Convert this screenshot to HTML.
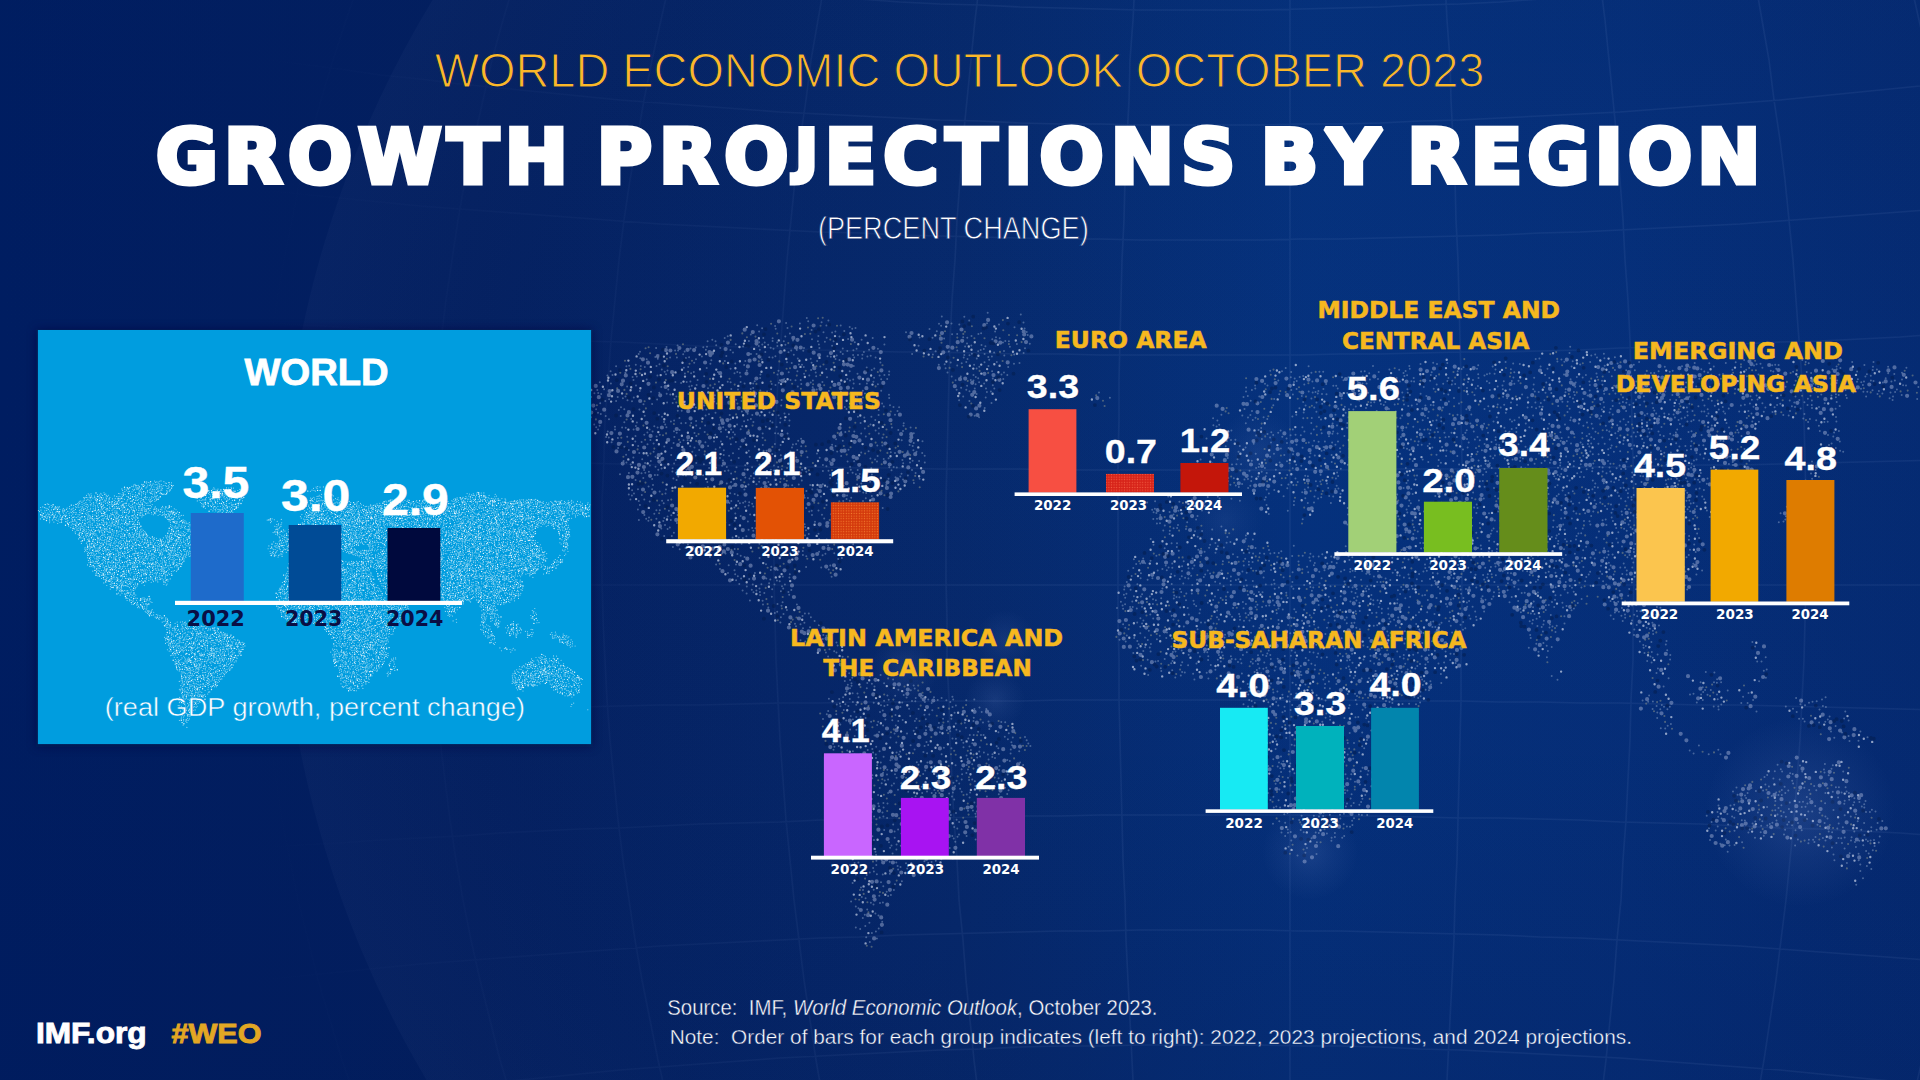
<!DOCTYPE html>
<html lang="en"><head><meta charset="utf-8"><title>Growth Projections by Region</title>
<style>html,body{margin:0;padding:0;background:#05246a;}body{width:1920px;height:1080px;overflow:hidden}svg{display:block}text{white-space:pre}</style>
</head><body>
<svg width="1920" height="1080" viewBox="0 0 1920 1080" font-family="Liberation Sans, sans-serif">
<defs>
<linearGradient id="bgu" gradientUnits="userSpaceOnUse" x1="0" y1="0" x2="1920" y2="0"><stop offset="0" stop-color="#001d61"/><stop offset="0.25" stop-color="#031f5f"/><stop offset="0.5" stop-color="#06296c"/><stop offset="0.68" stop-color="#05327e"/><stop offset="0.85" stop-color="#052f7a"/><stop offset="1" stop-color="#042a72"/></linearGradient>
<linearGradient id="bgv" gradientUnits="userSpaceOnUse" x1="0" y1="0" x2="0" y2="1080">
<stop offset="0" stop-color="#00205f" stop-opacity="0.12"/><stop offset="0.35" stop-color="#00205f" stop-opacity="0"/><stop offset="0.7" stop-color="#011a58" stop-opacity="0.1"/><stop offset="1" stop-color="#011a58" stop-opacity="0.3"/>
</linearGradient>
<radialGradient id="globe" gradientUnits="userSpaceOnUse" cx="1330" cy="545" r="1050">
<stop offset="0" stop-color="#3a5a9a" stop-opacity="0"/><stop offset="0.8" stop-color="#3a5a9a" stop-opacity="0.03"/><stop offset="1" stop-color="#4a639a" stop-opacity="0.075"/>
</radialGradient>
<radialGradient id="glow"><stop offset="0" stop-color="#8fa8e8" stop-opacity="1"/><stop offset="0.5" stop-color="#8fa8e8" stop-opacity="0.45"/><stop offset="1" stop-color="#8fa8e8" stop-opacity="0"/></radialGradient>
<pattern id="dp1" width="2.6" height="2.6" patternUnits="userSpaceOnUse"><rect width="2.6" height="2.6" fill="#D43A0D"/><circle cx="1.3" cy="1.3" r="0.62" fill="#F27A2C"/></pattern>
<pattern id="dp2" width="2.6" height="2.6" patternUnits="userSpaceOnUse"><rect width="2.6" height="2.6" fill="#D7241A"/><circle cx="1.3" cy="1.3" r="0.62" fill="#F25A40"/></pattern>
<filter id="bsh" x="-10%" y="-10%" width="120%" height="120%"><feGaussianBlur stdDeviation="5"/></filter>
<linearGradient id="gratfade" gradientUnits="userSpaceOnUse" x1="250" y1="0" x2="1000" y2="0">
<stop offset="0" stop-color="#9fb6e8" stop-opacity="0"/><stop offset="1" stop-color="#9fb6e8" stop-opacity="0.075"/>
</linearGradient>
<clipPath id="tclip"><rect x="0" y="100" width="1920" height="86.4"/></clipPath>
</defs>
<rect width="1920" height="1080" fill="url(#bgu)"/>
<rect width="1920" height="1080" fill="url(#bgv)"/>
<circle cx="1330" cy="545" r="1050" fill="url(#globe)"/>
<path d="M50 -20 L31 20 L14 60 L-2 100 L-16 140 L-29 180 L-41 220 L-52 260 L-61 300 L-68 340 L-74 380 L-79 420 L-83 460 L-85 500 L-86 540 L-85 580 L-84 620 L-80 660 L-76 700 L-70 740 L-63 780 L-54 820 L-44 860 L-32 900 L-20 940 L-6 980 L10 1020 L27 1060 L45 1100M205 -20 L188 20 L173 60 L160 100 L147 140 L136 180 L125 220 L116 260 L108 300 L102 340 L96 380 L92 420 L89 460 L87 500 L86 540 L86 580 L88 620 L91 660 L95 700 L100 740 L107 780 L114 820 L123 860 L133 900 L144 940 L156 980 L170 1020 L185 1060 L200 1100M360 -20 L346 20 L333 60 L321 100 L310 140 L300 180 L292 220 L284 260 L277 300 L271 340 L267 380 L263 420 L260 460 L259 500 L258 540 L258 580 L260 620 L262 660 L266 700 L270 740 L276 780 L282 820 L290 860 L298 900 L308 940 L318 980 L330 1020 L342 1060 L356 1100M515 -20 L503 20 L492 60 L483 100 L474 140 L465 180 L458 220 L452 260 L446 300 L441 340 L437 380 L434 420 L432 460 L431 500 L430 540 L430 580 L431 620 L434 660 L436 700 L440 740 L445 780 L450 820 L456 860 L463 900 L471 940 L480 980 L490 1020 L500 1060 L512 1100M670 -20 L661 20 L652 60 L644 100 L637 140 L630 180 L624 220 L619 260 L615 300 L611 340 L608 380 L605 420 L604 460 L602 500 L602 540 L602 580 L603 620 L605 660 L607 700 L610 740 L614 780 L618 820 L623 860 L629 900 L635 940 L642 980 L650 1020 L658 1060 L667 1100M825 -20 L818 20 L811 60 L806 100 L800 140 L795 180 L791 220 L787 260 L784 300 L781 340 L778 380 L776 420 L775 460 L774 500 L774 540 L774 580 L775 620 L776 660 L778 700 L780 740 L783 780 L786 820 L790 860 L794 900 L799 940 L804 980 L810 1020 L816 1060 L823 1100M980 -20 L975 20 L971 60 L967 100 L963 140 L960 180 L957 220 L955 260 L952 300 L950 340 L949 380 L948 420 L947 460 L946 500 L946 540 L946 580 L947 620 L947 660 L949 700 L950 740 L952 780 L954 820 L957 860 L959 900 L963 940 L966 980 L970 1020 L974 1060 L979 1100M1135 -20 L1133 20 L1130 60 L1129 100 L1127 140 L1125 180 L1124 220 L1122 260 L1121 300 L1120 340 L1119 380 L1119 420 L1118 460 L1118 500 L1118 540 L1118 580 L1118 620 L1119 660 L1119 700 L1120 740 L1121 780 L1122 820 L1123 860 L1125 900 L1126 940 L1128 980 L1130 1020 L1132 1060 L1134 1100M1290 -20 L1290 20 L1290 60 L1290 100 L1290 140 L1290 180 L1290 220 L1290 260 L1290 300 L1290 340 L1290 380 L1290 420 L1290 460 L1290 500 L1290 540 L1290 580 L1290 620 L1290 660 L1290 700 L1290 740 L1290 780 L1290 820 L1290 860 L1290 900 L1290 940 L1290 980 L1290 1020 L1290 1060 L1290 1100M1445 -20 L1447 20 L1450 60 L1451 100 L1453 140 L1455 180 L1456 220 L1458 260 L1459 300 L1460 340 L1461 380 L1461 420 L1462 460 L1462 500 L1462 540 L1462 580 L1462 620 L1461 660 L1461 700 L1460 740 L1459 780 L1458 820 L1457 860 L1455 900 L1454 940 L1452 980 L1450 1020 L1448 1060 L1446 1100M1600 -20 L1605 20 L1609 60 L1613 100 L1617 140 L1620 180 L1623 220 L1625 260 L1628 300 L1630 340 L1631 380 L1632 420 L1633 460 L1634 500 L1634 540 L1634 580 L1633 620 L1633 660 L1631 700 L1630 740 L1628 780 L1626 820 L1623 860 L1621 900 L1617 940 L1614 980 L1610 1020 L1606 1060 L1601 1100M1755 -20 L1762 20 L1769 60 L1774 100 L1780 140 L1785 180 L1789 220 L1793 260 L1796 300 L1799 340 L1802 380 L1804 420 L1805 460 L1806 500 L1806 540 L1806 580 L1805 620 L1804 660 L1802 700 L1800 740 L1797 780 L1794 820 L1790 860 L1786 900 L1781 940 L1776 980 L1770 1020 L1764 1060 L1757 1100M1910 -20 L1919 20 L1928 60 L1936 100 L1943 140 L1950 180 L1956 220 L1961 260 L1965 300 L1969 340 L1972 380 L1975 420 L1976 460 L1978 500 L1978 540 L1978 580 L1977 620 L1975 660 L1973 700 L1970 740 L1966 780 L1962 820 L1957 860 L1951 900 L1945 940 L1938 980 L1930 1020 L1922 1060 L1913 1100M-20 -130 L20 -121 L60 -112 L100 -104 L140 -95 L180 -88 L220 -80 L260 -73 L300 -66 L340 -59 L380 -53 L420 -47 L460 -41 L500 -36 L540 -31 L580 -26 L620 -22 L660 -17 L700 -13 L740 -10 L780 -7 L820 -4 L860 -1 L900 2 L940 4 L980 5 L1020 7 L1060 8 L1100 9 L1140 10 L1180 10 L1220 10 L1260 10 L1300 9 L1340 8 L1380 7 L1420 5 L1460 4 L1500 2 L1540 -1 L1580 -4 L1620 -7 L1660 -10 L1700 -13 L1740 -17 L1780 -22 L1820 -26 L1860 -31 L1900 -36 L1940 -41M-20 13 L20 20 L60 27 L100 34 L140 41 L180 47 L220 53 L260 59 L300 64 L340 69 L380 75 L420 79 L460 84 L500 88 L540 92 L580 96 L620 100 L660 103 L700 106 L740 109 L780 112 L820 114 L860 116 L900 118 L940 120 L980 121 L1020 123 L1060 124 L1100 124 L1140 125 L1180 125 L1220 125 L1260 125 L1300 124 L1340 124 L1380 123 L1420 121 L1460 120 L1500 118 L1540 116 L1580 114 L1620 112 L1660 109 L1700 106 L1740 103 L1780 100 L1820 96 L1860 92 L1900 88 L1940 84M-20 156 L20 162 L60 167 L100 172 L140 177 L180 181 L220 186 L260 190 L300 194 L340 198 L380 202 L420 206 L460 209 L500 212 L540 215 L580 218 L620 221 L660 224 L700 226 L740 228 L780 230 L820 232 L860 233 L900 235 L940 236 L980 237 L1020 238 L1060 239 L1100 239 L1140 240 L1180 240 L1220 240 L1260 240 L1300 239 L1340 239 L1380 238 L1420 237 L1460 236 L1500 235 L1540 233 L1580 232 L1620 230 L1660 228 L1700 226 L1740 224 L1780 221 L1820 218 L1860 215 L1900 212 L1940 209M-20 299 L20 303 L60 306 L100 310 L140 313 L180 316 L220 319 L260 322 L300 325 L340 327 L380 330 L420 332 L460 334 L500 337 L540 339 L580 341 L620 342 L660 344 L700 346 L740 347 L780 348 L820 350 L860 351 L900 352 L940 352 L980 353 L1020 354 L1060 354 L1100 355 L1140 355 L1180 355 L1220 355 L1260 355 L1300 355 L1340 354 L1380 354 L1420 353 L1460 352 L1500 352 L1540 351 L1580 350 L1620 348 L1660 347 L1700 346 L1740 344 L1780 342 L1820 341 L1860 339 L1900 337 L1940 334M-20 442 L20 444 L60 446 L100 447 L140 449 L180 450 L220 452 L260 453 L300 455 L340 456 L380 457 L420 459 L460 460 L500 461 L540 462 L580 463 L620 464 L660 465 L700 465 L740 466 L780 467 L820 467 L860 468 L900 468 L940 469 L980 469 L1020 469 L1060 470 L1100 470 L1140 470 L1180 470 L1220 470 L1260 470 L1300 470 L1340 470 L1380 469 L1420 469 L1460 469 L1500 468 L1540 468 L1580 467 L1620 467 L1660 466 L1700 465 L1740 465 L1780 464 L1820 463 L1860 462 L1900 461 L1940 460M-20 585 L20 585 L60 585 L100 585 L140 585 L180 585 L220 585 L260 585 L300 585 L340 585 L380 585 L420 585 L460 585 L500 585 L540 585 L580 585 L620 585 L660 585 L700 585 L740 585 L780 585 L820 585 L860 585 L900 585 L940 585 L980 585 L1020 585 L1060 585 L1100 585 L1140 585 L1180 585 L1220 585 L1260 585 L1300 585 L1340 585 L1380 585 L1420 585 L1460 585 L1500 585 L1540 585 L1580 585 L1620 585 L1660 585 L1700 585 L1740 585 L1780 585 L1820 585 L1860 585 L1900 585 L1940 585M-20 728 L20 726 L60 724 L100 723 L140 721 L180 720 L220 718 L260 717 L300 715 L340 714 L380 713 L420 711 L460 710 L500 709 L540 708 L580 707 L620 706 L660 705 L700 705 L740 704 L780 703 L820 703 L860 702 L900 702 L940 701 L980 701 L1020 701 L1060 700 L1100 700 L1140 700 L1180 700 L1220 700 L1260 700 L1300 700 L1340 700 L1380 701 L1420 701 L1460 701 L1500 702 L1540 702 L1580 703 L1620 703 L1660 704 L1700 705 L1740 705 L1780 706 L1820 707 L1860 708 L1900 709 L1940 710M-20 871 L20 867 L60 864 L100 860 L140 857 L180 854 L220 851 L260 848 L300 845 L340 843 L380 840 L420 838 L460 836 L500 833 L540 831 L580 829 L620 828 L660 826 L700 824 L740 823 L780 822 L820 820 L860 819 L900 818 L940 818 L980 817 L1020 816 L1060 816 L1100 815 L1140 815 L1180 815 L1220 815 L1260 815 L1300 815 L1340 816 L1380 816 L1420 817 L1460 818 L1500 818 L1540 819 L1580 820 L1620 822 L1660 823 L1700 824 L1740 826 L1780 828 L1820 829 L1860 831 L1900 833 L1940 836M-20 1014 L20 1008 L60 1003 L100 998 L140 993 L180 989 L220 984 L260 980 L300 976 L340 972 L380 968 L420 964 L460 961 L500 958 L540 955 L580 952 L620 949 L660 946 L700 944 L740 942 L780 940 L820 938 L860 937 L900 935 L940 934 L980 933 L1020 932 L1060 931 L1100 931 L1140 930 L1180 930 L1220 930 L1260 930 L1300 931 L1340 931 L1380 932 L1420 933 L1460 934 L1500 935 L1540 937 L1580 938 L1620 940 L1660 942 L1700 944 L1740 946 L1780 949 L1820 952 L1860 955 L1900 958 L1940 961M-20 1157 L20 1150 L60 1143 L100 1136 L140 1129 L180 1123 L220 1117 L260 1111 L300 1106 L340 1101 L380 1095 L420 1091 L460 1086 L500 1082 L540 1078 L580 1074 L620 1070 L660 1067 L700 1064 L740 1061 L780 1058 L820 1056 L860 1054 L900 1052 L940 1050 L980 1049 L1020 1047 L1060 1046 L1100 1046 L1140 1045 L1180 1045 L1220 1045 L1260 1045 L1300 1046 L1340 1046 L1380 1047 L1420 1049 L1460 1050 L1500 1052 L1540 1054 L1580 1056 L1620 1058 L1660 1061 L1700 1064 L1740 1067 L1780 1070 L1820 1074 L1860 1078 L1900 1082 L1940 1086" fill="none" stroke="url(#gratfade)" stroke-width="1.6"/>
<g fill="none" stroke-linecap="round">
<path stroke="#8FA6C8" stroke-opacity="0.48" stroke-width="2.0" d="M1206.5 438.5h0M789.9 333.5h0M801.0 536.2h0M696.9 536.2h0M849.7 326.9h0M674.5 398.9h0M881.2 379.3h0M857.9 416.8h0M716.1 467.7h0M780.1 422.6h0M622.1 427.4h0M690.3 389.6h0M717.3 491.0h0M676.7 432.8h0M779.3 449.8h0M840.9 660.9h0M696.3 463.0h0M778.6 415.3h0M738.7 457.9h0M738.8 537.4h0M868.4 522.0h0M734.1 401.5h0M675.8 472.8h0M919.1 460.9h0M804.9 613.6h0M771.7 384.0h0M675.4 381.9h0M842.9 516.9h0M683.2 465.4h0M627.1 386.6h0M708.0 388.3h0M784.9 584.5h0M807.9 498.0h0M801.8 480.5h0M820.3 366.4h0M822.0 514.8h0M697.6 511.8h0M731.3 388.9h0M726.8 467.0h0M640.0 351.7h0M792.9 444.5h0M910.6 427.6h0M714.2 401.4h0M826.4 325.4h0M800.5 640.3h0M772.6 357.5h0M790.2 553.2h0M761.3 487.8h0M688.2 495.3h0M638.2 446.0h0M720.3 348.0h0M850.1 466.8h0M596.2 427.2h0M760.1 378.0h0M720.9 441.5h0M715.5 412.8h0M764.3 467.2h0M861.3 483.5h0M825.9 652.5h0M697.7 506.4h0M756.4 590.4h0M701.9 356.4h0M853.4 526.3h0M724.6 513.7h0M847.3 351.1h0M746.8 586.5h0M708.2 454.1h0M778.5 370.8h0M759.5 588.4h0M903.0 479.4h0M750.9 476.1h0M755.5 528.2h0M792.0 447.6h0M721.0 431.8h0M903.2 463.2h0M872.7 338.0h0M624.3 409.3h0M685.9 357.9h0M811.2 541.2h0M706.4 515.5h0M835.6 446.0h0M775.4 356.3h0M707.6 341.3h0M763.2 532.5h0M862.3 480.8h0M644.1 470.0h0M705.2 488.3h0M685.9 475.6h0M676.6 480.0h0M762.5 523.1h0M775.1 326.1h0M699.2 450.1h0M736.1 580.3h0M821.6 322.3h0M723.0 460.5h0M740.8 480.0h0M656.5 365.9h0M729.5 525.1h0M882.7 507.9h0M766.5 450.8h0M789.9 401.0h0M722.1 553.6h0M806.0 530.3h0M791.7 363.1h0M780.6 445.1h0M847.3 379.1h0M714.3 398.8h0M837.6 645.5h0M600.2 403.3h0M735.2 574.2h0M913.8 433.3h0M796.3 631.3h0M702.7 409.7h0M753.3 530.8h0M826.7 539.5h0M733.0 352.6h0M826.5 635.8h0M836.4 532.0h0M822.4 382.0h0M795.1 547.2h0M803.0 533.0h0M777.2 342.6h0M878.9 428.3h0M883.8 406.6h0M683.2 354.3h0M686.7 382.0h0M633.5 379.9h0M664.0 422.1h0M647.9 455.6h0M891.5 470.3h0M735.8 542.7h0M876.6 487.3h0M723.7 454.9h0M870.1 481.7h0M804.1 373.8h0M679.3 396.7h0M784.3 487.7h0M779.7 581.2h0M843.7 663.8h0M780.6 418.3h0M772.3 454.1h0M761.7 359.6h0M763.7 499.5h0M823.3 635.0h0M913.4 450.2h0M605.7 416.1h0M895.0 414.7h0M850.1 680.0h0M690.4 482.8h0M793.8 354.8h0M772.2 589.2h0M728.0 572.9h0M672.7 403.1h0M762.3 344.5h0M667.5 370.5h0M676.9 523.1h0M857.1 484.4h0M649.6 429.5h0M867.4 476.7h0M658.8 414.7h0M873.4 381.7h0M692.1 527.6h0M739.9 503.3h0M659.7 491.4h0M916.5 451.8h0M715.6 505.2h0M910.0 462.5h0M785.3 336.6h0M830.0 475.1h0M677.6 345.5h0M666.7 393.8h0M744.6 556.9h0M852.6 533.1h0M683.1 474.9h0M798.2 440.8h0M667.1 402.4h0M666.0 489.4h0M772.6 340.9h0M856.4 491.3h0M689.9 514.6h0M858.2 508.0h0M714.0 441.4h0M644.8 366.9h0M677.8 410.8h0M704.7 432.1h0M820.9 496.6h0M753.9 478.3h0M706.4 492.7h0M713.1 387.7h0M679.8 458.7h0M621.2 442.9h0M803.3 350.8h0M678.8 495.0h0M861.6 339.8h0M802.9 555.1h0M718.9 381.7h0M616.1 401.1h0M757.2 472.7h0M893.7 467.0h0M644.3 434.8h0M853.2 544.2h0M907.9 475.4h0M653.6 443.6h0M833.0 632.9h0M632.0 401.2h0M745.3 501.4h0M827.0 377.3h0M725.3 522.6h0M866.2 493.0h0M749.2 578.9h0M826.4 466.2h0M681.2 423.2h0M831.2 514.2h0M913.7 443.0h0M640.3 358.3h0M696.1 421.1h0M670.1 357.6h0M806.4 491.0h0M808.2 321.3h0M718.9 537.6h0M830.8 356.7h0M828.9 390.9h0M837.9 479.4h0M659.5 364.3h0M821.2 567.5h0M672.6 468.3h0M783.5 613.9h0M745.2 465.3h0M812.0 339.2h0M668.1 500.2h0M841.9 558.1h0M924.8 462.6h0M882.5 437.8h0M788.7 372.2h0M884.4 344.6h0M678.3 476.4h0M626.4 462.5h0M793.2 551.5h0M591.1 417.3h0M673.4 478.6h0M708.5 539.9h0M828.1 656.4h0M812.3 489.2h0M846.6 499.1h0M876.8 515.6h0M750.9 418.9h0M675.1 350.4h0M815.0 521.8h0M729.1 455.8h0M781.5 605.7h0M657.8 358.7h0M608.8 437.5h0M801.3 384.1h0M746.8 370.5h0M659.8 434.8h0M680.2 442.3h0M647.5 444.2h0M596.1 409.2h0M832.1 444.7h0M661.3 528.4h0M731.1 473.4h0M817.9 341.2h0M668.9 510.7h0M628.8 450.0h0M719.7 401.8h0M789.2 503.4h0M780.8 455.3h0M774.9 444.0h0M847.0 495.4h0M836.1 439.3h0M667.6 516.6h0M786.9 609.9h0M727.0 436.8h0M801.0 473.1h0M747.8 420.1h0M807.6 638.8h0M627.2 436.7h0M630.7 464.4h0M695.7 455.6h0M903.7 423.2h0M753.8 473.2h0M868.6 451.2h0M846.5 409.1h0M758.8 346.1h0M624.4 446.7h0M819.1 539.0h0M712.3 469.5h0M815.7 372.4h0M871.8 496.0h0M867.5 473.3h0M762.6 600.8h0M663.7 503.3h0M756.0 537.9h0M856.8 404.6h0M598.1 429.4h0M912.0 470.0h0M785.6 454.6h0M882.4 445.4h0M802.1 469.8h0M835.5 358.9h0M670.9 421.5h0M768.2 344.7h0M759.1 481.8h0M643.3 478.1h0M787.0 362.2h0M711.0 510.6h0M852.6 408.0h0M739.7 540.2h0M800.7 380.1h0M600.8 414.0h0M638.0 489.2h0M690.5 348.6h0M877.3 445.6h0M744.6 394.2h0M839.5 360.0h0M781.6 400.1h0M688.6 465.7h0M653.0 484.9h0M825.4 553.7h0M685.2 529.6h0M805.2 641.5h0M745.3 477.5h0M750.8 334.6h0M752.8 584.6h0M791.2 350.5h0M865.0 393.4h0M828.5 470.8h0M768.4 481.9h0M762.8 445.0h0M890.0 405.2h0M628.9 473.0h0M716.1 564.4h0M696.2 425.6h0M679.5 430.0h0M605.3 400.9h0M863.1 506.4h0M679.6 533.3h0M732.9 485.9h0M759.1 331.4h0M665.0 524.9h0M725.8 429.8h0M692.9 407.2h0M767.1 391.5h0M756.5 484.3h0M674.3 436.9h0M646.7 379.4h0M771.4 523.8h0M738.8 449.1h0M708.0 487.0h0M769.5 412.4h0M635.8 364.8h0M625.4 372.8h0M771.3 566.8h0M785.8 552.7h0M763.0 604.5h0M691.2 423.0h0M688.2 367.1h0M688.7 527.0h0M673.6 443.1h0M610.9 383.6h0M861.2 452.4h0M877.0 461.5h0M740.6 382.1h0M765.3 352.0h0M903.0 431.1h0M610.6 371.2h0M723.8 498.1h0M694.2 362.7h0M666.4 427.3h0M745.2 438.3h0M659.8 510.2h0M854.2 357.4h0M748.5 484.6h0M720.0 568.9h0M710.0 556.8h0M879.6 375.5h0M686.5 469.7h0M824.9 341.7h0M652.1 404.1h0M819.7 457.8h0M742.9 538.0h0M759.7 406.9h0M862.8 390.8h0M778.9 382.7h0M841.9 524.4h0M770.7 460.9h0M751.0 354.1h0M771.1 553.2h0M871.0 400.0h0M716.9 553.7h0M793.9 541.2h0M849.7 371.2h0M840.7 325.4h0M708.1 446.1h0M743.1 346.4h0M677.6 515.0h0M774.8 612.9h0M839.5 336.6h0M724.9 471.0h0M639.4 409.6h0M734.9 434.4h0M690.2 446.2h0M866.7 367.5h0M787.5 328.1h0M727.7 336.3h0M852.2 328.8h0M704.3 405.5h0M707.3 481.9h0M811.1 369.9h0M689.3 386.6h0M703.9 464.3h0M770.7 347.7h0M832.5 659.2h0M801.2 446.3h0M770.3 579.6h0M828.7 569.4h0M668.3 389.6h0M796.1 444.1h0M784.6 471.4h0M692.6 394.0h0M752.1 467.3h0M617.7 397.1h0M722.1 465.7h0M862.2 358.5h0M828.4 320.6h0M753.2 383.6h0M842.8 353.9h0M896.8 467.6h0M893.5 406.9h0M651.0 391.7h0M599.8 382.2h0M789.2 425.7h0M838.9 548.4h0M690.7 534.7h0M684.5 536.3h0M853.4 350.3h0M757.3 456.4h0M753.4 422.1h0M858.0 355.0h0M806.2 508.1h0M776.9 580.6h0M864.3 417.4h0M766.5 507.0h0M762.1 328.3h0M796.8 350.1h0M855.9 474.2h0M784.2 379.0h0M844.8 407.0h0M687.9 544.6h0M822.6 555.2h0M859.7 473.9h0M833.2 450.2h0M884.4 375.0h0M828.1 545.4h0M830.7 489.5h0M710.4 363.8h0M705.1 425.6h0M684.3 522.5h0M816.7 389.6h0M773.5 348.7h0M672.9 546.9h0M740.5 376.6h0M847.6 461.5h0M681.7 410.8h0M760.5 374.5h0M780.6 478.7h0M737.8 576.3h0M778.1 433.4h0M671.8 535.9h0M889.0 374.8h0M811.7 510.7h0M824.2 518.6h0M777.7 570.1h0M683.2 542.8h0M652.1 489.2h0M769.1 583.3h0M817.5 489.5h0M875.6 357.6h0M771.8 596.8h0M630.4 499.6h0M626.1 454.7h0M690.2 471.3h0M737.4 554.0h0M759.9 592.1h0M644.4 515.1h0M627.5 400.2h0M698.6 409.3h0M888.5 478.8h0M723.8 450.3h0M762.7 433.5h0M765.7 527.0h0M742.2 426.2h0M752.2 528.1h0M684.9 373.4h0M638.8 500.9h0M641.8 494.9h0M654.9 474.9h0M750.1 514.5h0M696.6 385.1h0M746.5 405.5h0M780.4 622.6h0M749.7 456.8h0M798.8 484.4h0M670.8 519.9h0M704.2 376.3h0M693.8 371.9h0M860.7 399.0h0M705.9 349.7h0M883.7 458.9h0M827.5 356.2h0M760.1 454.8h0M758.7 495.4h0M829.7 461.4h0M652.6 431.5h0M794.9 474.3h0M863.0 501.0h0M769.0 535.7h0M816.2 376.2h0M652.2 479.1h0M726.3 355.9h0M850.8 469.8h0M684.7 351.4h0M752.2 503.8h0M676.3 396.6h0M882.1 403.4h0M659.4 505.2h0M763.4 508.3h0M859.7 384.0h0M703.3 347.3h0M635.6 480.1h0M674.0 431.2h0M898.3 430.1h0M810.9 617.3h0M887.2 378.9h0M671.3 515.3h0M870.4 458.5h0M782.8 576.6h0M851.1 542.2h0M731.0 481.9h0M800.5 624.3h0M624.3 422.2h0M733.0 453.3h0M685.5 548.1h0M852.6 472.8h0M737.3 371.9h0M695.3 551.6h0M789.2 594.8h0M889.3 467.2h0M839.4 476.5h0M738.3 501.1h0M757.3 460.4h0M775.1 433.2h0M901.5 473.8h0M797.3 449.9h0M804.7 497.7h0M643.5 404.2h0M598.0 412.8h0M622.9 398.3h0M710.5 405.6h0M810.7 358.8h0M754.9 521.0h0M626.4 366.2h0M648.6 486.4h0M734.5 570.3h0M748.8 450.7h0M853.1 354.9h0M646.7 359.3h0M818.5 533.8h0M635.3 441.4h0M766.0 564.3h0M812.7 387.3h0M826.3 369.1h0M763.6 450.8h0M726.8 483.4h0M757.2 325.3h0M733.2 432.3h0M877.6 456.1h0M842.2 546.2h0M781.8 469.3h0M836.5 652.6h0M609.0 419.2h0M855.7 399.1h0M877.9 471.5h0M728.7 565.3h0M875.0 459.4h0M870.5 424.5h0M752.0 406.6h0M686.1 513.9h0M835.4 331.5h0M824.4 631.2h0M700.1 428.2h0M797.8 358.5h0M741.6 543.7h0M793.0 340.6h0M769.3 357.2h0M767.4 501.7h0M662.0 416.7h0M870.1 506.0h0M681.3 506.6h0M804.0 347.9h0M810.7 638.5h0M770.2 421.1h0M848.1 539.6h0M721.6 490.2h0M688.4 510.2h0M922.2 452.9h0M912.6 460.7h0M759.2 342.3h0M810.0 627.2h0M637.9 509.6h0M802.5 616.1h0M865.8 498.3h0M841.2 431.9h0M789.5 420.5h0M871.9 474.5h0M864.9 428.4h0M890.8 452.2h0M811.6 362.8h0M659.3 392.8h0M691.1 373.3h0M842.6 656.7h0M919.6 478.8h0M797.8 386.4h0M742.6 590.4h0M639.9 505.1h0M654.3 513.8h0M888.6 458.2h0M924.7 455.8h0M833.6 341.3h0M736.0 564.6h0M729.7 415.1h0M795.5 380.3h0M817.1 361.0h0M657.1 399.5h0M766.7 478.1h0M709.5 526.9h0M860.6 423.1h0M764.3 593.1h0M745.3 540.9h0M809.3 375.4h0M734.5 373.2h0M704.6 454.6h0M716.2 493.9h0M783.8 341.2h0M786.8 475.7h0M657.6 475.0h0M866.9 383.4h0M760.1 595.1h0M739.2 392.5h0M722.4 508.8h0M808.8 533.9h0M683.5 440.2h0M881.2 390.7h0M712.3 339.8h0M689.1 357.2h0M648.4 520.7h0M678.1 350.6h0M750.8 389.1h0M859.7 520.1h0M711.2 535.5h0M768.3 607.6h0M770.8 570.1h0M912.7 446.0h0M777.5 604.0h0M822.9 470.9h0M793.6 533.4h0M759.8 349.8h0M604.1 389.2h0M705.6 415.6h0M623.6 460.9h0M761.4 584.2h0M831.6 576.7h0M840.6 408.6h0M922.5 441.3h0M706.4 409.6h0M648.9 471.7h0M741.9 411.5h0M824.1 541.5h0M715.7 472.2h0M640.8 365.9h0M814.6 621.1h0M853.2 404.5h0M735.7 344.2h0M765.5 535.2h0M880.4 362.4h0M776.9 551.4h0M656.4 518.8h0M664.3 518.0h0M760.3 390.6h0M778.2 466.9h0M837.2 451.5h0M788.9 414.2h0M753.3 506.6h0M631.9 495.6h0M686.8 457.6h0M740.7 515.9h0M874.1 377.7h0M715.5 341.3h0M772.4 422.6h0M782.0 586.2h0M764.7 342.4h0M855.7 515.8h0M657.4 375.5h0M833.8 502.9h0M844.3 331.1h0M779.8 380.2h0M746.4 536.2h0M715.8 458.0h0M706.7 367.9h0M759.4 543.8h0M599.6 425.8h0M684.4 504.2h0M819.4 348.1h0M826.5 504.9h0M725.2 508.1h0M771.1 389.2h0M772.6 533.0h0M747.9 521.4h0M855.2 507.6h0M715.6 449.3h0M667.6 529.0h0M812.9 380.6h0M612.5 375.1h0M633.8 397.4h0M878.8 433.5h0M739.3 583.9h0M806.8 318.1h0M786.1 323.0h0M719.3 424.8h0M847.8 472.9h0M748.6 529.7h0M875.6 430.5h0M843.7 485.7h0M848.4 667.8h0M772.6 338.3h0M752.3 414.9h0M597.3 390.0h0M840.6 351.9h0M841.9 676.2h0M849.2 673.2h0M649.9 465.6h0M871.3 468.3h0M748.9 401.2h0M633.4 457.6h0M827.3 486.8h0M644.7 415.7h0M719.8 517.3h0M679.4 418.0h0M796.1 523.7h0M818.4 336.0h0M788.0 490.5h0M741.5 400.9h0M819.1 551.7h0M636.9 422.6h0M688.0 500.7h0M889.2 398.1h0M780.9 591.2h0M748.9 341.1h0M863.3 492.6h0M694.5 447.4h0M867.7 519.3h0M730.4 350.0h0M746.6 593.4h0M816.2 639.4h0M716.2 345.2h0M796.9 604.6h0M649.0 517.6h0M832.1 539.8h0M867.4 398.9h0M759.7 415.6h0M867.4 356.6h0M842.8 440.8h0M697.6 379.9h0M804.6 524.3h0M664.2 535.9h0M618.1 448.1h0M806.3 556.2h0M725.5 553.6h0M792.5 491.2h0M782.6 602.2h0M802.1 489.5h0M615.0 429.5h0M784.5 413.5h0M801.1 438.8h0M857.7 470.1h0M661.8 369.6h0M656.4 510.2h0M845.3 432.1h0M617.9 437.9h0M891.9 427.4h0M791.3 589.9h0M818.5 510.4h0M731.1 429.5h0M763.1 458.4h0M870.7 355.8h0M754.9 446.4h0M768.9 487.9h0M857.4 511.9h0M737.1 424.6h0M655.3 357.1h0M644.3 499.4h0M818.9 344.5h0M737.8 495.3h0M849.8 500.8h0M661.3 387.1h0M676.9 357.4h0M656.1 347.9h0M792.2 485.3h0M703.1 475.2h0M774.0 465.4h0M591.2 397.0h0M745.3 361.1h0M730.9 444.3h0M784.2 438.8h0M874.3 368.5h0M854.1 461.2h0M836.7 355.5h0M826.7 337.8h0M732.6 437.4h0M869.1 349.7h0M834.3 553.3h0M740.7 429.2h0M611.6 442.3h0M732.6 537.4h0M913.9 483.0h0M744.6 383.5h0M625.7 427.7h0M730.6 382.3h0M870.2 512.2h0M740.5 446.8h0M655.5 466.7h0M654.3 426.2h0M709.0 522.8h0M790.4 451.5h0M861.2 433.6h0M790.5 379.9h0M832.1 332.5h0M866.6 509.0h0M775.5 384.9h0M658.3 469.8h0M711.3 360.2h0M720.5 511.5h0M674.1 420.5h0M729.4 503.0h0M778.6 489.4h0M744.1 421.2h0M739.9 372.8h0M817.0 453.6h0M598.2 392.9h0M897.5 411.0h0M661.6 468.5h0M872.9 405.6h0M804.4 622.8h0M730.6 368.7h0M775.7 328.7h0M645.1 462.9h0M889.2 371.6h0M744.4 489.4h0M803.8 367.1h0M802.0 364.7h0M788.8 456.6h0M759.6 558.0h0M878.3 485.0h0M730.2 493.3h0M715.3 434.7h0M645.3 472.8h0M907.7 451.3h0M699.5 444.6h0M607.4 375.4h0M687.0 463.3h0M832.1 345.7h0M784.8 420.2h0M754.9 573.1h0M594.4 393.2h0M867.0 503.9h0M749.2 502.2h0M822.9 465.0h0M705.4 442.2h0M875.3 419.9h0M753.5 592.2h0M687.6 440.2h0M674.1 463.5h0M843.2 501.1h0M822.8 639.1h0M855.5 328.1h0M672.4 471.6h0M666.0 374.2h0M770.8 401.4h0M620.0 474.2h0M848.5 449.7h0M664.7 371.7h0M735.3 513.6h0M806.3 471.7h0M854.3 431.6h0M685.2 510.4h0M781.2 405.5h0M836.7 483.3h0M915.6 473.1h0M635.9 426.0h0M639.3 452.9h0M632.6 376.9h0M859.8 491.3h0M809.2 511.5h0M665.2 424.6h0M675.8 460.1h0M639.8 391.0h0M850.0 380.4h0M653.6 451.8h0M770.9 469.7h0M741.1 578.6h0M749.9 600.4h0M895.5 477.3h0M662.1 500.7h0M877.9 348.8h0M796.3 457.5h0M859.1 526.2h0M889.0 394.7h0M679.7 549.3h0M690.4 381.6h0M834.9 537.0h0M736.5 467.2h0M789.8 574.2h0M615.0 426.7h0M779.3 508.7h0M655.5 456.8h0M818.9 625.2h0M724.8 361.1h0M862.3 518.5h0M766.3 578.5h0M865.8 436.6h0M863.9 351.9h0M636.0 385.4h0M709.0 414.2h0M714.6 515.7h0M713.1 472.5h0M719.5 530.8h0M606.1 437.1h0M902.4 460.0h0M749.5 478.5h0M707.7 547.7h0M650.4 440.1h0M635.5 436.0h0M744.8 469.4h0M853.7 383.6h0M802.8 551.1h0M720.0 458.1h0M681.1 383.1h0M616.1 366.3h0M783.2 588.6h0M878.7 409.9h0M751.8 589.7h0M899.1 407.3h0M846.3 548.7h0M735.9 441.9h0M634.0 493.4h0M784.9 542.6h0M677.4 470.1h0M823.5 332.2h0M733.1 406.0h0M625.5 396.6h0M641.6 442.1h0M731.3 501.1h0M820.1 639.8h0M703.7 527.1h0M620.7 416.1h0M878.6 415.0h0M669.8 527.4h0M723.2 427.2h0M642.2 459.2h0M852.8 388.3h0M761.5 513.3h0M877.9 384.2h0M669.6 542.0h0M685.7 423.1h0M714.8 395.2h0M747.6 413.7h0M633.6 429.4h0M775.4 499.8h0M753.2 388.1h0M777.4 345.9h0M673.9 532.7h0M851.2 497.8h0M871.4 416.7h0M647.4 432.5h0M830.1 478.3h0M694.5 433.0h0M743.1 502.7h0M700.9 529.4h0M842.8 348.6h0M650.8 461.1h0M724.7 338.0h0M707.0 346.7h0M856.6 348.7h0M795.0 623.7h0M895.0 453.1h0M618.8 410.1h0M692.8 398.9h0M744.4 409.8h0M695.8 347.5h0M691.8 385.7h0M744.2 365.1h0M788.5 352.2h0M797.4 371.3h0M788.4 592.1h0M806.1 567.0h0M748.0 397.9h0M628.8 494.5h0M777.2 611.7h0M780.9 617.2h0M621.0 407.2h0M763.3 338.0h0M756.6 353.9h0M841.2 456.0h0M712.7 494.3h0M810.2 484.9h0M871.7 517.5h0M734.7 520.7h0M609.1 399.3h0M762.6 437.8h0M769.1 463.3h0M868.4 532.6h0M601.2 393.9h0M812.0 515.1h0M853.2 379.5h0M849.4 407.1h0M757.8 510.0h0M699.6 531.9h0M805.2 527.1h0M671.6 448.1h0M774.5 584.6h0M903.5 425.8h0M607.8 431.5h0M707.9 500.0h0M656.6 436.5h0M871.7 369.9h0M665.5 493.4h0M853.8 366.0h0M629.2 365.8h0M775.9 489.9h0M859.2 503.9h0M664.3 446.6h0M776.6 426.9h0M781.5 458.7h0M838.2 559.1h0M738.0 389.4h0M688.5 394.1h0M901.7 440.3h0M731.2 460.2h0M709.1 467.9h0M696.0 359.3h0M840.9 391.8h0M830.3 565.5h0M848.1 338.9h0M692.3 451.7h0M646.2 518.7h0M847.0 508.4h0M900.3 476.5h0M740.7 555.8h0M785.1 538.9h0M671.2 454.9h0M719.9 447.5h0M759.4 403.6h0M728.4 470.5h0M836.5 642.4h0M765.8 426.8h0M745.1 506.7h0M787.6 433.5h0M886.2 485.0h0M811.6 330.0h0M785.4 344.8h0M803.0 628.3h0M789.4 577.5h0M638.7 354.1h0M636.8 376.5h0M777.5 374.6h0M663.3 521.0h0M734.4 507.6h0M727.7 381.8h0M666.5 346.9h0M843.0 469.2h0M641.5 473.3h0M822.8 484.2h0M594.2 424.5h0M683.9 367.8h0M683.0 497.5h0M657.6 427.6h0M748.7 505.5h0M799.9 323.6h0M807.4 457.3h0M862.4 354.7h0M860.7 536.9h0M810.7 382.4h0M767.1 542.6h0M909.6 445.0h0M782.9 529.2h0M736.2 399.7h0M796.0 626.2h0M798.9 364.5h0M834.2 651.2h0M857.5 373.7h0M734.7 549.1h0M717.8 371.9h0M735.3 363.4h0M730.4 419.2h0M773.8 470.6h0M734.7 494.0h0M696.4 436.0h0M631.2 418.9h0M854.8 342.3h0M716.8 403.5h0M808.8 613.6h0M638.9 520.1h0M754.7 381.3h0M632.1 490.2h0M776.0 539.8h0M766.5 539.6h0M670.3 394.5h0M695.8 407.4h0M649.7 501.4h0M939.0 323.8h0M971.3 345.6h0M1004.3 355.5h0M950.7 362.6h0M941.1 325.8h0M983.8 349.1h0M987.0 323.3h0M974.1 364.7h0M955.6 380.3h0M957.2 365.6h0M976.8 358.6h0M979.3 366.7h0M1023.5 322.6h0M967.0 343.6h0M1023.6 352.9h0M978.4 333.9h0M1026.7 332.1h0M1014.0 363.7h0M929.5 328.9h0M932.5 337.7h0M1025.0 348.2h0M951.7 376.4h0M976.6 368.6h0M991.5 403.1h0M1029.8 343.7h0M981.1 333.2h0M988.3 357.0h0M963.2 337.2h0M996.0 337.3h0M990.9 391.5h0M965.1 346.4h0M996.8 362.1h0M1009.9 346.7h0M1020.8 314.6h0M951.5 323.4h0M1024.6 328.6h0M979.1 417.2h0M964.3 316.7h0M1027.7 334.9h0M959.3 324.5h0M963.7 357.6h0M986.0 388.5h0M938.8 364.7h0M969.5 355.3h0M988.5 366.1h0M1008.2 367.1h0M1014.2 354.6h0M964.3 354.9h0M919.6 337.4h0M957.2 334.0h0M945.6 368.2h0M1005.3 340.9h0M948.8 351.5h0M952.1 334.3h0M999.0 324.6h0M975.8 377.1h0M959.1 400.3h0M980.7 350.0h0M932.9 354.5h0M967.5 359.1h0M974.7 415.8h0M947.5 372.4h0M961.7 363.3h0M944.7 364.2h0M957.3 350.6h0M976.6 394.1h0M992.1 371.3h0M961.1 387.7h0M984.5 362.2h0M1007.3 374.9h0M967.1 385.8h0M984.6 354.1h0M1003.3 379.1h0M992.8 385.3h0M970.8 380.1h0M978.2 378.2h0M1004.0 372.6h0M995.1 331.4h0M906.0 332.3h0M973.5 380.4h0M989.2 359.8h0M969.5 391.3h0M944.1 338.4h0M1008.9 341.2h0M969.2 320.6h0M994.3 388.5h0M935.6 351.2h0M966.3 362.0h0M971.5 336.0h0M918.6 345.7h0M967.3 337.8h0M1001.5 374.6h0M1004.0 350.9h0M912.1 353.9h0M987.7 312.7h0M981.5 345.0h0M974.8 388.6h0M1016.9 344.0h0M985.7 397.4h0M966.3 389.8h0M975.6 384.2h0M956.6 389.7h0M1019.5 362.9h0M978.2 351.3h0M985.4 346.2h0M936.8 331.2h0M986.9 392.0h0M941.8 316.6h0M984.1 383.5h0M973.5 375.1h0M992.8 378.6h0M963.2 396.5h0M1003.0 342.4h0M992.3 339.3h0M984.7 408.1h0M994.1 352.4h0M971.9 353.7h0M1014.5 327.2h0M960.8 376.4h0M999.7 338.2h0M969.4 401.1h0M979.1 382.3h0M991.9 356.5h0M1109.9 397.7h0M1099.0 392.6h0M997.6 773.5h0M941.6 754.3h0M943.8 853.5h0M856.3 866.1h0M931.7 858.1h0M881.0 705.3h0M959.9 731.2h0M961.7 779.5h0M865.5 735.7h0M854.7 736.0h0M917.7 819.2h0M961.6 769.2h0M878.2 721.8h0M996.7 746.2h0M867.2 909.5h0M873.1 752.4h0M877.2 765.2h0M889.9 873.7h0M975.4 813.8h0M855.8 832.5h0M826.8 714.3h0M945.2 808.3h0M920.6 874.5h0M920.3 817.1h0M1007.7 774.6h0M890.1 847.7h0M856.5 839.5h0M940.0 856.5h0M871.1 721.7h0M972.2 779.4h0M956.6 819.7h0M959.1 821.9h0M871.0 833.4h0M989.3 728.9h0M931.7 702.9h0M1007.2 794.1h0M841.6 789.6h0M953.7 838.6h0M925.7 818.1h0M863.6 849.7h0M910.6 805.2h0M903.8 831.8h0M874.1 816.5h0M916.4 718.7h0M855.9 874.4h0M953.5 782.7h0M903.5 846.3h0M846.2 720.4h0M852.6 693.2h0M1025.0 737.0h0M992.5 754.3h0M878.3 803.6h0M1007.9 739.3h0M975.3 786.1h0M924.4 714.8h0M956.6 780.8h0M851.6 825.5h0M924.4 861.2h0M823.0 718.9h0M998.4 732.3h0M946.0 814.1h0M854.6 863.0h0M966.7 764.9h0M966.4 773.1h0M922.2 793.0h0M952.9 792.6h0M855.1 818.2h0M943.9 747.8h0M853.7 775.4h0M986.9 796.6h0M927.1 753.2h0M864.8 914.8h0M838.8 722.4h0M894.7 837.8h0M843.8 709.9h0M887.0 774.5h0M853.2 854.2h0M941.7 846.4h0M937.0 776.2h0M962.1 774.3h0M940.4 801.6h0M921.7 786.8h0M874.5 735.5h0M929.4 836.8h0M896.3 742.6h0M928.8 807.9h0M848.4 705.9h0M850.8 716.1h0M907.6 835.7h0M869.4 922.7h0M865.6 898.3h0M897.6 866.1h0M853.8 793.4h0M983.6 735.0h0M893.9 890.1h0M969.1 780.1h0M998.6 778.2h0M979.8 747.2h0M880.6 675.1h0M968.3 738.6h0M875.4 913.6h0M1014.0 770.3h0M976.8 811.5h0M890.6 737.5h0M906.0 863.3h0M865.6 812.4h0M863.0 803.3h0M916.8 762.2h0M836.3 714.3h0M870.0 676.4h0M955.8 723.5h0M969.5 746.6h0M900.8 857.7h0M916.8 858.7h0M872.3 748.9h0M918.6 708.9h0M880.0 902.9h0M906.6 697.5h0M914.6 749.4h0M989.7 788.8h0M868.9 790.3h0M840.5 765.9h0M925.9 726.3h0M872.4 775.2h0M911.0 816.0h0M975.6 839.5h0M952.5 738.6h0M933.5 849.3h0M914.7 688.6h0M943.1 718.8h0M901.4 833.5h0M954.2 799.5h0M839.9 802.4h0M966.8 794.5h0M915.3 701.2h0M855.2 725.5h0M908.2 791.7h0M851.5 685.8h0M828.2 710.9h0M852.9 751.2h0M929.3 714.4h0M928.3 699.5h0M900.4 707.0h0M1019.2 751.2h0M922.7 695.7h0M887.4 695.4h0M902.7 720.0h0M830.9 720.4h0M891.7 785.4h0M903.7 695.0h0M917.9 768.5h0M924.9 702.0h0M860.5 754.2h0M978.4 827.6h0M992.3 757.1h0M1012.8 737.6h0M882.9 902.5h0M860.2 737.5h0M926.5 839.6h0M883.1 725.6h0M896.4 849.4h0M840.0 758.1h0M983.9 752.5h0M959.0 834.5h0M855.8 906.5h0M854.4 711.8h0M851.5 683.2h0M987.9 754.5h0M875.9 931.6h0M907.0 733.5h0M966.6 836.1h0M888.1 793.1h0M955.1 786.0h0M932.8 828.7h0M844.5 799.3h0M893.1 679.5h0M963.4 742.8h0M922.3 844.2h0M916.3 727.7h0M851.1 901.5h0M890.4 760.2h0M981.7 712.0h0M974.8 781.2h0M834.5 780.7h0M972.3 743.3h0M850.5 829.8h0M978.1 731.8h0M980.3 820.6h0M839.9 735.1h0M868.3 842.3h0M843.0 781.1h0M877.2 725.1h0M951.4 718.7h0M893.2 824.5h0M935.7 793.0h0M983.2 823.9h0M875.5 851.7h0M973.7 734.9h0M838.7 746.0h0M869.2 837.2h0M973.5 721.1h0M870.0 771.6h0M883.4 803.1h0M862.8 918.1h0M961.6 739.9h0M997.1 781.7h0M900.5 867.1h0M896.3 862.6h0M923.4 751.9h0M913.7 685.4h0M850.2 723.5h0M901.9 839.9h0M986.3 708.9h0M859.2 835.9h0M847.9 838.0h0M873.7 702.8h0M952.4 696.8h0M979.2 751.6h0M879.6 751.3h0M901.9 881.2h0M856.4 729.7h0M915.6 796.2h0M887.1 818.1h0M876.9 938.4h0M891.5 845.4h0M859.7 723.8h0M912.0 798.1h0M999.0 770.0h0M928.5 824.2h0M956.4 729.7h0M912.5 766.1h0M922.3 833.8h0M867.7 845.3h0M896.6 752.4h0M1004.8 736.7h0M935.8 860.7h0M921.1 697.7h0M898.1 829.4h0M860.4 783.8h0M929.6 813.1h0M868.0 773.9h0M830.4 768.7h0M969.8 735.1h0M847.9 796.0h0M922.0 865.4h0M910.2 716.1h0M881.7 783.2h0M947.5 842.8h0M858.4 908.3h0M873.7 889.7h0M898.3 721.0h0M898.4 689.8h0M988.5 721.6h0M849.8 699.1h0M937.7 699.9h0M898.1 869.5h0M970.9 750.0h0M931.7 793.1h0M1026.7 740.3h0M879.0 806.3h0M957.3 828.6h0M895.0 884.2h0M884.1 700.8h0M879.7 817.5h0M873.5 904.6h0M927.4 762.6h0M874.5 686.6h0M913.7 730.7h0M861.3 761.1h0M911.7 825.8h0M955.3 841.7h0M1001.3 721.9h0M881.7 860.3h0M990.8 817.8h0M973.8 717.7h0M863.2 806.7h0M953.2 699.5h0M955.9 738.8h0M920.4 849.4h0M882.5 812.6h0M843.0 792.2h0M927.0 791.5h0M923.2 773.9h0M950.2 731.2h0M846.6 691.6h0M850.0 688.3h0M957.5 836.7h0M869.0 857.4h0M865.3 925.9h0M870.5 816.5h0M874.0 839.9h0M969.6 797.5h0M886.7 891.8h0M942.5 725.3h0M910.6 745.3h0M866.7 875.0h0M924.6 845.8h0M879.7 788.1h0M834.8 720.5h0M852.6 883.0h0M840.4 706.2h0M983.0 722.4h0M832.9 770.4h0M877.4 858.1h0M895.5 715.0h0M861.0 887.5h0M852.9 719.4h0M1023.1 765.0h0M1010.6 753.4h0M833.5 749.8h0M961.7 791.7h0M931.6 862.0h0M966.3 700.2h0M926.5 742.0h0M1005.0 787.7h0M1008.6 790.3h0M854.6 754.5h0M955.9 705.4h0M855.7 808.8h0M941.3 859.2h0M916.4 865.9h0M928.2 863.1h0M876.3 864.9h0M876.1 854.7h0M974.4 708.9h0M900.8 845.7h0M967.7 758.9h0M950.3 701.9h0M975.8 816.6h0M867.7 803.0h0M856.3 704.8h0M868.4 778.7h0M839.2 698.9h0M959.2 783.6h0M981.0 734.9h0M963.5 747.3h0M946.9 730.3h0M924.5 856.0h0M899.0 754.5h0M858.4 862.5h0M909.1 708.7h0M881.0 882.3h0M826.8 762.7h0M925.2 770.5h0M888.7 699.7h0M847.8 684.8h0M934.0 697.2h0M907.2 868.5h0M964.8 722.7h0M977.2 757.4h0M924.1 830.9h0M952.8 858.5h0M1020.1 762.6h0M876.4 860.8h0M1012.1 745.3h0M860.2 928.9h0M898.0 789.8h0M926.0 853.6h0M883.3 886.2h0M855.8 927.5h0M974.4 802.5h0M869.8 942.0h0M1008.8 733.2h0M861.8 897.1h0M848.0 758.6h0M965.9 727.8h0M834.4 746.8h0M883.1 772.7h0M836.8 704.5h0M912.3 769.5h0M861.2 853.5h0M870.9 902.7h0M857.5 693.6h0M926.5 787.9h0M970.1 792.5h0M858.5 697.3h0M949.7 848.1h0M924.6 809.2h0M938.9 723.1h0M918.5 764.8h0M876.0 758.1h0M871.5 812.0h0M914.9 721.0h0M1030.4 746.1h0M925.8 719.2h0M867.7 749.9h0M882.2 921.7h0M934.3 864.9h0M858.8 802.0h0M856.3 717.0h0M858.5 807.9h0M950.3 776.4h0M894.6 831.4h0M982.0 767.3h0M924.6 746.1h0M985.1 782.4h0M915.7 698.0h0M860.4 779.1h0M852.9 702.1h0M989.0 765.2h0M926.0 730.3h0M861.4 770.3h0M910.8 690.3h0M883.6 807.6h0M843.1 697.3h0M952.3 835.9h0M875.8 754.5h0M988.6 759.5h0M989.6 807.6h0M894.0 783.4h0M912.0 701.0h0M979.5 707.4h0M863.0 890.1h0M870.3 853.1h0M900.1 751.6h0M943.1 830.1h0M879.1 731.9h0M834.6 725.6h0M884.4 705.9h0M890.9 894.9h0M998.8 754.0h0M941.6 697.9h0M913.1 844.5h0M922.7 822.2h0M887.5 803.6h0M995.0 758.1h0M937.2 831.2h0M853.0 837.6h0M966.6 755.5h0M929.7 788.4h0M932.3 710.2h0M836.0 762.5h0M889.7 861.8h0M852.3 677.8h0M839.8 761.4h0M1001.7 780.9h0M872.4 836.3h0M879.3 895.8h0M913.1 837.0h0M873.1 868.1h0M908.9 872.9h0M887.3 769.8h0M1007.3 760.0h0M866.8 688.3h0M983.3 813.7h0M828.9 698.8h0M948.0 779.8h0M955.6 765.2h0M938.5 843.8h0M960.1 788.7h0M884.1 683.3h0M842.6 802.7h0M968.0 769.5h0M929.6 843.8h0M1010.8 749.4h0M873.9 871.6h0M894.6 733.4h0M924.2 815.8h0M972.2 764.2h0M850.1 729.6h0M887.5 704.9h0M876.2 746.7h0M840.4 785.6h0M895.0 774.3h0M889.0 842.2h0M864.1 814.6h0M952.0 796.5h0M880.8 762.4h0M872.2 778.3h0M901.8 786.8h0M862.4 869.9h0M876.9 874.2h0M968.0 810.8h0M1011.4 742.3h0M948.0 721.4h0M934.5 766.3h0M1012.5 767.9h0M915.2 822.9h0M869.8 872.4h0M980.1 756.5h0M956.0 812.9h0M867.3 682.9h0M865.6 718.1h0M860.7 716.9h0M928.2 744.9h0M848.4 806.0h0M901.4 813.4h0M849.8 865.0h0M951.4 748.3h0M927.6 804.7h0M840.3 724.6h0M884.7 780.5h0M952.5 706.9h0M880.0 712.1h0M845.4 704.2h0M941.3 838.5h0M978.1 786.0h0M846.6 813.0h0M892.3 720.2h0M945.7 802.9h0M847.3 750.5h0M878.7 928.5h0M954.6 712.7h0M993.0 803.6h0M869.5 847.9h0M866.4 788.8h0M1005.2 722.3h0M900.3 674.2h0M972.9 810.4h0M998.3 748.2h0M993.9 819.3h0M844.8 680.9h0M861.4 843.0h0M988.2 772.0h0M882.8 710.5h0M850.2 792.0h0M880.5 768.2h0M1028.3 743.4h0M939.9 732.3h0M999.6 766.0h0M895.2 695.8h0M949.1 793.5h0M950.8 814.9h0M954.2 826.9h0M866.2 937.2h0M934.4 790.0h0M883.6 756.8h0M833.1 743.7h0M946.4 700.2h0M892.6 853.4h0M938.1 727.6h0M974.3 699.5h0M914.3 801.7h0M1009.8 761.1h0M998.8 794.3h0M1015.3 776.6h0M888.1 779.5h0M916.3 785.9h0M884.2 830.1h0M878.1 795.1h0M977.8 769.6h0M826.8 769.1h0M902.2 702.5h0M883.4 816.5h0M878.5 915.4h0M950.2 804.8h0M895.8 725.5h0M882.8 874.6h0M829.2 732.6h0M885.4 719.5h0M896.6 844.6h0M888.1 896.0h0M839.9 703.4h0M896.6 777.8h0M902.9 769.4h0M871.9 933.1h0M871.9 683.8h0M982.7 787.9h0M1171.2 573.9h0M1273.4 692.5h0M1140.6 578.3h0M1318.6 810.4h0M1225.7 682.3h0M1137.3 641.1h0M1268.7 650.6h0M1232.0 616.8h0M1292.7 791.7h0M1362.2 732.6h0M1210.1 573.5h0M1280.9 664.5h0M1349.9 675.8h0M1416.2 624.1h0M1367.2 586.3h0M1392.8 658.9h0M1295.9 659.0h0M1327.2 791.6h0M1289.4 725.4h0M1340.1 783.8h0M1316.1 808.0h0M1248.9 564.7h0M1138.7 644.3h0M1381.8 613.1h0M1335.1 597.8h0M1361.9 815.0h0M1205.2 574.4h0M1247.7 549.2h0M1355.1 618.6h0M1208.1 660.1h0M1283.3 761.2h0M1230.0 614.5h0M1253.8 586.6h0M1290.9 655.7h0M1266.4 690.6h0M1283.7 567.6h0M1340.7 596.2h0M1296.7 638.6h0M1364.2 748.3h0M1344.5 581.4h0M1324.9 739.6h0M1314.2 794.7h0M1429.0 690.3h0M1264.2 553.7h0M1265.7 619.5h0M1283.6 577.2h0M1394.4 673.7h0M1336.6 636.0h0M1207.3 652.2h0M1325.1 808.1h0M1288.1 625.0h0M1282.4 694.8h0M1330.9 644.5h0M1366.3 573.8h0M1355.2 675.8h0M1246.8 585.6h0M1323.1 816.0h0M1328.4 622.8h0M1325.3 606.1h0M1288.0 832.7h0M1325.6 717.8h0M1287.7 598.1h0M1353.7 802.9h0M1311.9 590.7h0M1215.0 596.6h0M1314.1 624.5h0M1233.7 640.8h0M1281.0 756.6h0M1385.4 688.5h0M1314.7 735.9h0M1134.2 638.0h0M1285.2 836.0h0M1260.5 639.9h0M1278.3 705.4h0M1125.3 627.7h0M1379.1 659.5h0M1327.8 675.1h0M1370.6 680.5h0M1254.8 702.7h0M1210.8 665.0h0M1397.2 639.8h0M1271.6 584.4h0M1327.0 627.8h0M1343.9 813.7h0M1411.2 720.4h0M1192.6 568.4h0M1316.3 644.8h0M1150.3 614.6h0M1124.2 589.5h0M1392.6 694.2h0M1252.6 561.9h0M1198.0 652.8h0M1402.5 703.9h0M1290.3 633.3h0M1255.5 606.9h0M1369.7 574.2h0M1309.5 626.0h0M1388.2 608.4h0M1230.7 581.1h0M1319.5 583.3h0M1358.3 716.9h0M1158.1 661.1h0M1318.7 604.9h0M1271.0 570.1h0M1415.9 717.8h0M1345.3 708.2h0M1277.0 698.6h0M1370.8 599.3h0M1335.0 766.8h0M1143.4 620.6h0M1227.3 536.9h0M1255.5 548.0h0M1147.6 579.7h0M1123.1 608.7h0M1281.1 772.1h0M1286.3 592.7h0M1318.3 601.1h0M1377.8 633.5h0M1303.9 794.6h0M1328.4 568.8h0M1291.7 744.7h0M1284.5 706.8h0M1186.3 593.4h0M1345.9 806.6h0M1215.4 669.8h0M1327.3 563.5h0M1145.2 563.3h0M1406.4 649.5h0M1354.0 743.1h0M1253.4 626.3h0M1185.4 647.3h0M1252.9 539.5h0M1310.4 553.7h0M1455.6 663.0h0M1206.1 584.9h0M1229.0 635.9h0M1279.1 776.3h0M1221.5 570.4h0M1172.5 660.9h0M1301.6 815.7h0M1339.4 753.4h0M1359.2 644.3h0M1206.3 639.1h0M1300.8 666.0h0M1423.5 633.0h0M1421.0 676.9h0M1326.7 827.0h0M1352.5 662.8h0M1284.8 656.0h0M1173.7 589.2h0M1313.9 613.3h0M1153.0 599.2h0M1305.0 777.3h0M1196.2 606.0h0M1347.7 754.6h0M1316.9 842.2h0M1329.2 755.2h0M1284.4 663.1h0M1182.1 566.3h0M1386.0 701.0h0M1296.2 693.4h0M1300.5 671.8h0M1349.7 733.1h0M1329.9 688.5h0M1215.8 642.3h0M1274.7 588.7h0M1420.5 696.2h0M1248.9 561.8h0M1330.1 736.3h0M1128.2 570.7h0M1215.5 552.7h0M1335.0 777.5h0M1428.3 638.7h0M1425.4 664.4h0M1350.6 798.6h0M1193.1 673.7h0M1413.2 654.8h0M1359.2 752.4h0M1238.5 579.3h0M1303.9 703.7h0M1397.2 603.3h0M1267.9 793.1h0M1301.4 757.2h0M1177.4 638.5h0M1298.5 561.5h0M1260.0 761.7h0M1337.8 808.3h0M1342.2 837.8h0M1328.0 710.2h0M1340.2 609.9h0M1315.9 767.8h0M1223.4 644.8h0M1332.9 782.2h0M1342.1 709.9h0M1370.6 655.7h0M1287.8 696.4h0M1246.8 691.9h0M1264.3 662.4h0M1414.3 696.7h0M1273.4 796.8h0M1330.9 796.9h0M1317.8 771.8h0M1303.5 693.8h0M1334.9 837.0h0M1161.3 671.1h0M1156.9 639.3h0M1290.7 832.1h0M1305.4 684.5h0M1290.6 709.9h0M1261.2 673.3h0M1356.7 588.9h0M1315.7 832.4h0M1196.5 663.5h0M1330.5 586.3h0M1276.5 643.1h0M1276.3 806.5h0M1396.9 686.4h0M1401.8 671.7h0M1354.7 577.0h0M1324.0 820.3h0M1328.7 770.5h0M1284.3 814.2h0M1125.2 597.8h0M1403.6 721.2h0M1331.4 840.8h0M1274.4 553.1h0M1407.7 669.5h0M1230.9 656.2h0M1313.3 587.6h0M1291.3 840.5h0M1365.2 694.4h0M1172.3 567.8h0M1201.0 622.4h0M1355.7 700.1h0M1434.9 650.7h0M1330.1 719.7h0M1365.1 558.8h0M1303.7 832.3h0M1147.8 639.9h0M1150.9 643.9h0M1314.8 669.5h0M1171.2 663.2h0M1367.8 615.3h0M1183.3 583.5h0M1164.7 548.2h0M1373.6 645.3h0M1450.2 660.0h0M1375.3 772.4h0M1331.9 739.0h0M1192.5 558.5h0M1160.8 668.3h0M1324.8 805.4h0M1230.8 584.7h0M1334.5 616.5h0M1313.1 706.1h0M1384.3 717.1h0M1254.6 672.0h0M1345.7 546.2h0M1390.5 632.9h0M1325.4 634.1h0M1301.4 691.8h0M1291.8 640.8h0M1328.1 697.4h0M1215.2 581.7h0M1257.4 604.8h0M1420.4 691.8h0M1140.9 573.2h0M1337.2 818.7h0M1233.2 684.2h0M1239.1 613.9h0M1361.4 550.7h0M1367.0 740.1h0M1352.6 570.8h0M1171.7 584.1h0M1230.9 576.5h0M1237.5 557.0h0M1275.6 783.8h0M1325.6 700.4h0M1279.0 762.5h0M1259.3 722.9h0M1326.8 657.2h0M1176.8 547.0h0M1266.1 751.0h0M1245.6 613.2h0M1378.5 772.1h0M1346.8 623.2h0M1368.4 770.8h0M1381.8 608.7h0M1282.2 637.4h0M1171.6 543.2h0M1338.0 655.8h0M1318.8 833.0h0M1141.1 665.7h0M1204.6 551.8h0M1380.6 689.7h0M1397.2 651.6h0M1276.8 613.3h0M1122.6 605.6h0M1375.6 670.9h0M1220.0 583.4h0M1283.4 643.3h0M1428.6 650.1h0M1292.6 572.2h0M1342.8 656.3h0M1387.3 631.5h0M1159.8 635.8h0M1140.8 596.5h0M1355.3 571.1h0M1269.3 605.4h0M1145.1 647.2h0M1451.4 648.1h0M1405.2 663.7h0M1376.8 792.0h0M1353.7 678.1h0M1162.4 569.0h0M1266.3 667.7h0M1262.5 592.2h0M1350.0 826.7h0M1409.1 703.7h0M1262.6 771.8h0M1287.8 829.6h0M1308.5 768.5h0M1252.6 706.6h0M1306.6 646.0h0M1345.1 793.0h0M1336.1 661.0h0M1403.8 655.0h0M1401.9 636.4h0M1334.8 730.1h0M1310.3 560.7h0M1347.1 633.9h0M1173.5 619.6h0M1242.4 571.5h0M1422.1 679.4h0M1313.3 556.4h0M1381.0 785.5h0M1391.1 637.7h0M1143.2 558.6h0M1191.8 593.5h0M1152.9 604.1h0M1359.7 555.1h0M1302.1 620.8h0M1373.4 604.5h0M1278.6 800.2h0M1136.8 608.6h0M1390.7 707.5h0M1203.8 577.1h0M1389.1 721.4h0M1153.5 544.7h0M1144.9 637.4h0M1252.8 580.9h0M1291.6 586.5h0M1288.5 846.7h0M1237.3 687.2h0M1269.0 550.1h0M1282.5 712.2h0M1312.5 581.3h0M1238.0 662.1h0M1397.9 674.8h0M1178.8 550.7h0M1235.5 659.3h0M1302.5 635.2h0M1188.5 568.3h0M1259.4 668.3h0M1265.8 584.6h0M1176.5 597.0h0M1348.7 666.6h0M1312.1 737.1h0M1363.5 659.5h0M1374.5 744.7h0M1175.7 632.1h0M1306.8 763.6h0M1177.0 543.2h0M1150.7 539.1h0M1406.8 686.5h0M1297.4 711.1h0M1295.0 784.9h0M1259.5 628.0h0M1187.7 608.1h0M1247.7 684.1h0M1248.9 687.3h0M1377.0 562.0h0M1175.3 677.5h0M1299.3 677.7h0M1353.2 758.8h0M1161.2 598.3h0M1371.4 595.1h0M1416.0 704.3h0M1351.6 591.8h0M1359.9 784.5h0M1318.7 556.4h0M1147.7 659.7h0M1182.1 672.1h0M1357.0 695.9h0M1375.4 736.2h0M1318.1 653.6h0M1334.1 770.5h0M1345.5 774.3h0M1125.1 604.3h0M1419.3 629.4h0M1164.7 659.1h0M1303.0 797.2h0M1343.3 802.4h0M1241.9 673.4h0M1407.5 692.5h0M1157.7 570.5h0M1394.1 619.7h0M1341.0 571.5h0M1188.8 614.5h0M1367.6 774.4h0M1380.6 581.9h0M1269.1 676.1h0M1254.4 714.3h0M1263.7 681.6h0M1329.9 814.8h0M1435.9 645.8h0M1210.1 544.8h0M1231.7 659.0h0M1282.2 727.1h0M1235.9 579.9h0M1370.4 661.0h0M1339.8 555.4h0M1369.7 691.1h0M1169.6 534.0h0M1336.4 798.2h0M1347.6 694.1h0M1376.8 739.4h0M1373.2 790.0h0M1344.2 836.1h0M1328.1 798.9h0M1307.1 736.5h0M1380.0 697.6h0M1367.2 814.9h0M1132.7 607.1h0M1268.3 702.2h0M1227.7 592.3h0M1317.0 656.9h0M1258.0 664.1h0M1218.8 619.6h0M1142.1 623.6h0M1388.5 676.9h0M1206.7 645.4h0M1346.9 826.6h0M1390.4 621.7h0M1266.8 782.4h0M1278.5 619.9h0M1333.3 794.0h0M1215.4 543.1h0M1328.8 596.8h0M1349.1 748.6h0M1286.2 738.1h0M1188.1 665.3h0M1272.9 600.5h0M1356.8 704.3h0M1243.7 553.1h0M1309.4 789.7h0M1389.3 618.6h0M1162.4 588.6h0M1218.9 654.9h0M1387.6 643.1h0M1388.4 614.3h0M1217.0 617.3h0M1374.1 663.6h0M1438.2 637.3h0M1403.0 708.9h0M1259.8 553.3h0M1245.2 558.7h0M1275.6 749.0h0M1345.2 649.1h0M1373.3 600.2h0M1368.9 589.3h0M1296.0 612.1h0M1244.8 647.4h0M1432.1 641.3h0M1185.1 577.7h0M1240.0 619.7h0M1180.0 588.9h0M1388.2 654.2h0M1199.5 613.2h0M1348.8 707.9h0M1176.7 624.3h0M1325.1 684.1h0M1292.4 581.9h0M1244.0 620.8h0M1377.6 788.3h0M1233.0 554.2h0M1217.8 659.8h0M1302.0 753.3h0M1313.4 790.9h0M1304.2 584.9h0M1344.4 718.1h0M1309.7 652.0h0M1300.9 713.8h0M1287.5 813.1h0M1362.1 570.9h0M1249.2 700.0h0M1195.5 632.4h0M1438.8 641.8h0M1190.1 638.6h0M1291.7 650.4h0M1230.4 541.9h0M1140.4 618.3h0M1389.5 702.0h0M1299.2 819.9h0M1143.3 650.9h0M1248.4 614.9h0M1415.5 632.8h0M1352.3 557.3h0M1211.7 638.6h0M1343.7 824.2h0M1223.6 586.2h0M1248.0 594.7h0M1376.3 569.1h0M1378.7 607.1h0M1355.5 593.1h0M1221.7 652.2h0M1179.8 579.1h0M1149.8 647.6h0M1326.9 833.5h0M1254.0 594.2h0M1329.3 616.1h0M1130.1 607.0h0M1204.4 652.3h0M1266.8 643.3h0M1302.1 699.2h0M1331.2 556.5h0M1351.6 622.9h0M1382.4 728.6h0M1289.6 701.5h0M1242.9 602.0h0M1322.5 791.7h0M1263.0 739.7h0M1440.9 674.0h0M1411.4 716.8h0M1274.5 583.8h0M1336.7 563.1h0M1421.7 656.3h0M1355.6 611.3h0M1352.1 820.7h0M1250.8 661.8h0M1243.9 586.2h0M1273.8 807.4h0M1366.2 591.3h0M1308.2 572.2h0M1262.7 756.5h0M1406.1 730.5h0M1182.2 662.3h0M1385.5 748.3h0M1251.1 568.3h0M1255.8 661.1h0M1131.6 576.0h0M1350.4 601.4h0M1193.5 600.8h0M1425.6 689.8h0M1266.1 605.7h0M1384.9 644.4h0M1380.5 675.7h0M1292.2 705.1h0M1239.9 632.3h0M1278.9 587.5h0M1253.1 553.4h0M1242.9 655.1h0M1316.5 854.1h0M1125.7 641.4h0M1290.3 763.4h0M1197.6 629.2h0M1243.8 565.5h0M1398.2 617.5h0M1302.7 555.7h0M1352.1 653.8h0M1217.1 610.6h0M1294.4 773.3h0M1347.0 803.6h0M1335.3 826.8h0M1430.4 681.3h0M1293.8 545.8h0M1264.6 685.4h0M1369.0 678.3h0M1401.2 752.9h0M1136.2 564.1h0M1300.4 808.7h0M1344.6 786.6h0M1338.4 672.7h0M1270.2 706.6h0M1294.1 698.3h0M1175.5 651.5h0M1414.6 687.6h0M1357.4 596.8h0M1205.0 622.6h0M1417.9 652.8h0M1130.6 589.7h0M1202.1 531.1h0M1397.0 740.1h0M1377.7 691.2h0M1319.5 761.8h0M1178.4 635.0h0M1337.4 782.4h0M1351.3 774.2h0M1279.4 789.4h0M1315.1 665.2h0M1207.8 602.7h0M1319.7 767.7h0M1295.9 684.8h0M1271.0 683.6h0M1374.8 704.3h0M1281.3 551.2h0M1343.4 779.5h0M1171.4 646.4h0M1351.2 805.7h0M1349.4 560.1h0M1347.1 660.4h0M1278.8 552.9h0M1285.0 711.1h0M1324.5 570.3h0M1181.7 650.6h0M1199.9 656.6h0M1291.1 694.2h0M1304.1 609.8h0M1391.6 747.6h0M1428.0 662.1h0M1347.8 743.1h0M1268.3 766.1h0M1450.5 653.8h0M1298.0 715.4h0M1373.9 576.5h0M1282.8 697.7h0M1276.2 702.1h0M1347.4 790.5h0M1325.3 677.4h0M1379.0 782.5h0M1192.3 584.9h0M1428.9 655.3h0M1142.1 594.3h0M1311.4 663.7h0M1264.0 571.3h0M1140.3 563.5h0M1354.4 622.8h0M1229.8 689.9h0M1333.3 646.6h0M1172.2 670.3h0M1335.2 648.6h0M1181.8 576.2h0M1308.6 660.2h0M1280.1 807.6h0M1173.8 598.4h0M1442.3 649.0h0M1350.1 571.8h0M1385.6 578.6h0M1274.3 605.2h0M1119.5 639.7h0M1349.7 669.6h0M1307.0 848.0h0M1272.4 727.9h0M1334.8 620.6h0M1300.3 708.7h0M1408.7 641.0h0M1321.6 636.2h0M1320.0 729.7h0M1359.8 629.3h0M1172.2 563.5h0M1348.5 556.2h0M1181.2 592.0h0M1273.0 823.8h0M1340.9 777.0h0M1180.8 675.5h0M1251.6 618.1h0M1208.3 656.3h0M1342.4 705.3h0M1377.2 625.3h0M1178.5 649.0h0M1438.5 663.4h0M1404.4 643.5h0M1266.2 763.7h0M1396.5 666.6h0M1349.9 636.5h0M1319.3 571.7h0M1172.9 652.1h0M1153.2 618.6h0M1403.7 658.6h0M1300.2 763.9h0M1289.7 771.5h0M1362.4 798.8h0M1331.7 561.9h0M1341.7 638.3h0M1310.4 587.0h0M1304.5 755.7h0M1288.0 777.7h0M1392.2 726.7h0M1380.3 654.2h0M1324.6 736.3h0M1366.2 718.3h0M1340.0 814.7h0M1362.1 746.2h0M1126.8 581.9h0M1312.3 796.5h0M1332.1 775.7h0M1326.4 609.7h0M1137.3 647.9h0M1384.4 766.6h0M1377.2 582.1h0M1298.5 698.7h0M1243.5 608.3h0M1354.0 818.2h0M1263.8 674.9h0M1318.2 747.4h0M1390.6 744.6h0M1390.7 731.5h0M1307.8 702.5h0M1174.7 575.8h0M1225.0 634.7h0M1324.8 687.9h0M1274.7 670.4h0M1222.3 631.1h0M1368.7 721.8h0M1313.9 815.7h0M1344.3 570.1h0M1197.7 536.8h0M1369.1 638.1h0M1322.6 802.7h0M1332.7 790.8h0M1260.9 779.9h0M1348.7 645.6h0M1270.4 800.0h0M1223.9 547.6h0M1321.0 748.1h0M1182.0 571.0h0M1361.1 801.9h0M1256.1 570.8h0M1221.4 526.6h0M1259.0 735.8h0M1365.3 794.9h0M1350.4 569.0h0M1377.9 571.2h0M1275.6 666.7h0M1294.5 745.6h0M1120.9 601.7h0M1292.2 555.9h0M1220.7 598.0h0M1305.7 658.1h0M1374.2 678.9h0M1206.7 672.8h0M1263.4 668.8h0M1168.6 567.6h0M1365.5 555.3h0M1246.7 572.8h0M1328.9 681.6h0M1294.3 609.3h0M1133.3 568.1h0M1132.3 601.4h0M1180.9 665.3h0M1418.2 698.0h0M1441.3 683.0h0M1379.8 603.2h0M1344.7 619.7h0M1126.8 635.5h0M1424.3 681.2h0M1293.4 588.7h0M1126.4 593.7h0M1174.2 595.5h0M1294.3 644.6h0M1188.7 654.8h0M1422.9 685.0h0M1301.4 674.9h0M1385.6 754.0h0M1341.5 764.3h0M1340.3 818.5h0M1256.8 670.0h0M1362.6 767.7h0M1326.3 713.4h0M1445.6 651.4h0M1281.5 598.6h0M1155.9 600.2h0M1201.1 555.4h0M1258.0 655.2h0M1167.0 632.5h0M1333.5 714.3h0M1282.8 609.5h0M1273.3 735.5h0M1313.5 652.5h0M1283.9 768.5h0M1454.0 654.1h0M1248.1 706.4h0M1218.1 590.0h0M1385.2 725.0h0M1309.5 557.5h0M1355.0 781.7h0M1253.0 709.7h0M1371.1 585.5h0M1253.2 677.2h0M1317.9 822.4h0M1269.1 560.8h0M1301.6 824.7h0M1317.4 804.3h0M1356.4 600.5h0M1260.0 757.2h0M1318.3 627.5h0M1140.3 626.7h0M1356.3 627.8h0M1321.6 578.3h0M1313.9 565.3h0M1304.2 824.4h0M1422.3 643.0h0M1243.5 704.2h0M1260.7 744.8h0M1150.5 560.7h0M1304.8 759.4h0M1191.2 575.7h0M1257.2 641.5h0M1385.2 714.3h0M1361.7 678.4h0M1245.9 580.2h0M1240.5 659.2h0M1402.4 682.7h0M1391.1 740.3h0M1226.6 542.7h0M1372.0 612.9h0M1322.3 554.3h0M1215.6 636.6h0M1213.6 623.4h0M1417.3 666.1h0M1198.4 549.7h0M1288.8 751.3h0M1392.4 703.1h0M1336.4 684.0h0M1220.6 683.9h0M1333.5 746.5h0M1373.8 625.7h0M1207.7 570.5h0M1252.8 663.6h0M1404.8 631.2h0M1278.7 624.0h0M1308.7 822.9h0M1387.5 739.8h0M1281.5 763.8h0M1245.9 604.0h0M1251.0 632.8h0M1249.5 620.6h0M1282.3 792.2h0M1224.5 637.4h0M1137.4 584.2h0M1133.3 652.9h0M1233.1 630.8h0M1117.0 608.1h0M1224.4 678.8h0M1208.4 678.5h0M1195.0 531.3h0M1270.0 788.7h0M1286.5 637.8h0M1435.9 642.0h0M1331.2 767.1h0M1258.9 592.0h0M1163.3 530.4h0M1171.7 615.7h0M1388.4 635.5h0M1331.6 837.7h0M1332.6 728.5h0M1405.2 638.7h0M1297.3 706.9h0M1258.5 728.9h0M1356.2 667.7h0M1359.4 804.7h0M1213.5 630.8h0M1395.9 625.6h0M1361.1 579.7h0M1124.6 586.5h0M1194.3 565.4h0M1123.1 624.3h0M1332.9 693.7h0M1399.9 656.7h0M1265.8 560.2h0M1371.1 548.5h0M1402.9 729.2h0M1248.3 694.4h0M1309.8 615.3h0M1183.8 626.5h0M1222.9 561.3h0M1227.0 578.5h0M1362.6 709.8h0M1381.5 577.3h0M1351.6 794.2h0M1322.3 721.8h0M1262.1 607.0h0M1140.3 633.3h0M1261.6 717.5h0M1178.4 641.2h0M1267.3 653.5h0M1280.3 768.3h0M1210.9 635.4h0M1400.7 736.4h0M1281.5 832.5h0M1310.0 755.3h0M1304.6 789.9h0M1295.2 652.5h0M1416.9 692.2h0M1285.2 822.7h0M1279.3 821.3h0M1328.5 643.2h0M1390.3 580.1h0M1359.8 611.1h0M1150.6 651.4h0M1200.2 609.6h0M1444.1 662.6h0M1358.9 814.6h0M1148.2 675.1h0M1270.3 553.4h0M1166.8 570.2h0M1148.8 630.7h0M1251.7 701.1h0M1183.7 561.3h0M1397.4 754.6h0M1220.8 661.4h0M1456.6 643.9h0M1212.2 529.6h0M1188.4 578.4h0M1350.6 779.2h0M1302.0 645.4h0M1359.5 602.8h0M1407.6 720.6h0M1262.5 727.3h0M1280.1 734.7h0M1184.8 672.4h0M1170.0 611.5h0M1180.2 607.6h0M1419.5 641.8h0M1300.7 830.0h0M1348.6 587.0h0M1311.9 690.3h0M1277.4 691.5h0M1133.9 596.3h0M1262.8 655.0h0M1270.8 659.0h0M1277.7 658.8h0M1186.0 529.1h0M1240.5 688.4h0M1340.6 780.9h0M1316.2 745.1h0M1155.4 661.4h0M1276.9 562.5h0M1166.3 638.1h0M1123.9 594.7h0M1186.0 600.2h0M1354.1 598.1h0M1263.6 577.6h0M1248.5 634.4h0M1239.9 616.6h0M1194.4 679.6h0M1377.6 600.3h0M1320.5 648.4h0M1387.5 796.8h0M1352.4 825.1h0M1274.9 739.1h0M1347.4 778.6h0M1292.6 682.8h0M1415.3 668.6h0M1346.7 617.5h0M1355.0 693.8h0M1278.5 608.5h0M1165.7 565.5h0M1298.8 668.1h0M1431.1 684.6h0M1311.6 838.2h0M1246.8 652.2h0M1376.4 612.8h0M1233.1 608.1h0M1156.4 555.7h0M1314.8 562.9h0M1217.8 546.3h0M1224.2 642.2h0M1209.1 547.8h0M1241.4 663.3h0M1323.4 679.6h0M1226.0 600.0h0M1152.4 578.2h0M1320.4 764.5h0M1221.7 680.8h0M1238.8 626.5h0M1273.9 580.0h0M1346.2 668.0h0M1302.1 772.3h0M1316.6 695.3h0M1355.5 717.2h0M1137.2 622.6h0M1197.0 579.8h0M1291.6 617.8h0M1420.1 702.4h0M1319.0 816.4h0M1334.9 833.0h0M1222.8 655.5h0M1380.0 566.1h0M1321.4 657.7h0M1179.4 597.3h0M1133.9 559.2h0M1249.3 552.8h0M1397.5 599.5h0M1321.7 698.9h0M1352.6 587.6h0M1297.5 855.6h0M1321.6 595.7h0M1294.7 630.1h0M1149.8 596.6h0M1276.2 741.3h0M1245.7 538.7h0M1266.3 656.1h0M1365.1 785.2h0M1420.0 664.0h0M1330.0 716.5h0M1371.9 772.3h0M1365.4 707.6h0M1365.6 588.6h0M1261.0 767.9h0M1307.8 799.3h0M1336.5 610.4h0M1309.8 744.7h0M1273.3 759.2h0M1367.6 647.1h0M1285.0 584.0h0M1265.6 716.9h0M1307.1 566.8h0M1349.8 660.1h0M1298.8 781.7h0M1355.5 562.6h0M1305.4 852.8h0M1346.1 551.9h0M1245.9 535.6h0M1360.7 771.2h0M1270.3 654.9h0M1194.2 604.3h0M1349.6 705.2h0M1213.2 599.9h0M1277.7 766.5h0M1305.1 733.8h0M1142.0 606.8h0M1169.6 512.0h0M1382.8 386.2h0M1500.9 562.4h0M1837.2 380.4h0M1590.3 417.3h0M1479.6 556.5h0M1371.7 436.5h0M1429.9 579.0h0M1445.5 437.3h0M1287.2 475.1h0M1695.7 552.0h0M1836.7 402.0h0M1570.9 417.4h0M1476.0 447.9h0M1421.1 548.5h0M1672.3 439.2h0M1342.0 377.2h0M1430.1 380.8h0M1153.6 512.3h0M1235.8 485.4h0M1691.8 437.0h0M1323.4 389.1h0M1563.1 569.9h0M1380.9 404.0h0M1466.9 602.5h0M1840.1 450.7h0M1583.4 566.9h0M1437.0 363.9h0M1644.1 539.2h0M1660.4 607.7h0M1376.9 495.8h0M1888.2 373.2h0M1675.9 432.6h0M1531.1 499.9h0M1413.3 426.8h0M1530.4 559.9h0M1486.9 381.3h0M1453.8 537.9h0M1238.5 451.7h0M1811.1 372.9h0M1731.4 449.8h0M1152.2 509.8h0M1455.3 517.5h0M1245.6 447.6h0M1377.1 439.2h0M1433.7 388.7h0M1701.3 369.2h0M1536.1 408.2h0M1667.4 709.3h0M1681.0 374.6h0M1522.9 458.5h0M1409.3 578.3h0M1483.2 556.5h0M1667.6 531.3h0M1626.2 370.3h0M1631.2 389.7h0M1735.7 362.3h0M1559.2 412.7h0M1660.8 451.0h0M1363.1 505.4h0M1582.4 557.8h0M1549.2 423.8h0M1586.7 436.0h0M1521.5 502.3h0M1539.9 608.7h0M1689.2 507.1h0M1453.1 491.2h0M1789.7 400.5h0M1636.2 589.3h0M1553.1 527.1h0M1582.5 444.5h0M1708.0 372.5h0M1497.7 386.6h0M1670.9 452.6h0M1460.7 566.0h0M1347.2 392.9h0M1402.2 568.0h0M1424.1 547.9h0M1704.5 405.5h0M1296.3 414.7h0M1267.5 433.9h0M1447.5 506.6h0M1514.3 372.3h0M1641.9 420.0h0M1590.6 557.5h0M1395.5 387.9h0M1643.1 476.3h0M1493.1 458.2h0M1560.7 568.5h0M1555.5 632.0h0M1400.4 418.2h0M1731.8 489.8h0M1394.3 509.0h0M1494.2 541.8h0M1513.6 552.9h0M1609.1 372.0h0M1554.2 607.1h0M1499.2 445.0h0M1430.7 622.1h0M1711.1 379.4h0M1755.9 382.6h0M1823.6 382.5h0M1864.0 381.5h0M1540.6 366.6h0M1861.3 382.2h0M1562.7 558.7h0M1212.4 463.6h0M1399.9 381.5h0M1394.7 404.4h0M1513.4 377.5h0M1665.7 574.2h0M1639.9 641.5h0M1571.0 443.6h0M1901.7 395.0h0M1470.0 503.5h0M1545.1 374.9h0M1715.5 474.2h0M1776.2 368.8h0M1610.7 565.4h0M1547.1 549.2h0M1413.9 527.2h0M1573.9 608.6h0M1672.4 395.0h0M1690.0 549.8h0M1482.3 429.6h0M1239.8 445.9h0M1633.7 533.1h0M1530.9 613.5h0M1447.1 518.9h0M1659.4 381.1h0M1788.7 415.6h0M1330.9 503.1h0M1778.6 365.1h0M1578.4 533.6h0M1604.4 358.3h0M1558.3 541.0h0M1516.4 432.1h0M1478.2 365.3h0M1392.3 413.1h0M1622.3 573.9h0M1749.9 403.5h0M1446.5 503.6h0M1321.0 419.4h0M1625.2 617.8h0M1476.6 619.9h0M1834.1 432.5h0M1731.0 472.8h0M1515.5 491.7h0M1496.3 444.5h0M1650.4 656.4h0M1674.3 405.9h0M1511.8 580.0h0M1366.0 421.0h0M1507.9 583.2h0M1414.1 381.6h0M1547.2 452.2h0M1546.1 476.1h0M1294.0 382.0h0M1467.3 478.7h0M1872.5 390.2h0M1261.9 438.9h0M1706.8 483.7h0M1389.8 463.4h0M1785.5 386.7h0M1514.5 420.2h0M1366.6 411.9h0M1634.0 635.1h0M1360.9 451.2h0M1388.2 413.4h0M1548.8 605.0h0M1539.4 358.5h0M1432.4 627.0h0M1315.6 490.4h0M1353.8 511.9h0M1572.0 587.7h0M1378.0 379.0h0M1409.0 607.3h0M1555.4 595.3h0M1205.3 466.9h0M1486.2 471.9h0M1618.0 542.5h0M1294.7 378.4h0M1726.1 485.2h0M1670.4 533.7h0M1400.0 453.8h0M1444.0 515.8h0M1609.3 431.6h0M1495.1 563.5h0M1592.8 480.5h0M1410.8 503.3h0M1252.0 411.0h0M1564.0 549.3h0M1527.8 536.5h0M1650.1 466.3h0M1552.0 602.1h0M1554.3 476.2h0M1569.6 480.5h0M1639.1 361.9h0M1460.7 589.5h0M1625.8 424.7h0M1654.0 532.2h0M1720.6 440.6h0M1539.7 616.8h0M1764.5 391.9h0M1618.9 480.1h0M1426.8 570.7h0M1891.4 381.4h0M1485.2 567.8h0M1447.4 381.1h0M1510.3 536.3h0M1866.1 396.4h0M1581.4 587.5h0M1405.3 598.3h0M1479.8 440.3h0M1719.4 374.7h0M1738.5 432.5h0M1570.2 346.8h0M1482.5 596.2h0M1292.4 416.4h0M1618.6 383.9h0M1451.2 575.0h0M1578.8 423.6h0M1664.3 452.7h0M1487.0 374.3h0M1320.6 474.8h0M1409.3 365.9h0M1667.2 650.2h0M1637.6 432.0h0M1533.7 601.4h0M1648.9 455.1h0M1338.4 488.6h0M1504.2 404.8h0M1750.5 396.2h0M1481.0 465.8h0M1296.2 464.8h0M1498.0 586.7h0M1556.1 561.0h0M1630.7 512.8h0M1441.6 541.9h0M1363.7 398.0h0M1688.5 432.1h0M1549.2 432.7h0M1601.0 565.7h0M1555.0 599.7h0M1427.8 600.0h0M1570.8 540.9h0M1411.3 488.9h0M1791.9 406.3h0M1479.9 481.3h0M1713.8 366.4h0M1374.0 434.7h0M1665.5 565.7h0M1595.2 354.6h0M1314.0 502.4h0M1364.2 386.5h0M1566.1 456.6h0M1543.4 624.5h0M1418.9 500.5h0M1672.7 526.7h0M1666.4 484.2h0M1547.7 509.0h0M1634.6 576.7h0M1407.0 547.0h0M1398.2 516.2h0M1267.5 385.4h0M1687.4 421.4h0M1520.3 608.8h0M1296.7 380.9h0M1444.5 577.0h0M1794.3 402.4h0M1510.2 480.2h0M1461.1 415.4h0M1495.1 496.3h0M1451.7 558.8h0M1583.2 550.2h0M1634.3 629.5h0M1560.1 578.5h0M1668.8 492.9h0M1507.6 590.3h0M1258.7 467.0h0M1523.8 525.4h0M1696.5 452.9h0M1407.1 375.2h0M1466.7 430.3h0M1337.0 425.4h0M1690.8 446.0h0M1591.7 423.7h0M1626.8 570.4h0M1689.3 500.6h0M1485.6 463.8h0M1607.2 509.0h0M1757.5 399.5h0M1652.9 630.7h0M1422.4 595.6h0M1657.1 618.8h0M1445.7 511.0h0M1602.7 471.4h0M1273.3 405.2h0M1707.5 478.4h0M1518.5 380.7h0M1293.0 454.2h0M1600.2 502.4h0M1670.2 433.7h0M1416.3 538.2h0M1566.5 605.9h0M1531.8 407.0h0M1684.5 399.0h0M1671.1 478.9h0M1581.2 533.3h0M1673.6 414.5h0M1580.6 442.6h0M1620.2 421.6h0M1412.8 461.0h0M1738.1 442.0h0M1317.5 485.9h0M1502.7 571.3h0M1484.5 468.9h0M1459.1 464.5h0M1579.3 502.8h0M1601.2 415.9h0M1661.7 538.8h0M1706.4 379.4h0M1274.0 453.8h0M1433.5 405.2h0M1575.8 528.2h0M1594.9 492.7h0M1281.4 485.0h0M1348.6 417.2h0M1440.1 588.7h0M1367.7 415.2h0M1421.6 537.8h0M1525.3 498.8h0M1567.7 501.5h0M1576.6 535.9h0M1494.0 487.9h0M1696.1 489.2h0M1407.8 392.8h0M1699.6 488.5h0M1626.7 574.5h0M1557.5 485.3h0M1632.5 529.0h0M1253.7 443.8h0M1178.0 525.0h0M1490.4 456.3h0M1676.3 591.0h0M1678.6 420.1h0M1625.6 468.9h0M1569.7 408.8h0M1748.4 410.9h0M1699.0 445.3h0M1529.7 574.9h0M1737.4 430.0h0M1812.3 388.6h0M1663.1 551.0h0M1820.7 387.3h0M1303.2 402.0h0M1620.3 567.5h0M1659.1 542.4h0M1599.4 467.1h0M1395.8 411.4h0M1726.5 422.9h0M1405.8 468.1h0M1484.6 486.7h0M1402.3 392.4h0M1625.0 614.5h0M1642.2 438.9h0M1559.9 476.5h0M1233.8 478.2h0M1650.9 373.1h0M1287.0 461.3h0M1850.1 375.8h0M1551.8 536.9h0M1335.5 414.8h0M1532.3 623.4h0M1469.5 461.7h0M1648.4 569.3h0M1444.0 423.6h0M1635.9 436.5h0M1651.2 387.4h0M1385.0 492.9h0M1535.7 540.9h0M1476.4 513.1h0M1685.0 466.7h0M1430.8 375.1h0M1635.4 544.0h0M1419.0 510.2h0M1661.8 705.1h0M1258.6 430.0h0M1894.3 374.1h0M1228.5 471.1h0M1666.5 547.5h0M1434.9 635.1h0M1753.5 406.8h0M1647.2 661.1h0M1601.9 409.6h0M1640.5 476.1h0M1896.9 389.5h0M1691.3 421.2h0M1676.9 478.8h0M1709.9 386.7h0M1595.7 550.0h0M1533.1 607.2h0M1621.1 468.9h0M1590.1 571.8h0M1318.6 441.8h0M1795.0 406.9h0M1739.2 411.4h0M1641.7 448.2h0M1555.1 487.1h0M1316.5 402.4h0M1440.0 593.2h0M1493.6 528.4h0M1565.1 539.3h0M1662.2 579.4h0M1460.5 624.7h0M1608.9 562.8h0M1338.2 408.8h0M1649.8 579.1h0M1349.5 511.2h0M1651.0 566.5h0M1686.9 450.3h0M1327.0 483.6h0M1333.3 385.7h0M1669.6 571.7h0M1435.0 581.1h0M1500.0 528.0h0M1604.7 365.8h0M1353.1 457.4h0M1657.4 509.8h0M1442.5 562.2h0M1472.0 498.0h0M1308.6 366.2h0M1409.3 500.4h0M1437.0 514.7h0M1452.4 527.2h0M1754.0 365.5h0M1256.1 435.5h0M1571.5 610.2h0M1604.0 538.9h0M1660.6 588.8h0M1765.4 407.5h0M1560.4 432.3h0M1424.0 511.6h0M1453.4 598.5h0M1811.8 405.0h0M1425.0 564.6h0M1550.8 615.1h0M1628.6 524.5h0M1570.0 397.0h0M1660.0 518.0h0M1746.8 417.9h0M1417.9 444.9h0M1618.9 611.8h0M1651.9 539.9h0M1430.8 405.0h0M1408.3 554.3h0M1569.5 352.9h0M1329.2 496.0h0M1833.4 390.0h0M1878.9 391.0h0M1464.3 514.8h0M1611.8 376.3h0M1321.6 450.8h0M1643.5 512.2h0M1363.6 432.7h0M1213.2 493.7h0M1528.9 510.5h0M1610.6 447.9h0M1505.3 451.1h0M1712.1 438.0h0M1805.3 387.6h0M1586.2 546.7h0M1539.5 450.1h0M1495.6 437.3h0M1773.3 371.5h0M1333.2 496.4h0M1583.9 476.9h0M1648.5 428.8h0M1191.9 499.7h0M1422.7 459.4h0M1625.0 604.8h0M1658.5 431.5h0M1605.0 506.0h0M1661.3 565.0h0M1650.3 572.5h0M1672.7 370.8h0M1411.8 405.6h0M1376.7 427.8h0M1602.4 437.6h0M1458.8 387.8h0M1433.2 621.4h0M1839.7 406.0h0M1524.7 592.7h0M1403.5 373.1h0M1296.5 444.8h0M1894.9 380.4h0M1366.6 383.6h0M1348.4 377.3h0M1397.1 575.2h0M1681.8 470.9h0M1549.9 624.6h0M1694.8 479.3h0M1608.5 554.8h0M1427.2 612.3h0M1280.6 430.4h0M1457.7 371.2h0M1807.5 404.9h0M1387.5 533.8h0M1677.7 390.0h0M1496.8 417.2h0M1528.1 464.7h0M1421.9 581.1h0M1477.6 451.8h0M1600.2 498.4h0M1471.7 475.6h0M1354.4 427.5h0M1442.3 513.4h0M1467.0 374.9h0M1654.2 469.1h0M1471.3 414.6h0M1836.6 366.4h0M1423.2 543.1h0M1628.3 377.7h0M1702.2 496.6h0M1643.6 647.8h0M1449.6 414.0h0M1663.0 568.3h0M1610.3 471.6h0M1658.5 387.1h0M1645.2 575.5h0M1760.5 363.7h0M1526.8 551.2h0M1438.0 432.0h0M1680.7 439.0h0M1451.8 384.4h0M1535.9 499.9h0M1751.9 399.8h0M1580.0 386.2h0M1621.9 608.0h0M1302.2 492.2h0M1408.0 480.5h0M1660.3 709.2h0M1637.2 616.3h0M1666.5 641.1h0M1489.1 540.7h0M1696.4 574.6h0M1457.5 414.7h0M1503.8 381.3h0M1687.4 411.7h0M1527.2 571.3h0M1680.6 528.7h0M1274.3 489.9h0M1446.0 527.1h0M1669.7 589.3h0M1335.4 444.7h0M1383.8 405.0h0M1255.7 453.8h0M1548.7 571.7h0M1369.5 508.5h0M1477.0 368.7h0M1389.0 471.3h0M1729.3 382.5h0M1560.7 595.3h0M1536.6 618.8h0M1438.1 466.1h0M1589.4 381.5h0M1627.9 493.2h0M1741.5 380.4h0M1589.5 521.3h0M1693.8 472.5h0M1517.0 405.0h0M1522.8 570.7h0M1694.2 544.5h0M1608.3 551.3h0M1265.8 476.2h0M1623.6 419.2h0M1518.5 589.2h0M1431.6 585.3h0M1583.4 425.8h0M1463.5 367.2h0M1838.9 431.0h0M1451.5 432.7h0M1611.5 512.7h0M1487.2 577.5h0M1492.1 551.1h0M1634.2 614.7h0M1495.9 575.3h0M1647.4 519.1h0M1339.9 392.8h0M1394.9 477.6h0M1649.6 616.5h0M1711.5 374.7h0M1402.5 430.5h0M1681.0 549.9h0M1366.9 442.1h0M1374.3 402.2h0M1308.7 391.6h0M1644.3 500.9h0M1835.9 397.3h0M1906.4 367.8h0M1548.4 506.4h0M1417.8 531.5h0M1389.4 369.5h0M1530.4 445.9h0M1685.1 506.7h0M1505.6 361.9h0M1404.0 555.0h0M1475.7 388.4h0M1632.1 472.5h0M1651.6 662.6h0M1918.4 387.0h0M1473.1 492.5h0M1573.6 511.3h0M1580.2 364.6h0M1241.1 464.2h0M1640.4 527.8h0M1468.3 567.7h0M1621.0 498.6h0M1489.7 373.6h0M1689.3 403.7h0M1538.7 392.1h0M1420.8 437.8h0M1291.3 390.0h0M1716.6 495.9h0M1483.0 474.7h0M1409.9 395.1h0M1469.6 410.1h0M1623.3 443.9h0M1290.6 435.2h0M1656.3 501.0h0M1558.0 467.7h0M1441.5 622.7h0M1756.6 364.2h0M1713.2 456.1h0M1399.2 369.8h0M1196.1 519.5h0M1701.9 378.4h0M1679.8 466.8h0M1699.1 538.1h0M1587.9 444.1h0M1596.2 504.0h0M1374.6 530.8h0M1643.5 612.1h0M1732.2 476.2h0M1168.2 496.4h0M1695.3 515.8h0M1401.0 437.0h0M1573.9 391.9h0M1411.8 586.1h0M1156.4 513.0h0M1619.0 496.1h0M1632.3 477.0h0M1436.9 428.2h0M1420.5 364.0h0M1437.5 509.8h0M1341.7 398.4h0M1459.5 535.0h0M1693.3 563.7h0M1499.4 491.8h0M1611.7 517.4h0M1362.7 376.2h0M1625.1 522.9h0M1365.5 447.1h0M1653.2 595.3h0M1322.0 393.9h0M1416.8 579.3h0M1544.1 548.6h0M1409.8 368.8h0M1397.9 590.3h0M1470.8 572.2h0M1441.3 421.3h0M1687.6 415.5h0M1664.8 366.8h0M1452.2 483.6h0M1783.3 414.9h0M1620.6 460.1h0M1362.7 464.0h0M1251.7 476.8h0M1538.4 434.9h0M1658.2 556.3h0M1711.6 392.7h0M1704.2 499.3h0M1665.3 391.6h0M1387.6 451.5h0M1263.6 417.3h0M1207.5 506.9h0M1147.2 502.4h0M1523.9 506.7h0M1373.8 519.8h0M1539.2 496.4h0M1361.9 424.7h0M1282.3 436.8h0M1279.7 462.6h0M1656.9 607.1h0M1534.8 391.6h0M1564.0 374.4h0M1686.9 407.6h0M1215.8 477.8h0M1476.0 616.7h0M1202.2 482.1h0M1545.7 572.7h0M1819.8 431.0h0M1722.8 407.0h0M1594.1 439.1h0M1567.3 476.1h0M1248.0 479.1h0M1793.1 371.8h0M1338.2 476.0h0M1524.4 549.2h0M1497.7 404.6h0M1581.2 471.9h0M1547.9 436.6h0M1450.8 625.8h0M1366.5 453.0h0M1590.6 585.7h0M1444.4 432.8h0M1684.9 417.5h0M1692.5 411.1h0M1708.9 459.8h0M1488.3 406.3h0M1588.7 574.5h0M1491.6 574.3h0M1634.2 457.4h0M1526.9 471.3h0M1512.6 459.4h0M1636.6 456.1h0M1669.0 439.1h0M1546.7 498.2h0M1512.0 421.4h0M1467.0 531.4h0M1625.4 501.2h0M1629.2 589.1h0M1773.9 356.7h0M1438.7 459.9h0M1361.1 371.5h0M1154.9 508.7h0M1443.2 383.8h0M1684.6 585.2h0M1411.4 381.3h0M1781.0 395.2h0M1664.4 524.0h0M1561.2 510.1h0M1534.6 463.7h0M1407.4 389.3h0M1439.5 624.4h0M1453.5 503.4h0M1446.7 542.4h0M1845.5 390.0h0M1429.4 433.6h0M1598.6 454.3h0M1530.7 638.0h0M1616.2 527.9h0M1571.6 366.5h0M1857.0 381.8h0M1347.7 508.1h0M1288.6 448.0h0M1340.8 468.7h0M1818.9 425.7h0M1472.0 525.8h0M1679.4 446.5h0M1805.7 361.9h0M1618.3 532.2h0M1824.7 403.2h0M1351.5 437.2h0M1397.8 426.5h0M1741.0 367.1h0M1244.5 409.0h0M1573.7 591.7h0M1295.5 478.4h0M1652.4 378.2h0M1368.9 447.2h0M1338.0 441.4h0M1794.3 384.9h0M1436.5 454.7h0M1456.9 436.9h0M1477.9 386.0h0M1525.8 480.8h0M1600.2 404.0h0M1709.3 363.3h0M1551.7 647.0h0M1259.3 463.9h0M1435.7 469.8h0M1594.8 558.5h0M1602.6 467.6h0M1445.3 583.6h0M1565.8 582.1h0M1279.3 394.3h0M1617.6 492.5h0M1491.7 468.1h0M1436.5 597.9h0M1573.9 461.2h0M1679.4 403.7h0M1565.5 392.3h0M1518.2 601.0h0M1622.1 514.8h0M1689.4 520.4h0M1432.9 420.7h0M1541.7 627.0h0M1646.4 599.8h0M1564.4 361.7h0M1564.5 623.4h0M1415.6 585.6h0M1603.9 353.8h0M1836.0 417.0h0M1507.9 569.7h0M1654.3 410.4h0M1541.6 418.4h0M1396.6 377.9h0M1340.5 493.7h0M1614.2 482.2h0M1235.6 493.8h0M1642.8 492.3h0M1573.7 466.3h0M1647.0 422.4h0M1775.2 364.7h0M1471.1 456.6h0M1889.6 398.2h0M1530.2 635.0h0M1629.5 554.9h0M1609.5 467.5h0M1646.7 627.8h0M1631.3 436.4h0M1542.6 406.7h0M1714.8 405.7h0M1478.0 548.0h0M1348.9 409.2h0M1844.7 381.3h0M1596.4 537.6h0M1637.9 539.5h0M1389.0 409.1h0M1641.5 482.0h0M1275.8 469.8h0M1668.6 563.6h0M1903.1 385.2h0M1533.9 492.6h0M1682.0 366.3h0M1622.0 546.5h0M1461.1 593.7h0M1393.6 429.4h0M1209.1 471.8h0M1652.6 574.4h0M1564.7 589.5h0M1686.5 500.7h0M1828.0 435.0h0M1718.8 409.4h0M1527.6 397.5h0M1463.2 621.9h0M1790.0 410.9h0M1674.5 490.8h0M1603.6 402.3h0M1617.3 425.3h0M1449.1 621.2h0M1631.5 496.9h0M1657.7 504.4h0M1350.9 404.4h0M1704.3 411.6h0M1453.3 461.1h0M1633.9 551.9h0M1649.4 534.9h0M1613.1 390.6h0M1388.4 482.8h0M1366.0 407.9h0M1452.1 632.5h0M1453.6 578.3h0M1516.3 428.1h0M1293.4 451.2h0M1698.1 479.8h0M1539.8 522.1h0M1418.6 441.5h0M1623.7 487.8h0M1583.3 455.8h0M1284.3 454.9h0M1609.6 412.4h0M1423.8 386.9h0M1666.8 464.6h0M1297.7 481.9h0M1476.2 555.4h0M1360.4 518.6h0M1606.4 524.9h0M1475.2 611.6h0M1304.4 431.6h0M1632.3 567.4h0M1580.7 464.2h0M1687.5 481.4h0M1604.1 407.3h0M1660.3 393.0h0M1725.8 363.1h0M1734.7 480.2h0M1723.0 374.0h0M1287.3 488.2h0M1531.2 543.9h0M1225.9 464.5h0M1700.2 454.4h0M1518.8 494.9h0M1621.4 615.7h0M1545.0 436.9h0M1838.7 394.9h0M1561.7 438.0h0M1696.9 506.3h0M1542.4 495.0h0M1652.9 614.2h0M1428.6 521.4h0M1882.4 393.5h0M1626.7 530.8h0M1513.2 363.5h0M1449.7 492.3h0M1589.0 497.4h0M1501.5 436.4h0M1287.0 443.1h0M1576.3 513.4h0M1466.0 588.9h0M1809.9 419.0h0M1605.8 425.7h0M1646.7 536.0h0M1329.0 436.3h0M1816.6 392.1h0M1643.4 387.6h0M1674.5 506.4h0M1292.7 468.3h0M1631.9 582.5h0M1259.3 396.6h0M1528.3 483.2h0M1506.9 443.4h0M1477.5 436.9h0M1668.2 545.0h0M1579.9 477.1h0M1494.8 520.5h0M1621.1 387.5h0M1688.8 555.1h0M1420.2 543.0h0M1633.8 364.8h0M1236.4 464.3h0M1302.6 447.7h0M1895.1 392.0h0M1437.5 490.6h0M1467.2 606.7h0M1408.0 475.2h0M1721.1 500.7h0M1429.2 567.2h0M1278.3 380.4h0M1614.9 370.0h0M1506.7 491.3h0M1799.3 399.9h0M1594.7 487.1h0M1557.4 361.6h0M1806.7 372.0h0M1532.2 427.9h0M1658.6 371.2h0M1562.6 490.6h0M1563.0 607.5h0M1448.4 378.1h0M1586.3 576.9h0M1433.7 504.5h0M1674.8 534.1h0M1548.1 536.2h0M1626.5 461.8h0M1407.0 448.7h0M1591.3 355.4h0M1349.3 448.7h0M1670.3 655.1h0M1407.3 512.6h0M1413.7 378.0h0M1507.3 495.2h0M1676.2 400.1h0M1542.9 631.6h0M1311.3 422.9h0M1592.8 454.2h0M1246.0 391.4h0M1893.0 396.4h0M1474.4 475.9h0M1399.7 575.5h0M1250.4 415.1h0M1169.8 530.7h0M1689.4 396.8h0M1651.4 642.1h0M1273.2 435.0h0M1623.7 563.6h0M1849.4 385.4h0M1649.6 432.4h0M1682.4 524.3h0M1372.5 516.5h0M1669.7 371.7h0M1478.2 374.2h0M1582.7 377.4h0M1640.5 467.3h0M1556.7 496.0h0M1192.0 505.4h0M1304.8 489.6h0M1873.5 362.1h0M1833.3 436.5h0M1592.4 489.3h0M1661.5 427.0h0M1508.7 455.3h0M1476.3 532.8h0M1665.7 506.4h0M1511.7 597.0h0M1659.3 416.3h0M1510.9 369.2h0M1839.1 388.8h0M1408.7 589.5h0M1369.9 379.4h0M1382.3 514.8h0M1815.8 380.0h0M1463.7 570.8h0M1404.4 376.0h0M1200.7 486.8h0M1625.0 567.6h0M1599.1 578.3h0M1376.7 411.1h0M1614.9 357.3h0M1475.6 472.5h0M1630.0 416.6h0M1680.5 412.1h0M1800.7 381.8h0M1602.4 384.8h0M1332.1 442.6h0M1235.4 439.7h0M1772.5 412.0h0M1432.8 572.9h0M1709.7 517.1h0M1499.0 468.2h0M1465.3 628.3h0M1292.9 394.6h0M1639.1 378.5h0M1732.7 462.0h0M1567.7 592.8h0M1463.4 597.9h0M1412.8 588.8h0M1317.8 393.6h0M1411.0 439.4h0M1643.7 561.2h0M1471.1 560.0h0M1359.7 474.3h0M1321.7 433.2h0M1519.8 482.6h0M1604.2 393.7h0M1671.9 546.8h0M1593.3 511.4h0M1491.8 530.5h0M1477.5 507.9h0M1403.3 589.8h0M1640.4 558.5h0M1882.9 382.5h0M1579.3 448.7h0M1494.4 582.1h0M1566.8 440.9h0M1691.1 449.3h0M1616.5 538.4h0M1467.4 509.6h0M1682.6 486.0h0M1266.6 504.9h0M1514.6 529.8h0M1393.1 378.2h0M1444.8 551.8h0M1360.2 495.0h0M1673.5 435.3h0M1713.0 489.2h0M1328.2 488.0h0M1668.6 678.2h0M1265.0 383.8h0M1494.0 592.2h0M1402.1 415.4h0M1564.6 529.7h0M1666.6 527.5h0M1331.7 462.0h0M1902.0 379.5h0M1564.4 616.2h0M1594.7 500.3h0M1670.1 659.5h0M1576.8 377.0h0M1639.8 532.2h0M1228.3 477.9h0M1366.5 502.3h0M1616.6 468.3h0M1675.1 583.5h0M1519.2 569.7h0M1481.9 450.2h0M1687.2 589.4h0M1494.6 373.7h0M1656.1 614.8h0M1464.8 524.3h0M1505.8 412.8h0M1827.7 421.7h0M1510.1 477.1h0M1509.4 431.7h0M1388.9 511.8h0M1514.3 383.8h0M1679.9 423.9h0M1437.6 573.6h0M1271.0 442.5h0M1536.8 494.3h0M1684.8 511.8h0M1703.7 458.5h0M1565.7 389.2h0M1356.6 397.9h0M1535.7 359.1h0M1647.5 436.4h0M1307.9 476.2h0M1490.9 567.0h0M1546.0 447.2h0M1442.0 522.7h0M1586.7 469.2h0M1642.1 427.0h0M1803.3 418.5h0M1472.0 481.4h0M1469.1 601.0h0M1505.6 431.3h0M1723.3 451.6h0M1388.3 509.2h0M1502.2 536.9h0M1604.3 557.7h0M1255.3 388.5h0M1377.2 536.3h0M1397.2 494.5h0M1599.0 531.5h0M1520.1 461.0h0M1390.0 448.3h0M1347.1 427.8h0M1829.0 445.0h0M1740.9 405.5h0M1624.1 528.7h0M1595.3 483.6h0M1568.3 462.1h0M1575.2 386.7h0M1604.7 443.8h0M1585.9 375.1h0M1590.4 524.6h0M1299.7 376.9h0M1657.3 712.4h0M1356.8 412.4h0M1630.4 386.3h0M1448.9 401.6h0M1636.7 624.9h0M1628.6 488.7h0M1534.9 449.7h0M1267.3 419.0h0M1597.9 487.6h0M1567.7 401.7h0M1610.6 409.1h0M1303.2 375.9h0M1706.9 510.5h0M1670.1 399.7h0M1662.7 502.6h0M1392.7 572.8h0M1561.5 505.6h0M1311.1 433.6h0M1558.7 494.2h0M1261.2 428.0h0M1609.2 421.7h0M1343.5 380.3h0M1636.9 610.9h0M1300.8 435.3h0M1658.9 582.8h0M1465.4 432.7h0M1469.3 587.3h0M1270.1 456.7h0M1160.0 523.3h0M1476.7 504.5h0M1623.0 397.5h0M1437.7 476.3h0M1613.6 619.0h0M1357.8 428.4h0M1561.2 518.6h0M1688.9 539.7h0M1460.9 576.9h0M1746.2 369.8h0M1337.1 472.5h0M1314.5 496.4h0M1617.4 597.4h0M1665.2 495.1h0M1630.6 527.3h0M1521.2 467.2h0M1242.1 484.1h0M1255.5 417.8h0M1467.0 438.9h0M1680.2 583.0h0M1504.4 427.7h0M1687.3 492.8h0M1652.4 622.8h0M1489.7 411.0h0M1187.2 522.2h0M1388.6 486.4h0M1689.1 536.1h0M1417.0 404.3h0M1509.5 602.2h0M1633.9 549.1h0M1568.6 437.2h0M1840.4 368.0h0M1558.9 534.0h0M1690.7 503.4h0M1634.8 370.2h0M1862.9 385.0h0M1489.4 382.9h0M1469.2 615.4h0M1733.1 436.0h0M1604.1 548.3h0M1582.2 432.9h0M1470.4 618.7h0M1449.9 523.5h0M1301.3 465.7h0M1521.7 592.9h0M1846.8 398.0h0M1876.9 369.5h0M1760.2 381.7h0M1476.3 587.6h0M1584.0 521.0h0M1555.6 587.3h0M1311.4 398.6h0M1609.7 439.6h0M1408.5 574.6h0M1641.8 472.8h0M1694.1 466.2h0M1543.8 472.5h0M1511.8 380.9h0M1633.3 515.4h0M1392.3 557.7h0M1802.3 359.9h0M1459.1 558.4h0M1688.6 469.1h0M1678.0 499.0h0M1382.6 502.0h0M1599.4 418.4h0M1292.8 429.4h0M1701.6 435.0h0M1636.8 517.6h0M1623.3 482.8h0M1252.8 420.1h0M1371.1 405.8h0M1429.5 443.8h0M1597.0 357.6h0M1634.7 385.6h0M1545.8 610.0h0M1413.3 534.0h0M1303.7 412.4h0M1224.0 482.9h0M1466.4 409.2h0M1368.2 392.8h0M1469.9 483.2h0M1209.3 493.0h0M1619.6 465.6h0M1610.7 615.6h0M1741.5 436.1h0M1207.7 497.0h0M1160.2 515.0h0M1270.2 370.8h0M1504.8 435.2h0M1538.0 579.7h0M1836.7 382.9h0M1251.8 460.7h0M1573.0 503.7h0M1686.5 557.2h0M1870.8 375.7h0M1574.9 580.7h0M1703.9 489.9h0M1632.0 620.5h0M1670.0 602.3h0M1395.1 382.2h0M1470.8 507.1h0M1353.6 418.9h0M1311.4 372.8h0M1314.3 407.5h0M1640.2 505.3h0M1708.1 427.1h0M1725.1 413.6h0M1251.9 389.9h0M1569.2 575.0h0M1314.8 455.6h0M1270.1 437.6h0M1493.4 596.4h0M1558.2 406.1h0M1351.2 394.2h0M1265.8 497.3h0M1611.1 481.6h0M1668.9 414.3h0M1591.2 516.0h0M1425.0 595.1h0M1448.9 436.7h0M1563.2 524.4h0M1453.4 570.4h0M1657.9 668.6h0M1519.1 417.6h0M1368.5 437.3h0M1654.3 372.9h0M1864.4 365.0h0M1719.8 476.0h0M1433.2 362.8h0M1679.3 480.7h0M1634.8 413.7h0M1681.3 387.5h0M1520.4 457.6h0M1440.9 462.8h0M1478.6 460.5h0M1635.7 484.1h0M1815.8 384.5h0M1652.4 403.2h0M1843.2 451.8h0M1863.4 391.7h0M1713.2 446.2h0M1553.5 520.5h0M1544.8 460.7h0M1362.5 383.6h0M1617.6 363.5h0M1656.8 488.5h0M1197.5 515.9h0M1498.8 565.5h0M1631.6 499.8h0M1157.0 518.7h0M1442.9 407.6h0M1524.7 560.5h0M1857.1 371.5h0M1431.7 372.2h0M1750.6 357.0h0M1496.9 548.9h0M1310.4 453.3h0M1756.6 395.5h0M1565.8 555.1h0M1692.8 389.3h0M1531.3 555.9h0M1613.7 574.6h0M1857.9 379.3h0M1401.2 587.0h0M1551.3 392.9h0M1424.9 416.1h0M1574.9 553.7h0M1733.0 464.9h0M1575.7 382.6h0M1383.6 496.3h0M1425.4 405.6h0M1305.6 405.5h0M1558.0 543.8h0M1700.8 472.9h0M1556.7 625.7h0M1571.1 501.4h0M1534.5 614.0h0M1626.1 411.0h0M1653.2 633.9h0M1569.8 586.0h0M1348.0 514.6h0M1828.9 452.6h0M1544.4 400.3h0M1708.3 391.9h0M1679.8 585.6h0M1627.4 557.3h0M1708.4 413.5h0M1611.6 445.4h0M1268.8 513.9h0M1721.3 503.5h0M1555.9 538.3h0M1498.2 498.6h0M1155.1 501.3h0M1730.1 456.5h0M1331.6 455.1h0M1670.7 577.8h0M1495.6 440.1h0M1548.4 552.4h0M1520.5 532.2h0M1722.1 487.0h0M1622.9 402.0h0M1617.2 438.2h0M1511.7 428.9h0M1812.0 408.0h0M1332.4 433.8h0M1216.6 474.9h0M1503.2 494.7h0M1450.9 599.6h0M1349.3 471.1h0M1435.3 496.0h0M1403.6 488.0h0M1591.3 437.3h0M1463.0 629.7h0M1670.4 550.5h0M1641.2 543.9h0M1288.4 484.5h0M1430.3 563.4h0M1189.6 508.3h0M1396.7 554.5h0M1500.7 407.5h0M1177.1 528.1h0M1652.8 657.8h0M1156.9 523.5h0M1248.1 488.0h0M1403.7 448.0h0M1420.6 393.7h0M1691.6 463.8h0M1723.5 441.0h0M1707.7 409.2h0M1403.9 577.6h0M1522.1 394.4h0M1428.3 540.5h0M1551.5 506.5h0M1473.5 486.0h0M1659.7 495.9h0M1797.1 389.4h0M1449.8 612.2h0M1391.5 515.3h0M1305.3 498.3h0M1808.1 422.1h0M1434.7 437.5h0M1565.0 424.4h0M1777.1 405.1h0M1660.1 435.1h0M1560.4 462.8h0M1480.8 545.4h0M1699.3 378.7h0M1217.8 496.5h0M1753.1 382.7h0M1662.0 512.1h0M1585.1 513.3h0M1702.7 400.3h0M1644.5 653.1h0M1467.0 387.9h0M1628.1 497.4h0M1522.9 544.6h0M1547.5 368.7h0M1651.6 569.3h0M1483.8 498.5h0M1336.7 485.8h0M1448.3 394.4h0M1311.8 418.0h0M1658.4 593.8h0M1675.4 577.5h0M1821.3 394.4h0M1780.3 403.7h0M1337.7 388.6h0M1645.0 520.3h0M1484.5 409.0h0M1474.1 507.4h0M1684.3 566.9h0M1440.8 400.0h0M1422.7 420.3h0M1510.0 419.5h0M1441.8 631.5h0M1643.9 396.2h0M1455.2 383.9h0M1359.1 467.4h0M1763.8 411.7h0M1244.5 479.5h0M1464.7 475.8h0M1474.5 395.1h0M1565.4 494.9h0M1419.3 555.0h0M1518.4 580.5h0M1699.7 481.9h0M1612.7 509.3h0M1633.8 432.4h0M1547.9 428.6h0M1520.9 612.2h0M1682.7 426.2h0M1406.3 427.5h0M1487.8 574.3h0M1543.9 620.7h0M1533.0 472.1h0M1677.2 429.5h0M1229.8 467.9h0M1219.9 484.7h0M1406.5 483.0h0M1582.9 398.9h0M1307.8 502.9h0M1430.4 430.0h0M1337.6 433.6h0M1600.1 571.6h0M1473.0 380.1h0M1549.9 462.7h0M1470.4 423.4h0M1637.7 581.8h0M1301.8 395.9h0M1590.3 451.6h0M1728.9 464.0h0M1333.2 431.4h0M1665.0 557.9h0M1561.4 359.6h0M1359.0 413.9h0M1440.2 470.5h0M1614.1 602.0h0M1525.3 468.6h0M1632.1 605.6h0M1446.4 450.5h0M1646.0 565.2h0M1352.0 467.4h0M1835.8 447.9h0M1687.6 497.8h0M1398.1 456.5h0M1619.5 403.2h0M1488.0 432.8h0M1535.4 402.5h0M1495.6 473.2h0M1621.6 511.4h0M1266.6 489.5h0M1532.9 558.5h0M1620.2 451.3h0M1248.0 417.6h0M1546.2 525.5h0M1268.9 493.6h0M1340.0 448.2h0M1627.0 399.2h0M1468.7 442.6h0M1290.8 377.3h0M1842.3 384.0h0M1711.8 400.7h0M1537.9 592.6h0M1873.5 381.1h0M1571.9 518.4h0M1502.8 389.2h0M1643.5 556.2h0M1579.5 562.7h0M1318.1 498.6h0M1677.9 542.9h0M1371.0 402.5h0M1502.4 487.2h0M1412.7 494.0h0M1286.6 438.5h0M1249.5 470.8h0M1314.1 440.7h0M1534.2 469.6h0M1243.5 397.1h0M1749.3 460.7h0M1703.4 445.2h0M1447.2 606.6h0M1203.8 477.2h0M1547.9 651.1h0M1587.6 395.5h0M1381.0 493.0h0M1644.0 442.7h0M1455.7 476.3h0M1702.1 570.4h0M1362.3 453.9h0M1603.9 391.1h0M1587.0 422.6h0M1405.6 532.3h0M1457.5 471.3h0M1484.1 611.5h0M1711.8 425.6h0M1481.3 598.6h0M1582.8 528.6h0M1525.8 423.6h0M1283.6 496.2h0M1408.5 559.5h0M1381.1 522.4h0M1434.6 527.9h0M1230.4 484.8h0M1491.5 441.9h0M1561.2 474.0h0M1541.5 545.4h0M1462.9 435.0h0M1581.6 598.9h0M1541.5 463.1h0M1178.4 510.8h0M1393.0 487.1h0M1687.6 509.3h0M1753.0 391.7h0M1540.8 403.0h0M1852.2 362.0h0M1602.1 573.9h0M1631.9 558.6h0M1538.0 555.6h0M1231.4 498.7h0M1365.5 434.7h0M1380.8 383.6h0M1536.3 643.8h0M1572.7 361.2h0M1386.3 381.4h0M1872.7 370.1h0M1458.4 532.3h0M1312.7 445.8h0M1467.8 394.3h0M1651.3 470.5h0M1865.4 376.5h0M1556.7 535.6h0M1425.2 529.5h0M1512.2 509.7h0M1642.0 581.3h0M1685.4 490.5h0M1390.4 420.0h0M1335.4 489.1h0M1546.7 645.8h0M1606.8 430.3h0M1751.5 413.5h0M1294.0 501.3h0M1529.7 621.2h0M1664.0 706.8h0M1507.1 398.2h0M1324.9 441.5h0M1509.0 467.0h0M1274.2 399.0h0M1614.9 612.5h0M1685.7 387.3h0M1649.9 628.8h0M1598.4 443.7h0M1659.0 625.6h0M1404.0 404.4h0M1647.0 587.9h0M1395.3 570.1h0M1685.4 446.1h0M1518.5 444.2h0M1473.8 431.6h0M1676.2 443.3h0M1421.3 527.9h0M1686.1 478.3h0M1589.3 446.5h0M1743.4 454.7h0M1538.5 651.8h0M1562.4 401.7h0M1462.2 540.5h0M1308.8 442.6h0M1378.2 476.3h0M1371.0 458.6h0M1322.2 403.8h0M1606.5 473.3h0M1494.9 455.5h0M1665.8 644.4h0M1640.4 611.2h0M1873.0 366.8h0M1534.2 377.7h0M1359.3 400.4h0M1651.5 429.1h0M1542.5 452.6h0M1202.0 510.5h0M1696.9 496.6h0M1498.2 511.6h0M1426.4 396.0h0M1529.7 529.7h0M1642.9 525.9h0M1748.8 475.4h0M1546.3 382.4h0M1855.4 389.0h0M1287.8 510.7h0M1258.3 476.5h0M1577.8 602.9h0M1207.2 474.3h0M1544.9 559.0h0M1362.6 469.8h0M1545.9 605.2h0M1644.3 401.4h0M1220.1 479.4h0M1626.4 551.7h0M1454.0 397.9h0M1628.3 422.0h0M1620.6 488.0h0M1681.5 418.5h0M1423.6 437.1h0M1447.3 362.9h0M1655.0 474.9h0M1409.5 450.1h0M1597.2 377.0h0M1504.7 458.4h0M1619.6 590.8h0M1442.1 447.0h0M1637.4 510.8h0M1770.8 370.8h0M1441.7 502.7h0M1282.0 371.3h0M1711.0 468.1h0M1319.0 417.2h0M1674.0 568.8h0M1424.4 429.7h0M1628.2 595.8h0M1877.5 393.9h0M1906.0 385.5h0M1499.2 592.7h0M1511.0 402.4h0M1630.0 520.8h0M1651.0 582.5h0M1308.1 487.4h0M1440.9 531.3h0M1332.6 423.6h0M1589.3 434.1h0M1217.2 466.6h0M1489.0 513.3h0M1391.5 396.5h0M1355.8 406.5h0M1680.9 537.5h0M1459.9 631.3h0M1335.9 478.4h0M1608.0 461.1h0M1528.9 478.9h0M1461.6 369.1h0M1326.5 394.2h0M1619.1 504.4h0M1312.4 381.5h0M1706.6 388.2h0M1694.7 363.1h0M1453.5 563.5h0M1446.0 604.1h0M1373.0 366.1h0M1781.6 388.2h0M1627.3 387.9h0M1412.6 520.4h0M1552.5 626.5h0M1799.0 379.5h0M1478.5 378.1h0M1368.7 471.0h0M1554.1 567.9h0M1636.0 399.7h0M1653.2 408.0h0M1428.7 411.8h0M1460.0 586.3h0M1227.7 458.0h0M1533.2 389.2h0M1661.5 523.7h0M1488.2 461.0h0M1678.0 519.4h0M1527.6 407.6h0M1861.0 388.8h0M1445.3 524.1h0M1537.4 626.0h0M1488.7 551.7h0M1309.6 457.1h0M1728.8 408.6h0M1629.5 404.7h0M1238.8 487.0h0M1296.6 389.1h0M1531.2 503.3h0M1804.4 402.3h0M1340.2 451.8h0M1543.4 642.9h0M1164.8 525.6h0M1422.4 408.7h0M1408.3 406.0h0M1594.6 399.3h0M1232.0 464.5h0M1347.3 524.5h0M1853.3 392.6h0M1445.0 488.6h0M1532.6 512.7h0M1655.7 459.3h0M1264.7 499.7h0M1810.5 395.7h0M1800.6 408.4h0M1652.0 518.5h0M1535.9 581.7h0M1845.9 395.3h0M1531.2 476.6h0M1560.1 465.4h0M1610.4 463.7h0M1729.6 476.1h0M1493.5 421.4h0M1529.3 427.2h0M1715.7 508.0h0M1313.8 429.6h0M1722.6 473.4h0M1457.3 456.1h0M1347.8 464.8h0M1555.5 572.7h0M1686.1 382.6h0M1548.5 494.0h0M1885.7 378.3h0M1379.5 479.6h0M1533.1 415.5h0M1481.3 548.9h0M1607.0 557.5h0M1503.1 396.7h0M1479.8 523.0h0M1579.6 412.2h0M1693.9 460.6h0M1608.4 455.1h0M1403.5 397.3h0M1246.1 387.4h0M1223.9 478.9h0M1722.9 381.6h0M1595.5 431.8h0M1639.5 491.9h0M1657.6 654.4h0M1818.1 386.4h0M1656.7 579.8h0M1762.4 367.7h0M1280.9 448.4h0M1302.4 427.3h0M1364.7 371.2h0M1421.7 444.8h0M1435.4 632.2h0M1675.5 512.6h0M1467.6 447.5h0M1678.4 513.7h0M1353.5 421.9h0M1428.3 461.9h0M1622.7 621.1h0M1427.8 445.9h0M1669.8 706.7h0M1465.1 501.9h0M1562.4 602.7h0M1312.7 392.4h0M1507.8 573.1h0M1593.3 463.4h0M1684.6 533.8h0M1527.8 449.4h0M1516.5 514.7h0M1817.4 375.6h0M1560.2 553.1h0M1291.2 372.1h0M1612.8 414.4h0M1696.5 459.4h0M1663.6 686.5h0M1835.6 408.7h0M1492.7 366.6h0M1498.9 557.4h0M1633.4 403.2h0M1250.3 485.7h0M1264.9 468.0h0M1398.5 525.8h0M1557.7 475.0h0M1239.9 500.8h0M1278.2 432.7h0M1242.3 415.6h0M1645.8 646.0h0M1353.4 409.6h0M1392.5 512.1h0M1570.3 420.3h0M1917.2 399.0h0M1688.9 392.9h0M1631.2 375.9h0M1531.4 536.1h0M1811.9 400.5h0M1831.5 395.6h0M1514.5 496.8h0M1612.7 405.9h0M1436.5 420.3h0M1266.7 473.1h0M1636.4 381.5h0M1510.6 446.3h0M1888.1 366.7h0M1405.6 371.1h0M1633.7 494.9h0M1596.5 373.4h0M1399.2 439.3h0M1318.4 390.9h0M1577.2 473.2h0M1568.6 493.1h0M1320.3 481.6h0M1153.3 519.0h0M1836.4 421.4h0M1497.1 531.5h0M1570.6 379.2h0M1496.7 552.1h0M1365.4 380.8h0M1602.0 380.7h0M1608.2 449.3h0M1408.7 505.9h0M1834.3 387.4h0M1706.7 415.9h0M1678.0 495.8h0M1549.5 627.4h0M1415.6 479.4h0M1515.6 566.1h0M1574.0 402.1h0M1618.2 431.3h0M1302.7 519.2h0M1866.9 374.2h0M1347.3 422.9h0M1645.3 374.5h0M1653.6 552.8h0M1650.6 474.8h0M1807.9 398.7h0M1663.7 435.9h0M1669.3 586.5h0M1804.4 414.0h0M1836.7 369.2h0M1400.1 594.1h0M1839.8 441.5h0M1415.9 615.2h0M1533.7 384.6h0M1597.1 388.5h0M1591.2 443.6h0M1484.5 375.4h0M1835.9 394.3h0M1797.8 376.7h0M1752.3 421.5h0M1626.3 402.7h0M1568.8 565.7h0M1682.1 377.9h0M1691.5 441.3h0M1323.2 371.7h0M1549.3 377.9h0M1539.6 406.7h0M1585.2 581.2h0M1315.5 391.9h0M1323.6 447.1h0M1485.5 599.7h0M1670.3 515.3h0M1592.8 428.4h0M1892.6 400.1h0M1219.6 498.5h0M1326.2 383.9h0M1560.7 441.1h0M1612.5 400.8h0M1250.7 400.7h0M1511.0 573.3h0M1458.1 564.9h0M1472.6 606.8h0M1592.6 468.2h0M1199.6 464.4h0M1589.7 390.4h0M1321.2 497.3h0M1589.8 385.0h0M1665.3 580.9h0M1718.9 487.5h0M1585.7 488.9h0M1639.3 500.9h0M1443.9 393.4h0M1683.8 559.2h0M1890.5 392.4h0M1680.8 382.8h0M1723.5 411.4h0M1505.5 566.2h0M1647.3 413.8h0M1546.8 490.5h0M1623.6 440.5h0M1744.1 359.9h0M1566.8 541.6h0M1699.2 420.4h0M1561.7 468.9h0M1436.1 375.9h0M1867.3 391.7h0M1261.7 471.8h0M1410.2 596.7h0M1680.9 509.5h0M1316.4 411.7h0M1626.1 490.3h0M1729.0 427.6h0M1441.1 417.5h0M1369.2 373.2h0M1832.5 369.3h0M1305.2 475.7h0M1484.6 444.1h0M1521.8 516.1h0M1546.9 657.2h0M1667.0 592.1h0M1247.8 396.1h0M1668.2 518.3h0M1475.5 574.7h0M1744.5 449.0h0M1378.7 371.9h0M1509.8 389.6h0M1173.6 528.2h0M1425.3 568.1h0M1542.4 553.2h0M1615.4 393.5h0M1404.7 473.6h0M1484.1 423.8h0M1490.8 533.8h0M1315.9 481.3h0M1313.8 387.9h0M1691.1 467.4h0M1605.7 519.5h0M1592.2 471.3h0M1693.5 503.0h0M1567.5 412.0h0M1255.1 385.5h0M1491.7 599.1h0M1646.4 582.1h0M1419.9 429.4h0M1690.2 511.2h0M1557.2 526.9h0M1666.4 379.5h0M1735.1 389.1h0M1574.7 395.0h0M1573.0 398.6h0M1497.3 475.9h0M1550.5 455.1h0M1251.2 481.0h0M1656.2 413.4h0M1435.3 627.1h0M1525.5 446.8h0M1696.2 386.6h0M1762.4 403.2h0M1495.5 566.6h0M1271.3 432.3h0M1625.1 509.1h0M1642.3 534.5h0M1417.0 475.5h0M1344.8 406.8h0M1774.6 407.3h0M1427.9 418.0h0M1816.2 420.2h0M1902.0 372.7h0M1572.8 491.3h0M1299.4 408.2h0M1295.5 434.8h0M1427.0 559.2h0M1758.9 421.8h0M1419.0 612.3h0M1664.3 413.5h0M1576.0 539.5h0M1819.0 407.1h0M1612.6 554.5h0M1345.7 412.7h0M1293.4 485.0h0M1532.9 620.0h0M1771.4 395.4h0M1519.8 364.0h0M1590.2 361.9h0M1459.0 403.4h0M1574.0 434.1h0M1613.9 451.7h0M1602.6 520.3h0M1502.5 385.5h0M1611.0 504.5h0M1772.2 365.3h0M1462.8 564.1h0M1603.8 483.2h0M1619.1 391.0h0M1693.6 419.9h0M1651.8 651.9h0M1509.1 557.1h0M1245.8 423.3h0M1674.6 503.6h0M1500.6 534.3h0M1608.8 496.5h0M1204.7 506.1h0M1285.7 367.9h0M1446.1 456.1h0M1538.9 453.5h0M1517.5 470.3h0M1419.1 574.0h0M1438.1 587.1h0M1514.3 586.7h0M1653.9 502.6h0M1442.1 474.7h0M1495.5 369.4h0M1870.9 380.6h0M1808.7 363.2h0M1634.3 445.4h0M1698.4 406.3h0M1404.4 558.6h0M1727.3 497.4h0M1482.8 480.9h0M1489.8 463.2h0M1758.5 374.5h0M1651.0 452.6h0M1293.9 505.0h0M1387.0 428.1h0M1474.9 439.4h0M1483.1 574.9h0M1200.6 459.5h0M1389.0 416.7h0M1393.3 543.4h0M1179.4 501.8h0M1612.3 542.9h0M1649.1 554.3h0M1556.0 478.7h0M1173.5 514.6h0M1732.4 369.7h0M1795.5 396.6h0M1344.4 436.0h0M1606.3 584.4h0M1691.5 431.2h0M1683.0 389.4h0M1813.4 383.4h0M1385.4 401.9h0M1550.8 459.8h0M1489.8 390.0h0M1527.9 474.2h0M1648.9 506.2h0M1824.4 422.0h0M1452.3 380.8h0M1528.8 647.7h0M1697.1 533.4h0M1744.8 404.8h0M1704.3 371.5h0M1303.3 418.2h0M1558.7 438.5h0M1256.1 468.0h0M1463.0 449.5h0M1319.4 371.7h0M1830.4 378.2h0M1643.3 644.9h0M1609.3 569.6h0M1564.8 518.1h0M1675.4 383.8h0M1633.3 562.4h0M1468.0 381.9h0M1610.5 600.9h0M1644.8 415.3h0M1545.5 392.7h0M1503.4 525.6h0M1674.9 417.6h0M1423.4 571.6h0M1631.7 448.7h0M1665.8 480.3h0M1406.6 509.5h0M1684.1 474.6h0M1237.5 459.2h0M1603.1 581.2h0M1656.5 673.1h0M1615.3 433.3h0M1396.5 442.0h0M1336.2 385.7h0M1675.0 586.2h0M1436.7 384.5h0M1201.6 467.0h0M1807.8 358.9h0M1357.6 381.3h0M1640.0 405.1h0M1210.5 502.3h0M1529.2 567.4h0M1529.0 506.3h0M1831.6 443.6h0M1484.2 579.6h0M1324.1 450.0h0M1304.3 384.5h0M1432.3 447.5h0M1618.2 601.7h0M1434.5 614.1h0M1701.6 411.4h0M1612.9 521.1h0M1225.7 446.2h0M1226.9 441.1h0M1226.1 437.1h0M1231.0 440.1h0M1231.4 430.4h0M1217.4 420.4h0M1216.6 426.4h0M1213.1 418.3h0M1221.4 414.8h0M1228.7 437.7h0M1219.2 424.8h0M1219.5 446.2h0M1213.4 425.2h0M1785.3 519.4h0M1795.3 496.8h0M1785.9 516.2h0M1796.5 503.6h0M1810.1 484.0h0M1791.3 511.4h0M1794.5 505.9h0M1811.0 473.5h0M1811.2 465.0h0M1820.8 465.8h0M1780.6 513.3h0M1807.2 484.8h0M1812.0 461.6h0M1786.8 506.7h0M1783.5 521.6h0M1796.4 507.8h0M1805.6 480.5h0M1815.6 469.9h0M1778.8 522.3h0M1820.9 458.7h0M1791.9 516.5h0M1824.7 460.3h0M1812.1 478.7h0M1702.7 687.2h0M1693.5 693.7h0M1702.8 700.0h0M1714.0 682.2h0M1696.8 702.6h0M1713.7 706.5h0M1718.3 706.5h0M1703.2 691.9h0M1721.3 704.6h0M1701.1 694.5h0M1705.1 689.9h0M1717.7 699.3h0M1717.1 679.3h0M1717.0 694.5h0M1727.7 690.5h0M1721.1 682.3h0M1710.8 689.9h0M1718.6 709.5h0M1700.6 682.2h0M1716.9 682.8h0M1714.4 672.6h0M1690.0 694.4h0M1707.5 694.8h0M1705.8 671.9h0M1670.9 723.9h0M1652.6 709.0h0M1649.1 695.5h0M1660.8 728.3h0M1648.2 701.7h0M1657.2 717.9h0M1642.6 700.5h0M1652.9 701.4h0M1667.7 725.8h0M1665.2 728.5h0M1656.6 705.9h0M1718.3 749.7h0M1708.7 754.2h0M1693.6 753.5h0M1698.9 745.4h0M1689.7 750.6h0M1720.5 754.2h0M1753.1 700.0h0M1756.5 711.6h0M1748.5 693.1h0M1747.6 702.9h0M1741.3 702.9h0M1743.1 696.7h0M1763.8 670.7h0M1761.5 661.4h0M1766.7 669.6h0M1759.1 681.2h0M1765.9 677.7h0M1752.4 641.9h0M1765.7 657.2h0M1757.2 661.4h0M1755.1 646.4h0M1796.7 711.9h0M1809.0 702.7h0M1867.5 737.2h0M1785.8 706.5h0M1848.6 736.0h0M1812.5 701.8h0M1834.3 737.8h0M1831.0 731.5h0M1835.6 726.0h0M1802.9 718.7h0M1845.3 711.5h0M1819.5 709.5h0M1842.0 732.6h0M1844.1 718.4h0M1805.0 705.3h0M1829.6 716.4h0M1825.9 707.1h0M1849.5 741.1h0M1825.6 697.2h0M1827.8 719.4h0M1793.0 708.7h0M1822.0 699.5h0M1819.1 722.5h0M1848.6 720.6h0M1799.1 718.8h0M1822.9 706.0h0M1825.3 721.7h0M1816.7 701.2h0M1800.4 704.3h0M1804.6 721.5h0M1860.4 731.4h0M1796.1 697.9h0M1858.5 740.7h0M1815.2 806.0h0M1866.1 851.0h0M1804.3 787.8h0M1846.6 791.5h0M1803.0 801.7h0M1855.9 847.1h0M1784.6 786.7h0M1864.3 807.6h0M1779.7 779.4h0M1851.0 840.6h0M1874.6 845.9h0M1737.6 794.7h0M1742.1 842.2h0M1808.3 811.4h0M1764.5 777.0h0M1815.5 836.9h0M1781.8 789.9h0M1808.9 839.8h0M1825.5 840.4h0M1831.9 847.6h0M1828.7 831.5h0M1761.2 825.7h0M1865.5 801.0h0M1734.3 817.7h0M1790.1 773.3h0M1767.3 825.4h0M1768.9 786.4h0M1793.1 783.4h0M1838.1 797.5h0M1824.5 772.6h0M1856.0 814.2h0M1870.6 840.6h0M1807.0 819.0h0M1864.1 822.9h0M1744.9 820.5h0M1792.2 780.8h0M1871.2 831.0h0M1854.3 831.6h0M1795.1 845.4h0M1806.8 797.1h0M1781.4 805.3h0M1765.4 784.5h0M1729.5 845.6h0M1849.2 799.7h0M1787.3 824.4h0M1866.0 839.5h0M1725.8 839.4h0M1755.0 837.8h0M1778.5 808.1h0M1871.3 827.2h0M1792.1 825.2h0M1832.8 791.8h0M1778.4 794.9h0M1859.4 802.0h0M1869.9 811.9h0M1751.4 788.1h0M1782.1 771.6h0M1835.9 787.2h0M1730.5 805.4h0M1882.3 821.0h0M1746.1 798.1h0M1827.5 818.6h0M1845.6 787.3h0M1854.2 802.2h0M1805.5 806.8h0M1706.7 815.8h0M1814.4 842.1h0M1864.4 835.0h0M1763.1 790.4h0M1772.4 822.8h0M1876.6 829.8h0M1842.9 827.3h0M1715.7 830.5h0M1859.3 840.8h0M1858.7 860.3h0M1878.8 842.6h0M1774.8 771.2h0M1855.0 842.1h0M1781.8 795.1h0M1741.8 820.3h0M1734.2 804.8h0M1825.4 793.1h0M1824.9 763.9h0M1720.3 843.7h0M1788.9 809.1h0M1831.5 768.7h0M1777.5 814.5h0M1825.1 803.3h0M1825.4 816.5h0M1783.7 812.2h0M1755.3 821.5h0M1767.1 807.0h0M1858.6 853.8h0M1802.2 771.6h0M1812.2 811.6h0M1717.7 826.4h0M1711.6 821.9h0M1879.7 836.4h0M1785.3 793.1h0M1775.4 800.9h0M1771.7 796.1h0M1775.3 810.3h0M1809.2 789.9h0M1866.0 812.1h0M1801.7 830.2h0M1836.4 843.0h0M1844.7 837.5h0M1795.5 830.3h0M1875.5 811.6h0M1846.9 863.0h0M1733.0 791.4h0M1777.6 764.7h0M1877.6 823.0h0M1832.8 765.2h0M1745.0 795.5h0M1849.7 853.2h0M1755.9 790.9h0M1710.0 840.1h0M1851.6 837.3h0M1860.3 864.6h0M1748.4 832.5h0M1785.9 816.7h0M1844.7 800.8h0M1792.7 774.0h0M1844.6 848.6h0M1747.6 793.0h0M1824.6 822.9h0M1838.7 823.5h0M1734.6 845.1h0M1864.2 804.3h0M1760.7 832.2h0M1838.5 837.9h0M1833.5 810.0h0M1728.1 824.4h0M1763.8 835.7h0M1738.4 811.3h0M1813.1 839.8h0M1798.0 823.1h0M1773.4 778.5h0M1842.0 843.1h0M1838.9 787.3h0M1718.5 805.6h0M1822.9 838.1h0M1853.1 805.1h0M1854.4 798.2h0M1828.7 775.2h0M1752.6 823.6h0M1816.3 790.2h0M1776.5 820.6h0M1863.3 845.3h0M1868.7 853.4h0M1866.9 866.1h0M1808.4 843.3h0M1741.4 798.5h0M1717.5 811.9h0M1799.5 802.1h0M1871.9 809.7h0M1837.3 828.6h0M1727.4 813.9h0M1785.1 829.7h0M1788.9 821.9h0M1801.8 807.0h0M1807.4 803.5h0M1809.9 799.0h0M1874.0 840.1h0M1797.9 839.4h0M1734.5 830.8h0M1850.8 816.6h0M1819.6 812.7h0M1824.0 769.4h0M1735.9 810.3h0M1872.8 850.2h0M1841.2 838.2h0M1721.6 818.5h0M1769.8 823.9h0M1736.5 787.6h0M1780.8 769.2h0M1861.3 829.8h0M1762.3 821.2h0M1789.8 802.6h0M1757.9 812.4h0M1718.2 816.7h0M1857.7 821.3h0M1860.3 871.0h0M1861.8 806.4h0M1834.4 860.2h0M1843.2 771.5h0M1848.9 793.1h0M1844.7 815.3h0M1727.7 851.7h0M1784.0 834.4h0M1844.3 803.7h0M1776.2 792.6h0M1709.0 828.3h0M1841.6 792.5h0M1817.5 824.7h0M1781.4 815.9h0M1832.1 832.2h0M1814.2 786.0h0M1867.9 841.3h0M1732.1 816.4h0M1724.7 845.2h0M1871.3 869.0h0M1749.7 829.4h0M1788.3 790.4h0M1833.5 854.4h0M1767.2 774.9h0M1800.0 765.5h0M1863.0 878.3h0M1856.2 884.7h0M1557.5 679.8h0M1551.7 676.0h0"/>
<path stroke="#D0D9EC" stroke-opacity="0.68" stroke-width="2.4" d="M1204.6 429.3h0M631.8 467.1h0M896.8 456.0h0M647.1 427.8h0M794.8 488.6h0M862.6 444.1h0M666.5 442.5h0M720.6 454.1h0M760.1 572.8h0M850.5 333.3h0M657.8 458.1h0M672.5 487.9h0M709.9 463.0h0M786.0 607.2h0M675.2 487.4h0M848.8 488.4h0M650.8 366.9h0M900.4 489.0h0M844.8 381.8h0M826.6 450.0h0M890.5 456.2h0M872.5 384.6h0M771.1 407.3h0M840.5 424.2h0M837.3 495.3h0M763.2 563.1h0M772.6 414.7h0M632.8 462.4h0M612.0 396.3h0M649.4 398.5h0M898.5 439.6h0M867.7 343.0h0M739.9 361.3h0M877.9 480.8h0M663.7 403.2h0M807.3 538.4h0M755.2 497.8h0M776.6 547.7h0M769.6 428.6h0M764.1 548.1h0M756.4 594.0h0M921.1 468.3h0M747.4 463.3h0M740.0 525.5h0M718.3 560.4h0M785.4 417.1h0M855.4 504.1h0M692.8 506.9h0M880.9 478.0h0M822.1 372.7h0M648.8 507.9h0M632.1 484.3h0M759.0 449.4h0M683.5 381.6h0M692.0 438.3h0M834.2 356.5h0M760.7 401.3h0M776.7 534.9h0M744.0 343.6h0M713.2 378.7h0M846.7 400.8h0M779.8 558.0h0M923.3 479.6h0M841.2 380.4h0M858.3 344.2h0M842.2 650.2h0M731.3 508.4h0M679.3 490.3h0M709.3 553.3h0M668.3 464.2h0M661.5 453.6h0M665.3 451.5h0M842.0 534.7h0M682.0 369.8h0M660.7 375.1h0M667.0 353.5h0M801.1 505.3h0M745.6 570.1h0M667.7 415.0h0M778.5 544.7h0M871.1 375.5h0M788.6 438.7h0M736.1 505.4h0M714.1 500.1h0M834.0 525.7h0M859.2 455.3h0M877.0 396.0h0M746.2 426.3h0M798.4 543.0h0M817.5 484.9h0M654.2 525.3h0M734.6 426.2h0M917.0 465.2h0M730.7 335.4h0M622.1 393.4h0M681.9 435.8h0M690.8 440.6h0M761.5 371.7h0M776.4 484.5h0M664.7 361.2h0M710.0 501.7h0M630.6 390.2h0M716.8 437.1h0M848.9 412.3h0M607.2 442.2h0M798.6 551.6h0M735.8 518.0h0M845.4 676.4h0M725.4 574.3h0M766.3 367.9h0M716.3 369.6h0M859.4 486.8h0M608.4 377.8h0M673.0 394.3h0M750.9 547.8h0M784.8 518.5h0M801.1 476.0h0M643.7 453.3h0M832.3 393.5h0M713.6 424.6h0M712.4 490.3h0M750.4 383.2h0M640.4 388.3h0M632.7 421.4h0M782.0 430.8h0M850.1 403.6h0M744.9 340.8h0M818.1 450.5h0M758.9 338.2h0M611.1 401.6h0M702.5 418.5h0M684.5 401.8h0M608.0 380.5h0M727.5 496.2h0M849.5 528.0h0M833.7 665.5h0M781.1 384.1h0M694.9 513.0h0M843.0 339.9h0M712.4 418.1h0M694.2 376.4h0M635.8 370.6h0M733.0 417.8h0M856.4 521.0h0M865.6 335.4h0M635.5 374.0h0M775.1 456.0h0M871.5 439.0h0M910.0 458.6h0M684.7 404.8h0M730.3 408.6h0M870.2 500.4h0M704.6 550.3h0M735.3 528.7h0M720.5 549.4h0M738.3 385.9h0M817.3 543.9h0M774.9 473.8h0M733.7 479.1h0M834.6 367.0h0M790.2 581.1h0M786.3 359.0h0M678.2 406.2h0M735.4 368.2h0M695.2 388.5h0M636.1 499.1h0M831.5 369.5h0M876.0 507.1h0M637.7 396.5h0M714.0 350.7h0M801.1 463.7h0M682.4 486.4h0M842.1 646.8h0M898.4 484.6h0M591.2 390.0h0M645.0 373.8h0M656.8 440.1h0M761.1 610.6h0M667.0 519.5h0M775.7 479.7h0M628.9 488.2h0M693.2 555.1h0M641.7 419.0h0M717.5 390.5h0M817.9 652.8h0M814.6 524.8h0M675.5 372.4h0M762.4 362.2h0M743.1 415.2h0M714.3 486.8h0M895.2 480.9h0M632.8 445.1h0M754.1 348.9h0M737.0 417.4h0M882.3 485.9h0M746.1 510.7h0M615.5 374.5h0M768.9 586.8h0M771.1 613.8h0M687.9 432.7h0M840.6 569.2h0M664.8 413.7h0M631.2 387.2h0M819.6 635.6h0M651.3 495.7h0M811.3 346.9h0M754.3 515.0h0M789.9 533.5h0M895.5 487.8h0M880.1 358.6h0M607.0 434.5h0M674.6 389.7h0M707.8 503.4h0M746.8 327.1h0M779.6 576.8h0M768.4 556.7h0M825.0 485.6h0M756.1 586.1h0M794.3 610.0h0M808.3 528.3h0M882.8 426.9h0M717.9 549.8h0M919.1 476.2h0M714.1 437.6h0M700.0 369.2h0M747.6 469.6h0M785.4 381.5h0M744.0 576.3h0M918.1 440.2h0M902.7 466.4h0M749.2 543.1h0M658.9 444.2h0M693.8 540.9h0M800.5 366.9h0M806.2 359.7h0M701.8 506.4h0M628.4 360.6h0M799.2 571.2h0M851.4 337.1h0M836.0 518.8h0M595.3 433.3h0M745.6 486.4h0M668.2 385.7h0M663.9 356.6h0M757.4 436.4h0M685.0 376.6h0M664.8 382.5h0M628.3 459.4h0M753.6 435.6h0M682.9 492.7h0M722.2 444.3h0M633.0 415.7h0M839.6 655.9h0M754.8 396.3h0M681.4 468.5h0M863.0 379.0h0M778.8 340.4h0M775.2 620.5h0M780.9 555.2h0M852.8 360.3h0M673.6 512.9h0M714.2 374.7h0M700.9 401.9h0M721.0 376.5h0M762.7 535.9h0M819.5 357.9h0M764.7 415.3h0M758.7 600.2h0M848.9 549.1h0M642.0 375.0h0M812.8 485.3h0M664.8 467.7h0M636.6 356.4h0M802.2 619.7h0M693.0 427.4h0M770.5 484.6h0M711.1 402.8h0M756.9 440.3h0M702.0 392.3h0M750.3 392.8h0M658.2 530.5h0M643.2 380.9h0M728.1 362.9h0M792.3 559.6h0M761.5 412.1h0M746.2 444.8h0M804.9 377.0h0M782.8 441.9h0M778.7 518.0h0M826.7 500.5h0M682.3 446.9h0M719.8 361.2h0M904.7 485.5h0M706.1 354.1h0M679.9 542.6h0M832.1 381.6h0M784.4 350.4h0M638.4 468.7h0M864.8 421.2h0M815.5 465.8h0M879.0 422.3h0M746.5 452.6h0M628.4 429.6h0M809.7 474.3h0M791.7 469.4h0M797.6 554.2h0M818.0 461.0h0M833.9 351.1h0M867.0 396.1h0M650.9 372.0h0M836.4 568.3h0M765.2 511.5h0M762.0 539.1h0M846.2 374.9h0M889.6 448.9h0M746.7 582.3h0M694.1 404.5h0M612.4 439.4h0M732.2 555.2h0M771.1 367.8h0M842.3 371.0h0M762.7 515.8h0M647.7 463.4h0M801.8 526.9h0M860.3 415.5h0M788.3 463.6h0M873.5 425.3h0M726.9 396.7h0M659.4 522.4h0M789.4 624.3h0M679.5 536.1h0M835.0 336.1h0M728.9 432.3h0M854.1 411.7h0M775.8 577.4h0M787.6 379.2h0M635.4 467.6h0M706.1 478.9h0M643.6 411.7h0M628.9 484.5h0M877.6 495.2h0M767.0 471.1h0M781.6 345.3h0M918.3 447.4h0M762.5 382.7h0M732.5 579.8h0M753.5 481.8h0M626.3 370.2h0M661.1 464.7h0M846.3 394.0h0M799.4 360.8h0M764.9 347.0h0M612.4 390.3h0M884.5 337.1h0M646.5 453.3h0M691.9 474.7h0M708.3 392.5h0M793.7 518.6h0M682.5 362.7h0M800.1 328.6h0M801.5 336.2h0M763.6 408.8h0M781.6 574.1h0M658.3 432.1h0M805.3 468.3h0M696.1 490.8h0M848.8 533.7h0M672.8 375.3h0M750.3 435.7h0M781.4 515.7h0M722.5 385.1h0M632.7 438.8h0M739.5 347.0h0M813.4 559.2h0M666.7 484.6h0M837.0 343.9h0M742.7 561.3h0M813.2 365.3h0M602.9 386.7h0M824.0 493.9h0M816.7 535.9h0M688.0 443.3h0M720.1 387.8h0M851.4 440.9h0M699.6 354.6h0M664.3 419.2h0M763.9 489.5h0M754.1 575.7h0M736.2 536.1h0M711.3 519.5h0M702.5 517.3h0M699.2 398.8h0M694.7 411.1h0M843.4 361.2h0M736.9 561.8h0M807.9 634.0h0M1007.6 317.9h0M969.9 365.7h0M964.1 351.2h0M1015.8 340.5h0M992.6 393.7h0M990.0 351.5h0M971.5 349.7h0M1013.0 351.8h0M941.2 354.1h0M994.3 364.3h0M957.9 359.9h0M958.2 396.0h0M975.6 397.0h0M997.9 344.7h0M981.2 364.6h0M967.4 373.8h0M916.6 350.5h0M1002.7 383.2h0M930.5 348.9h0M994.4 326.5h0M914.5 345.3h0M998.4 372.3h0M965.6 407.4h0M995.9 399.6h0M918.7 334.8h0M1017.0 353.8h0M973.3 368.6h0M1023.4 339.0h0M980.3 402.8h0M981.3 385.9h0M968.8 346.5h0M981.3 373.6h0M974.8 342.2h0M923.9 353.2h0M995.9 328.6h0M995.4 380.2h0M978.4 355.7h0M986.5 380.3h0M999.6 365.8h0M987.1 369.1h0M938.5 356.9h0M928.7 354.6h0M946.2 326.6h0M922.4 336.3h0M984.3 410.7h0M1021.6 328.8h0M946.4 361.6h0M959.3 393.2h0M1019.5 350.2h0M935.3 335.4h0M1091.9 399.5h0M907.8 685.0h0M868.7 891.7h0M904.0 825.4h0M931.8 801.9h0M918.9 771.8h0M956.2 743.0h0M885.8 784.4h0M873.6 809.0h0M972.3 710.5h0M935.5 747.8h0M925.4 697.2h0M881.7 834.1h0M870.9 744.0h0M878.3 680.3h0M911.0 833.3h0M847.8 770.6h0M897.8 727.5h0M1006.8 771.4h0M900.6 756.6h0M858.5 765.4h0M939.0 847.7h0M973.0 739.9h0M982.6 806.7h0M837.8 725.7h0M971.3 728.0h0M905.3 873.0h0M861.7 788.6h0M909.3 753.0h0M963.7 800.8h0M881.1 795.9h0M886.3 743.6h0M925.0 710.1h0M901.1 731.4h0M931.4 767.2h0M841.6 747.4h0M852.8 859.1h0M902.0 742.9h0M880.9 723.2h0M917.0 793.4h0M919.4 789.5h0M970.5 774.3h0M934.1 773.7h0M972.6 828.4h0M905.8 722.3h0M871.2 799.0h0M849.8 751.8h0M877.6 839.7h0M843.0 701.9h0M874.4 689.9h0M925.6 782.3h0M930.8 741.3h0M985.2 737.7h0M916.7 851.2h0M871.9 886.7h0M860.6 747.3h0M1004.9 779.5h0M872.4 741.1h0M914.2 792.6h0M946.8 768.8h0M867.9 797.9h0M870.8 915.7h0M937.8 810.7h0M898.8 875.4h0M849.2 741.1h0M845.5 694.6h0M878.6 703.5h0M854.6 880.6h0M863.6 886.4h0M994.7 752.8h0M960.8 757.5h0M864.7 708.5h0M877.1 768.2h0M1006.3 729.9h0M869.2 680.2h0M837.8 794.6h0M847.2 710.3h0M877.6 762.2h0M951.4 715.2h0M931.9 751.1h0M885.4 873.4h0M943.4 706.8h0M869.3 793.9h0M834.5 759.3h0M891.9 709.5h0M903.1 749.6h0M976.8 794.6h0M899.5 702.4h0M843.6 718.2h0M863.8 713.8h0M876.0 698.1h0M854.2 870.8h0M900.2 809.1h0M989.2 814.3h0M911.3 863.6h0M893.8 687.9h0M839.6 799.1h0M974.0 760.3h0M943.9 714.3h0M862.8 902.2h0M876.3 775.5h0M953.7 852.3h0M831.7 734.3h0M943.1 771.3h0M940.5 862.4h0M853.8 894.6h0M873.9 792.1h0M841.7 806.5h0M904.1 773.9h0M962.6 714.4h0M900.3 884.5h0M952.7 823.3h0M859.3 684.4h0M966.6 741.4h0M883.9 851.1h0M865.7 746.1h0M864.7 784.4h0M908.9 758.8h0M904.8 803.2h0M947.9 744.3h0M926.8 778.2h0M1012.4 723.9h0M958.1 712.8h0M968.9 720.7h0M868.4 933.1h0M860.5 709.7h0M961.6 761.1h0M899.4 715.9h0M909.3 771.8h0M943.9 839.9h0M872.0 758.0h0M991.0 744.5h0M889.9 747.7h0M942.5 733.3h0M892.5 752.7h0M970.8 753.4h0M866.8 839.0h0M865.6 943.4h0M952.1 763.3h0M869.3 881.3h0M995.9 731.1h0M886.8 686.1h0M891.7 770.6h0M965.4 719.8h0M941.0 764.4h0M946.8 798.1h0M903.6 817.1h0M877.0 888.1h0M910.1 847.0h0M874.7 848.9h0M921.0 761.3h0M976.7 753.8h0M915.2 733.9h0M937.6 745.0h0M868.8 884.3h0M866.0 777.1h0M882.5 734.4h0M856.5 914.6h0M907.3 705.3h0M872.7 911.5h0M980.5 784.5h0M946.1 761.8h0M865.2 869.4h0M902.2 691.1h0M849.7 693.5h0M974.9 789.4h0M857.3 780.6h0M946.0 756.2h0M1012.5 727.5h0M898.6 841.2h0M832.6 701.2h0M885.3 894.8h0M857.6 702.4h0M936.5 851.8h0M857.1 747.0h0M970.9 789.9h0M838.7 731.2h0M867.2 768.3h0M866.0 697.0h0M963.1 842.8h0M864.8 725.5h0M879.8 696.8h0M953.9 726.6h0M884.0 858.0h0M994.4 786.2h0M859.7 894.9h0M1218.9 540.0h0M1350.3 580.7h0M1359.6 606.0h0M1380.7 750.8h0M1272.7 704.3h0M1309.9 762.0h0M1393.9 776.9h0M1362.7 641.6h0M1334.9 811.8h0M1167.6 601.8h0M1389.9 697.6h0M1314.6 609.9h0M1222.1 573.8h0M1154.0 572.8h0M1209.0 585.3h0M1350.8 672.0h0M1176.8 602.5h0M1329.4 575.7h0M1349.9 718.5h0M1133.0 667.0h0M1145.8 611.5h0M1286.9 701.5h0M1288.8 614.5h0M1372.3 779.3h0M1299.1 588.6h0M1407.0 682.2h0M1274.9 594.0h0M1260.5 764.9h0M1197.5 583.8h0M1354.9 653.1h0M1225.8 530.4h0M1320.0 751.5h0M1325.4 594.7h0M1201.8 635.6h0M1304.9 725.3h0M1358.9 665.3h0M1265.4 737.6h0M1363.3 591.4h0M1224.6 621.2h0M1377.8 776.8h0M1310.3 841.4h0M1306.8 832.4h0M1369.4 625.7h0M1388.5 724.2h0M1188.0 564.5h0M1199.6 672.1h0M1215.5 666.0h0M1385.5 680.6h0M1369.7 609.9h0M1363.1 601.1h0M1353.2 612.6h0M1331.4 764.2h0M1344.8 561.5h0M1312.6 692.8h0M1243.2 681.6h0M1431.9 654.2h0M1427.5 646.9h0M1157.6 614.9h0M1136.2 600.6h0M1193.9 535.2h0M1274.2 564.0h0M1249.5 598.4h0M1441.1 668.2h0M1383.4 741.8h0M1322.9 724.8h0M1397.1 670.9h0M1263.2 742.5h0M1146.2 623.9h0M1322.8 706.2h0M1153.9 624.8h0M1139.2 570.2h0M1291.6 849.9h0M1396.6 678.9h0M1208.5 649.1h0M1424.1 676.0h0M1383.0 698.6h0M1170.5 635.5h0M1285.9 800.3h0M1267.4 542.8h0M1134.5 635.2h0M1281.2 682.4h0M1318.5 743.1h0M1394.2 636.9h0M1154.8 631.6h0M1305.7 617.3h0M1208.3 620.4h0M1281.9 621.0h0M1263.8 701.0h0M1296.9 655.6h0M1269.0 680.4h0M1348.9 691.4h0M1140.3 585.4h0M1330.5 634.3h0M1414.8 644.8h0M1183.9 607.1h0M1345.9 611.7h0M1388.5 624.1h0M1260.4 594.6h0M1374.6 797.2h0M1161.2 603.4h0M1286.2 827.1h0M1418.1 626.4h0M1354.8 774.0h0M1169.3 628.8h0M1330.6 730.3h0M1386.2 730.4h0M1242.0 550.0h0M1283.4 601.9h0M1426.4 683.5h0M1220.6 657.7h0M1226.5 616.5h0M1330.4 600.4h0M1269.7 734.4h0M1160.2 641.2h0M1339.7 760.7h0M1302.7 627.8h0M1166.4 653.5h0M1331.0 758.5h0M1196.7 626.1h0M1211.4 604.6h0M1342.9 603.4h0M1149.0 575.3h0M1187.5 542.2h0M1321.4 611.3h0M1299.3 788.2h0M1272.6 611.5h0M1179.3 626.2h0M1270.2 645.7h0M1397.7 737.1h0M1435.0 668.1h0M1238.4 604.0h0M1262.1 596.8h0M1183.4 653.1h0M1389.9 585.2h0M1254.5 533.8h0M1329.0 811.7h0M1396.1 767.6h0M1174.5 662.7h0M1373.2 676.0h0M1257.4 673.0h0M1243.6 626.9h0M1387.2 697.3h0M1343.4 761.8h0M1307.2 818.2h0M1324.5 585.2h0M1340.3 742.1h0M1268.1 627.8h0M1452.8 663.0h0M1366.1 743.6h0M1289.3 766.2h0M1151.9 594.1h0M1137.4 597.1h0M1388.1 755.0h0M1390.6 718.2h0M1356.9 762.4h0M1334.5 557.3h0M1118.6 592.8h0M1386.4 582.5h0M1182.2 632.2h0M1344.4 752.3h0M1150.9 607.9h0M1166.6 587.3h0M1226.0 603.1h0M1382.6 788.6h0M1318.7 698.3h0M1333.5 722.8h0M1194.8 560.1h0M1161.9 609.3h0M1284.5 786.4h0M1325.6 557.7h0M1313.1 681.7h0M1392.3 699.3h0M1385.2 588.4h0M1401.2 713.6h0M1146.6 598.8h0M1129.3 637.7h0M1341.1 591.3h0M1333.0 674.4h0M1197.0 669.8h0M1162.5 541.3h0M1394.5 709.1h0M1395.6 756.6h0M1174.7 641.0h0M1283.7 721.2h0M1234.3 543.8h0M1367.3 715.5h0M1281.3 593.2h0M1262.9 750.0h0M1295.7 641.5h0M1425.4 668.1h0M1274.2 568.4h0M1251.9 640.6h0M1338.9 772.4h0M1346.7 689.2h0M1362.7 754.4h0M1142.7 656.5h0M1168.1 649.1h0M1394.5 603.4h0M1269.3 773.6h0M1374.3 586.1h0M1149.8 563.6h0M1286.5 732.9h0M1331.7 819.8h0M1317.4 633.9h0M1168.1 551.1h0M1351.5 682.0h0M1144.5 673.8h0M1333.6 611.7h0M1224.3 666.3h0M1379.3 623.4h0M1223.9 578.0h0M1266.5 742.9h0M1364.4 656.6h0M1220.9 614.6h0M1171.9 551.1h0M1265.9 615.7h0M1401.6 624.1h0M1337.4 552.3h0M1424.0 627.5h0M1294.4 632.9h0M1297.2 770.8h0M1360.6 777.0h0M1135.2 556.9h0M1292.8 769.3h0M1414.1 660.4h0M1382.5 673.2h0M1247.1 631.2h0M1397.4 746.2h0M1136.2 591.1h0M1209.9 600.8h0M1386.2 708.7h0M1293.9 624.1h0M1311.4 732.2h0M1390.6 782.2h0M1272.8 741.7h0M1368.7 596.2h0M1267.2 729.6h0M1200.4 538.4h0M1381.4 744.2h0M1275.2 571.8h0M1298.8 688.5h0M1144.8 608.4h0M1309.6 721.5h0M1308.5 747.9h0M1280.1 810.9h0M1329.5 825.5h0M1211.8 539.0h0M1268.3 717.9h0M1303.8 809.2h0M1168.0 620.4h0M1174.2 649.0h0M1287.1 761.2h0M1229.3 684.1h0M1289.5 732.7h0M1297.5 620.0h0M1256.5 595.9h0M1386.2 764.4h0M1167.9 581.6h0M1423.9 698.5h0M1285.3 728.8h0M1231.8 563.4h0M1388.3 640.3h0M1211.9 593.4h0M1156.2 592.6h0M1166.7 629.5h0M1400.4 611.7h0M1284.8 668.6h0M1390.2 603.4h0M1366.7 791.3h0M1323.7 648.2h0M1391.7 675.6h0M1363.8 739.7h0M1307.2 581.1h0M1268.9 749.5h0M1377.4 712.8h0M1278.3 678.2h0M1128.3 610.9h0M1280.3 698.3h0M1327.0 552.3h0M1166.0 605.6h0M1265.3 677.3h0M1166.6 544.0h0M1318.0 827.0h0M1367.8 681.9h0M1310.6 701.9h0M1340.9 787.0h0M1387.3 792.9h0M1272.9 626.5h0M1320.2 724.8h0M1445.8 656.3h0M1145.5 668.4h0M1195.3 546.1h0M1335.9 749.7h0M1292.4 735.1h0M1260.3 696.7h0M1271.3 751.0h0M1252.0 771.1h0M1398.7 704.5h0M1153.2 541.9h0M1236.7 539.5h0M1358.3 567.0h0M1339.0 766.9h0M1220.8 675.9h0M1307.5 690.1h0M1158.2 624.7h0M1303.9 623.5h0M1150.6 549.8h0M1294.0 725.1h0M1359.6 658.0h0M1287.7 562.2h0M1190.5 657.7h0M1295.2 675.5h0M1344.2 757.4h0M1152.9 591.1h0M1310.9 811.1h0M1370.1 712.7h0M1386.3 786.6h0M1307.4 631.1h0M1314.1 621.4h0M1152.6 611.2h0M1351.6 713.9h0M1286.2 558.6h0M1286.8 718.9h0M1186.3 634.5h0M1130.8 579.6h0M1343.7 586.8h0M1277.1 744.5h0M1305.5 844.1h0M1256.5 586.7h0M1162.2 676.4h0M1138.0 576.1h0M1285.6 848.4h0M1240.4 581.8h0M1320.5 830.2h0M1170.4 577.0h0M1381.0 600.9h0M1338.5 801.2h0M1184.2 614.8h0M1293.4 597.9h0M1224.2 647.3h0M1376.1 653.2h0M1198.7 661.8h0M1446.5 677.4h0M1310.2 683.4h0M1174.6 561.5h0M1386.3 592.9h0M1169.2 672.8h0M1377.3 685.3h0M1318.9 740.2h0M1332.2 707.2h0M1259.4 676.3h0M1145.7 644.6h0M1386.0 770.6h0M1286.7 602.1h0M1343.8 687.7h0M1361.8 795.7h0M1320.0 705.3h0M1216.4 549.0h0M1248.7 675.6h0M1313.3 643.3h0M1304.5 690.8h0M1411.8 667.6h0M1340.9 660.5h0M1355.1 672.0h0M1156.9 563.6h0M1218.1 665.3h0M1202.9 631.3h0M1288.2 806.1h0M1335.4 739.2h0M1329.5 751.0h0M1134.4 669.3h0M1137.2 652.9h0M1302.4 650.3h0M1444.0 670.4h0M1264.8 745.5h0M1409.1 655.4h0M1300.1 685.3h0M1456.5 667.2h0M1149.4 604.2h0M1370.3 603.8h0M1445.7 667.6h0M1371.8 730.4h0M1118.0 630.5h0M1325.7 588.2h0M1191.8 590.3h0M1252.0 557.6h0M1371.8 786.3h0M1344.2 631.2h0M1262.8 616.3h0M1377.6 707.8h0M1214.5 611.7h0M1140.6 646.2h0M1384.4 678.1h0M1305.4 786.4h0M1397.8 712.9h0M1219.8 648.4h0M1255.3 618.8h0M1360.5 663.1h0M1262.2 563.0h0M1252.8 689.3h0M1133.9 623.3h0M1309.9 583.3h0M1179.2 566.7h0M1386.0 757.8h0M1191.5 537.9h0M1303.1 615.2h0M1143.8 626.1h0M1316.3 759.2h0M1234.4 619.8h0M1337.4 704.1h0M1256.4 687.2h0M1284.5 782.1h0M1284.9 805.4h0M1376.4 742.1h0M1247.8 533.5h0M1466.5 664.2h0M1375.9 723.3h0M1413.1 617.5h0M1453.7 616.3h0M1667.6 487.0h0M1713.5 498.4h0M1344.1 503.2h0M1526.2 378.9h0M1389.1 478.1h0M1735.0 367.6h0M1592.6 447.4h0M1453.9 619.5h0M1308.4 375.7h0M1588.3 455.5h0M1438.4 389.5h0M1473.6 625.2h0M1624.3 437.4h0M1432.4 539.1h0M1289.9 460.0h0M1652.6 488.0h0M1639.7 629.9h0M1320.5 376.3h0M1738.6 389.5h0M1599.2 460.0h0M1756.1 404.7h0M1360.9 405.8h0M1657.0 397.4h0M1547.5 487.9h0M1295.3 427.1h0M1486.5 517.3h0M1755.6 424.0h0M1420.3 520.3h0M1597.7 391.4h0M1393.5 449.4h0M1489.3 556.7h0M1579.0 545.7h0M1481.6 532.0h0M1637.1 446.2h0M1583.6 509.7h0M1654.9 628.4h0M1237.6 479.0h0M1579.5 419.5h0M1552.5 380.1h0M1542.7 649.1h0M1472.7 584.1h0M1643.4 446.0h0M1439.0 556.5h0M1404.3 515.5h0M1434.7 559.0h0M1496.0 380.9h0M1646.4 545.3h0M1456.7 512.2h0M1628.6 606.1h0M1343.8 393.1h0M1586.7 457.6h0M1705.0 453.4h0M1577.6 519.7h0M1335.3 401.9h0M1602.3 450.2h0M1499.5 362.1h0M1443.2 450.4h0M1463.1 506.5h0M1585.7 450.5h0M1613.2 579.2h0M1296.1 412.1h0M1414.9 419.1h0M1327.8 476.9h0M1737.8 381.1h0M1537.0 487.1h0M1335.8 376.0h0M1644.3 503.7h0M1586.8 352.3h0M1370.8 465.9h0M1425.5 362.0h0M1301.7 500.3h0M1489.9 570.7h0M1276.4 464.7h0M1635.1 556.2h0M1666.1 514.0h0M1484.0 506.9h0M1538.7 576.5h0M1441.2 485.9h0M1482.7 524.3h0M1310.1 514.8h0M1678.2 531.1h0M1619.7 442.2h0M1685.8 455.8h0M1415.4 589.4h0M1705.4 507.8h0M1607.7 364.7h0M1658.0 572.3h0M1541.9 409.4h0M1240.4 453.8h0M1716.8 435.6h0M1528.9 366.2h0M1550.0 539.0h0M1636.2 604.4h0M1689.0 462.9h0M1258.9 473.2h0M1434.5 378.2h0M1665.9 694.7h0M1584.4 403.8h0M1530.5 582.6h0M1658.5 585.7h0M1542.2 567.8h0M1667.7 556.6h0M1654.6 684.3h0M1816.5 408.4h0M1458.5 546.4h0M1420.3 374.3h0M1824.4 418.8h0M1415.4 517.3h0M1588.7 490.1h0M1451.7 585.8h0M1579.2 468.1h0M1412.3 557.7h0M1295.8 365.0h0M1170.9 496.3h0M1209.3 480.2h0M1505.6 390.6h0M1782.8 405.5h0M1648.6 623.7h0M1566.8 486.4h0M1601.1 511.0h0M1661.1 660.8h0M1562.0 575.4h0M1587.0 354.9h0M1520.7 437.1h0M1326.4 480.6h0M1672.2 468.4h0M1586.5 453.2h0M1214.0 457.4h0M1554.3 546.2h0M1224.1 473.7h0M1419.9 384.2h0M1333.5 457.5h0M1658.6 547.2h0M1350.2 476.2h0M1715.8 493.1h0M1468.7 378.7h0M1471.9 454.1h0M1627.7 458.8h0M1562.7 629.3h0M1484.0 398.6h0M1471.7 467.8h0M1497.6 544.3h0M1725.2 419.8h0M1277.7 399.4h0M1466.9 391.5h0M1710.6 369.3h0M1583.2 357.6h0M1414.6 458.9h0M1539.1 539.9h0M1463.6 384.2h0M1553.3 473.8h0M1234.8 443.7h0M1580.9 541.1h0M1445.1 521.4h0M1587.7 410.3h0M1433.4 402.1h0M1372.7 476.6h0M1450.7 512.1h0M1265.3 394.4h0M1542.2 353.6h0M1440.5 450.6h0M1401.8 458.7h0M1248.3 460.5h0M1344.7 463.3h0M1715.7 377.4h0M1325.3 464.0h0M1611.4 434.9h0M1526.5 585.8h0M1636.5 388.0h0M1510.8 408.1h0M1535.6 593.8h0M1210.2 485.2h0M1355.9 379.1h0M1694.6 525.4h0M1342.2 429.0h0M1521.7 559.3h0M1650.1 670.3h0M1656.1 586.7h0M1502.0 369.9h0M1604.8 380.9h0M1461.8 422.9h0M1540.7 597.4h0M1524.3 435.9h0M1516.9 399.2h0M1666.9 503.0h0M1662.9 673.5h0M1552.6 551.3h0M1627.8 517.6h0M1528.1 402.4h0M1575.7 594.4h0M1374.8 504.0h0M1506.5 409.3h0M1539.0 507.3h0M1384.1 445.1h0M1515.4 525.6h0M1644.5 488.6h0M1716.0 470.0h0M1615.2 490.5h0M1463.6 601.6h0M1500.7 520.8h0M1279.7 473.1h0M1174.0 518.4h0M1793.5 362.0h0M1612.6 474.3h0M1700.2 470.1h0M1649.3 647.2h0M1668.1 511.7h0M1574.3 367.9h0M1512.6 491.6h0M1552.0 432.3h0M1467.8 455.1h0M1573.4 562.4h0M1434.6 518.8h0M1291.3 474.3h0M1492.0 512.9h0M1494.8 389.3h0M1303.9 379.1h0M1692.6 566.8h0M1343.3 415.4h0M1455.2 595.8h0M1711.2 512.0h0M1549.7 566.5h0M1883.9 389.3h0M1536.6 473.7h0M1879.2 371.6h0M1518.6 544.1h0M1677.3 488.8h0M1470.7 369.2h0M1418.8 559.6h0M1612.3 532.7h0M1305.9 377.1h0M1475.3 400.8h0M1402.9 379.6h0M1633.9 407.1h0M1304.1 479.6h0M1383.7 483.6h0M1740.9 372.4h0M1755.3 428.6h0M1304.6 458.5h0M1712.0 416.4h0M1615.3 524.3h0M1563.7 477.2h0M1584.1 408.9h0M1744.9 411.7h0M1654.6 418.4h0M1415.9 492.8h0M1322.1 399.6h0M1652.4 546.2h0M1188.4 503.9h0M1494.1 430.3h0M1618.2 552.2h0M1509.1 547.6h0M1671.0 444.3h0M1531.2 603.5h0M1172.6 535.6h0M1635.7 392.5h0M1577.0 363.4h0M1649.5 514.7h0M1454.3 573.6h0M1274.1 476.2h0M1457.6 374.7h0M1744.7 466.7h0M1430.0 422.0h0M1800.8 390.4h0M1595.5 366.8h0M1612.5 598.9h0M1685.3 460.9h0M1394.9 471.7h0M1525.2 430.5h0M1210.2 461.8h0M1414.7 509.0h0M1642.0 423.5h0M1538.6 655.6h0M1669.5 528.3h0M1470.9 509.8h0M1688.1 374.6h0M1354.4 501.5h0M1534.5 537.6h0M1515.8 596.3h0M1831.3 398.4h0M1438.8 627.7h0M1518.8 424.8h0M1753.3 417.5h0M1243.3 449.6h0M1458.7 368.5h0M1654.5 423.0h0M1612.4 546.2h0M1439.2 615.0h0M1651.1 462.3h0M1658.0 564.2h0M1467.3 484.3h0M1778.1 374.9h0M1822.7 370.2h0M1480.7 618.6h0M1438.7 581.7h0M1553.6 396.2h0M1578.4 406.7h0M1489.2 548.2h0M1254.5 430.4h0M1490.4 449.0h0M1336.3 396.9h0M1723.3 447.4h0M1554.3 439.9h0M1674.0 497.9h0M1683.3 494.0h0M1413.1 470.1h0M1583.2 447.1h0M1623.9 610.3h0M1718.0 460.7h0M1807.5 390.4h0M1471.9 384.8h0M1585.0 558.2h0M1208.9 512.6h0M1697.5 568.7h0M1481.5 553.5h0M1556.3 576.3h0M1397.0 449.9h0M1591.9 562.7h0M1503.0 441.5h0M1677.4 535.8h0M1527.8 542.0h0M1268.2 508.5h0M1686.1 517.4h0M1561.8 562.2h0M1851.9 378.9h0M1559.8 459.8h0M1431.3 425.0h0M1640.8 435.6h0M1549.7 384.8h0M1632.0 579.2h0M1674.7 483.1h0M1348.9 440.0h0M1392.1 562.3h0M1598.4 473.5h0M1581.7 574.9h0M1637.2 426.0h0M1549.4 364.7h0M1468.3 468.1h0M1371.4 413.3h0M1579.1 374.2h0M1406.1 439.5h0M1397.5 572.5h0M1417.6 409.3h0M1426.6 620.3h0M1628.6 579.6h0M1770.5 404.8h0M1852.9 366.8h0M1567.9 451.6h0M1293.5 492.3h0M1558.7 585.9h0M1705.8 448.9h0M1465.9 465.6h0M1458.4 613.6h0M1635.0 572.7h0M1647.6 593.8h0M1590.9 503.5h0M1560.9 456.2h0M1674.8 402.9h0M1336.9 466.8h0M1721.6 402.8h0M1606.4 369.8h0M1559.7 560.4h0M1539.8 528.1h0M1664.8 402.2h0M1520.2 377.3h0M1693.9 549.8h0M1595.1 380.8h0M1665.0 668.8h0M1748.1 437.8h0M1565.2 508.3h0M1560.1 529.5h0M1634.5 474.9h0M1528.2 558.0h0M1672.1 541.2h0M1606.5 572.0h0M1515.5 448.7h0M1603.9 452.9h0M1692.6 382.2h0M1374.5 478.5h0M1493.4 406.4h0M1458.8 523.8h0M1523.6 365.0h0M1194.7 506.0h0M1419.9 513.8h0M1481.6 589.5h0M1399.6 472.2h0M1181.7 513.6h0M1796.3 374.2h0M1582.3 388.9h0M1647.2 447.4h0M1358.8 459.5h0M1290.0 397.8h0M1658.4 376.7h0M1655.2 445.3h0M1606.3 563.5h0M1474.7 577.7h0M1358.9 390.8h0M1425.3 519.9h0M1397.7 558.9h0M1421.5 457.1h0M1629.4 632.6h0M1653.7 508.3h0M1606.5 482.2h0M1666.2 370.6h0M1745.1 389.5h0M1471.0 549.6h0M1266.2 512.0h0M1572.2 478.3h0M1569.8 464.3h0M1262.0 462.8h0M1532.3 539.9h0M1389.2 551.3h0M1672.1 473.6h0M1186.1 502.2h0M1366.7 375.9h0M1874.8 373.3h0M1417.1 432.4h0M1761.8 416.0h0M1463.5 518.2h0M1417.0 485.1h0M1521.7 539.0h0M1498.4 413.0h0M1486.8 439.2h0M1423.2 374.1h0M1546.2 563.8h0M1269.9 479.4h0M1464.7 484.8h0M1380.5 449.9h0M1499.0 595.9h0M1576.8 360.2h0M1500.1 371.9h0M1460.1 446.4h0M1517.5 606.8h0M1541.7 372.9h0M1425.6 526.7h0M1279.4 372.3h0M1675.3 520.6h0M1430.1 557.9h0M1537.9 595.7h0M1324.4 401.6h0M1593.2 585.8h0M1479.5 486.4h0M1558.7 479.4h0M1620.4 476.7h0M1376.6 454.1h0M1462.0 473.9h0M1372.9 417.5h0M1519.7 398.3h0M1319.5 455.8h0M1397.2 396.2h0M1334.0 473.4h0M1695.2 528.9h0M1277.4 445.1h0M1586.6 499.9h0M1278.6 491.5h0M1552.8 502.4h0M1630.7 547.9h0M1181.0 510.1h0M1559.1 378.5h0M1456.7 581.2h0M1480.9 388.1h0M1647.0 425.8h0M1608.6 358.6h0M1368.0 425.4h0M1440.9 601.5h0M1356.7 437.4h0M1615.8 478.3h0M1559.5 381.6h0M1577.2 400.9h0M1170.0 501.7h0M1731.8 375.0h0M1832.7 379.6h0M1724.2 431.6h0M1291.5 482.2h0M1664.5 537.7h0M1218.1 487.8h0M1325.4 418.3h0M1640.8 497.9h0M1512.5 398.5h0M1744.2 371.6h0M1449.8 390.1h0M1400.6 535.4h0M1543.3 483.3h0M1564.7 395.7h0M1333.2 419.0h0M1463.1 464.9h0M1458.0 539.1h0M1270.7 411.9h0M1246.9 443.2h0M1715.0 425.5h0M1524.5 518.6h0M1668.6 698.8h0M1472.3 543.5h0M1605.9 567.4h0M1828.2 403.5h0M1478.3 466.5h0M1380.0 400.4h0M1553.1 353.2h0M1588.4 440.6h0M1398.6 399.0h0M1811.3 378.0h0M1415.4 571.7h0M1429.8 448.3h0M1741.3 428.7h0M1700.8 509.0h0M1484.5 457.6h0M1576.2 566.2h0M1485.5 460.8h0M1621.2 578.5h0M1414.3 484.5h0M1739.1 477.2h0M1856.0 374.9h0M1163.5 510.7h0M1385.9 430.9h0M1257.8 459.5h0M1574.2 476.3h0M1439.3 496.5h0M1714.0 467.2h0M1523.5 610.4h0M1306.1 469.1h0M1409.7 471.1h0M1742.9 393.4h0M1553.2 372.3h0M1213.7 472.5h0M1612.7 424.2h0M1718.1 404.0h0M1523.0 415.2h0M1635.0 416.4h0M1670.9 424.2h0M1246.8 455.7h0M1256.4 478.8h0M1627.8 440.2h0M1454.3 433.0h0M1621.1 524.6h0M1254.0 493.5h0M1536.6 523.1h0M1415.8 546.1h0M1199.5 491.2h0M1600.3 360.5h0M1757.4 386.0h0M1906.2 377.5h0M1538.2 547.5h0M1264.2 391.5h0M1445.1 534.7h0M1645.9 621.9h0M1563.5 487.6h0M1413.3 451.1h0M1415.9 592.2h0M1391.4 386.1h0M1705.3 502.6h0M1694.9 558.5h0M1661.3 454.1h0M1358.3 526.0h0M1648.0 655.2h0M1661.6 408.5h0M1467.8 494.7h0M1276.9 370.5h0M1674.5 410.3h0M1539.9 513.9h0M1694.9 538.7h0M1567.1 610.3h0M1643.4 625.8h0M1676.7 540.0h0M1821.0 444.4h0M1465.6 579.6h0M1716.2 382.4h0M1488.6 580.8h0M1343.6 409.5h0M1647.1 560.6h0M1620.9 356.2h0M1499.2 447.8h0M1631.0 534.4h0M1708.2 422.6h0M1775.4 411.4h0M1667.8 418.2h0M1315.7 467.9h0M1329.0 426.3h0M1446.5 478.7h0M1658.0 520.7h0M1516.1 563.3h0M1532.8 532.4h0M1454.1 523.5h0M1446.0 368.1h0M1468.0 555.1h0M1688.4 569.3h0M1419.5 524.1h0M1631.7 481.5h0M1509.6 514.9h0M1370.1 528.2h0M1565.0 533.9h0M1665.0 594.6h0M1445.7 463.4h0M1557.0 603.6h0M1550.8 584.4h0M1581.5 460.8h0M1533.8 443.6h0M1304.1 409.4h0M1508.4 463.7h0M1430.2 546.8h0M1677.5 450.5h0M1319.5 448.8h0M1664.5 417.0h0M1293.7 384.8h0M1495.4 364.8h0M1560.8 453.5h0M1497.9 422.5h0M1777.3 397.9h0M1261.1 431.7h0M1404.8 567.5h0M1682.3 490.8h0M1900.1 383.8h0M1808.5 428.4h0M1542.8 389.7h0M1519.0 372.5h0M1532.8 611.1h0M1567.9 467.0h0M1832.9 414.4h0M1879.8 382.7h0M1715.1 483.3h0M1468.6 593.2h0M1614.8 557.6h0M1546.0 577.1h0M1649.7 391.2h0M1824.3 378.7h0M1456.4 445.4h0M1643.8 509.5h0M1503.3 393.5h0M1432.0 554.4h0M1407.0 471.6h0M1631.2 623.5h0M1340.2 497.1h0M1507.5 460.3h0M1521.2 512.8h0M1553.4 591.6h0M1440.1 441.3h0M1835.6 429.5h0M1612.4 387.9h0M1421.0 609.2h0M1410.7 454.4h0M1575.4 585.1h0M1717.4 422.9h0M1402.1 409.4h0M1240.0 410.4h0M1544.0 429.0h0M1528.9 420.2h0M1349.9 457.4h0M1408.1 443.4h0M1710.9 396.0h0M1654.2 660.1h0M1446.7 359.8h0M1197.5 461.2h0M1737.0 474.4h0M1521.2 441.1h0M1611.3 495.4h0M1368.1 494.7h0M1415.9 399.8h0M1759.5 397.6h0M1557.2 420.0h0M1716.5 412.3h0M1455.6 549.3h0M1336.4 454.8h0M1269.2 450.2h0M1683.6 407.6h0M1480.3 401.3h0M1538.9 613.1h0M1397.0 580.1h0M1433.0 577.2h0M1264.8 423.3h0M1446.1 374.5h0M1342.6 490.5h0M1351.6 398.2h0M1699.2 475.9h0M1821.4 422.3h0M1383.4 518.8h0M1166.7 520.7h0M1312.6 511.1h0M1367.1 404.6h0M1639.6 652.0h0M1549.4 414.8h0M1543.9 419.7h0M1658.1 464.5h0M1609.0 597.3h0M1603.7 411.6h0M1441.5 552.8h0M1778.5 388.9h0M1275.5 375.6h0M1391.1 373.1h0M1265.2 376.4h0M1675.3 486.2h0M1353.7 514.7h0M1227.4 481.1h0M1639.3 550.0h0M1846.7 378.5h0M1445.5 494.4h0M1779.7 382.3h0M1501.0 426.3h0M1472.7 540.5h0M1719.8 481.0h0M1340.0 500.8h0M1793.1 417.2h0M1294.8 461.4h0M1221.2 442.2h0M1228.2 431.4h0M1815.7 473.3h0M1814.2 485.4h0M1795.7 491.9h0M1815.4 475.9h0M1805.3 493.9h0M1719.2 691.8h0M1714.4 699.2h0M1692.9 680.6h0M1702.7 708.6h0M1723.9 701.6h0M1721.4 697.6h0M1701.0 697.9h0M1703.4 683.0h0M1671.3 717.1h0M1666.1 733.8h0M1641.3 692.4h0M1739.3 690.2h0M1751.8 692.5h0M1754.7 680.1h0M1756.3 642.8h0M1755.8 657.7h0M1789.5 710.7h0M1815.3 718.2h0M1858.8 746.8h0M1859.0 735.0h0M1802.1 707.4h0M1824.2 724.6h0M1863.8 738.7h0M1847.5 716.1h0M1820.2 716.5h0M1872.2 741.9h0M1712.2 812.2h0M1736.4 843.0h0M1825.5 827.8h0M1756.0 824.1h0M1812.9 821.0h0M1722.1 830.7h0M1749.2 810.8h0M1831.7 797.0h0M1798.1 793.5h0M1789.3 762.9h0M1838.1 817.2h0M1775.1 815.7h0M1869.6 862.6h0M1722.0 836.1h0M1768.6 771.3h0M1848.0 812.3h0M1755.6 801.2h0M1749.0 803.4h0M1850.7 808.3h0M1796.5 811.4h0M1827.4 851.1h0M1848.1 773.3h0M1849.1 796.5h0M1870.3 857.0h0M1843.1 779.7h0M1805.3 774.1h0M1763.7 807.3h0M1752.1 831.6h0M1853.7 825.2h0M1858.1 795.2h0M1862.8 840.4h0M1744.6 813.1h0M1804.9 815.1h0M1732.7 809.0h0M1844.7 793.6h0M1794.8 800.9h0M1856.7 828.1h0M1707.3 830.7h0M1854.5 860.6h0M1760.9 838.4h0M1803.0 761.2h0M1815.8 771.9h0M1719.3 808.5h0M1790.9 838.3h0M1828.3 793.0h0M1841.8 865.7h0M1836.3 765.3h0M1801.2 814.4h0M1737.0 827.3h0M1802.5 783.5h0M1761.1 787.2h0M1853.2 828.2h0M1826.8 836.8h0M1740.5 813.9h0M1853.0 855.8h0M1720.8 813.6h0M1818.6 845.2h0M1805.8 777.3h0M1806.2 762.1h0M1771.5 836.9h0M1774.8 797.8h0M1839.6 765.7h0M1843.2 859.1h0M1761.6 815.1h0M1841.5 761.9h0M1791.5 811.9h0M1718.6 799.4h0M1774.4 784.4h0M1874.4 843.1h0M1868.3 831.6h0M1858.2 818.2h0M1855.2 880.8h0M1561.1 671.6h0"/>
<path stroke="#7f8a86" stroke-opacity="0.58" stroke-width="2.1" d="M679.0 439.8h0M626.6 419.5h0M847.9 505.2h0M676.3 402.5h0M881.7 464.3h0M766.4 531.6h0M710.0 378.9h0M800.9 388.8h0M698.6 434.1h0M790.0 368.3h0M777.9 620.2h0M845.5 520.4h0M773.5 505.0h0M822.7 317.7h0M723.2 363.4h0M672.5 490.9h0M839.3 512.4h0M654.3 448.6h0M805.0 535.4h0M621.3 437.7h0M808.0 327.5h0M782.2 465.9h0M742.3 333.4h0M719.7 563.7h0M780.2 482.1h0M792.7 619.6h0M738.3 508.3h0M902.7 452.0h0M773.8 411.1h0M843.8 446.0h0M698.3 551.9h0M664.9 508.8h0M786.8 480.7h0M799.6 611.9h0M689.9 404.5h0M710.3 385.4h0M758.6 547.9h0M910.2 455.1h0M805.7 446.3h0M735.2 471.7h0M804.9 334.0h0M898.0 446.3h0M772.4 446.9h0M767.6 604.1h0M814.2 502.8h0M884.6 424.7h0M844.5 505.5h0M824.5 508.1h0M791.6 326.5h0M738.0 549.1h0M829.5 649.3h0M659.1 513.2h0M834.2 370.5h0M673.9 424.0h0M801.2 455.6h0M875.6 386.4h0M707.6 434.5h0M837.7 432.9h0M777.3 333.5h0M820.6 325.8h0M656.0 382.6h0M812.9 463.0h0M767.9 455.1h0M682.3 518.3h0M714.6 542.2h0M828.7 644.8h0M872.2 462.5h0M734.7 384.6h0M771.1 323.8h0M720.9 498.4h0M671.3 499.6h0M832.2 549.0h0M841.2 473.1h0M778.2 523.4h0M833.2 570.2h0M765.7 587.9h0M650.5 453.6h0M772.8 539.9h0M755.5 336.6h0M692.0 360.7h0M714.8 384.3h0M891.3 424.1h0M650.1 353.3h0M728.7 510.7h0M787.1 468.0h0M776.9 469.8h0M830.7 572.9h0M798.7 525.8h0M741.7 397.4h0M688.1 371.8h0M624.4 389.9h0M783.7 563.7h0M730.6 339.9h0M915.9 427.9h0M705.9 496.7h0M810.3 333.7h0M801.9 510.6h0M886.5 429.5h0M645.6 348.3h0M788.4 516.5h0M808.9 470.3h0M764.9 573.5h0M782.7 597.0h0M886.6 437.1h0M645.5 482.6h0M752.4 551.5h0M617.2 388.4h0M807.3 558.7h0M620.3 372.8h0M690.6 524.3h0M905.8 428.9h0M884.4 495.2h0M774.0 372.7h0M683.0 344.3h0M704.8 451.4h0M657.1 500.6h0M791.0 622.1h0M759.2 467.9h0M824.9 650.0h0M850.9 344.0h0M784.1 478.9h0M840.0 541.2h0M759.5 464.6h0M766.4 599.1h0M734.6 560.0h0M846.1 671.2h0M883.5 434.5h0M767.2 514.6h0M805.8 370.8h0M882.5 365.2h0M746.9 337.2h0M688.4 519.1h0M770.5 474.7h0M595.9 419.4h0M829.7 520.1h0M834.2 544.6h0M771.6 530.3h0M791.9 505.9h0M830.3 339.6h0M756.4 383.9h0M637.6 449.4h0M882.1 442.4h0M700.8 537.8h0M820.2 559.7h0M830.4 387.5h0M847.9 656.8h0M630.4 368.9h0M869.3 433.8h0M855.9 407.6h0M765.2 440.2h0M666.1 433.4h0M796.8 375.6h0M839.3 501.4h0M846.7 454.6h0M729.5 378.7h0M759.6 478.3h0M689.5 363.7h0M698.6 502.8h0M913.4 480.2h0M779.3 361.4h0M887.4 452.9h0M711.4 398.4h0M831.8 537.1h0M645.1 439.8h0M875.6 442.6h0M662.8 482.5h0M881.6 490.8h0M729.0 539.9h0M695.6 473.0h0M813.1 384.2h0M818.1 318.2h0M795.1 511.0h0M702.0 421.7h0M865.1 453.5h0M706.9 519.0h0M744.3 482.3h0M713.3 530.4h0M731.4 549.7h0M849.5 393.8h0M627.8 441.9h0M708.5 508.2h0M665.8 380.1h0M730.1 438.6h0M837.3 395.1h0M645.9 408.4h0M800.3 467.4h0M596.9 405.3h0M898.4 491.4h0M782.0 540.7h0M788.3 343.1h0M720.2 502.3h0M878.0 504.5h0M768.1 510.9h0M919.7 487.3h0M752.6 425.6h0M841.1 554.3h0M862.9 397.5h0M796.5 617.5h0M855.3 422.8h0M806.3 451.2h0M895.6 447.7h0M645.1 492.0h0M699.5 516.7h0M857.1 396.4h0M782.3 547.6h0M644.6 401.2h0M818.4 503.2h0M748.7 430.4h0M857.1 479.8h0M846.7 528.1h0M868.5 426.2h0M803.4 547.7h0M784.9 534.9h0M696.2 441.1h0M816.3 366.3h0M823.5 364.5h0M832.0 470.3h0M663.0 435.2h0M883.8 414.3h0M737.4 403.6h0M623.4 456.7h0M690.3 425.6h0M676.0 353.9h0M849.1 431.2h0M639.8 373.3h0M625.0 360.8h0M849.7 427.5h0M780.2 566.2h0M626.6 393.9h0M762.5 526.7h0M792.8 529.3h0M781.9 608.5h0M720.3 417.5h0M666.8 358.7h0M834.2 516.5h0M792.1 383.7h0M719.6 484.3h0M820.3 375.2h0M788.2 485.6h0M794.9 569.3h0M725.4 539.1h0M758.8 361.4h0M770.8 381.5h0M700.0 508.7h0M833.7 362.8h0M792.5 536.0h0M713.1 513.3h0M648.6 347.2h0M736.1 414.4h0M839.3 518.6h0M837.0 325.8h0M824.2 385.2h0M667.7 366.3h0M890.7 411.5h0M640.6 369.3h0M877.8 372.0h0M767.6 567.8h0M776.9 462.4h0M832.7 510.3h0M651.3 519.8h0M786.6 368.7h0M880.3 450.6h0M761.7 546.0h0M662.3 494.2h0M643.4 425.6h0M915.2 475.9h0M736.7 478.4h0M850.6 447.2h0M753.9 391.3h0M640.1 481.4h0M940.2 335.6h0M957.3 337.6h0M1008.9 344.1h0M953.6 357.8h0M971.3 403.5h0M952.8 382.6h0M964.9 331.8h0M956.6 347.2h0M1017.1 335.3h0M979.6 370.9h0M1021.6 342.1h0M971.9 326.3h0M1011.4 355.2h0M945.0 331.3h0M988.2 372.9h0M963.3 333.9h0M949.6 367.9h0M984.5 338.3h0M974.4 338.3h0M1003.3 330.3h0M1002.9 320.1h0M962.1 367.1h0M941.5 342.8h0M1009.0 335.0h0M1000.0 351.9h0M967.7 380.9h0M932.3 357.2h0M1002.6 361.0h0M923.6 356.5h0M1104.6 406.0h0M1096.2 395.4h0M1103.0 400.7h0M979.8 790.5h0M899.2 818.2h0M1015.3 733.1h0M863.7 893.9h0M825.5 740.9h0M891.0 732.3h0M867.8 763.1h0M986.5 763.5h0M931.3 737.1h0M873.0 861.6h0M973.5 754.5h0M922.6 682.5h0M879.9 892.1h0M906.7 855.8h0M861.6 703.9h0M1023.0 745.8h0M1014.1 758.4h0M882.3 779.2h0M878.2 780.3h0M909.3 824.1h0M980.5 719.5h0M968.6 814.6h0M876.4 819.2h0M963.5 795.0h0M874.4 785.5h0M920.2 775.8h0M966.1 705.0h0M906.1 777.7h0M886.8 798.5h0M936.8 715.8h0M925.0 837.0h0M843.2 825.2h0M985.6 791.3h0M892.0 716.4h0M925.3 842.1h0M859.2 899.8h0M939.9 832.4h0M860.0 890.0h0M871.6 946.7h0M994.7 777.6h0M887.2 811.0h0M937.9 767.3h0M883.8 770.0h0M1020.3 737.8h0M905.1 809.7h0M872.4 727.2h0M820.2 713.5h0M895.4 804.2h0M901.4 783.3h0M868.4 912.4h0M849.1 788.2h0M967.8 750.8h0M967.8 803.5h0M919.5 721.0h0M888.1 678.4h0M867.6 785.5h0M893.8 729.4h0M973.5 768.6h0M865.1 878.6h0M954.2 750.8h0M866.4 850.5h0M906.9 817.9h0M908.6 829.9h0M855.6 787.1h0M961.3 723.6h0M884.2 694.5h0M1008.2 726.0h0M939.4 793.1h0M842.3 751.9h0M948.7 765.9h0M864.3 692.6h0M893.4 699.6h0M895.8 756.1h0M922.5 692.7h0M842.4 712.8h0M860.5 687.1h0M860.4 867.2h0M850.2 780.8h0M876.5 824.5h0M868.5 706.0h0M849.5 784.2h0M846.1 779.8h0M893.2 868.8h0M948.1 733.3h0M898.4 736.5h0M855.2 796.6h0M861.9 846.0h0M937.3 799.6h0M854.2 783.8h0M1024.9 750.0h0M894.7 795.0h0M992.5 790.1h0M847.2 732.4h0M930.5 691.9h0M918.8 855.9h0M896.7 880.6h0M968.9 766.9h0M949.1 708.6h0M918.2 685.6h0M916.6 782.6h0M920.7 705.6h0M963.0 707.6h0M822.8 726.5h0M873.8 720.9h0M963.2 817.8h0M922.1 854.0h0M938.0 790.7h0M918.2 690.6h0M883.9 794.7h0M964.3 808.5h0M935.7 783.8h0M825.1 736.9h0M981.1 740.5h0M871.2 822.2h0M977.1 735.3h0M867.4 902.2h0M904.5 686.5h0M866.8 945.8h0M926.7 830.3h0M986.8 744.3h0M1026.6 746.0h0M971.6 757.9h0M943.4 722.5h0M957.7 776.4h0M955.7 754.8h0M951.0 754.3h0M883.0 892.9h0M855.5 899.3h0M836.2 711.1h0M854.7 676.2h0M998.6 721.0h0M938.5 708.0h0M967.0 716.1h0M921.4 800.6h0M913.0 753.3h0M970.4 784.4h0M969.0 777.2h0M844.5 784.8h0M938.9 779.2h0M906.5 754.3h0M1399.6 694.0h0M1289.9 576.2h0M1346.5 765.6h0M1216.8 678.4h0M1179.1 530.6h0M1182.6 557.4h0M1200.3 562.0h0M1375.3 650.0h0M1383.4 581.8h0M1281.5 558.1h0M1302.3 569.2h0M1312.7 821.9h0M1319.8 789.0h0M1271.0 618.7h0M1276.6 818.4h0M1340.1 653.8h0M1408.6 612.6h0M1390.8 668.2h0M1303.5 849.5h0M1230.6 642.9h0M1157.2 604.5h0M1352.7 755.2h0M1369.7 798.9h0M1411.2 619.4h0M1417.5 661.7h0M1148.5 626.3h0M1343.5 828.5h0M1382.6 681.0h0M1273.0 689.5h0M1256.8 609.5h0M1139.1 561.2h0M1382.4 662.4h0M1151.0 635.3h0M1171.9 638.5h0M1335.5 772.6h0M1387.2 650.3h0M1321.1 745.2h0M1270.1 742.8h0M1340.0 725.5h0M1344.7 789.9h0M1201.4 525.8h0M1333.2 697.7h0M1285.2 725.1h0M1236.0 644.5h0M1363.4 645.6h0M1372.8 759.4h0M1331.3 607.5h0M1198.2 593.4h0M1274.4 781.0h0M1142.1 644.0h0M1348.8 812.5h0M1201.1 548.8h0M1283.0 679.2h0M1327.0 824.1h0M1345.2 584.5h0M1288.7 754.4h0M1315.2 771.3h0M1293.0 818.9h0M1304.9 597.8h0M1359.0 819.3h0M1135.5 574.0h0M1175.2 644.1h0M1305.6 604.5h0M1294.7 739.4h0M1394.0 661.2h0M1256.0 601.8h0M1393.0 679.4h0M1161.2 663.7h0M1368.1 697.8h0M1272.6 766.0h0M1215.6 628.4h0M1312.8 751.1h0M1205.3 595.6h0M1410.5 671.4h0M1184.4 596.1h0M1332.3 809.2h0M1280.1 567.9h0M1273.6 637.9h0M1407.9 659.4h0M1286.4 595.4h0M1277.5 556.7h0M1312.0 718.3h0M1340.8 668.8h0M1275.8 723.8h0M1128.6 629.1h0M1376.6 617.0h0M1342.6 612.0h0M1387.4 717.9h0M1270.1 596.7h0M1116.4 636.9h0M1225.6 533.1h0M1412.7 714.3h0M1376.7 658.0h0M1216.8 623.8h0M1354.8 786.7h0M1271.0 722.9h0M1336.0 678.1h0M1308.7 687.0h0M1138.7 602.9h0M1340.6 646.1h0M1276.4 610.0h0M1305.6 741.9h0M1227.9 573.3h0M1337.1 605.1h0M1222.6 564.2h0M1354.8 789.5h0M1353.8 765.8h0M1306.7 589.0h0M1313.7 781.5h0M1177.0 656.0h0M1148.1 567.8h0M1297.8 644.0h0M1268.0 546.3h0M1277.0 792.0h0M1347.4 740.2h0M1180.1 669.6h0M1398.7 718.8h0M1159.3 554.7h0M1228.9 562.2h0M1282.7 777.0h0M1334.9 586.3h0M1201.4 647.3h0M1247.4 591.0h0M1260.9 651.4h0M1313.8 723.5h0M1337.5 822.1h0M1322.4 590.2h0M1143.1 660.1h0M1319.1 673.6h0M1333.6 806.7h0M1174.2 635.4h0M1229.2 533.2h0M1276.3 717.7h0M1179.0 557.6h0M1264.3 628.7h0M1268.1 725.7h0M1129.1 625.0h0M1178.4 620.6h0M1324.5 829.2h0M1346.3 653.8h0M1324.3 619.8h0M1298.8 564.9h0M1197.3 575.0h0M1324.1 673.3h0M1320.3 669.9h0M1292.6 844.8h0M1253.2 570.7h0M1147.0 602.0h0M1186.0 641.4h0M1359.3 741.1h0M1165.1 627.3h0M1408.6 725.0h0M1168.6 665.0h0M1401.8 695.2h0M1259.3 557.3h0M1294.2 618.0h0M1255.7 556.4h0M1207.0 590.3h0M1370.1 649.2h0M1124.3 633.4h0M1305.5 771.4h0M1258.1 560.6h0M1300.1 822.4h0M1276.0 639.4h0M1403.7 666.6h0M1368.5 629.5h0M1361.9 586.0h0M1160.7 651.7h0M1215.9 564.6h0M1308.4 669.1h0M1173.6 592.3h0M1263.2 601.6h0M1367.9 566.6h0M1266.5 699.6h0M1248.7 546.2h0M1218.7 602.6h0M1380.4 640.2h0M1311.4 617.6h0M1233.2 529.4h0M1274.1 645.0h0M1238.7 561.7h0M1201.3 638.6h0M1354.3 749.4h0M1325.7 580.9h0M1263.9 765.0h0M1361.5 561.2h0M1417.6 711.5h0M1156.7 633.9h0M1344.7 748.9h0M1169.0 605.5h0M1249.7 666.3h0M1257.5 778.5h0M1317.5 683.5h0M1186.4 526.5h0M1322.4 714.4h0M1381.7 648.0h0M1240.4 635.9h0M1359.3 697.3h0M1207.2 633.8h0M1272.6 801.7h0M1236.8 607.7h0M1323.7 812.7h0M1346.1 684.9h0M1305.7 695.8h0M1328.2 727.2h0M1296.0 727.8h0M1365.3 569.0h0M1410.2 634.9h0M1289.9 853.8h0M1271.2 565.2h0M1164.9 537.2h0M1252.6 659.3h0M1263.4 548.1h0M1380.3 591.4h0M1362.8 698.1h0M1249.5 690.9h0M1319.1 587.0h0M1315.3 629.0h0M1146.5 615.5h0M1243.5 561.2h0M1291.4 625.8h0M1403.5 679.8h0M1419.8 684.0h0M1280.9 574.8h0M1298.7 555.8h0M1450.8 645.2h0M1213.6 572.6h0M1418.6 706.1h0M1289.9 666.3h0M1379.2 723.8h0M1280.2 783.1h0M1299.2 738.1h0M1343.9 726.0h0M1290.5 785.4h0M1353.2 633.6h0M1125.4 611.1h0M1323.9 786.1h0M1302.2 572.9h0M1267.6 720.6h0M1399.9 627.5h0M1379.9 730.8h0M1211.7 616.1h0M1210.8 618.8h0M1320.6 842.2h0M1288.9 691.6h0M1235.0 647.5h0M1153.8 553.6h0M1226.0 596.6h0M1421.3 621.0h0M1246.4 617.4h0M1356.5 684.4h0M1362.2 810.1h0M1305.5 728.3h0M1368.1 605.4h0M1291.4 716.7h0M1326.9 763.3h0M1294.0 670.6h0M1322.1 810.4h0M1323.4 743.1h0M1222.7 599.9h0M1223.3 658.5h0M1176.2 674.0h0M1306.8 613.0h0M1356.1 613.8h0M1351.0 752.0h0M1304.9 552.8h0M1746.6 463.7h0M1751.6 385.1h0M1633.4 488.1h0M1704.8 425.6h0M1644.9 593.3h0M1616.4 446.8h0M1476.5 454.3h0M1547.5 457.0h0M1520.6 383.2h0M1597.7 596.8h0M1838.5 364.5h0M1734.8 393.5h0M1513.9 535.8h0M1549.2 501.1h0M1427.8 429.4h0M1324.5 458.2h0M1583.9 525.4h0M1682.3 577.8h0M1420.5 380.7h0M1613.6 463.8h0M1431.4 454.7h0M1573.5 455.9h0M1598.2 379.7h0M1676.3 456.5h0M1647.6 482.7h0M1384.3 435.7h0M1210.0 509.3h0M1621.0 582.6h0M1657.0 394.2h0M1457.9 528.5h0M1634.2 525.3h0M1183.4 518.3h0M1356.0 510.3h0M1397.9 404.0h0M1234.2 482.7h0M1439.2 546.8h0M1620.5 362.3h0M1624.9 519.6h0M1231.2 476.5h0M1556.2 352.1h0M1306.0 396.6h0M1654.4 515.7h0M1746.9 440.6h0M1568.8 394.1h0M1652.6 678.0h0M1453.6 472.4h0M1598.2 433.2h0M1295.0 497.8h0M1315.7 371.9h0M1550.3 354.1h0M1379.3 436.7h0M1261.7 423.6h0M1316.6 426.5h0M1290.0 429.4h0M1605.2 488.9h0M1379.4 446.1h0M1361.4 391.8h0M1498.8 589.4h0M1737.7 449.2h0M1299.0 387.3h0M1335.0 463.5h0M1602.7 430.2h0M1439.8 478.3h0M1711.8 477.6h0M1371.1 421.3h0M1557.2 358.9h0M1439.8 437.7h0M1459.8 602.3h0M1417.0 436.7h0M1320.9 429.7h0M1443.5 569.3h0M1296.4 485.1h0M1341.5 404.9h0M1265.7 389.3h0M1308.1 483.6h0M1503.4 492.1h0M1274.8 379.2h0M1552.9 443.7h0M1321.2 484.3h0M1454.1 406.2h0M1499.9 454.4h0M1591.7 414.5h0M1685.3 571.6h0M1434.7 432.3h0M1582.8 363.3h0M1678.1 484.5h0M1411.4 568.4h0M1270.8 374.8h0M1664.3 423.8h0M1594.3 405.9h0M1649.7 419.9h0M1782.7 400.2h0M1321.1 466.0h0M1562.1 365.2h0M1372.3 397.9h0M1594.7 460.8h0M1863.8 388.3h0M1383.6 454.8h0M1510.4 541.7h0M1668.3 479.2h0M1487.1 481.1h0M1786.9 381.9h0M1581.7 452.9h0M1629.0 509.2h0M1741.0 364.4h0M1406.5 552.2h0M1708.4 398.9h0M1552.0 630.4h0M1535.3 396.6h0M1414.4 475.6h0M1669.3 567.8h0M1616.2 588.9h0M1621.6 598.4h0M1533.6 446.3h0M1630.0 616.3h0M1720.3 495.3h0M1715.8 391.2h0M1496.3 501.2h0M1534.7 547.2h0M1407.9 539.0h0M1627.9 452.1h0M1625.1 555.2h0M1639.5 601.0h0M1728.0 469.5h0M1643.4 549.6h0M1717.6 400.6h0M1402.9 562.3h0M1394.7 368.3h0M1271.6 398.9h0M1409.8 459.1h0M1614.8 571.5h0M1299.5 391.7h0M1321.6 494.0h0M1437.7 415.4h0M1795.9 413.4h0M1492.0 577.2h0M1384.2 473.2h0M1328.5 469.3h0M1375.2 422.2h0M1677.0 572.2h0M1260.8 402.0h0M1289.6 463.2h0M1418.8 594.0h0M1737.5 422.1h0M1521.7 562.3h0M1525.5 476.6h0M1646.0 406.4h0M1633.1 428.0h0M1388.4 544.8h0M1736.3 426.0h0M1561.8 385.4h0M1399.5 519.4h0M1755.1 360.8h0M1464.3 359.1h0M1693.1 518.8h0M1698.6 528.9h0M1574.4 493.5h0M1660.8 459.6h0M1817.9 396.9h0M1464.3 379.6h0M1577.1 454.3h0M1450.4 618.0h0M1265.9 463.1h0M1713.2 458.9h0M1475.4 499.3h0M1307.4 418.1h0M1694.9 509.3h0M1584.6 586.2h0M1456.6 493.0h0M1664.9 487.8h0M1555.0 628.1h0M1506.3 528.9h0M1329.5 405.4h0M1472.1 517.7h0M1367.2 523.4h0M1690.3 386.1h0M1525.6 604.6h0M1403.5 584.7h0M1561.1 616.2h0M1649.0 633.0h0M1665.9 447.0h0M1696.0 433.1h0M1479.0 446.2h0M1246.1 378.3h0M1727.9 393.3h0M1464.2 390.8h0M1164.7 517.1h0M1538.8 511.2h0M1716.9 443.4h0M1743.7 425.1h0M1648.8 638.8h0M1476.8 469.8h0M1572.0 602.5h0M1900.6 391.4h0M1795.7 380.7h0M1380.3 525.6h0M1689.7 367.2h0M1632.0 424.5h0M1592.6 402.1h0M1480.1 528.1h0M1185.8 507.3h0M1453.5 533.7h0M1581.9 561.0h0M1510.8 372.9h0M1747.0 376.2h0M1450.7 451.6h0M1455.9 630.3h0M1315.0 397.1h0M1297.7 398.8h0M1536.8 640.0h0M1755.9 370.2h0M1653.8 579.7h0M1488.7 424.8h0M1396.5 417.7h0M1322.7 491.1h0M1447.6 538.5h0M1358.4 440.7h0M1579.7 514.0h0M1916.9 392.7h0M1684.8 392.1h0M1480.3 585.7h0M1401.5 463.9h0M1306.1 443.0h0M1285.6 478.1h0M1643.2 546.1h0M1574.4 601.0h0M1505.9 368.0h0M1622.6 552.9h0M1474.4 465.8h0M1645.2 639.8h0M1638.5 586.0h0M1621.3 527.7h0M1460.2 608.6h0M1543.0 510.6h0M1602.5 504.0h0M1280.9 455.5h0M1536.1 459.1h0M1567.2 406.0h0M1477.5 538.0h0M1499.2 398.2h0M1449.1 477.3h0M1639.7 462.2h0M1618.6 399.3h0M1678.8 409.4h0M1273.5 369.6h0M1309.6 407.1h0M1414.8 441.3h0M1552.5 403.9h0M1833.0 449.6h0M1598.0 512.4h0M1579.9 457.7h0M1268.3 416.2h0M1637.9 498.7h0M1435.4 523.4h0M1477.6 563.2h0M1433.3 409.5h0M1455.1 428.7h0M1458.8 598.1h0M1680.3 559.2h0M1544.0 387.2h0M1375.1 523.1h0M1285.7 392.0h0M1588.1 494.2h0M1453.0 415.4h0M1316.9 434.9h0M1626.5 505.7h0M1587.2 596.3h0M1613.0 367.9h0M1748.8 416.0h0M1574.5 437.2h0M1775.6 414.1h0M1425.6 515.5h0M1351.5 508.4h0M1547.3 396.9h0M1588.0 427.5h0M1358.8 501.4h0M1575.4 605.4h0M1606.6 542.5h0M1398.2 500.6h0M1627.6 434.9h0M1600.3 424.4h0M1408.0 423.7h0M1646.8 370.9h0M1289.5 470.5h0M1414.7 530.3h0M1576.8 392.4h0M1432.2 535.5h0M1478.8 404.6h0M1452.4 610.9h0M1400.4 552.4h0M1752.1 370.3h0M1741.2 447.0h0M1730.9 385.1h0M1802.1 395.7h0M1524.4 485.9h0M1489.3 560.8h0M1505.6 470.2h0M1663.9 456.2h0M1790.6 373.0h0M1591.2 378.6h0M1650.6 445.3h0M1657.1 702.1h0M1579.5 582.8h0M1680.4 406.2h0M1451.6 476.4h0M1264.3 408.8h0M1412.8 524.4h0M1401.5 550.0h0M1652.9 536.1h0M1485.3 582.0h0M1391.8 491.2h0M1602.7 376.5h0M1264.9 459.8h0M1676.9 562.7h0M1586.5 603.7h0M1258.0 419.0h0M1675.0 537.5h0M1656.3 632.4h0M1435.6 606.4h0M1573.6 565.4h0M1357.6 455.4h0M1360.7 508.4h0M1679.4 397.1h0M1607.5 535.8h0M1567.0 545.1h0M1417.5 600.3h0M1521.7 454.2h0M1749.2 368.0h0M1427.0 590.6h0M1673.5 573.9h0M1625.1 601.3h0M1506.2 585.5h0M1510.0 376.5h0M1476.9 425.1h0M1386.1 540.4h0M1680.3 522.0h0M1781.3 412.2h0M1621.5 406.3h0M1912.6 375.5h0M1547.1 441.0h0M1674.0 517.9h0M1599.7 552.6h0M1308.4 383.2h0M1543.6 456.8h0M1445.6 618.3h0M1660.5 700.7h0M1712.9 388.3h0M1497.2 407.3h0M1503.9 516.0h0M1564.6 415.4h0M1626.5 478.5h0M1435.8 480.5h0M1515.7 481.9h0M1806.0 420.1h0M1421.8 606.2h0M1461.5 573.9h0M1661.2 560.2h0M1720.9 378.8h0M1582.4 438.5h0M1614.2 385.7h0M1735.5 432.5h0M1582.0 487.2h0M1439.1 374.4h0M1608.4 503.7h0M1541.4 634.9h0M1543.7 612.0h0M1656.8 523.3h0M1649.3 491.8h0M1728.8 494.0h0M1343.3 445.6h0M1668.4 664.2h0M1363.0 379.0h0M1648.3 652.6h0M1304.2 507.6h0M1182.9 503.0h0M1350.2 504.0h0M1664.3 542.7h0M1271.9 407.6h0M1467.8 522.8h0M1396.4 542.2h0M1457.6 588.7h0M1879.8 396.4h0M1631.3 465.8h0M1240.3 470.5h0M1805.3 364.5h0M1528.2 612.9h0M1332.4 477.7h0M1455.1 377.6h0M1658.9 614.9h0M1170.1 526.8h0M1611.8 427.5h0M1796.9 370.4h0M1369.5 525.0h0M1640.8 510.8h0M1461.5 402.2h0M1553.9 515.1h0M1630.2 602.2h0M1333.1 377.2h0M1403.3 400.6h0M1907.7 390.6h0M1870.7 392.4h0M1664.4 716.0h0M1172.3 507.6h0M1281.9 478.2h0M1694.1 443.4h0M1513.9 546.8h0M1302.0 523.5h0M1607.2 576.4h0M1267.1 481.3h0M1486.9 428.1h0M1450.7 568.9h0M1733.1 372.7h0M1430.4 437.1h0M1691.9 404.6h0M1554.9 433.7h0M1265.2 436.4h0M1472.3 392.2h0M1697.2 517.6h0M1177.1 515.6h0M1545.7 600.1h0M1311.9 405.8h0M1441.9 410.4h0M1652.4 542.5h0M1620.4 435.5h0M1264.6 449.0h0M1304.9 483.0h0M1515.9 396.6h0M1585.2 535.4h0M1547.4 662.3h0M1393.4 452.4h0M1547.5 541.9h0M1550.9 637.0h0M1609.4 394.1h0M1417.7 421.9h0M1475.2 564.5h0M1322.6 480.0h0M1435.4 391.8h0M1368.3 402.0h0M1661.8 465.6h0M1552.3 438.3h0M1280.3 391.0h0M1454.6 442.3h0M1694.6 415.2h0M1601.9 476.4h0M1532.9 575.5h0M1453.5 372.0h0M1541.2 534.5h0M1904.7 370.8h0M1621.1 394.6h0M1310.6 491.1h0M1717.5 431.6h0M1225.6 411.4h0M1226.7 408.0h0M1228.6 413.3h0M1803.1 506.8h0M1818.9 476.8h0M1713.3 692.6h0M1712.1 684.6h0M1706.3 687.2h0M1710.1 695.9h0M1726.7 700.5h0M1665.1 721.9h0M1646.2 703.6h0M1654.0 711.3h0M1672.0 728.7h0M1714.0 752.4h0M1702.6 751.8h0M1744.0 685.5h0M1811.0 715.8h0M1820.8 734.3h0M1846.9 868.4h0M1752.2 828.6h0M1827.5 788.2h0M1848.1 844.0h0M1804.9 781.7h0M1810.4 793.9h0M1792.1 766.7h0M1819.9 834.0h0M1823.7 846.6h0M1821.3 801.1h0M1848.8 767.8h0M1822.9 783.2h0M1855.1 817.6h0M1871.6 817.8h0M1804.6 840.6h0M1737.8 824.1h0M1811.1 784.0h0M1794.5 787.7h0M1819.3 839.5h0M1799.1 790.5h0M1762.7 829.1h0M1870.5 843.4h0M1876.1 850.7h0M1745.1 785.3h0M1758.7 805.3h0M1752.3 781.9h0M1820.8 771.7h0M1834.0 772.8h0M1743.6 847.8h0M1739.1 837.1h0M1831.5 785.2h0M1773.7 834.1h0M1822.3 815.5h0M1725.6 828.2h0M1780.8 811.1h0M1779.5 791.6h0M1833.1 828.0h0M1759.8 819.4h0M1766.4 789.8h0M1800.9 841.6h0M1820.1 826.2h0M1767.9 797.5h0M1759.1 809.6h0M1772.4 810.5h0M1851.1 824.4h0M1867.2 858.0h0M1729.7 831.5h0M1774.9 805.3h0M1829.8 825.0h0M1771.2 814.9h0M1761.1 779.5h0M1738.6 801.6h0"/>
<path stroke="#A9B7DA" stroke-opacity="0.46" stroke-width="4.2" d="M781.6 434.8h0M628.0 477.2h0M853.6 456.9h0M627.5 415.4h0M628.9 412.2h0M722.3 495.8h0M748.3 408.0h0M843.8 495.5h0M826.3 459.3h0M813.7 352.7h0M778.9 321.3h0M835.7 472.6h0M621.7 384.3h0M676.3 509.1h0M774.7 519.3h0M812.7 555.1h0M724.3 544.4h0M665.7 386.9h0M742.8 530.1h0M738.8 408.1h0M796.0 347.4h0M648.5 383.8h0M747.0 410.9h0M841.7 450.8h0M640.2 401.0h0M899.9 414.7h0M763.5 493.3h0M797.5 339.8h0M802.9 495.7h0M702.8 509.7h0M849.2 359.4h0M725.6 349.1h0M746.5 373.5h0M823.5 547.9h0M700.8 499.4h0M690.5 557.5h0M650.6 435.9h0M750.6 565.7h0M804.4 633.2h0M820.5 388.8h0M591.3 412.5h0M796.5 558.6h0M839.6 428.1h0M889.7 464.5h0M660.2 395.3h0M834.2 436.6h0M910.5 440.8h0M756.5 343.6h0M672.1 372.2h0M672.1 505.5h0M676.2 519.9h0M831.7 463.9h0M840.7 388.2h0M747.9 366.4h0M851.1 365.8h0M646.6 422.8h0M683.4 450.1h0M899.6 451.8h0M757.0 413.6h0M712.3 479.3h0M901.1 434.1h0M708.1 512.2h0M729.3 402.7h0M881.4 370.4h0M886.9 487.9h0M801.8 631.7h0M859.4 377.6h0M696.4 525.9h0M915.2 454.2h0M833.7 491.5h0M611.4 433.1h0M712.1 353.0h0M813.5 499.9h0M676.7 429.0h0M727.4 420.1h0M619.9 433.6h0M840.6 434.4h0M883.3 382.9h0M735.4 484.9h0M604.2 409.7h0M834.2 397.2h0M722.0 420.3h0M637.5 472.6h0M862.6 515.3h0M702.8 546.4h0M723.9 551.4h0M768.8 458.7h0M693.1 503.0h0M808.6 504.0h0M860.7 403.0h0M819.8 491.1h0M795.1 520.8h0M753.5 535.7h0M722.8 423.0h0M862.6 678.4h0M759.5 428.5h0M634.0 452.0h0M813.4 390.3h0M765.7 486.8h0M789.4 561.4h0M702.3 446.4h0M844.5 450.7h0M719.8 428.3h0M700.9 491.9h0M834.0 565.3h0M819.2 385.3h0M712.3 460.9h0M691.9 466.8h0M831.4 448.1h0M681.5 402.7h0M792.5 455.2h0M721.3 482.3h0M792.0 585.4h0M727.2 501.6h0M709.9 437.5h0M595.7 385.9h0M762.1 404.9h0M845.2 525.7h0M784.5 570.3h0M703.8 532.0h0M689.1 468.6h0M723.1 532.3h0M692.5 547.8h0M923.1 471.9h0M807.6 384.4h0M623.0 380.7h0M637.6 429.0h0M776.5 401.9h0M644.2 447.5h0M870.9 445.1h0M661.9 427.5h0M792.5 392.1h0M755.2 393.6h0M793.3 337.9h0M856.9 458.4h0M884.9 462.3h0M833.4 460.1h0M740.2 564.2h0M659.3 461.6h0M780.0 460.8h0M827.4 523.0h0M643.9 467.0h0M891.1 493.6h0M828.7 548.8h0M838.7 403.8h0M694.1 350.1h0M609.7 391.1h0M622.7 463.6h0M834.5 384.9h0M866.4 388.2h0M813.6 325.5h0M795.1 367.2h0M819.0 650.0h0M827.2 525.8h0M782.3 380.9h0M826.2 566.6h0M705.1 362.5h0M745.5 494.7h0M754.0 578.6h0M709.5 352.1h0M688.2 411.2h0M710.4 355.1h0M709.2 490.7h0M808.6 631.4h0M785.2 485.0h0M701.5 495.4h0M856.3 436.8h0M692.8 514.7h0M814.3 368.2h0M618.1 390.9h0M639.0 464.9h0M904.8 455.7h0M847.9 387.7h0M846.6 483.2h0M731.1 397.8h0M780.6 352.0h0M850.1 418.8h0M840.8 664.5h0M720.2 373.2h0M625.8 375.4h0M782.8 390.3h0M798.5 607.9h0M852.9 514.5h0M657.8 356.1h0M816.2 495.3h0M865.1 372.3h0M854.6 441.8h0M773.2 493.9h0M658.7 455.2h0M783.9 492.9h0M665.9 350.1h0M797.2 460.8h0M742.1 486.1h0M768.5 492.2h0M678.2 445.0h0M858.3 477.2h0M890.5 420.2h0M819.7 524.3h0M759.6 365.0h0M868.0 379.7h0M763.6 577.6h0M748.3 354.1h0M670.4 350.5h0M799.0 618.5h0M593.3 405.6h0M823.0 645.0h0M788.9 627.5h0M859.2 464.8h0M659.9 526.1h0M905.3 481.3h0M817.2 554.0h0M852.1 339.7h0M890.6 497.0h0M800.7 347.5h0M747.3 558.7h0M885.4 443.5h0M907.6 454.0h0M743.7 518.1h0M642.9 359.3h0M897.3 479.3h0M834.6 521.6h0M787.8 511.0h0M781.9 373.5h0M775.5 568.6h0M794.5 577.6h0M650.1 475.8h0M764.6 483.0h0M769.6 450.4h0M679.3 511.9h0M643.2 512.1h0M695.3 477.5h0M662.4 458.9h0M754.6 359.5h0M793.9 597.0h0M873.4 347.8h0M875.2 489.9h0M727.9 342.6h0M648.0 362.7h0M688.2 437.2h0M699.6 441.8h0M828.1 630.5h0M820.6 486.2h0M679.4 348.0h0M598.8 397.2h0M744.7 329.7h0M690.2 407.5h0M823.3 628.3h0M843.9 364.3h0M819.1 355.1h0M600.2 421.9h0M809.0 545.0h0M873.1 499.5h0M835.0 670.3h0M801.7 452.1h0M756.0 405.4h0M668.2 439.9h0M789.2 396.7h0M880.8 352.1h0M748.1 433.0h0M847.7 364.6h0M705.6 402.0h0M731.8 552.4h0M802.8 441.8h0M880.6 493.3h0M756.4 378.5h0M730.0 580.3h0M724.0 463.5h0M911.2 434.2h0M729.6 425.7h0M859.5 440.4h0M752.8 332.1h0M888.8 414.7h0M703.5 386.0h0M616.5 451.4h0M730.0 487.4h0M743.5 474.2h0M727.9 549.0h0M908.3 467.4h0M887.5 482.3h0M835.6 574.7h0M768.0 610.7h0M654.5 492.6h0M609.0 395.2h0M826.6 638.6h0M742.6 440.5h0M749.6 360.7h0M838.9 383.9h0M632.4 476.8h0M719.7 546.9h0M853.4 436.0h0M837.9 528.0h0M657.4 534.3h0M756.5 341.0h0M790.4 617.4h0M830.9 353.1h0M759.5 356.6h0M702.6 524.4h0M687.6 349.8h0M677.7 544.4h0M911.3 437.2h0M618.8 443.9h0M643.0 489.5h0M722.5 571.2h0M690.6 418.4h0M712.8 548.7h0M793.8 478.0h0M940.9 338.7h0M974.3 392.1h0M972.2 394.8h0M962.2 340.8h0M947.1 322.3h0M952.4 347.7h0M984.3 325.2h0M957.7 342.2h0M995.6 341.3h0M943.3 352.3h0M1000.3 342.7h0M965.2 378.6h0M970.7 414.6h0M1031.4 336.4h0M976.1 408.4h0M977.5 415.0h0M979.4 405.7h0M960.0 379.2h0M911.5 333.0h0M947.7 346.8h0M909.5 336.8h0M961.5 329.5h0M1026.0 342.1h0M938.9 368.1h0M999.4 379.8h0M984.4 373.8h0M1024.2 334.4h0M988.1 319.9h0M954.8 386.2h0M972.2 382.8h0M1007.7 362.4h0M993.5 375.1h0M942.0 333.1h0M1023.7 331.7h0M1097.3 398.1h0M897.3 707.6h0M849.8 720.7h0M921.8 797.8h0M856.7 813.7h0M901.7 824.0h0M927.0 707.1h0M898.7 766.6h0M831.7 762.7h0M929.0 855.9h0M941.5 727.9h0M905.3 806.1h0M907.4 693.8h0M858.9 854.9h0M974.6 711.8h0M923.6 839.9h0M830.3 747.1h0M864.3 753.4h0M919.4 823.9h0M1018.0 764.3h0M928.7 848.1h0M976.9 722.7h0M938.5 781.8h0M866.6 800.5h0M850.9 757.9h0M989.8 830.7h0M1000.4 726.8h0M868.1 915.2h0M889.9 889.8h0M860.0 848.5h0M980.2 771.6h0M935.2 822.4h0M876.6 881.4h0M913.7 875.1h0M865.5 702.4h0M945.8 822.9h0M902.5 776.8h0M989.8 714.4h0M963.4 765.3h0M912.9 867.1h0M875.5 679.8h0M843.8 771.8h0M926.1 766.9h0M955.4 847.8h0M873.9 896.3h0M930.7 825.8h0M903.6 737.8h0M863.4 758.5h0M949.0 818.7h0M895.9 769.9h0M942.9 822.8h0M1003.6 771.0h0M887.0 728.5h0M975.6 830.5h0M919.7 806.5h0M941.8 795.2h0M931.4 729.4h0M929.9 725.9h0M919.9 835.7h0M890.9 870.8h0M953.6 788.6h0M890.6 791.5h0M948.8 836.1h0M901.8 745.7h0M923.7 699.3h0M949.1 727.8h0M933.1 841.0h0M991.8 774.6h0M873.6 806.3h0M887.3 904.7h0M948.7 811.9h0M861.1 732.5h0M934.4 796.2h0M938.7 854.2h0M868.0 708.6h0M874.1 938.4h0M1014.3 746.8h0M987.0 711.7h0M933.3 700.5h0M896.5 764.7h0M925.4 733.8h0M916.0 773.3h0M896.5 730.2h0M996.2 768.1h0M963.9 711.8h0M829.7 716.0h0M913.6 834.2h0M857.8 772.6h0M872.0 857.4h0M845.4 776.2h0M935.7 733.7h0M892.9 814.8h0M861.9 800.2h0M872.0 881.8h0M864.8 854.2h0M1000.5 790.6h0M1020.0 746.6h0M901.3 872.5h0M926.4 858.7h0M884.0 748.9h0M894.5 684.3h0M899.0 684.3h0M881.8 775.0h0M847.0 688.4h0M907.8 689.5h0M1013.3 731.2h0M966.9 826.9h0M965.5 822.0h0M918.5 745.2h0M909.9 779.4h0M884.6 767.3h0M979.2 765.8h0M928.1 689.0h0M857.6 791.1h0M978.5 806.4h0M886.3 859.4h0M892.0 757.3h0M881.9 924.8h0M961.1 808.9h0M859.9 674.0h0M884.4 715.2h0M916.1 831.8h0M887.6 839.0h0M881.2 917.4h0M877.2 735.7h0M892.9 862.5h0M883.2 862.5h0M860.8 910.0h0M919.4 737.2h0M974.9 744.3h0M873.3 694.4h0M847.1 798.5h0M846.9 735.4h0M896.1 758.7h0M878.4 829.7h0M971.6 806.8h0M990.2 725.5h0M874.6 899.6h0M835.4 756.6h0M942.2 789.9h0M968.6 762.2h0M896.3 815.2h0M965.2 832.3h0M930.8 762.3h0M888.6 882.1h0M890.9 831.2h0M939.9 748.4h0M920.2 694.9h0M967.6 807.5h0M861.6 728.3h0M1001.1 798.1h0M879.1 810.8h0M939.7 761.9h0M1004.4 760.6h0M913.5 856.8h0M1003.2 749.2h0M922.5 803.0h0M1336.3 745.4h0M1457.0 649.9h0M1244.0 590.2h0M1313.4 602.5h0M1201.2 565.4h0M1197.0 556.5h0M1380.0 764.5h0M1426.5 672.4h0M1374.9 696.5h0M1303.9 637.6h0M1360.0 692.5h0M1250.5 644.1h0M1349.8 759.6h0M1308.2 622.0h0M1231.8 634.3h0M1331.9 573.6h0M1292.8 752.0h0M1456.6 659.9h0M1373.4 800.8h0M1163.9 580.3h0M1196.7 620.0h0M1340.8 690.0h0M1211.9 643.6h0M1316.8 721.4h0M1459.1 665.7h0M1339.2 626.8h0M1233.9 592.2h0M1212.1 576.9h0M1379.1 576.3h0M1284.1 672.2h0M1181.0 644.1h0M1285.7 641.7h0M1265.3 754.6h0M1434.8 657.4h0M1324.6 764.9h0M1330.5 742.0h0M1218.1 651.8h0M1330.2 566.8h0M1375.9 675.2h0M1383.6 628.5h0M1353.8 603.4h0M1398.7 621.6h0M1324.2 778.7h0M1330.3 637.4h0M1297.5 672.0h0M1296.8 663.0h0M1383.1 586.0h0M1362.3 594.8h0M1385.4 655.3h0M1403.9 712.9h0M1378.4 650.0h0M1288.6 617.3h0M1339.1 826.7h0M1392.2 615.7h0M1281.3 668.7h0M1287.2 645.7h0M1366.0 563.9h0M1405.7 725.8h0M1140.5 654.8h0M1357.7 634.4h0M1274.1 633.5h0M1358.3 781.4h0M1166.3 553.8h0M1426.4 658.7h0M1352.1 626.5h0M1151.9 662.2h0M1353.3 616.7h0M1384.1 705.2h0M1152.2 574.8h0M1316.8 791.5h0M1316.0 846.0h0M1251.2 613.0h0M1277.6 602.2h0M1400.9 605.3h0M1287.4 565.2h0M1312.1 807.4h0M1461.4 648.0h0M1359.6 681.1h0M1402.6 616.9h0M1206.6 558.6h0M1400.3 749.6h0M1250.6 608.5h0M1337.6 615.8h0M1298.8 569.5h0M1286.1 631.5h0M1258.6 659.4h0M1295.9 798.6h0M1372.5 564.9h0M1374.5 656.0h0M1156.9 630.1h0M1228.7 673.4h0M1320.3 812.5h0M1281.8 828.1h0M1264.4 695.1h0M1312.6 825.0h0M1345.2 599.4h0M1165.1 556.8h0M1383.2 620.4h0M1166.1 562.5h0M1282.3 563.9h0M1393.8 715.0h0M1302.4 631.8h0M1338.2 846.2h0M1337.7 795.2h0M1251.3 592.1h0M1123.8 646.9h0M1364.2 704.6h0M1283.9 765.1h0M1205.0 649.6h0M1356.0 542.7h0M1321.5 732.7h0M1256.1 616.2h0M1305.9 722.2h0M1304.6 861.5h0M1254.8 733.5h0M1347.2 784.2h0M1231.6 596.5h0M1315.0 755.2h0M1276.6 645.9h0M1229.3 633.1h0M1399.3 608.6h0M1260.8 572.3h0M1234.0 570.0h0M1282.4 585.2h0M1119.4 621.1h0M1158.0 578.0h0M1366.9 669.7h0M1235.5 562.9h0M1267.4 671.5h0M1406.5 673.2h0M1367.9 736.7h0M1125.9 620.0h0M1315.7 569.8h0M1216.3 606.7h0M1279.0 604.9h0M1189.8 650.5h0M1390.2 682.0h0M1442.0 640.1h0M1241.0 649.2h0M1395.8 608.9h0M1192.0 618.3h0M1404.9 688.4h0M1143.0 561.8h0M1379.0 664.0h0M1306.1 719.3h0M1298.9 597.6h0M1273.1 711.8h0M1334.8 821.1h0M1298.5 674.8h0M1255.8 637.7h0M1348.3 656.7h0M1271.7 664.3h0M1405.5 618.6h0M1323.1 834.2h0M1393.6 754.2h0M1364.1 789.9h0M1333.4 567.2h0M1291.0 805.2h0M1123.7 638.5h0M1258.1 692.2h0M1316.0 599.7h0M1163.5 584.3h0M1187.3 622.4h0M1311.6 595.3h0M1326.5 768.6h0M1240.7 646.6h0M1344.4 592.4h0M1328.3 779.1h0M1295.0 836.3h0M1371.4 641.0h0M1275.1 714.5h0M1365.9 768.2h0M1252.0 599.9h0M1336.1 753.7h0M1300.1 600.3h0M1351.7 649.7h0M1264.4 709.9h0M1234.6 604.2h0M1210.5 671.4h0M1349.7 611.0h0M1276.4 789.0h0M1229.8 661.7h0M1277.5 757.2h0M1400.5 667.1h0M1273.6 698.3h0M1278.1 682.7h0M1296.4 732.5h0M1355.4 730.6h0M1197.6 590.3h0M1328.2 747.4h0M1368.0 806.6h0M1307.1 672.0h0M1349.3 723.0h0M1269.2 601.7h0M1310.9 634.3h0M1409.7 626.7h0M1277.8 597.4h0M1142.1 602.3h0M1238.1 676.9h0M1425.2 649.6h0M1302.3 681.3h0M1337.7 558.1h0M1319.0 595.8h0M1312.0 857.3h0M1277.8 627.5h0M1314.4 836.9h0M1261.8 625.8h0M1210.7 627.7h0M1386.2 736.3h0M1387.6 789.8h0M1277.4 779.8h0M1173.6 657.1h0M1119.7 633.4h0M1368.2 571.6h0M1263.2 759.7h0M1327.1 786.9h0M1355.5 585.8h0M1294.8 805.1h0M1388.8 659.0h0M1269.5 769.3h0M1376.1 800.2h0M1129.9 646.7h0M1304.9 663.9h0M1172.6 553.7h0M1358.2 727.4h0M1395.3 683.6h0M1219.3 573.6h0M1296.5 625.2h0M1302.1 785.7h0M1353.3 770.7h0M1337.2 727.9h0M1301.1 749.6h0M1312.9 576.2h0M1430.2 687.3h0M1445.5 643.3h0M1310.7 729.0h0M1338.6 681.1h0M1171.5 654.9h0M1207.3 636.6h0M1348.6 630.4h0M1370.8 694.9h0M1200.9 677.0h0M1200.1 580.4h0M1243.7 541.3h0M1300.1 706.0h0M1164.6 631.3h0M1406.2 716.7h0M1130.8 610.1h0M1238.6 573.8h0M1341.7 617.4h0M1158.3 618.5h0M1146.2 627.6h0M1355.2 549.1h0M1354.3 728.0h0M1174.9 615.4h0M1293.5 809.2h0M1155.5 611.5h0M1161.5 592.0h0M1313.1 676.9h0M1191.8 562.0h0M1228.1 557.2h0M1279.4 661.6h0M1351.5 813.9h0M1217.4 576.3h0M1188.4 573.3h0M1144.3 589.3h0M1342.2 769.3h0M1228.1 612.6h0M1251.8 547.2h0M1190.1 530.0h0M1305.7 641.2h0M1268.5 687.2h0M1324.8 799.7h0M1200.7 552.2h0M1324.4 566.7h0M1319.1 778.8h0M1128.6 585.4h0M1483.5 607.1h0M1594.1 564.4h0M1650.5 537.5h0M1665.8 653.9h0M1639.8 520.9h0M1389.8 468.3h0M1688.8 485.0h0M1473.7 368.1h0M1703.1 422.0h0M1654.5 563.4h0M1383.4 468.5h0M1514.7 574.1h0M1778.5 370.0h0M1636.4 530.6h0M1832.6 384.3h0M1454.3 587.1h0M1466.8 472.4h0M1644.0 605.1h0M1356.8 471.7h0M1297.9 454.3h0M1469.3 407.3h0M1466.5 423.1h0M1453.6 452.4h0M1257.5 412.1h0M1481.9 426.7h0M1403.4 434.9h0M1689.4 579.3h0M1644.1 637.3h0M1395.2 497.9h0M1823.9 409.2h0M1767.5 418.2h0M1380.0 464.9h0M1308.8 509.0h0M1463.7 438.1h0M1412.7 538.6h0M1354.8 450.6h0M1449.4 550.1h0M1424.2 380.6h0M1440.2 528.5h0M1694.8 376.5h0M1465.4 609.1h0M1768.3 388.8h0M1510.6 384.0h0M1275.6 383.1h0M1614.9 583.3h0M1681.1 534.4h0M1487.4 446.1h0M1630.9 573.7h0M1614.4 596.7h0M1243.5 403.8h0M1446.6 444.7h0M1646.3 385.4h0M1526.7 601.2h0M1869.3 384.5h0M1255.2 485.6h0M1510.1 568.1h0M1427.0 371.1h0M1517.3 552.7h0M1673.9 589.6h0M1820.7 412.9h0M1360.0 470.6h0M1623.9 407.5h0M1558.5 426.7h0M1432.8 522.6h0M1462.3 418.1h0M1728.4 437.7h0M1340.6 420.4h0M1502.1 475.9h0M1677.6 412.5h0M1354.2 393.8h0M1535.0 570.1h0M1531.9 526.6h0M1646.8 616.9h0M1473.4 595.8h0M1528.9 491.0h0M1511.9 501.0h0M1256.4 379.0h0M1352.4 464.6h0M1681.5 587.8h0M1397.5 475.3h0M1408.1 487.6h0M1450.4 603.7h0M1370.6 445.0h0M1605.9 389.0h0M1519.2 473.3h0M1576.9 558.0h0M1391.1 547.0h0M1885.7 381.4h0M1374.3 376.4h0M1372.3 525.1h0M1393.4 458.1h0M1765.7 385.3h0M1708.5 431.3h0M1694.2 367.7h0M1297.2 469.1h0M1594.5 507.0h0M1459.8 502.5h0M1454.4 480.4h0M1640.9 392.4h0M1386.5 408.3h0M1681.6 565.5h0M1566.0 565.4h0M1638.2 514.6h0M1725.0 462.9h0M1468.1 516.1h0M1627.8 610.6h0M1525.9 387.1h0M1640.1 573.2h0M1659.9 400.9h0M1439.4 408.3h0M1363.6 499.6h0M1581.2 406.9h0M1402.3 427.5h0M1335.7 491.9h0M1760.1 387.4h0M1330.6 446.8h0M1756.9 408.5h0M1247.0 404.2h0M1463.6 554.1h0M1621.2 595.0h0M1639.6 621.7h0M1529.7 606.1h0M1659.8 440.8h0M1267.1 455.6h0M1389.5 433.6h0M1891.6 386.9h0M1263.1 484.7h0M1549.1 621.8h0M1416.4 556.8h0M1837.7 438.8h0M1709.4 435.3h0M1785.3 373.7h0M1573.7 384.3h0M1625.1 361.4h0M1825.0 432.8h0M1353.0 472.1h0M1631.0 366.2h0M1479.6 567.1h0M1253.6 441.1h0M1551.3 576.0h0M1451.1 500.0h0M1453.0 424.2h0M1303.5 440.2h0M1325.8 381.1h0M1565.6 512.7h0M1327.0 466.9h0M1371.3 439.3h0M1262.3 397.0h0M1662.0 397.9h0M1731.1 433.5h0M1698.3 549.5h0M1171.2 516.7h0M1470.8 538.7h0M1531.0 459.7h0M1469.6 512.6h0M1557.1 400.9h0M1463.0 551.1h0M1434.0 368.5h0M1436.8 583.5h0M1704.0 440.5h0M1670.6 419.5h0M1326.2 447.4h0M1556.4 437.2h0M1353.3 373.5h0M1540.7 483.1h0M1650.9 439.6h0M1894.5 367.4h0M1157.7 510.1h0M1238.8 483.3h0M1379.4 387.2h0M1430.6 605.1h0M1833.3 455.1h0M1499.8 507.8h0M1409.3 531.7h0M1315.2 471.8h0M1620.0 428.7h0M1437.8 630.7h0M1192.1 516.1h0M1307.9 480.5h0M1469.0 590.3h0M1541.2 480.4h0M1446.9 598.5h0M1644.1 462.9h0M1408.4 414.7h0M1560.3 525.8h0M1492.4 396.3h0M1551.7 560.8h0M1296.4 440.5h0M1480.5 499.3h0M1595.5 385.1h0M1264.2 478.7h0M1458.2 577.8h0M1550.0 388.7h0M1552.0 586.7h0M1749.5 361.3h0M1401.5 505.6h0M1331.1 415.7h0M1548.8 473.3h0M1751.7 469.6h0M1631.2 543.4h0M1504.4 498.7h0M1466.9 462.3h0M1548.0 470.4h0M1676.6 435.7h0M1616.1 609.7h0M1503.8 591.8h0M1316.9 447.2h0M1597.3 525.6h0M1686.3 369.6h0M1643.4 430.8h0M1513.2 562.8h0M1623.6 541.5h0M1851.2 369.2h0M1542.9 607.3h0M1761.2 384.5h0M1418.1 507.7h0M1544.3 443.2h0M1441.8 536.1h0M1828.5 372.3h0M1732.8 482.1h0M1840.2 360.3h0M1406.2 529.3h0M1528.9 629.6h0M1509.4 559.7h0M1603.3 587.2h0M1677.7 394.2h0M1726.5 456.7h0M1590.4 395.7h0M1508.0 578.5h0M1418.7 602.7h0M1702.7 544.3h0M1663.4 395.1h0M1574.4 420.5h0M1658.6 686.7h0M1540.0 370.6h0M1383.3 438.8h0M1629.1 551.4h0M1262.0 466.0h0M1446.0 403.9h0M1489.4 604.0h0M1465.0 487.8h0M1302.3 392.5h0M1219.2 473.3h0M1602.8 369.3h0M1666.7 599.8h0M1717.1 485.4h0M1654.0 625.5h0M1488.4 536.2h0M1419.3 400.6h0M1484.2 513.5h0M1406.5 381.5h0M1383.2 459.0h0M1762.8 378.7h0M1259.9 485.1h0M1684.9 545.4h0M1396.8 536.0h0M1428.9 554.1h0M1694.2 435.3h0M1495.2 448.2h0M1656.7 560.7h0M1248.6 429.7h0M1384.8 394.2h0M1624.1 466.2h0M1360.3 394.9h0M1514.5 582.6h0M1585.9 464.8h0M1651.7 598.0h0M1570.9 382.6h0M1629.8 444.9h0M1425.7 409.0h0M1816.0 370.7h0M1261.3 508.7h0M1623.6 580.3h0M1262.1 380.9h0M1533.8 591.8h0M1915.5 382.5h0M1482.9 563.5h0M1615.7 604.1h0M1584.5 393.0h0M1715.2 418.8h0M1518.4 451.7h0M1661.2 669.9h0M1398.4 482.4h0M1603.6 480.4h0M1672.2 487.1h0M1358.2 450.7h0M1485.5 450.8h0M1526.6 546.6h0M1320.8 471.3h0M1757.2 414.0h0M1602.5 460.8h0M1857.8 387.4h0M1226.8 454.9h0M1558.5 445.0h0M1645.9 523.2h0M1691.8 475.2h0M1385.2 550.3h0M1587.2 542.5h0M1547.5 480.8h0M1311.7 508.4h0M1251.0 464.5h0M1570.2 606.8h0M1455.5 556.3h0M1648.0 458.5h0M1289.8 385.8h0M1797.4 402.8h0M1627.5 429.6h0M1613.5 567.3h0M1375.2 456.6h0M1570.5 580.0h0M1541.0 413.7h0M1569.1 616.2h0M1449.6 572.0h0M1731.7 405.0h0M1309.6 450.2h0M1639.2 397.0h0M1555.6 472.0h0M1652.3 415.0h0M1429.7 624.6h0M1743.3 397.8h0M1692.1 376.0h0M1681.9 401.2h0M1551.1 435.3h0M1647.4 478.9h0M1341.0 395.2h0M1617.1 386.6h0M1628.9 372.2h0M1752.2 426.1h0M1552.6 425.9h0M1712.0 429.4h0M1810.9 385.6h0M1834.8 371.0h0M1565.4 470.0h0M1477.1 420.6h0M1416.0 465.2h0M1428.8 398.2h0M1693.7 512.0h0M1345.1 522.5h0M1507.6 395.5h0M1535.1 518.6h0M1465.3 545.6h0M1638.3 554.9h0M1291.2 449.3h0M1697.4 368.4h0M1701.5 394.9h0M1466.9 498.9h0M1392.6 520.7h0M1697.4 562.1h0M1831.5 409.7h0M1409.7 547.5h0M1569.1 389.7h0M1317.1 380.4h0M1721.2 454.5h0M1516.0 458.8h0M1194.7 498.1h0M1538.4 504.1h0M1512.3 486.2h0M1511.0 549.4h0M1406.9 586.0h0M1689.1 587.0h0M1513.2 515.4h0M1456.4 621.1h0M1657.1 537.2h0M1364.8 394.4h0M1566.7 374.9h0M1619.7 366.7h0M1428.9 544.5h0M1386.7 529.5h0M1563.6 442.8h0M1577.8 570.7h0M1412.1 513.2h0M1686.1 576.9h0M1566.6 499.1h0M1649.9 498.2h0M1335.5 406.5h0M1308.5 379.6h0M1521.6 553.8h0M1287.1 395.2h0M1522.0 490.2h0M1694.4 469.8h0M1391.3 388.8h0M1176.0 507.4h0M1658.5 567.7h0M1662.0 491.1h0M1524.7 607.5h0M1747.1 395.7h0M1404.4 549.2h0M1257.4 403.3h0M1611.8 420.6h0M1822.8 361.0h0M1362.5 436.9h0M1825.4 399.2h0M1420.2 632.3h0M1449.5 483.7h0M1657.8 422.3h0M1453.9 546.3h0M1453.6 513.9h0M1662.3 377.5h0M1405.7 497.4h0M1679.4 368.2h0M1682.4 506.5h0M1610.2 577.6h0M1253.9 490.6h0M1481.6 495.1h0M1533.9 497.2h0M1546.6 638.6h0M1498.0 562.8h0M1733.7 459.4h0M1461.5 614.6h0M1226.9 468.4h0M1386.4 439.7h0M1732.5 379.1h0M1400.1 488.0h0M1482.2 601.4h0M1414.9 513.7h0M1659.5 366.2h0M1667.8 497.7h0M1626.8 536.5h0M1508.1 518.1h0M1639.3 452.3h0M1175.2 510.7h0M1769.2 365.0h0M1455.8 498.3h0M1466.8 552.6h0M1588.3 511.0h0M1557.7 639.3h0M1604.1 463.3h0M1517.4 609.7h0M1359.1 383.9h0M1479.3 470.9h0M1361.1 461.6h0M1812.2 380.6h0M1422.3 414.2h0M1748.0 433.0h0M1607.5 487.6h0M1503.6 480.0h0M1670.4 537.8h0M1408.4 493.4h0M1722.3 483.3h0M1429.1 607.4h0M1520.0 507.9h0M1378.1 523.1h0M1328.9 432.8h0M1641.5 413.0h0M1740.5 422.2h0M1670.5 543.5h0M1472.3 426.5h0M1637.4 635.9h0M1268.2 486.0h0M1363.7 467.2h0M1688.4 474.4h0M1689.5 495.9h0M1274.2 481.6h0M1488.8 590.3h0M1244.0 473.7h0M1528.8 594.6h0M1396.4 502.6h0M1475.4 548.3h0M1656.5 531.6h0M1567.7 428.5h0M1718.1 384.6h0M1497.5 482.8h0M1679.9 473.8h0M1412.9 448.4h0M1647.0 635.7h0M1598.2 367.1h0M1448.7 577.8h0M1608.2 533.2h0M1189.8 511.5h0M1404.6 524.5h0M1504.8 596.1h0M1356.2 418.1h0M1446.5 475.5h0M1525.7 417.5h0M1514.4 607.7h0M1281.4 465.6h0M1513.6 477.9h0M1454.8 419.0h0M1504.9 568.9h0M1341.7 461.3h0M1723.6 495.4h0M1380.2 421.1h0M1687.2 365.6h0M1438.8 492.9h0M1664.6 521.3h0M1618.3 411.2h0M1500.1 569.8h0M1903.8 374.8h0M1277.6 449.0h0M1523.1 617.2h0M1309.8 462.3h0M1450.7 539.7h0M1567.3 371.6h0M1246.6 475.8h0M1604.2 551.6h0M1160.6 518.2h0M1604.7 604.5h0M1557.4 502.7h0M1554.7 462.9h0M1591.9 408.2h0M1628.0 375.1h0M1530.2 522.3h0M1791.7 391.4h0M1496.4 505.6h0M1532.2 395.2h0M1735.7 465.0h0M1437.7 538.8h0M1658.0 448.6h0M1338.4 457.4h0M1505.5 543.6h0M1660.8 575.1h0M1451.7 470.4h0M1602.6 524.5h0M1454.7 366.7h0M1420.6 369.7h0M1420.8 434.5h0M1695.6 565.6h0M1491.6 519.4h0M1732.0 439.5h0M1535.1 649.3h0M1396.4 512.1h0M1305.8 492.7h0M1540.8 517.5h0M1622.4 522.4h0M1687.1 398.4h0M1564.6 586.2h0M1611.3 363.0h0M1561.0 398.3h0M1531.4 572.0h0M1746.4 426.6h0M1345.9 379.0h0M1592.9 553.3h0M1543.5 601.6h0M1709.9 484.4h0M1601.1 398.9h0M1332.3 426.7h0M1747.6 468.2h0M1488.5 465.6h0M1645.1 484.1h0M1650.5 528.4h0M1544.1 513.8h0M1473.7 556.4h0M1566.0 448.8h0M1211.7 454.5h0M1431.9 596.2h0M1403.0 444.3h0M1751.4 364.1h0M1888.4 370.4h0M1566.8 359.6h0M1284.4 433.4h0M1577.1 445.2h0M1576.7 450.5h0M1371.6 433.1h0M1657.9 419.6h0M1539.8 644.9h0M1626.7 512.9h0M1602.2 560.8h0M1571.9 432.5h0M1608.8 587.3h0M1696.1 449.7h0M1703.3 479.8h0M1668.7 462.1h0M1648.1 376.8h0M1169.4 521.7h0M1472.4 460.0h0M1590.0 464.9h0M1554.5 499.4h0M1292.1 441.8h0M1359.4 431.3h0M1353.0 389.9h0M1596.6 415.8h0M1385.5 516.8h0M1459.0 423.2h0M1718.4 498.0h0M1286.4 378.6h0M1837.7 374.0h0M1560.8 548.1h0M1907.1 395.8h0M1671.4 702.8h0M1224.8 460.2h0M1442.0 507.1h0M1618.8 584.6h0M1664.1 387.6h0M1232.5 469.2h0M1368.9 474.0h0M1559.3 582.2h0M1699.7 375.2h0M1202.5 503.6h0M1216.7 405.7h0M1222.6 408.9h0M1796.5 499.4h0M1819.2 490.3h0M1784.9 513.3h0M1799.1 487.2h0M1816.8 466.4h0M1720.1 678.3h0M1698.1 698.3h0M1700.4 688.7h0M1688.0 676.2h0M1640.9 708.6h0M1686.4 740.3h0M1680.7 733.8h0M1647.1 699.2h0M1661.5 713.3h0M1728.4 752.9h0M1726.0 757.6h0M1755.3 696.7h0M1750.6 706.2h0M1764.0 646.4h0M1763.1 677.0h0M1758.0 652.9h0M1829.8 728.3h0M1844.4 737.3h0M1801.1 700.7h0M1829.1 739.1h0M1822.7 714.7h0M1811.6 722.4h0M1830.6 722.2h0M1840.1 730.6h0M1853.7 735.1h0M1854.4 729.2h0M1881.3 828.4h0M1742.2 801.3h0M1828.2 827.6h0M1749.1 800.8h0M1745.7 823.6h0M1722.2 845.7h0M1752.8 809.1h0M1819.7 785.5h0M1829.7 771.8h0M1855.2 810.7h0M1800.1 827.0h0M1765.2 832.2h0M1811.4 802.2h0M1859.2 857.4h0M1754.6 826.4h0M1848.1 856.2h0M1820.6 809.1h0M1768.5 793.0h0M1716.7 820.8h0M1740.3 808.4h0M1715.6 843.0h0M1781.5 799.2h0M1723.9 820.2h0M1831.7 779.2h0M1820.9 777.3h0M1741.2 794.6h0M1725.8 808.1h0M1838.0 792.4h0M1843.6 831.8h0M1830.4 837.3h0M1796.3 819.2h0M1796.6 775.9h0M1851.7 795.3h0M1825.7 784.6h0M1796.3 806.2h0M1846.4 781.2h0M1787.4 837.6h0M1724.5 811.1h0M1776.9 824.7h0M1839.4 802.7h0M1788.7 766.0h0M1788.3 776.5h0M1846.6 822.3h0M1796.7 757.6h0M1809.2 778.0h0M1856.8 839.5h0M1800.3 787.6h0M1859.0 798.1h0M1743.0 789.1h0M1774.5 794.9h0M1711.7 836.0h0M1861.2 795.2h0M1802.5 768.7h0M1885.8 828.3h0M1838.8 762.3h0M1741.9 825.0h0M1819.6 821.2h0M1750.0 785.4h0M1727.9 842.2h0M1748.7 788.4h0M1771.2 827.1h0"/>
<path stroke="#041c4a" stroke-opacity="0.5" stroke-width="3.8" d="M1201.4 436.6h0M892.4 483.0h0M757.7 387.2h0M840.3 376.1h0M812.4 507.3h0M776.9 565.6h0M744.2 446.6h0M783.4 521.2h0M633.6 409.1h0M659.1 379.5h0M688.2 538.9h0M794.8 565.5h0M663.9 365.4h0M764.0 334.3h0M857.9 681.9h0M722.3 352.7h0M828.7 441.7h0M721.5 413.5h0M817.5 474.4h0M642.1 483.5h0M908.0 472.2h0M768.4 359.9h0M854.7 426.8h0M865.6 447.8h0M731.7 361.5h0M781.3 463.5h0M760.7 396.6h0M888.7 474.9h0M831.7 484.8h0M862.1 532.0h0M803.7 473.4h0M628.8 397.3h0M839.6 561.6h0M820.7 623.2h0M696.8 499.8h0M855.2 670.0h0M697.0 483.8h0M840.2 503.9h0M795.5 572.8h0M719.1 494.9h0M831.7 529.8h0M790.8 466.9h0M653.9 387.5h0M863.0 471.1h0M843.8 334.4h0M878.1 452.0h0M873.1 450.1h0M689.2 489.3h0M700.0 461.7h0M714.0 428.3h0M841.3 479.5h0M661.6 473.6h0M706.8 529.7h0M619.9 370.2h0M787.3 526.2h0M773.8 606.0h0M743.6 386.3h0M887.6 495.0h0M740.0 493.5h0M763.9 618.7h0M748.6 346.3h0M613.3 446.9h0M710.6 433.5h0M744.3 565.6h0M683.6 399.0h0M776.3 450.1h0M669.2 381.1h0M749.8 404.2h0M815.9 444.7h0M700.0 525.3h0M864.6 478.0h0M829.3 324.6h0M783.6 591.9h0M722.9 392.3h0M648.5 394.8h0M839.3 492.2h0M664.8 461.4h0M754.0 440.1h0M732.3 546.9h0M811.6 492.7h0M698.4 458.0h0M847.1 523.7h0M721.1 543.7h0M729.4 479.8h0M677.5 415.8h0M870.5 486.2h0M645.6 506.1h0M887.4 446.0h0M820.4 529.5h0M779.9 552.2h0M839.8 446.1h0M800.1 529.9h0M736.6 439.2h0M654.2 413.1h0M749.8 574.9h0M890.6 433.0h0M678.8 371.8h0M867.1 370.2h0M834.0 348.0h0M667.4 475.6h0M702.1 459.3h0M685.1 478.3h0M881.6 422.9h0M762.8 421.2h0M771.3 548.6h0M746.2 345.3h0M863.9 489.6h0M787.7 354.9h0M855.1 679.3h0M731.2 521.0h0M672.2 380.4h0M864.1 407.3h0M602.4 399.7h0M809.1 350.9h0M835.5 339.5h0M779.7 505.3h0M857.1 411.2h0M690.0 454.6h0M785.3 555.6h0M811.8 469.7h0M785.5 436.4h0M696.7 544.7h0M657.3 418.7h0M626.4 448.7h0M833.6 495.5h0M725.3 406.7h0M850.1 443.7h0M763.0 427.4h0M717.8 487.1h0M721.1 356.0h0M836.1 392.3h0M760.5 459.4h0M653.7 499.9h0M772.4 425.4h0M837.7 448.8h0M594.7 413.8h0M762.3 471.8h0M841.9 672.9h0M734.5 524.7h0M794.4 386.9h0M662.9 349.6h0M757.8 492.8h0M706.5 381.8h0M784.0 385.1h0M659.1 448.3h0M839.5 367.7h0M744.5 579.5h0M851.8 395.4h0M846.0 384.2h0M706.2 474.8h0M826.5 362.0h0M719.2 462.4h0M830.3 482.3h0M726.3 367.1h0M708.3 422.9h0M772.3 512.5h0M767.7 420.0h0M769.9 386.2h0M846.3 360.0h0M884.3 480.3h0M793.3 345.3h0M797.9 474.2h0M892.4 461.8h0M616.8 380.2h0M653.2 398.1h0M815.5 331.6h0M881.4 386.7h0M706.2 373.8h0M688.4 497.9h0M787.6 567.1h0M832.5 480.1h0M785.4 424.8h0M818.9 329.4h0M767.9 375.7h0M638.5 483.8h0M815.1 529.8h0M777.6 412.7h0M887.7 509.0h0M761.5 354.5h0M885.9 410.6h0M621.3 447.2h0M848.6 520.4h0M684.7 360.2h0M660.8 356.5h0M895.2 443.5h0M616.1 415.5h0M831.3 453.1h0M721.5 344.8h0M809.7 490.9h0M865.4 466.8h0M851.3 398.9h0M851.7 464.2h0M875.3 478.4h0M668.9 538.3h0M630.7 383.5h0M777.4 616.1h0M781.8 364.6h0M905.6 478.3h0M822.9 501.6h0M721.6 522.7h0M765.5 329.1h0M650.1 376.7h0M858.2 461.4h0M867.4 526.5h0M734.2 461.8h0M773.4 510.0h0M809.5 550.3h0M667.3 507.1h0M662.0 538.8h0M694.3 459.7h0M845.7 435.5h0M698.8 539.7h0M822.1 444.2h0M845.9 418.4h0M974.5 355.0h0M962.6 384.7h0M969.1 323.9h0M993.0 382.1h0M964.2 326.1h0M924.4 350.6h0M910.0 339.4h0M973.2 316.6h0M1019.2 322.2h0M1008.0 323.6h0M1028.4 350.7h0M990.7 343.0h0M973.0 405.9h0M983.5 328.4h0M997.9 354.2h0M962.4 321.4h0M940.1 348.1h0M998.3 377.4h0M999.6 390.1h0M929.4 339.2h0M959.9 405.1h0M1013.5 373.7h0M938.9 351.8h0M948.0 357.4h0M952.9 369.9h0M985.9 327.5h0M993.5 343.3h0M968.7 416.6h0M1094.9 405.1h0M934.4 843.9h0M978.7 728.8h0M840.6 720.2h0M971.6 803.2h0M836.9 736.9h0M887.5 825.4h0M831.6 727.3h0M912.8 784.4h0M920.9 727.4h0M881.9 826.5h0M860.6 839.5h0M893.4 886.7h0M880.3 738.2h0M848.6 870.3h0M857.5 879.0h0M867.6 730.0h0M863.2 872.6h0M890.8 713.8h0M831.9 692.1h0M875.6 750.8h0M826.4 743.9h0M906.2 789.8h0M957.9 735.1h0M959.1 721.5h0M925.3 755.7h0M892.9 703.3h0M837.3 766.4h0M890.0 867.9h0M943.2 799.5h0M894.8 820.3h0M998.9 738.9h0M1015.3 773.7h0M917.3 731.9h0M972.4 835.1h0M866.8 814.9h0M931.9 831.2h0M938.4 787.3h0M835.8 769.3h0M995.3 807.9h0M909.3 854.8h0M1003.1 774.6h0M846.4 804.0h0M853.6 771.9h0M868.3 715.6h0M829.3 757.1h0M920.6 826.6h0M866.5 807.2h0M923.5 788.8h0M952.3 778.1h0M876.3 695.3h0M982.0 817.6h0M875.7 885.5h0M913.1 741.0h0M863.5 763.0h0M1016.4 768.7h0M887.1 733.4h0M893.8 872.9h0M1009.8 784.9h0M857.4 711.6h0M917.1 846.8h0M899.6 803.5h0M953.4 811.5h0M866.7 722.8h0M912.9 712.9h0M934.3 727.9h0M919.6 832.3h0M910.9 680.9h0M974.5 823.1h0M824.4 754.9h0M992.2 723.6h0M864.2 772.8h0M916.5 826.8h0M961.8 737.2h0M986.9 808.2h0M834.3 706.5h0M881.6 932.4h0M940.3 719.8h0M984.1 799.9h0M927.6 724.3h0M933.1 755.8h0M845.6 767.5h0M945.7 858.0h0M982.5 778.9h0M881.0 845.8h0M929.5 769.5h0M989.4 782.9h0M914.2 807.8h0M973.3 725.0h0M922.6 718.2h0M996.6 742.8h0M941.9 710.2h0M831.7 789.7h0M872.7 843.0h0M854.3 828.8h0M1020.8 741.0h0M890.8 687.3h0M1365.5 781.8h0M1367.5 725.4h0M1188.9 537.3h0M1296.9 765.7h0M1395.7 771.4h0M1330.2 802.9h0M1194.6 651.2h0M1291.9 781.5h0M1308.3 839.7h0M1338.6 709.3h0M1257.7 573.2h0M1204.5 541.0h0M1291.9 673.6h0M1306.0 681.7h0M1336.7 664.6h0M1361.1 738.9h0M1301.1 838.8h0M1264.4 639.1h0M1406.3 696.9h0M1296.7 577.5h0M1177.7 571.8h0M1391.7 596.6h0M1271.9 776.1h0M1313.6 803.3h0M1354.7 752.7h0M1240.1 588.0h0M1288.3 793.5h0M1327.4 738.4h0M1260.2 585.6h0M1247.1 636.8h0M1370.5 670.4h0M1256.4 741.0h0M1134.6 613.9h0M1376.9 758.8h0M1267.2 801.3h0M1295.5 717.4h0M1383.6 711.5h0M1160.4 546.5h0M1351.7 832.1h0M1386.9 669.2h0M1384.4 636.5h0M1376.1 717.1h0M1285.2 852.7h0M1308.8 680.6h0M1352.1 639.7h0M1394.2 595.7h0M1264.2 565.2h0M1283.8 686.9h0M1213.2 563.1h0M1392.6 654.7h0M1370.2 706.2h0M1241.6 579.4h0M1365.9 617.4h0M1369.8 768.2h0M1165.2 666.8h0M1312.1 671.8h0M1327.6 817.3h0M1435.1 672.2h0M1149.9 669.8h0M1158.4 654.2h0M1333.1 733.3h0M1322.2 563.4h0M1265.2 635.1h0M1424.7 637.3h0M1428.3 699.8h0M1302.6 605.8h0M1283.4 717.1h0M1271.7 680.3h0M1255.6 706.1h0M1422.8 689.8h0M1431.9 635.7h0M1304.2 855.4h0M1464.1 654.8h0M1408.6 675.2h0M1224.0 589.0h0M1136.5 660.7h0M1321.8 608.1h0M1355.9 565.6h0M1173.1 624.7h0M1315.9 706.3h0M1322.5 654.3h0M1352.8 691.2h0M1364.3 724.6h0M1392.4 664.7h0M1340.2 702.1h0M1359.8 745.0h0M1281.3 730.2h0M1413.7 683.3h0M1321.4 826.2h0M1363.3 622.5h0M1251.6 684.6h0M1144.5 552.9h0M1208.4 624.2h0M1377.2 733.5h0M1188.9 557.4h0M1142.3 612.2h0M1315.8 711.9h0M1291.6 822.3h0M1322.8 781.2h0M1221.3 545.1h0M1289.7 722.5h0M1281.1 737.4h0M1128.7 577.0h0M1154.5 664.6h0M1303.7 766.7h0M1201.3 570.7h0M1283.2 649.1h0M1284.0 750.1h0M1413.8 628.9h0M1176.5 592.7h0M1266.7 557.5h0M1259.3 647.6h0M1233.6 666.9h0M1248.4 570.0h0M1338.1 576.8h0M1291.1 778.4h0M1373.4 557.0h0M1251.2 652.2h0M1333.0 593.3h0M1400.1 741.6h0M1437.6 654.9h0M1201.3 534.3h0M1280.2 561.8h0M1134.3 656.4h0M1307.3 794.6h0M1156.7 666.5h0M1411.5 660.9h0M1421.7 672.7h0M1234.6 628.3h0M1198.7 636.2h0M1189.1 644.7h0M1428.2 632.5h0M1173.6 610.2h0M1413.9 648.6h0M1364.0 670.4h0M1456.7 654.1h0M1279.0 633.1h0M1229.5 665.5h0M1166.4 611.0h0M1246.6 641.2h0M1226.9 553.2h0M1376.6 747.6h0M1339.3 613.0h0M1297.3 648.2h0M1432.0 648.0h0M1407.6 629.5h0M1282.9 659.6h0M1196.6 643.8h0M1322.8 644.6h0M1207.6 562.6h0M1179.9 547.3h0M1343.5 678.2h0M1330.6 625.0h0M1260.7 568.3h0M1179.2 604.1h0M1268.5 745.9h0M1370.7 580.6h0M1344.0 738.0h0M1167.9 556.0h0M1364.7 635.2h0M1140.2 659.4h0M1192.8 639.9h0M1416.2 650.0h0M1357.9 722.5h0M1409.6 697.5h0M1282.7 570.2h0M1221.7 552.1h0M1293.3 665.4h0M1246.2 551.7h0M1271.7 794.8h0M1161.9 577.4h0M1208.7 642.7h0M1201.5 659.5h0M1271.2 791.1h0M1172.7 673.2h0M1375.5 731.0h0M1322.4 599.6h0M1276.7 736.5h0M1304.6 747.6h0M1409.5 649.3h0M1345.1 578.3h0M1163.3 553.9h0M1121.4 629.9h0M1393.3 688.3h0M1337.7 624.6h0M1267.2 756.9h0M1135.7 588.2h0M1328.0 606.3h0M1302.3 727.8h0M1272.0 667.1h0M1399.4 637.4h0M1385.0 693.7h0M1335.6 652.9h0M1287.7 581.9h0M1324.6 728.8h0M1201.7 603.0h0M1385.6 624.2h0M1254.0 693.6h0M1347.7 799.6h0M1300.0 647.6h0M1348.4 583.9h0M1151.7 558.2h0M1544.1 468.9h0M1684.6 482.6h0M1604.8 497.6h0M1508.8 471.2h0M1475.6 569.2h0M1725.6 401.3h0M1617.6 516.1h0M1741.0 466.7h0M1439.3 425.0h0M1532.8 362.7h0M1479.7 504.2h0M1343.6 425.1h0M1644.6 589.5h0M1356.4 507.3h0M1519.1 515.7h0M1383.2 441.5h0M1692.0 407.2h0M1389.3 497.4h0M1255.4 401.5h0M1385.6 501.5h0M1569.8 552.3h0M1567.7 517.8h0M1752.0 374.7h0M1687.1 401.7h0M1696.5 475.4h0M1656.7 402.2h0M1320.7 406.9h0M1551.9 618.2h0M1385.6 424.8h0M1264.2 431.9h0M1482.9 390.6h0M1556.5 389.2h0M1892.3 377.7h0M1521.3 626.2h0M1616.2 506.2h0M1458.6 594.7h0M1326.6 453.3h0M1538.2 605.4h0M1186.6 518.5h0M1384.6 525.0h0M1583.8 491.9h0M1256.5 498.5h0M1487.7 489.3h0M1401.7 474.5h0M1411.9 409.9h0M1392.5 506.3h0M1580.0 579.6h0M1634.7 511.9h0M1391.5 494.9h0M1463.4 528.2h0M1869.4 371.5h0M1489.4 496.0h0M1395.3 422.6h0M1691.9 457.1h0M1672.0 456.6h0M1183.2 507.9h0M1404.3 537.8h0M1688.9 543.3h0M1497.4 465.7h0M1686.6 424.6h0M1741.1 460.8h0M1504.2 547.6h0M1470.7 520.0h0M1665.4 460.0h0M1569.4 504.6h0M1445.5 391.2h0M1623.2 473.4h0M1499.0 395.5h0M1514.3 474.6h0M1442.9 482.5h0M1483.2 435.6h0M1695.9 445.6h0M1797.7 409.4h0M1204.1 471.1h0M1680.6 478.3h0M1437.4 529.9h0M1320.8 413.0h0M1391.7 393.2h0M1256.7 440.5h0M1301.8 456.4h0M1760.1 391.3h0M1514.9 466.8h0M1504.1 374.8h0M1805.8 382.7h0M1840.9 371.5h0M1574.4 545.8h0M1552.5 565.7h0M1237.9 443.3h0M1583.3 382.3h0M1549.1 513.4h0M1578.5 350.4h0M1698.8 384.3h0M1660.3 640.7h0M1324.5 411.1h0M1418.4 587.2h0M1664.3 440.6h0M1334.0 410.3h0M1553.6 457.6h0M1555.9 347.8h0M1499.2 439.7h0M1420.8 397.7h0M1438.6 550.9h0M1487.6 586.5h0M1609.7 418.1h0M1465.2 617.7h0M1275.5 387.7h0M1677.9 576.2h0M1524.6 528.0h0M1645.1 495.9h0M1445.4 567.0h0M1373.8 445.4h0M1613.3 592.1h0M1546.0 632.7h0M1572.7 606.0h0M1641.9 619.2h0M1670.4 595.1h0M1467.3 420.5h0M1640.0 488.5h0M1649.3 612.3h0M1442.1 585.1h0M1393.0 554.0h0M1682.3 531.6h0M1519.5 527.2h0M1639.0 415.2h0M1288.4 388.7h0M1536.7 429.6h0M1507.9 435.5h0M1463.1 493.1h0M1443.4 419.7h0M1556.6 616.4h0M1652.7 479.8h0M1423.5 377.2h0M1700.0 541.1h0M1259.7 435.4h0M1556.0 448.2h0M1238.7 456.7h0M1569.8 546.2h0M1538.2 469.2h0M1310.6 484.9h0M1289.0 451.7h0M1694.2 482.7h0M1403.1 495.8h0M1492.3 476.8h0M1512.2 614.8h0M1538.0 567.7h0M1444.3 399.1h0M1488.2 523.5h0M1374.0 440.2h0M1570.1 523.5h0M1642.4 564.9h0M1639.4 430.1h0M1713.1 385.3h0M1449.2 495.2h0M1438.1 609.7h0M1722.2 429.4h0M1593.1 495.8h0M1569.1 497.0h0M1783.5 381.0h0M1595.7 396.3h0M1657.5 680.6h0M1635.1 499.5h0M1343.0 455.8h0M1536.5 629.9h0M1508.1 538.0h0M1534.6 587.7h0M1684.2 549.8h0M1655.2 691.9h0M1609.6 544.9h0M1304.5 399.6h0M1357.2 423.9h0M1575.8 508.5h0M1409.1 524.5h0M1446.2 555.1h0M1783.6 395.3h0M1696.5 493.0h0M1449.6 382.5h0M1256.4 382.7h0M1304.4 515.1h0M1666.0 569.6h0M1583.6 367.8h0M1624.1 584.5h0M1721.9 469.4h0M1533.7 515.1h0M1408.9 385.5h0M1633.5 505.5h0M1173.2 503.8h0M1263.1 481.7h0M1620.7 491.2h0M1500.4 503.8h0M1377.3 443.3h0M1614.2 361.8h0M1166.8 501.9h0M1649.7 575.1h0M1543.1 384.0h0M1250.6 453.3h0M1401.2 446.8h0M1629.3 362.8h0M1273.8 439.4h0M1186.1 512.5h0M1644.7 434.4h0M1625.6 549.2h0M1511.7 468.5h0M1337.3 419.2h0M1498.7 431.2h0M1471.9 532.6h0M1524.1 375.4h0M1623.8 460.0h0M1407.1 395.5h0M1652.2 523.1h0M1682.0 452.1h0M1333.4 448.7h0M1719.9 447.1h0M1604.4 600.1h0M1458.7 605.5h0M1537.7 446.6h0M1701.6 426.6h0M1236.4 470.9h0M1312.9 465.8h0M1591.4 545.6h0M1412.3 561.8h0M1738.8 386.4h0M1336.7 393.7h0M1645.6 381.5h0M1723.5 395.7h0M1441.5 389.5h0M1644.1 596.7h0M1646.9 403.3h0M1440.0 519.6h0M1495.3 511.3h0M1654.6 392.4h0M1443.2 428.0h0M1453.5 439.5h0M1829.2 363.8h0M1461.5 470.9h0M1361.8 472.8h0M1667.0 384.7h0M1613.3 487.9h0M1604.3 371.9h0M1556.8 566.8h0M1696.0 500.0h0M1404.7 480.2h0M1646.8 418.7h0M1501.6 581.1h0M1322.6 384.2h0M1471.3 568.9h0M1746.5 472.1h0M1432.6 435.1h0M1436.0 623.1h0M1327.2 403.5h0M1375.5 465.9h0M1859.1 368.8h0M1466.3 366.3h0M1271.9 388.5h0M1466.6 415.9h0M1520.8 622.7h0M1554.6 412.1h0M1796.4 366.8h0M1490.0 416.5h0M1391.3 524.0h0M1563.5 544.8h0M1572.0 357.0h0M1629.2 397.8h0M1425.8 439.7h0M1482.9 584.3h0M1317.1 399.4h0M1433.1 567.7h0M1281.7 441.8h0M1843.4 373.9h0M1340.8 424.0h0M1826.0 384.6h0M1576.1 487.8h0M1550.3 598.0h0M1323.8 427.5h0M1361.7 526.5h0M1540.5 587.6h0M1361.9 440.9h0M1270.3 460.6h0M1636.0 404.1h0M1681.1 483.0h0M1722.3 457.5h0M1503.9 575.5h0M1667.3 705.3h0M1717.4 416.7h0M1527.6 486.0h0M1658.3 646.1h0M1269.2 446.7h0M1523.3 494.7h0M1615.4 512.9h0M1521.7 580.5h0M1654.6 521.0h0M1831.0 431.0h0M1332.0 491.5h0M1623.7 371.4h0M1442.8 364.7h0M1514.4 452.5h0M1326.5 493.2h0M1663.4 632.1h0M1652.2 433.4h0M1651.1 448.1h0M1320.0 459.9h0M1369.3 454.4h0M1509.6 587.3h0M1502.8 559.2h0M1542.8 432.1h0M1494.1 362.3h0M1435.8 501.9h0M1603.1 423.3h0M1396.9 432.3h0M1504.2 520.6h0M1660.3 468.9h0M1565.4 572.6h0M1353.8 520.5h0M1440.3 368.3h0M1160.6 508.4h0M1553.1 368.5h0M1608.1 608.7h0M1600.4 386.9h0M1257.9 432.8h0M1407.5 463.8h0M1821.7 391.5h0M1720.9 490.9h0M1639.4 424.0h0M1392.9 527.8h0M1473.2 562.4h0M1578.0 549.4h0M1514.2 541.1h0M1521.5 529.4h0M1670.3 504.6h0M1668.1 583.6h0M1616.1 400.2h0M1793.5 394.0h0M1701.0 429.7h0M1301.4 461.0h0M1675.8 439.2h0M1542.9 584.3h0M1465.9 542.6h0M1526.9 495.0h0M1472.0 580.3h0M1561.0 502.8h0M1525.1 461.4h0M1504.4 444.1h0M1318.5 489.4h0M1597.9 573.1h0M1590.7 412.0h0M1787.7 408.4h0M1643.8 469.8h0M1672.1 556.7h0M1651.3 426.2h0M1638.4 596.9h0M1293.2 458.0h0M1431.5 378.1h0M1549.5 483.5h0M1579.9 402.2h0M1438.8 607.1h0M1704.4 549.8h0M1458.9 391.0h0M1270.0 392.2h0M1532.5 420.3h0M1486.3 483.7h0M1491.9 481.0h0M1339.7 374.1h0M1505.5 552.3h0M1883.3 386.3h0M1630.7 592.3h0M1603.1 490.8h0M1399.5 513.4h0M1412.6 573.3h0M1538.8 637.2h0M1447.0 590.8h0M1557.5 415.0h0M1160.1 505.2h0M1648.7 543.9h0M1771.2 416.2h0M1689.3 523.4h0M1598.0 405.5h0M1660.6 552.1h0M1582.6 414.6h0M1407.0 399.8h0M1505.7 358.3h0M1548.6 399.5h0M1422.7 383.6h0M1260.6 498.6h0M1405.5 591.6h0M1197.9 527.8h0M1527.8 525.8h0M1423.3 440.5h0M1549.2 531.1h0M1209.5 467.4h0M1874.6 384.1h0M1625.8 485.5h0M1538.2 398.8h0M1332.5 482.0h0M1659.7 578.3h0M1496.5 489.8h0M1412.0 583.4h0M1559.3 418.5h0M1639.9 588.5h0M1412.3 576.4h0M1878.2 362.8h0M1477.2 582.0h0M1596.2 582.6h0M1410.4 391.6h0M1387.4 386.9h0M1695.6 397.5h0M1524.6 626.7h0M1470.1 529.3h0M1530.2 372.4h0M1841.9 379.5h0M1717.6 685.6h0M1711.4 674.8h0M1746.2 707.6h0M1766.2 674.1h0M1752.7 647.7h0M1808.9 725.9h0M1845.4 733.9h0M1792.8 716.2h0M1871.0 738.0h0M1873.8 738.7h0M1813.6 725.2h0M1843.6 726.4h0M1815.8 705.6h0M1836.6 719.2h0M1841.8 721.0h0M1834.2 721.1h0M1819.8 727.2h0M1841.0 856.4h0M1761.1 800.5h0M1859.8 835.4h0M1713.3 819.6h0M1765.7 818.5h0M1812.6 825.6h0M1782.1 827.1h0M1792.1 822.5h0M1783.7 820.0h0M1734.1 795.8h0M1840.5 809.1h0M1755.2 818.0h0M1786.6 763.3h0M1781.7 761.7h0M1832.6 843.2h0M1867.6 834.8h0M1795.5 835.6h0M1786.5 803.1h0M1863.1 810.7h0M1724.4 833.1h0M1759.4 791.0h0M1735.9 800.7h0M1709.5 825.5h0M1742.2 828.4h0M1730.1 821.9h0M1804.7 820.1h0M1780.8 783.9h0M1878.9 818.9h0M1854.9 792.7h0M1708.0 811.9h0M1733.4 824.3h0M1832.6 801.9h0M1747.1 828.1h0"/>
</g>
<circle cx="1800" cy="812" r="95" fill="url(#glow)" opacity="0.16"/>
<circle cx="1310" cy="852" r="48" fill="url(#glow)" opacity="0.14"/>
<circle cx="905" cy="668" r="34" fill="url(#glow)" opacity="0.12"/>
<circle cx="995" cy="700" r="30" fill="url(#glow)" opacity="0.12"/>
<circle cx="1258" cy="452" r="42" fill="url(#glow)" opacity="0.1"/>
<circle cx="1225" cy="520" r="38" fill="url(#glow)" opacity="0.08"/>
<circle cx="1005" cy="640" r="30" fill="url(#glow)" opacity="0.1"/>
<text x="959.51" y="87.25" font-size="48.31" fill="#FBB829" text-anchor="middle" textLength="1049.77" lengthAdjust="spacingAndGlyphs" stroke="url(#bgu)" stroke-width="1.2">WORLD ECONOMIC OUTLOOK OCTOBER 2023</text>
<text y="183.20" font-size="75.40" fill="#fff" text-anchor="start" stroke="#fff" stroke-width="5" stroke-linejoin="miter" stroke-miterlimit="2" font-family="DejaVu Sans, Liberation Sans, sans-serif" font-weight="bold"><tspan x="156.10" textLength="411.79" lengthAdjust="spacing">GROWTH</tspan> <tspan x="596.73" textLength="638.53" lengthAdjust="spacing">PRO<tspan font-size="59.2" dy="-11.8">J</tspan><tspan dy="11.8">ECTIONS</tspan></tspan> <tspan x="1260.69" textLength="120.03" lengthAdjust="spacing">BY</tspan> <tspan x="1407.34" textLength="353.14" lengthAdjust="spacing">REGION</tspan></text>
<text x="953.29" y="238.65" font-size="30.49" fill="#fff" text-anchor="middle" textLength="270.82" lengthAdjust="spacingAndGlyphs" stroke="url(#bgu)" stroke-width="0.8">(PERCENT CHANGE)</text>
<rect x="36" y="329" width="557" height="418" fill="#00103f" opacity="0.55" filter="url(#bsh)"/>
<rect x="37.9" y="330.0" width="553.2" height="414.1" fill="#009DDF"/>
<g fill="none" stroke-linecap="round" stroke="#fff">
<path stroke-opacity="0.62" stroke-width="1.15" d="M116.5 516.0h0M39.6 511.6h0M141.5 498.2h0M72.7 511.4h0M188.1 523.8h0M175.4 550.9h0M156.2 487.8h0M125.8 594.8h0M90.8 505.7h0M137.5 602.4h0M119.7 588.0h0M105.4 501.1h0M52.4 519.9h0M84.7 551.6h0M168.9 565.8h0M115.8 535.9h0M84.3 540.4h0M129.3 529.8h0M175.4 541.7h0M141.1 500.2h0M100.7 543.6h0M107.4 526.8h0M85.7 550.3h0M146.1 569.3h0M163.0 567.3h0M156.8 573.5h0M102.4 537.7h0M154.5 543.8h0M121.3 528.6h0M142.3 485.8h0M138.6 552.2h0M124.5 499.2h0M77.0 528.9h0M102.4 499.6h0M173.0 543.9h0M137.3 564.7h0M187.3 550.9h0M100.5 536.7h0M80.2 520.6h0M146.3 543.4h0M100.9 572.4h0M89.2 546.2h0M175.5 525.9h0M71.1 521.9h0M166.1 562.3h0M140.6 513.7h0M159.9 493.5h0M157.0 545.8h0M103.6 511.4h0M132.2 532.5h0M177.6 552.3h0M171.7 527.6h0M123.7 566.7h0M117.6 584.1h0M127.9 598.3h0M151.9 557.1h0M158.1 490.0h0M161.9 570.3h0M147.5 613.3h0M102.6 495.5h0M88.9 519.2h0M160.1 541.4h0M189.9 524.3h0M132.2 569.2h0M137.6 575.6h0M54.4 508.1h0M100.5 547.6h0M118.1 532.0h0M101.8 522.6h0M180.3 556.6h0M112.0 549.6h0M149.7 497.7h0M138.3 499.6h0M99.5 550.5h0M99.8 558.3h0M126.5 537.2h0M120.7 563.6h0M102.9 573.0h0M185.1 544.6h0M158.9 570.4h0M189.4 548.6h0M147.1 505.3h0M81.1 532.6h0M143.5 574.7h0M102.1 574.1h0M106.2 528.3h0M88.2 506.1h0M188.5 554.7h0M128.0 491.8h0M111.1 519.8h0M109.5 510.5h0M174.1 558.1h0M60.0 509.5h0M79.8 532.4h0M84.9 529.0h0M160.8 554.5h0M127.6 550.6h0M147.1 536.6h0M162.7 554.3h0M112.3 581.5h0M172.7 550.3h0M52.4 512.1h0M105.3 546.5h0M171.1 541.3h0M178.0 527.9h0M165.0 550.5h0M109.3 544.9h0M124.9 491.6h0M144.7 485.3h0M85.5 518.7h0M95.8 554.8h0M113.5 577.1h0M89.0 533.7h0M154.3 555.3h0M141.8 605.6h0M114.0 522.0h0M94.5 570.4h0M45.1 512.7h0M65.9 519.5h0M158.7 552.4h0M144.3 606.7h0M115.9 560.5h0M95.8 550.1h0M90.0 520.9h0M146.1 499.2h0M121.4 523.2h0M75.9 521.2h0M122.5 578.0h0M99.4 571.1h0M164.5 513.1h0M112.1 563.7h0M147.3 559.7h0M144.8 608.2h0M120.6 552.8h0M44.5 507.6h0M118.1 496.8h0M166.5 560.2h0M109.3 556.8h0M197.2 550.1h0M120.5 510.5h0M186.8 523.6h0M49.7 520.9h0M152.2 485.1h0M66.2 512.8h0M141.0 550.2h0M70.1 512.0h0M152.1 549.8h0M97.7 544.3h0M155.6 512.0h0M135.3 575.2h0M82.1 528.5h0M116.8 563.0h0M121.1 542.1h0M126.1 590.8h0M134.5 496.4h0M96.3 498.5h0M166.2 537.0h0M135.2 524.3h0M147.1 572.8h0M175.0 527.9h0M151.9 542.7h0M149.4 574.9h0M103.1 497.9h0M121.4 591.7h0M166.3 585.1h0M129.3 543.0h0M194.0 549.6h0M128.6 517.8h0M153.5 581.6h0M170.6 547.9h0M130.4 568.4h0M176.8 562.5h0M170.5 514.0h0M114.8 541.9h0M84.3 530.6h0M131.0 505.6h0M92.8 514.8h0M87.6 549.5h0M185.5 534.8h0M113.5 514.9h0M156.6 538.3h0M115.4 514.0h0M159.8 543.3h0M115.8 527.8h0M142.8 536.0h0M134.7 512.9h0M92.9 498.0h0M107.5 515.1h0M184.0 542.4h0M89.5 544.9h0M113.7 575.5h0M88.4 536.7h0M111.1 504.8h0M179.3 552.5h0M58.5 512.9h0M164.1 558.6h0M143.7 570.9h0M132.2 582.0h0M109.4 537.8h0M136.0 487.7h0M57.3 516.1h0M118.4 527.8h0M122.9 508.1h0M135.3 520.3h0M119.2 552.6h0M177.5 549.9h0M124.9 566.5h0M109.5 507.0h0M104.8 507.4h0M156.1 563.6h0M186.7 555.1h0M200.7 540.0h0M120.2 499.0h0M120.2 543.4h0M127.1 583.6h0M69.6 522.6h0M128.6 513.3h0M89.7 511.5h0M123.7 505.6h0M185.4 526.4h0M142.5 563.8h0M112.9 566.8h0M129.6 554.9h0M132.0 507.4h0M112.1 538.9h0M95.0 515.1h0M116.4 590.1h0M175.6 545.7h0M170.4 557.1h0M184.8 554.4h0M146.0 601.5h0M171.1 545.4h0M165.6 574.9h0M141.3 508.6h0M62.6 511.8h0M177.9 565.5h0M104.8 536.1h0M156.7 489.5h0M153.5 541.1h0M51.9 507.6h0M169.4 536.3h0M128.0 519.0h0M112.1 574.6h0M165.1 542.2h0M135.1 563.8h0M57.7 523.5h0M98.4 515.1h0M109.9 497.3h0M108.9 571.3h0M185.1 528.8h0M104.5 568.9h0M90.7 557.2h0M107.4 496.6h0M155.7 513.7h0M93.4 561.8h0M116.7 556.4h0M142.2 581.9h0M169.0 530.9h0M155.1 484.7h0M106.7 541.8h0M96.7 513.4h0M135.8 587.6h0M133.1 558.8h0M116.5 583.5h0M152.6 494.1h0M195.4 543.1h0M72.8 514.1h0M118.7 542.2h0M126.4 490.1h0M90.3 504.5h0M126.0 547.6h0M115.3 546.4h0M151.9 577.8h0M140.1 554.0h0M195.5 538.8h0M90.2 509.7h0M186.5 553.7h0M98.4 529.9h0M94.7 567.8h0M172.1 567.7h0M157.5 491.7h0M152.0 572.3h0M111.0 515.8h0M149.9 492.4h0M93.7 527.5h0M98.1 570.3h0M109.4 522.0h0M83.1 501.1h0M166.2 567.3h0M169.8 484.2h0M148.8 580.4h0M66.9 521.8h0M138.1 540.3h0M136.4 503.8h0M140.9 535.7h0M124.2 527.8h0M147.7 535.5h0M171.8 516.6h0M103.3 562.1h0M121.2 551.1h0M159.6 564.9h0M144.3 505.2h0M90.1 502.1h0M85.3 508.5h0M135.5 492.5h0M188.1 538.1h0M163.2 485.6h0M138.1 485.4h0M106.3 500.0h0M138.9 488.3h0M93.2 508.7h0M165.5 548.9h0M85.3 525.0h0M153.7 612.2h0M74.2 516.8h0M87.6 518.0h0M71.1 509.8h0M189.6 547.4h0M132.8 547.7h0M144.2 497.4h0M127.2 566.6h0M178.8 548.9h0M124.0 570.1h0M136.6 545.7h0M103.1 535.1h0M167.9 623.1h0M137.3 560.5h0M91.5 553.8h0M159.6 545.9h0M121.0 540.5h0M114.5 574.2h0M144.3 569.0h0M97.0 535.9h0M162.8 559.8h0M132.5 524.4h0M142.5 510.7h0M187.6 541.7h0M103.6 521.8h0M98.1 568.1h0M194.3 537.9h0M88.2 514.1h0M105.6 516.3h0M153.7 511.2h0M169.4 561.2h0M98.2 521.0h0M155.2 569.8h0M107.4 505.5h0M128.1 534.7h0M124.5 510.7h0M97.3 525.5h0M97.6 510.7h0M114.4 517.2h0M183.2 547.1h0M74.7 528.9h0M83.7 497.5h0M117.4 498.8h0M143.1 558.8h0M155.7 580.7h0M145.2 570.9h0M105.6 561.3h0M118.1 539.5h0M91.1 500.0h0M120.0 591.5h0M105.6 559.1h0M116.7 532.0h0M165.2 483.0h0M147.2 570.7h0M98.1 549.9h0M146.6 577.3h0M55.9 512.7h0M162.6 488.6h0M112.9 568.1h0M162.4 539.7h0M108.3 566.9h0M81.7 534.9h0M66.7 515.3h0M137.4 598.2h0M132.2 595.2h0M166.9 549.0h0M124.7 573.9h0M56.3 511.3h0M109.2 504.6h0M65.6 521.6h0M141.4 494.0h0M178.6 554.9h0M139.5 504.6h0M151.9 544.2h0M97.1 566.0h0M100.6 564.6h0M123.5 554.7h0M90.8 524.9h0M45.3 517.3h0M100.3 505.7h0M167.7 570.2h0M110.4 556.0h0M113.9 558.9h0M183.5 541.1h0M129.9 524.0h0M83.1 537.9h0M173.5 518.1h0M109.7 541.4h0M178.9 545.3h0M128.0 586.4h0M136.2 571.3h0M86.7 529.7h0M145.0 574.9h0M145.4 537.5h0M151.5 512.5h0M162.2 552.9h0M92.1 562.5h0M59.5 506.8h0M80.8 512.0h0M148.8 499.7h0M175.9 532.1h0M79.7 503.5h0M81.9 502.5h0M126.2 518.9h0M120.3 583.7h0M69.4 508.6h0M81.9 508.6h0M103.8 501.9h0M151.3 501.4h0M157.1 579.9h0M123.2 516.2h0M143.2 484.4h0M97.9 548.0h0M141.8 517.0h0M99.5 495.0h0M78.6 538.9h0M83.6 536.3h0M165.5 580.7h0M126.4 512.3h0M107.1 548.0h0M181.2 560.1h0M129.2 578.0h0M147.2 544.7h0M113.7 557.0h0M113.7 543.1h0M158.3 509.2h0M107.5 563.7h0M172.1 533.4h0M123.1 520.9h0M132.0 491.8h0M143.8 573.4h0M93.0 520.4h0M87.1 512.7h0M161.6 546.6h0M104.6 524.0h0M140.4 529.9h0M132.8 563.4h0M195.2 541.5h0M123.4 506.9h0M163.1 549.7h0M166.5 490.7h0M123.4 545.9h0M48.8 516.0h0M159.4 484.0h0M151.9 496.5h0M133.7 517.7h0M105.7 556.2h0M141.1 491.3h0M157.8 581.9h0M152.3 574.4h0M128.0 516.2h0M73.9 510.3h0M129.6 595.8h0M104.0 492.7h0M151.2 582.2h0M161.3 489.0h0M113.4 535.1h0M159.1 619.5h0M169.2 537.6h0M132.9 601.6h0M120.3 575.2h0M104.9 522.2h0M80.9 506.7h0M83.9 527.7h0M102.5 509.7h0M173.3 553.7h0M114.2 530.7h0M180.0 516.0h0M93.9 557.0h0M87.0 542.0h0M72.4 519.9h0M108.6 552.6h0M166.6 623.4h0M182.1 527.4h0M155.4 482.3h0M145.1 598.8h0M104.6 494.4h0M178.7 516.9h0M97.6 505.8h0M184.1 558.8h0M182.6 545.7h0M132.8 489.2h0M172.1 549.0h0M118.4 568.5h0M180.6 521.4h0M107.4 553.7h0M145.5 565.9h0M141.1 545.7h0M161.5 507.7h0M155.2 617.1h0M156.0 552.6h0M108.1 544.1h0M139.9 559.8h0M133.9 524.4h0M98.0 575.9h0M86.1 504.4h0M176.8 533.9h0M125.4 545.0h0M129.5 600.8h0M133.0 526.6h0M168.4 485.8h0M129.0 503.9h0M177.0 566.8h0M160.1 538.7h0M147.7 598.7h0M83.8 511.2h0M173.2 561.1h0M174.3 543.6h0M51.2 505.5h0M152.0 602.5h0M73.3 526.7h0M164.0 621.3h0M137.9 504.1h0M163.0 571.6h0M96.5 520.5h0M130.6 507.6h0M178.7 541.2h0M93.4 502.6h0M143.4 493.7h0M115.6 518.0h0M168.1 511.4h0M49.6 522.7h0M104.6 518.0h0M169.8 535.0h0M173.5 538.6h0M170.4 520.1h0M114.8 506.8h0M96.0 534.1h0M147.9 503.0h0M128.9 535.9h0M133.5 584.6h0M96.2 512.1h0M126.7 576.0h0M123.2 533.1h0M97.7 519.7h0M127.0 525.6h0M124.5 547.2h0M116.0 553.9h0M160.7 492.3h0M183.9 525.7h0M92.4 536.1h0M103.2 530.2h0M162.2 622.1h0M126.8 585.8h0M122.5 568.5h0M145.5 494.3h0M160.7 560.8h0M102.9 567.0h0M170.6 524.5h0M132.3 529.6h0M175.2 548.2h0M87.5 564.9h0M96.2 502.8h0M186.2 545.7h0M139.8 576.0h0M145.9 581.8h0M159.7 577.6h0M131.6 537.7h0M136.5 509.9h0M103.3 551.4h0M122.7 512.2h0M86.3 536.9h0M139.3 522.7h0M142.9 556.1h0M118.9 558.0h0M168.1 513.6h0M80.4 536.7h0M98.4 560.5h0M141.5 574.2h0M170.9 567.4h0M173.4 485.5h0M190.1 531.1h0M105.8 514.2h0M125.5 568.2h0M105.9 509.3h0M119.9 554.6h0M167.9 541.1h0M81.2 513.7h0M151.5 487.0h0M136.0 498.8h0M156.3 574.9h0M100.5 528.6h0M185.7 543.5h0M149.9 489.9h0M155.4 564.8h0M139.3 607.7h0M95.4 561.3h0M146.6 538.0h0M85.9 534.2h0M115.6 568.1h0M108.9 574.2h0M67.9 520.6h0M159.2 481.2h0M109.7 553.3h0M72.5 521.2h0M121.4 582.8h0M115.2 562.5h0M188.3 526.3h0M87.5 557.7h0M161.5 573.5h0M193.1 531.5h0M146.3 483.1h0M76.9 522.3h0M89.9 530.5h0M90.9 533.4h0M130.2 534.9h0M101.5 578.5h0M90.4 532.1h0M102.7 524.2h0M106.2 549.9h0M109.6 515.8h0M121.5 519.9h0M121.8 536.7h0M49.6 514.2h0M134.3 522.1h0M92.8 560.7h0M110.0 508.4h0M151.6 498.1h0M182.2 557.4h0M148.9 578.0h0M99.5 562.7h0M118.7 516.4h0M77.0 526.4h0M139.2 513.0h0M132.5 519.4h0M103.2 559.2h0M53.0 513.2h0M191.4 554.1h0M140.4 552.5h0M168.4 544.4h0M174.7 517.3h0M93.8 511.0h0M181.8 525.1h0M92.2 555.5h0M85.9 502.6h0M193.3 545.3h0M169.4 574.3h0M73.7 505.3h0M124.8 503.2h0M126.4 529.1h0M127.4 557.4h0M171.3 573.5h0M188.0 545.9h0M169.1 520.9h0M146.6 554.3h0M180.9 532.0h0M131.9 579.7h0M98.3 518.2h0M128.0 558.7h0M93.1 553.0h0M114.6 538.8h0M165.5 535.7h0M130.8 501.4h0M73.3 508.1h0M167.6 519.5h0M124.5 593.9h0M107.5 568.9h0M177.3 521.7h0M112.0 510.3h0M144.6 507.9h0M145.1 540.7h0M90.2 560.8h0M135.4 500.5h0M174.3 534.4h0M179.7 561.6h0M164.8 556.1h0M134.2 555.6h0M88.3 511.6h0M140.8 515.5h0M109.8 536.2h0M135.0 543.8h0M177.3 539.0h0M188.0 531.4h0M161.9 509.8h0M126.9 496.4h0M175.1 540.4h0M137.1 585.9h0M110.2 584.4h0M119.2 561.9h0M168.0 508.5h0M172.8 514.6h0M122.0 509.8h0M124.7 541.9h0M138.1 497.1h0M143.4 544.5h0M87.0 551.5h0M142.1 534.8h0M169.6 558.4h0M121.9 488.9h0M106.6 511.0h0M150.6 508.2h0M150.4 542.4h0M145.2 611.2h0M117.8 588.9h0M110.5 562.7h0M157.6 566.8h0M145.6 532.9h0M141.0 532.7h0M113.6 526.0h0M103.5 508.1h0M164.2 511.2h0M48.4 509.4h0M158.6 569.1h0M40.6 507.5h0M75.5 509.4h0M145.7 492.8h0M56.8 520.2h0M53.9 522.1h0M86.7 510.4h0M161.8 490.2h0M163.2 548.3h0M110.6 551.5h0M194.9 547.0h0M99.4 532.6h0M165.2 572.6h0M174.6 570.5h0M149.0 513.2h0M183.5 534.1h0M127.2 595.5h0M192.6 535.5h0M175.8 559.6h0M191.3 547.9h0M133.9 564.9h0M132.6 554.1h0M99.7 574.6h0M120.6 546.5h0M84.2 519.9h0M49.7 511.0h0M95.6 543.6h0M153.9 487.0h0M189.6 542.6h0M112.8 545.4h0M118.7 543.7h0M125.3 509.1h0M149.2 537.4h0M71.6 515.8h0M118.9 534.3h0M137.4 573.4h0M117.9 536.1h0M129.6 519.5h0M108.2 536.5h0M183.1 519.7h0M116.9 511.1h0M111.6 534.9h0M79.7 514.8h0M75.0 512.3h0M60.4 515.3h0M124.7 530.5h0M173.6 519.4h0M141.9 529.0h0M116.9 519.9h0M115.5 563.9h0M95.5 507.0h0M103.9 579.5h0M120.9 555.8h0M90.7 552.7h0M74.0 524.3h0M135.3 583.1h0M156.6 510.1h0M118.7 526.5h0M171.5 482.8h0M94.3 531.6h0M119.9 493.7h0M140.4 506.0h0M94.6 496.0h0M154.8 494.9h0M99.9 568.4h0M164.2 545.1h0M128.4 505.2h0M80.1 526.9h0M166.7 510.9h0M101.8 535.4h0M149.7 611.1h0M76.9 523.8h0M89.9 496.0h0M131.4 586.4h0M141.3 562.3h0M139.0 547.8h0M199.4 538.4h0M199.0 546.8h0M136.8 562.6h0M88.4 552.3h0M103.1 545.5h0M77.0 530.3h0M105.5 537.5h0M101.1 494.7h0M163.0 514.3h0M106.1 497.0h0M140.5 501.9h0M148.3 556.0h0M115.0 543.8h0M124.2 538.6h0M102.1 560.2h0M125.5 552.0h0M75.4 533.6h0M143.8 515.5h0M114.0 532.8h0M127.0 545.5h0M66.5 509.4h0M87.4 519.6h0M89.3 515.2h0M114.7 577.0h0M171.3 535.9h0M104.4 560.3h0M86.3 526.7h0M117.9 524.4h0M116.3 572.1h0M164.8 567.9h0M135.5 531.9h0M189.3 551.1h0M179.0 525.9h0M121.3 506.9h0M110.2 589.1h0M191.0 534.5h0M106.7 539.9h0M119.4 565.4h0M96.9 523.0h0M93.0 549.2h0M159.0 576.0h0M133.3 523.3h0M102.7 548.8h0M157.9 548.6h0M86.4 543.2h0M96.6 558.1h0M150.3 505.5h0M47.3 516.9h0M153.8 576.0h0M146.2 511.4h0M175.6 553.6h0M136.8 544.3h0M126.6 570.3h0M179.0 524.2h0M87.6 504.6h0M195.0 533.4h0M126.6 521.0h0M100.3 549.3h0M106.8 578.5h0M173.2 511.1h0M110.8 565.6h0M105.0 539.5h0M197.5 537.7h0M179.5 543.0h0M52.6 506.2h0M116.8 577.4h0M191.4 550.6h0M105.3 574.2h0M103.0 528.1h0M127.1 548.9h0M142.4 515.7h0M86.1 531.4h0M111.7 503.1h0M170.4 522.3h0M119.9 502.8h0M110.1 543.3h0M166.7 486.2h0M112.8 531.2h0M136.5 548.3h0M132.2 590.0h0M109.9 530.0h0M134.1 596.3h0M67.1 508.0h0M58.9 519.0h0M163.1 544.3h0M178.7 514.6h0M82.1 504.2h0M184.5 527.6h0M101.8 540.0h0M93.9 538.0h0M167.2 535.2h0M152.7 489.4h0M91.4 566.0h0M134.7 539.9h0M125.4 578.4h0M182.0 535.4h0M98.4 512.7h0M46.3 514.9h0M118.1 551.9h0M158.1 515.2h0M121.2 560.8h0M115.5 523.1h0M171.6 531.7h0M111.4 557.6h0M121.3 569.3h0M142.4 561.4h0M140.9 570.8h0M129.3 491.4h0M111.8 561.9h0M80.8 518.8h0M146.1 612.3h0M181.4 515.3h0M147.1 497.3h0M164.2 494.1h0M137.4 531.2h0M163.2 579.9h0M93.2 506.1h0M118.4 517.7h0M161.0 545.5h0M189.9 525.8h0M115.0 579.0h0M130.6 569.9h0M137.7 607.6h0M100.8 511.9h0M165.3 576.9h0M111.7 525.0h0M122.8 523.7h0M135.4 553.1h0M134.4 586.2h0M138.6 606.4h0M137.9 512.5h0M137.6 577.3h0M97.5 537.6h0M107.1 529.3h0M139.6 541.8h0M149.6 555.0h0M176.1 521.2h0M142.5 506.0h0M61.6 522.4h0M97.4 494.6h0M109.5 579.6h0M129.7 510.2h0M157.9 486.1h0M119.4 590.3h0M123.4 543.8h0M157.8 615.1h0M104.8 572.1h0M132.4 534.0h0M112.5 498.8h0M104.7 526.6h0M122.7 584.1h0M172.2 486.6h0M41.8 512.2h0M200.2 543.0h0M151.5 506.7h0M160.4 569.2h0M131.5 509.1h0M122.7 514.0h0M123.2 581.5h0M41.0 510.1h0M78.4 528.0h0M128.9 549.3h0M174.3 549.9h0M67.8 511.4h0M151.2 558.5h0M190.0 545.2h0M155.3 545.6h0M173.1 571.1h0M143.1 537.3h0M129.4 562.6h0M122.4 571.5h0M153.3 566.3h0M97.0 530.5h0M183.3 515.3h0M76.2 517.5h0M86.1 506.4h0M132.5 504.3h0M93.5 545.4h0M116.6 506.6h0M131.0 521.6h0M136.2 517.0h0M174.6 566.8h0M134.9 548.4h0M147.4 604.3h0M56.6 507.9h0M121.6 515.5h0M183.2 521.3h0M119.9 496.2h0M111.1 526.3h0M130.7 560.5h0M101.4 554.5h0M89.0 517.0h0M143.2 560.1h0M168.9 624.3h0M157.6 542.7h0M183.4 531.5h0M106.8 585.5h0M95.1 499.0h0M140.6 512.3h0M90.4 527.0h0M102.0 532.3h0M141.8 492.5h0M181.1 526.5h0M95.7 551.4h0M93.1 566.8h0M40.4 518.9h0M103.0 518.5h0M113.0 547.2h0M154.4 499.2h0M55.5 514.7h0M177.5 511.8h0M131.6 556.3h0M181.8 553.7h0M176.4 571.3h0M192.5 549.2h0M157.6 560.2h0M135.8 496.0h0M158.0 546.6h0M49.3 506.9h0M161.9 486.9h0M181.0 543.8h0M161.8 618.6h0M142.2 539.5h0M159.7 573.4h0M105.3 579.2h0M99.0 537.7h0M157.0 568.7h0M138.8 537.2h0M131.4 515.8h0M177.2 541.3h0M135.8 561.5h0M110.8 567.2h0M118.1 514.3h0M199.7 541.4h0M72.5 530.3h0M120.3 527.3h0M81.5 524.1h0M47.8 513.0h0M167.6 565.8h0M169.6 491.1h0M160.1 490.2h0M168.0 554.4h0M155.3 568.3h0M159.2 579.3h0M47.1 508.6h0M131.7 572.7h0M104.7 534.2h0M116.7 538.4h0M93.7 504.1h0M176.4 516.3h0M155.9 497.9h0M165.6 494.5h0M156.4 618.5h0M114.2 567.0h0M133.8 490.6h0M77.9 519.2h0M133.8 485.1h0M118.6 493.5h0M186.2 537.8h0M133.1 561.8h0M131.1 600.4h0M154.9 501.2h0M107.3 523.0h0M89.8 549.9h0M141.9 531.3h0M165.5 619.0h0M147.4 491.9h0M106.4 498.6h0M152.0 560.1h0M162.9 617.8h0M87.3 522.8h0M135.2 577.1h0M119.4 585.4h0M143.6 533.1h0M148.3 482.5h0M150.5 579.0h0M99.6 546.0h0M85.1 547.2h0M133.5 486.7h0M103.1 540.5h0M136.4 539.1h0M122.5 547.0h0M101.4 519.9h0M142.0 512.8h0M151.8 566.0h0M83.6 529.5h0M98.2 551.6h0M172.8 528.9h0M124.5 562.6h0M112.7 573.2h0M143.6 604.0h0M134.3 514.5h0M164.1 543.2h0M150.3 560.1h0M152.2 609.5h0M153.6 514.7h0M96.8 556.5h0M198.5 548.1h0M140.2 537.4h0M129.4 587.6h0M92.4 531.5h0M77.7 503.6h0M171.2 506.6h0M155.3 542.7h0M123.1 591.3h0M116.9 526.1h0M116.2 581.3h0M105.4 563.1h0M194.1 539.4h0M91.4 497.1h0M149.0 505.5h0M161.0 563.2h0M136.8 534.6h0M167.8 557.6h0M116.6 496.5h0M170.2 578.9h0M202.0 546.8h0M100.9 499.8h0M88.2 493.7h0M165.1 508.9h0M86.5 497.3h0M184.9 532.3h0M140.5 489.8h0M153.0 562.3h0M167.8 539.3h0M167.2 625.0h0M101.9 542.9h0M168.4 552.8h0M137.4 495.4h0M123.3 540.4h0M164.3 514.9h0M87.4 539.2h0M150.3 502.7h0M82.7 526.6h0M149.9 510.4h0M132.9 494.2h0M56.3 517.8h0M168.0 581.1h0M195.5 530.6h0M169.8 546.9h0M101.9 508.4h0M86.7 500.2h0M159.9 514.5h0M131.2 597.4h0M164.4 560.6h0M140.3 566.5h0M123.0 492.6h0M167.1 584.0h0M125.1 561.5h0M120.6 536.0h0M150.0 548.1h0M63.3 508.5h0M119.8 515.4h0M161.0 480.9h0M115.2 556.0h0M174.7 512.1h0M129.5 545.9h0M84.1 505.2h0M112.8 552.7h0M82.5 522.4h0M174.0 547.3h0M111.0 580.1h0M130.2 593.0h0M103.3 570.6h0M112.9 583.4h0M135.3 566.0h0M64.1 511.5h0M150.8 488.8h0M88.4 541.4h0M124.3 553.4h0M122.0 494.7h0M107.2 531.4h0M153.2 538.6h0M162.5 506.3h0M102.7 506.3h0M152.9 580.2h0M95.9 548.0h0M99.3 527.3h0M136.7 533.0h0M167.8 491.1h0M180.6 545.5h0M173.0 530.2h0M99.3 498.1h0M169.2 569.6h0M157.3 495.6h0M194.1 552.3h0M127.0 578.6h0M108.4 565.1h0M163.4 537.8h0M195.2 550.3h0M133.6 604.5h0M141.8 484.4h0M132.5 543.1h0M170.3 517.6h0M123.7 564.9h0M161.1 617.1h0M107.3 502.3h0M122.8 501.2h0M130.8 550.6h0M148.0 550.9h0M61.6 517.9h0M120.3 524.7h0M108.7 501.0h0M169.2 542.1h0M154.6 481.0h0M138.6 580.0h0M98.7 496.3h0M135.9 519.2h0M140.4 543.6h0M92.5 525.1h0M165.9 617.7h0M145.5 496.3h0M150.8 601.7h0M101.1 556.6h0M103.8 582.9h0M116.7 542.0h0M160.0 615.6h0M96.9 559.8h0M129.5 583.4h0M122.3 566.7h0M159.4 547.7h0M167.8 579.3h0M146.9 558.5h0M69.0 513.6h0M155.0 547.5h0M104.7 542.5h0M75.5 506.7h0M132.7 565.7h0M121.1 531.5h0M68.7 526.1h0M81.1 541.4h0M135.0 550.1h0M134.0 594.3h0M89.2 500.2h0M134.2 573.3h0M142.2 549.6h0M116.6 533.7h0M135.1 588.8h0M134.6 489.3h0M111.3 582.9h0M111.5 568.6h0M42.8 506.9h0M167.7 516.8h0M126.8 510.2h0M142.2 489.5h0M87.8 509.2h0M119.0 581.6h0M191.0 532.1h0M145.0 502.5h0M138.5 502.8h0M69.6 515.2h0M158.6 563.7h0M129.2 581.4h0M117.4 501.8h0M91.6 503.8h0M148.1 558.0h0M92.2 523.3h0M131.7 518.3h0M185.5 549.3h0M133.7 508.0h0M176.7 528.5h0M48.7 504.4h0M108.1 547.0h0M104.5 567.2h0M90.7 546.7h0M176.7 531.1h0M171.1 559.6h0M87.5 553.6h0M156.0 556.0h0M130.3 575.0h0M98.9 552.9h0M163.9 584.3h0M143.3 530.3h0M170.5 526.2h0M152.9 491.0h0M134.9 538.1h0M118.5 553.9h0M116.7 567.3h0M168.7 559.4h0M112.4 504.8h0M121.1 533.3h0M90.1 522.7h0M89.0 562.6h0M101.5 515.2h0M88.6 532.0h0M90.7 555.5h0M106.4 518.8h0M71.8 518.7h0M78.0 516.7h0M96.7 545.0h0M75.2 531.9h0M114.5 502.5h0M118.8 579.7h0M154.8 508.1h0M71.2 525.0h0M102.8 533.8h0M144.0 597.8h0M165.2 485.6h0M160.0 575.0h0M116.4 545.5h0M46.9 518.4h0M106.2 568.6h0M143.6 609.4h0M127.1 600.5h0M144.9 558.7h0M89.8 543.6h0M94.9 558.7h0M75.4 524.0h0M156.9 481.9h0M148.5 612.2h0M72.0 508.9h0M142.2 602.6h0M161.5 549.7h0M95.2 505.6h0M147.3 563.7h0M135.4 602.5h0M194.6 544.7h0M89.1 538.8h0M109.9 525.5h0M139.7 527.4h0M117.9 578.0h0M135.1 505.9h0M117.3 522.8h0M196.3 539.9h0M117.4 550.6h0M180.5 540.9h0M158.2 557.3h0M151.8 615.4h0M99.4 542.6h0M171.0 552.9h0M153.1 483.8h0M166.8 518.0h0M160.4 509.3h0M91.0 517.3h0M141.9 599.8h0M97.8 523.9h0M169.4 625.8h0M116.2 508.6h0M146.4 510.1h0M147.8 485.0h0M105.6 503.2h0M137.2 500.4h0M118.3 504.4h0M130.4 493.8h0M167.7 551.0h0M94.8 497.4h0M84.9 532.8h0M153.3 554.1h0M141.5 495.8h0M131.9 604.2h0M94.9 518.2h0M101.1 530.9h0M124.5 555.8h0M154.6 539.5h0M179.4 522.1h0M158.5 510.6h0M139.3 534.4h0M156.3 614.5h0M106.2 571.5h0M97.9 504.0h0M94.0 554.1h0M107.7 534.3h0M163.9 481.6h0M153.4 557.0h0M137.7 487.9h0M174.3 508.8h0M59.7 513.9h0M58.2 521.0h0M193.4 534.0h0M88.9 524.8h0M178.8 567.5h0M55.5 508.8h0M127.0 532.4h0M87.9 497.7h0M86.1 549.1h0M150.4 538.4h0M107.2 559.4h0M142.8 508.9h0M126.3 505.7h0M114.9 512.2h0M130.3 584.6h0M128.1 568.8h0M115.1 525.4h0M133.5 569.2h0M139.4 578.3h0M123.1 536.2h0M96.0 573.3h0M135.3 545.5h0M184.9 551.3h0M150.7 499.5h0M104.9 550.2h0M119.3 547.6h0M126.2 558.5h0M170.5 622.4h0M89.1 494.9h0M144.9 560.4h0M154.9 496.6h0M134.9 518.0h0M94.2 542.7h0M90.3 516.1h0M124.4 590.5h0M110.5 513.7h0M184.9 520.8h0M180.8 528.3h0M132.8 506.2h0M119.1 519.6h0M87.3 544.7h0M138.4 520.5h0M161.9 555.7h0M90.4 559.2h0M172.3 557.5h0M84.1 503.5h0M146.2 535.7h0M156.2 500.5h0M108.6 557.9h0M127.9 541.6h0M168.8 556.5h0M172.3 562.7h0M136.4 536.3h0M151.8 514.0h0M169.2 563.1h0M129.4 516.5h0M131.3 592.0h0M177.1 542.9h0M158.9 497.8h0M156.8 540.6h0M85.8 535.6h0M108.0 510.1h0M49.5 519.1h0M133.1 539.8h0M50.4 512.6h0M94.4 520.7h0M51.4 509.9h0M112.0 577.6h0M141.9 583.5h0M187.0 529.3h0M114.4 495.9h0M128.6 564.2h0M165.3 582.6h0M154.3 489.5h0M136.2 567.1h0M127.2 564.1h0M116.4 570.4h0M108.3 495.2h0M156.4 558.9h0M101.0 516.5h0M192.4 538.8h0M178.6 557.0h0M78.3 530.5h0M128.9 592.2h0M188.6 552.9h0M44.8 510.8h0M138.0 489.3h0M165.5 620.8h0M132.6 549.8h0M156.9 484.6h0M111.3 542.7h0M167.2 488.5h0M122.3 534.7h0M169.3 487.0h0M99.2 540.7h0M113.3 586.0h0M136.8 540.8h0M100.2 553.0h0M116.0 549.1h0M79.4 510.3h0M53.4 518.7h0M169.6 553.3h0M81.9 510.6h0M114.2 508.3h0M78.0 506.0h0M103.3 565.2h0M113.3 565.3h0M147.0 605.9h0M196.9 543.0h0M123.1 582.8h0M150.6 563.0h0M91.9 552.3h0M129.8 573.2h0M126.8 514.9h0M83.8 508.0h0M115.8 540.4h0M91.0 493.8h0M110.6 547.0h0M115.0 510.8h0M146.1 549.8h0M113.4 505.6h0M128.2 524.6h0M178.1 563.6h0M134.6 533.5h0M141.6 557.0h0M45.8 508.0h0M101.7 546.3h0M154.1 564.3h0M122.5 526.2h0M88.4 560.4h0M158.6 544.4h0M61.5 520.9h0M152.1 547.5h0M127.1 500.9h0M114.6 516.0h0M71.4 512.6h0M125.0 580.8h0M185.2 547.5h0M131.1 545.1h0M152.9 539.9h0M113.0 509.0h0M135.9 598.1h0M124.8 489.1h0M180.5 550.4h0M139.5 533.1h0M109.5 567.4h0M106.1 576.8h0M189.9 541.0h0M153.7 509.2h0M101.5 575.5h0M143.9 564.4h0M151.0 485.7h0M167.8 536.7h0M174.8 521.0h0M136.1 497.4h0M162.1 515.4h0M93.9 551.2h0M94.0 544.1h0M128.9 523.2h0M130.4 495.8h0M163.8 551.0h0M122.7 529.4h0M168.8 568.1h0M155.3 506.8h0M155.2 566.2h0M107.4 574.2h0M79.5 537.6h0M88.8 529.3h0M176.0 509.7h0M150.0 482.8h0M167.1 492.4h0M109.1 550.8h0M154.3 537.8h0M139.0 508.6h0M177.9 519.1h0M45.4 516.0h0M171.0 512.6h0M145.1 578.2h0M78.9 507.5h0M138.3 553.7h0M158.7 491.3h0M119.8 568.5h0M117.4 564.3h0M94.3 563.2h0M172.1 525.8h0M60.0 522.5h0M113.5 549.1h0M78.1 534.3h0M181.4 551.6h0M135.5 508.0h0M185.3 556.1h0M158.5 499.4h0M166.0 563.8h0M181.7 542.3h0M140.9 538.8h0M144.3 585.2h0M196.3 546.8h0M134.1 571.3h0M163.1 565.8h0M142.7 514.2h0M139.7 531.6h0M97.2 540.8h0M60.6 519.5h0M130.7 589.7h0M152.3 500.6h0M84.8 549.0h0M129.2 498.8h0M108.0 503.6h0M204.9 544.9h0M192.0 551.7h0M84.3 498.5h0M159.6 617.2h0M125.4 520.8h0M166.7 627.2h0M165.6 541.0h0M64.9 518.6h0M165.2 578.7h0M72.7 523.9h0M87.9 499.5h0M128.2 584.5h0M172.1 555.3h0M141.8 542.1h0M171.4 571.5h0M131.6 558.5h0M53.6 517.3h0M99.4 511.1h0M63.3 515.5h0M136.7 605.0h0M112.8 537.3h0M136.6 489.0h0M79.5 512.2h0M149.3 570.1h0M147.0 486.8h0M118.8 506.7h0M131.7 541.3h0M110.9 573.7h0M150.6 567.0h0M174.1 526.7h0M95.5 508.9h0M109.1 549.5h0M76.8 507.3h0M137.9 604.8h0M127.0 580.6h0M90.4 548.1h0M132.8 521.4h0M115.9 550.7h0M70.8 527.6h0M189.2 528.0h0M142.5 541.1h0M79.3 501.2h0M140.8 504.7h0M189.8 535.7h0M112.7 512.2h0M161.3 484.6h0M46.7 510.4h0M129.5 506.5h0M179.0 532.8h0M146.2 609.7h0M168.0 620.5h0M78.1 514.7h0M186.7 533.5h0M200.6 547.6h0M195.5 551.9h0M81.3 525.9h0M122.1 538.5h0M119.4 531.0h0M177.0 527.1h0M189.3 522.5h0M86.2 514.6h0M54.8 517.4h0M139.6 515.0h0M168.4 488.1h0M184.2 522.6h0M51.1 515.5h0M92.2 533.2h0M146.8 608.0h0M143.0 507.3h0M157.5 577.7h0M118.5 555.6h0M192.6 532.9h0M135.0 484.3h0M129.6 537.5h0M107.5 562.1h0M158.7 618.3h0M115.8 501.6h0M153.5 569.7h0M148.5 562.2h0M101.0 509.9h0M100.8 545.6h0M106.6 544.7h0M122.6 490.3h0M149.5 485.2h0M160.1 566.5h0M197.8 540.2h0M118.1 562.6h0M112.3 521.1h0M125.9 515.8h0M141.8 572.2h0M93.7 532.8h0M38.4 510.5h0M107.2 516.6h0M147.6 490.5h0M183.5 538.9h0M120.8 572.7h0M156.2 496.3h0M112.1 560.2h0M140.0 498.3h0M133.6 576.2h0M142.2 598.0h0M179.6 558.1h0M144.9 534.1h0M153.2 497.6h0M132.5 512.0h0M95.7 570.4h0M201.1 549.2h0M156.6 508.6h0M106.0 530.1h0M144.1 599.6h0M171.7 551.8h0M114.7 569.6h0M98.3 507.3h0M106.3 495.6h0M122.3 496.6h0M109.5 517.1h0M55.2 519.6h0M120.5 537.3h0M85.6 520.8h0M91.6 495.7h0M140.1 564.7h0M84.3 500.1h0M104.4 540.8h0M106.2 543.3h0M94.9 545.2h0M159.1 549.8h0M173.4 555.9h0M185.3 540.7h0M175.1 533.2h0M181.4 537.0h0M94.6 547.7h0M143.5 550.4h0M161.4 551.7h0M157.2 565.5h0M89.0 548.1h0M94.2 522.0h0M158.3 483.0h0M182.1 533.3h0M169.8 550.1h0M131.9 486.4h0M156.8 570.6h0M130.8 539.9h0M119.7 541.2h0M121.1 505.3h0M166.7 538.1h0M146.0 487.9h0M145.3 497.9h0M89.7 535.8h0M133.1 580.1h0M140.0 556.3h0M136.6 600.2h0M168.5 573.0h0M174.5 560.8h0M120.2 595.0h0M101.8 502.7h0M137.9 533.6h0M121.5 501.6h0M91.2 544.7h0M60.0 516.9h0M127.7 590.6h0M173.0 559.3h0M131.7 527.4h0M122.8 498.7h0M138.8 510.4h0M146.2 503.4h0M157.4 572.4h0M155.6 572.8h0M105.8 494.0h0M106.4 522.1h0M154.3 493.0h0M123.9 519.0h0M150.1 540.8h0M144.8 531.6h0M162.3 562.1h0M86.5 495.3h0M158.8 566.0h0M99.5 520.6h0M127.7 499.5h0M135.8 551.3h0M96.5 553.5h0M150.4 574.1h0M63.5 513.1h0M123.4 585.8h0M190.8 555.9h0M193.1 543.6h0M175.2 565.3h0M165.8 625.8h0M164.1 557.2h0M180.9 539.2h0M136.2 573.8h0M149.1 600.7h0M93.8 519.2h0M130.3 564.4h0M48.2 514.3h0M115.2 557.8h0M126.2 574.4h0M115.2 498.6h0M143.9 501.4h0M133.3 577.9h0M106.4 554.6h0M88.0 515.9h0M69.6 506.6h0M95.6 500.1h0M154.5 557.7h0M121.6 588.8h0M95.2 525.3h0M148.1 548.1h0M137.6 537.8h0M73.9 521.2h0M179.6 518.3h0M99.3 517.4h0M73.4 512.5h0M124.3 551.2h0M100.9 524.5h0M99.5 556.2h0M88.8 521.8h0M177.2 570.0h0M94.8 533.7h0M130.8 536.0h0M98.8 525.7h0M153.7 559.7h0M162.6 512.4h0M80.8 501.1h0M152.4 558.7h0M120.7 576.6h0M120.7 517.6h0M153.6 614.9h0M183.5 557.0h0M82.4 506.9h0M111.7 585.0h0M108.6 532.1h0M107.9 577.2h0M146.7 481.7h0M162.4 564.0h0M111.4 540.4h0M117.4 548.8h0M178.0 547.8h0M101.4 570.5h0M148.3 512.0h0M114.2 500.3h0M130.8 594.4h0M100.9 493.3h0M146.4 578.9h0M140.7 569.5h0M110.4 586.6h0M147.2 513.0h0M102.4 550.5h0M122.0 593.2h0M123.1 511.0h0M94.9 535.5h0M174.1 551.9h0M177.2 559.2h0M157.4 562.3h0M195.4 553.2h0M95.8 563.2h0M104.8 575.9h0M135.7 515.9h0M93.8 529.4h0M127.5 592.2h0M121.5 529.9h0M87.4 507.6h0M135.3 584.7h0M152.2 579.2h0M89.5 553.3h0M78.7 504.8h0M130.7 582.0h0M94.7 566.3h0M189.7 529.6h0M76.4 512.7h0M127.8 565.3h0M108.4 525.2h0M160.1 550.8h0M183.8 555.7h0M151.0 555.2h0M104.5 514.7h0M90.6 508.2h0M129.1 551.5h0M92.8 571.1h0M124.9 557.0h0M84.0 525.1h0M155.0 491.1h0M85.3 513.2h0M135.8 595.0h0M47.3 503.9h0M156.9 511.3h0M163.7 569.1h0M58.5 508.0h0M115.2 520.1h0M145.9 542.2h0M133.8 544.1h0M121.7 579.9h0M163.0 507.7h0M81.0 537.9h0M161.6 544.3h0M126.2 593.3h0M139.2 494.5h0M141.0 558.2h0M166.4 483.3h0M185.9 557.2h0M133.7 590.4h0M125.1 494.6h0M138.9 563.2h0M80.2 528.3h0M115.0 548.2h0M127.5 560.6h0M118.6 593.1h0M114.6 585.4h0M75.9 527.2h0M106.0 551.8h0M117.2 560.5h0M82.7 520.6h0M122.9 576.2h0M159.7 487.9h0M127.7 555.6h0M177.2 556.4h0M142.1 502.9h0M94.2 555.6h0M53.8 515.0h0M100.1 502.0h0M172.5 534.7h0M110.2 524.0h0M130.9 583.2h0M186.1 522.1h0M89.8 566.4h0M145.1 509.4h0M141.6 580.5h0M133.1 503.0h0M153.6 549.6h0M162.0 578.2h0M144.4 546.7h0M138.6 560.4h0M98.1 558.9h0M101.9 529.8h0M150.4 484.2h0M126.3 572.1h0M80.9 509.7h0M126.0 553.5h0M186.6 552.0h0M111.9 533.2h0M161.2 571.4h0M124.1 572.8h0M152.2 504.6h0M163.3 541.6h0M135.7 494.7h0M198.6 542.4h0M92.0 527.7h0M125.9 530.8h0M129.7 599.4h0M105.5 548.8h0M85.1 497.4h0M139.3 490.9h0M80.1 517.4h0M90.1 518.4h0M192.1 529.9h0M185.0 523.7h0M123.4 493.8h0M122.7 556.4h0M57.9 506.9h0M118.7 522.9h0M137.0 603.7h0M148.9 614.4h0M191.7 542.9h0M164.1 572.2h0M148.8 568.2h0M112.9 578.9h0M81.4 543.4h0M151.7 610.8h0M175.2 523.3h0M147.1 508.9h0M190.2 553.7h0M105.1 570.1h0M109.4 569.7h0M203.5 544.8h0M104.7 500.1h0M197.7 536.5h0M189.3 556.5h0M151.7 491.2h0M87.3 535.4h0M100.4 496.9h0M133.1 600.1h0M154.9 509.4h0M139.5 573.5h0M78.9 502.6h0M169.0 514.4h0M180.4 553.8h0M182.6 562.3h0M165.7 624.4h0M75.8 514.4h0M126.5 539.0h0M120.6 589.8h0M181.5 554.9h0M154.2 573.2h0M190.4 551.7h0M241.1 492.6h0M213.5 495.4h0M212.9 510.8h0M214.2 515.8h0M221.7 522.1h0M216.1 490.1h0M201.3 494.3h0M236.1 498.1h0M197.3 500.9h0M215.8 510.8h0M217.6 499.8h0M238.1 507.2h0M209.5 492.3h0M225.8 509.1h0M222.5 515.0h0M215.5 522.1h0M205.6 498.7h0M225.1 498.9h0M237.0 493.1h0M209.9 494.3h0M193.5 496.3h0M237.8 496.6h0M214.6 500.0h0M196.3 497.9h0M239.9 489.4h0M237.8 490.5h0M233.6 491.0h0M233.1 506.2h0M199.3 500.1h0M220.7 527.9h0M233.4 495.6h0M201.1 500.5h0M212.9 489.2h0M213.7 504.2h0M207.7 491.4h0M214.5 513.2h0M221.0 491.3h0M231.5 488.6h0M242.6 495.5h0M242.5 500.7h0M210.6 496.1h0M204.1 503.0h0M215.4 514.2h0M217.7 501.4h0M223.1 517.3h0M226.7 497.3h0M219.4 498.0h0M218.3 522.5h0M232.1 493.2h0M221.0 525.5h0M230.5 512.9h0M222.2 492.1h0M220.9 519.3h0M236.4 496.8h0M206.5 492.2h0M229.2 503.4h0M219.4 499.6h0M215.2 496.3h0M216.2 507.9h0M218.0 509.4h0M240.7 499.0h0M200.4 502.5h0M214.7 489.0h0M219.8 515.4h0M226.5 487.8h0M242.1 498.4h0M202.9 504.1h0M223.1 496.0h0M228.2 512.8h0M212.6 503.1h0M215.3 501.4h0M217.2 495.7h0M223.3 506.5h0M225.1 492.3h0M239.6 495.7h0M226.1 517.7h0M215.3 492.3h0M231.3 498.2h0M230.4 509.0h0M227.8 506.3h0M226.9 492.2h0M221.5 499.8h0M217.2 503.8h0M233.3 493.0h0M219.1 495.2h0M213.4 507.1h0M219.3 516.5h0M217.7 515.0h0M213.8 487.8h0M232.8 509.1h0M220.8 496.9h0M230.7 491.0h0M220.3 510.8h0M205.3 490.9h0M216.8 492.6h0M217.9 512.1h0M224.7 518.7h0M224.3 504.6h0M208.4 506.5h0M216.4 518.3h0M210.5 505.2h0M226.4 503.7h0M196.7 494.6h0M217.9 506.3h0M206.3 497.3h0M213.8 491.5h0M202.7 499.8h0M212.6 505.0h0M222.3 512.3h0M214.0 498.5h0M211.5 498.6h0M238.2 505.6h0M204.5 506.2h0M231.6 507.6h0M231.1 502.8h0M210.2 498.2h0M229.0 492.9h0M224.5 496.2h0M217.4 517.3h0M211.6 501.1h0M223.9 525.1h0M208.8 497.5h0M213.4 508.7h0M217.5 525.3h0M229.2 499.4h0M239.6 492.8h0M234.9 506.5h0M233.4 488.1h0M208.1 505.3h0M219.3 526.9h0M221.8 524.0h0M210.1 501.4h0M204.1 499.9h0M233.9 504.5h0M217.9 528.6h0M219.4 509.7h0M222.7 509.6h0M211.0 509.5h0M218.9 525.3h0M229.8 506.8h0M222.7 505.1h0M218.9 511.2h0M202.4 496.4h0M201.6 503.6h0M226.1 493.6h0M224.5 508.1h0M217.5 490.4h0M197.9 495.3h0M212.7 494.4h0M241.5 497.2h0M207.8 502.2h0M239.0 502.1h0M222.8 507.9h0M197.5 498.5h0M221.0 509.6h0M217.0 521.3h0M237.6 494.2h0M218.0 489.1h0M205.8 499.9h0M237.6 498.5h0M208.4 493.6h0M205.4 508.2h0M227.2 518.5h0M227.7 523.2h0M237.2 503.4h0M203.8 505.1h0M234.9 493.0h0M227.3 498.7h0M215.2 519.0h0M232.4 500.4h0M229.7 497.9h0M222.5 501.6h0M224.2 494.0h0M219.6 491.3h0M219.4 513.3h0M223.3 491.4h0M231.2 487.2h0M201.9 506.0h0M228.7 488.0h0M219.5 503.4h0M225.1 516.3h0M227.8 500.2h0M229.8 511.6h0M225.4 519.8h0M207.5 490.1h0M232.8 512.7h0M224.1 514.8h0M223.6 510.9h0M223.9 497.7h0M215.2 509.4h0M225.9 495.0h0M200.9 498.5h0M220.2 524.3h0M220.4 506.2h0M241.2 495.7h0M221.1 513.3h0M241.2 490.8h0M270.6 520.2h0M270.6 522.6h0M271.5 521.2h0M267.2 520.1h0M274.3 519.7h0M272.1 518.8h0M222.2 672.2h0M211.0 681.0h0M173.7 655.0h0M188.9 679.5h0M238.8 649.0h0M178.0 645.8h0M215.9 661.4h0M213.3 683.6h0M184.2 672.2h0M175.4 659.5h0M224.5 668.4h0M188.1 631.9h0M239.4 641.1h0M217.4 630.9h0M190.4 650.1h0M199.0 647.6h0M232.7 650.6h0M215.6 648.4h0M225.2 657.5h0M208.1 625.6h0M182.6 647.1h0M188.7 628.3h0M230.3 655.3h0M189.3 718.9h0M204.2 672.5h0M210.3 629.9h0M204.5 680.1h0M209.0 669.1h0M183.4 717.0h0M205.7 672.4h0M201.7 699.2h0M169.2 651.1h0M186.3 682.8h0M203.5 641.3h0M195.2 694.0h0M230.4 660.5h0M181.3 671.8h0M205.0 659.8h0M198.8 676.2h0M231.7 651.5h0M199.9 627.7h0M189.0 704.1h0M241.0 642.5h0M181.2 713.5h0M193.6 675.5h0M242.0 645.0h0M190.0 670.4h0M188.9 672.7h0M221.0 658.3h0M241.2 649.5h0M180.0 699.5h0M193.8 625.0h0M196.4 633.5h0M184.0 695.6h0M210.4 648.4h0M223.6 643.8h0M185.3 632.8h0M237.1 655.7h0M197.0 648.4h0M187.5 689.1h0M176.6 634.7h0M196.7 686.3h0M191.8 643.3h0M177.9 630.4h0M208.1 659.4h0M208.7 628.9h0M194.7 706.6h0M194.2 623.0h0M187.1 676.0h0M205.2 642.4h0M225.7 634.9h0M169.2 628.0h0M217.9 669.5h0M182.6 709.2h0M220.4 668.5h0M196.2 641.5h0M182.4 626.6h0M167.4 649.7h0M210.4 650.6h0M196.8 656.7h0M181.1 680.7h0M200.3 637.5h0M225.2 671.5h0M209.3 679.8h0M195.1 639.8h0M202.9 649.2h0M219.4 639.7h0M174.2 627.1h0M213.4 648.3h0M194.3 698.5h0M177.5 624.6h0M208.7 656.6h0M187.6 634.5h0M189.6 684.8h0M221.2 673.7h0M208.4 665.5h0M200.4 632.0h0M183.8 685.7h0M205.2 637.2h0M184.6 675.3h0M238.7 651.8h0M207.3 653.5h0M181.3 700.0h0M230.9 647.4h0M189.6 702.4h0M214.6 656.9h0M220.2 638.3h0M177.2 657.5h0M185.8 643.3h0M199.4 665.6h0M233.0 652.9h0M223.4 673.2h0M239.2 650.3h0M214.8 627.5h0M189.1 675.4h0M180.2 642.0h0M180.0 636.4h0M201.2 653.1h0M196.0 637.0h0M213.7 657.9h0M207.8 643.3h0M185.2 708.0h0M166.9 629.6h0M175.7 655.0h0M191.0 686.5h0M187.9 706.6h0M209.7 684.5h0M183.7 707.8h0M202.2 695.1h0M208.4 673.4h0M196.4 689.2h0M191.7 660.7h0M198.1 703.3h0M216.5 651.2h0M214.6 636.5h0M192.6 690.8h0M180.8 638.5h0M184.6 669.4h0M183.2 651.8h0M171.3 642.5h0M199.3 658.4h0M176.0 645.4h0M230.5 665.8h0M195.6 672.2h0M199.4 653.6h0M197.8 701.1h0M189.6 620.4h0M230.0 656.6h0M172.4 643.6h0M215.7 639.5h0M196.4 665.5h0M219.2 652.8h0M216.8 658.5h0M227.0 666.6h0M190.7 644.0h0M180.5 711.1h0M216.5 653.0h0M186.3 639.1h0M195.9 631.3h0M236.2 642.4h0M182.7 634.8h0M182.0 657.9h0M216.3 677.2h0M201.0 654.4h0M211.6 658.5h0M190.9 675.2h0M174.3 657.2h0M195.4 688.1h0M213.2 630.1h0M179.9 650.0h0M192.4 685.7h0M185.3 673.4h0M188.6 650.4h0M221.8 678.9h0M198.9 624.0h0M202.7 659.4h0M192.3 645.3h0M182.0 642.6h0M170.6 644.9h0M199.9 660.6h0M199.1 685.1h0M185.3 699.0h0M215.7 643.2h0M203.3 668.6h0M188.4 677.6h0M181.0 647.0h0M195.8 626.4h0M186.3 670.1h0M204.1 633.2h0M229.3 667.0h0M198.8 663.2h0M219.7 677.9h0M211.3 644.6h0M214.6 628.8h0M192.0 702.5h0M197.9 667.6h0M195.7 692.3h0M210.0 659.2h0M226.3 640.2h0M183.6 639.2h0M210.9 642.7h0M185.8 665.3h0M210.8 663.1h0M216.7 667.0h0M193.3 633.5h0M179.7 663.1h0M198.5 681.8h0M173.0 642.0h0M198.1 696.7h0M233.5 659.4h0M219.6 633.8h0M212.9 676.9h0M199.4 696.3h0M237.5 644.9h0M216.4 634.6h0M186.0 649.3h0M210.7 668.4h0M209.2 667.4h0M195.4 679.9h0M172.7 628.4h0M193.0 701.7h0M205.5 696.4h0M203.4 666.4h0M178.5 654.4h0M207.8 641.9h0M219.8 659.9h0M221.8 641.9h0M202.8 672.6h0M208.9 681.2h0M179.7 705.7h0M182.7 712.9h0M234.2 662.1h0M189.4 700.3h0M180.0 640.0h0M201.8 692.3h0M195.1 709.9h0M187.1 645.0h0M211.7 669.4h0M183.1 623.9h0M225.9 646.4h0M181.2 674.0h0M179.5 667.4h0M194.6 673.6h0M183.8 698.9h0M167.1 642.3h0M174.8 632.0h0M200.0 702.5h0M175.2 646.3h0M191.1 708.2h0M168.8 645.4h0M200.8 684.3h0M182.0 662.2h0M205.6 674.9h0M187.9 636.1h0M212.4 661.8h0M179.0 700.5h0M173.9 649.4h0M204.7 631.8h0M180.8 685.6h0M217.9 682.6h0M178.2 664.5h0M219.9 674.3h0M190.6 669.1h0M228.7 653.1h0M220.8 643.3h0M194.4 656.0h0M215.3 651.7h0M223.6 649.5h0M170.7 626.9h0M176.1 628.5h0M183.8 628.1h0M199.6 698.5h0M173.4 652.4h0M180.4 622.1h0M220.8 647.2h0M186.9 722.5h0M222.9 637.1h0M195.8 669.8h0M196.2 704.6h0M229.0 668.7h0M178.0 639.4h0M173.4 636.1h0M211.5 687.8h0M185.0 624.0h0M176.3 632.3h0M195.4 638.4h0M205.1 647.3h0M185.0 660.9h0M217.7 663.3h0M192.6 667.6h0M181.6 693.3h0M192.8 681.0h0M172.3 646.1h0M184.6 657.7h0M178.6 629.3h0M183.0 671.7h0M201.6 640.6h0M207.4 640.0h0M206.0 633.2h0M172.8 630.2h0M216.1 670.7h0M227.3 639.1h0M205.5 648.8h0M195.4 653.0h0M192.3 650.2h0M205.5 651.1h0M199.1 666.9h0M214.5 677.0h0M175.3 642.0h0M197.2 658.2h0M179.4 660.5h0M180.2 690.7h0M218.5 680.0h0M224.9 650.0h0M208.8 674.9h0M182.3 630.0h0M184.4 689.0h0M244.6 643.2h0M183.1 640.5h0M181.7 624.9h0M197.5 665.0h0M228.0 661.1h0M194.1 647.3h0M203.1 628.2h0M206.9 677.3h0M213.1 642.8h0M192.5 637.4h0M164.6 637.3h0M187.3 626.8h0M186.5 650.5h0M234.6 652.7h0M216.8 679.5h0M216.2 640.7h0M189.8 686.9h0M210.0 641.7h0M210.7 635.1h0M184.1 633.3h0M215.0 654.2h0M220.7 654.9h0M225.8 665.6h0M179.2 641.1h0M197.2 706.2h0M225.3 644.1h0M210.2 655.0h0M208.4 687.2h0M217.2 639.4h0M228.2 651.0h0M221.4 644.7h0M183.6 720.8h0M197.3 640.5h0M188.7 657.9h0M221.6 670.4h0M189.9 658.5h0M183.7 677.3h0M187.1 673.8h0M230.4 639.8h0M182.2 628.1h0M210.4 628.7h0M166.3 634.7h0M184.2 665.5h0M204.5 664.2h0M201.2 661.9h0M216.8 681.7h0M224.4 653.0h0M211.4 647.3h0M184.8 639.9h0M183.9 710.0h0M208.4 692.1h0M227.3 646.4h0M185.4 706.0h0M184.0 650.4h0M218.0 634.8h0M213.4 659.9h0M198.7 692.0h0M208.7 657.9h0M188.0 693.9h0M190.5 695.2h0M180.9 659.6h0M203.6 676.2h0M191.9 623.0h0M227.0 669.3h0M220.5 662.8h0M223.8 670.0h0M215.9 683.2h0M223.0 657.9h0M214.1 673.7h0M212.3 679.8h0M182.1 666.5h0M187.4 662.0h0M176.5 640.2h0M170.2 646.6h0M213.5 685.4h0M182.5 688.8h0M193.7 682.0h0M197.1 661.3h0M193.5 707.0h0M195.4 649.6h0M167.0 637.1h0M200.8 664.9h0M234.1 639.5h0M196.2 663.9h0M207.9 630.6h0M184.3 715.7h0M189.7 681.4h0M206.2 667.0h0M190.8 628.6h0M192.0 625.1h0M194.1 699.7h0M213.5 635.7h0M176.4 644.0h0M192.6 688.8h0M179.3 681.4h0M214.4 642.8h0M167.9 627.5h0M217.0 649.2h0M218.0 677.3h0M210.7 653.8h0M185.3 625.3h0M186.0 687.2h0M188.9 695.7h0M193.8 671.4h0M200.1 691.7h0M184.5 638.0h0M236.6 649.5h0M211.4 665.2h0M222.2 635.1h0M197.7 639.0h0M183.7 719.4h0M223.1 646.9h0M196.3 683.7h0M201.7 634.3h0M182.4 621.8h0M175.2 664.4h0M219.6 635.5h0M181.2 718.7h0M220.8 636.2h0M221.6 656.7h0M209.8 662.2h0M169.6 633.5h0M187.2 687.5h0M206.2 638.6h0M187.0 663.5h0M193.5 626.4h0M214.1 680.6h0M184.7 629.9h0M196.1 707.3h0M207.3 655.4h0M209.3 672.1h0M198.0 660.3h0M236.0 660.5h0M179.3 670.9h0M226.6 641.5h0M190.7 677.7h0M199.3 694.9h0M203.8 695.4h0M196.3 668.4h0M218.3 632.2h0M218.0 660.0h0M198.8 626.5h0M206.2 682.3h0M217.8 671.3h0M199.1 669.7h0M228.4 654.6h0M232.6 660.8h0M221.0 661.0h0M171.7 647.6h0M194.4 627.4h0M176.6 668.9h0M192.5 628.2h0M217.9 651.4h0M229.4 663.2h0M205.9 657.6h0M189.3 636.5h0M181.1 655.3h0M182.6 631.6h0M214.9 645.4h0M182.3 695.0h0M165.6 640.1h0M185.2 644.9h0M196.1 702.0h0M204.8 694.5h0M191.6 653.6h0M209.8 652.5h0M186.1 661.9h0M177.6 669.8h0M193.3 683.5h0M194.6 629.8h0M233.0 641.7h0M209.7 691.9h0M172.0 655.1h0M236.1 661.7h0M219.5 681.2h0M198.6 628.7h0M233.2 648.6h0M171.3 637.5h0M226.7 662.7h0M208.1 650.8h0M196.0 677.2h0M222.5 676.4h0M188.9 666.2h0M190.7 673.4h0M200.0 677.4h0M171.5 634.9h0M232.5 643.0h0M197.2 695.6h0M182.6 715.2h0M186.3 623.8h0M199.7 630.7h0M238.5 646.2h0M185.6 622.0h0M184.8 691.9h0M213.2 646.1h0M238.3 655.6h0M172.9 634.1h0M175.7 626.2h0M225.4 651.5h0M195.3 661.8h0M193.7 621.7h0M176.7 661.1h0M241.6 651.4h0M192.4 631.1h0M226.4 664.1h0M207.5 647.9h0M171.1 651.1h0M182.1 637.5h0M190.9 681.7h0M221.0 653.7h0M220.7 665.9h0M214.4 686.7h0M184.6 701.1h0M182.7 682.2h0M230.9 661.9h0M192.8 695.0h0M168.5 641.7h0M217.4 673.5h0M195.2 644.0h0M180.1 701.6h0M213.3 669.5h0M227.2 671.3h0M187.0 707.9h0M222.7 668.1h0M204.8 677.8h0M210.5 670.7h0M181.1 629.0h0M204.8 635.9h0M183.7 648.3h0M189.5 678.3h0M231.6 655.1h0M202.8 661.7h0M208.0 689.2h0M202.1 636.1h0M183.5 642.6h0M201.7 632.3h0M203.3 637.0h0M191.4 711.1h0M207.9 660.6h0M185.6 627.4h0M227.1 634.0h0M214.8 679.6h0M230.8 668.8h0M185.9 636.8h0M217.6 675.3h0M191.2 705.5h0M217.0 647.9h0M197.7 644.7h0M185.4 659.1h0M191.3 651.9h0M211.1 661.1h0M192.3 704.7h0M173.7 645.9h0M212.1 673.2h0M191.4 693.6h0M224.1 676.0h0M224.1 660.1h0M199.4 701.3h0M186.8 713.3h0M234.0 647.0h0M180.7 648.2h0M210.3 656.5h0M189.9 716.4h0M192.6 652.6h0M183.9 690.7h0M174.2 643.5h0M211.9 638.1h0M196.9 627.8h0M188.6 647.3h0M190.6 690.6h0M182.0 683.7h0M176.2 649.0h0M187.5 703.2h0M179.7 697.4h0M242.8 642.3h0M182.6 686.2h0M192.0 670.6h0M182.5 636.2h0M184.4 622.6h0M179.7 631.3h0M207.2 671.1h0M186.5 697.9h0M241.1 647.5h0M237.6 647.6h0M205.3 669.8h0M213.8 662.3h0M187.3 659.1h0M168.8 644.1h0M205.1 690.5h0M197.7 633.2h0M229.2 646.3h0M180.4 651.3h0M221.9 633.8h0M213.3 656.6h0M206.9 636.9h0M191.6 691.8h0M186.5 692.2h0M222.7 652.9h0M204.2 685.8h0M219.2 665.8h0M199.6 689.8h0M223.0 651.5h0M178.0 637.3h0M179.4 702.6h0M243.0 646.9h0M240.2 652.9h0M187.8 692.3h0M210.5 676.2h0M197.3 698.8h0M220.2 651.7h0M182.4 664.4h0M171.2 639.4h0M187.9 716.5h0M181.4 706.3h0M194.3 704.5h0M194.2 661.2h0M181.3 688.0h0M187.7 629.1h0M224.4 674.4h0M190.1 632.1h0M186.2 635.0h0M190.3 699.2h0M244.9 645.9h0M197.4 631.9h0M186.9 727.4h0M183.1 725.1h0M185.9 691.0h0M185.2 679.8h0M218.4 644.6h0M189.7 692.7h0M175.1 623.3h0M225.9 636.6h0M202.9 626.6h0M202.8 686.6h0M188.1 670.4h0M195.7 690.7h0M230.8 652.5h0M208.5 638.1h0M222.4 664.5h0M182.6 690.1h0M187.2 680.0h0M180.9 689.5h0M192.0 675.9h0M181.4 717.0h0M197.0 692.2h0M198.6 673.3h0M210.6 686.5h0M191.8 697.2h0M206.0 684.5h0M194.1 685.7h0M183.7 656.2h0M191.7 695.9h0M228.4 664.6h0M197.0 681.6h0M193.3 662.9h0M216.8 656.0h0M207.7 694.0h0M185.1 711.2h0M226.3 655.2h0M191.6 664.4h0M237.0 658.4h0M186.5 628.4h0M220.7 676.5h0M169.4 630.3h0M235.3 640.0h0M193.1 710.5h0M206.7 661.2h0M189.7 688.4h0M184.1 647.0h0M226.6 659.1h0M213.4 672.2h0M179.4 720.5h0M194.8 702.1h0M216.3 686.7h0M230.0 644.2h0M185.5 647.3h0M188.5 690.1h0M204.2 626.2h0M198.0 693.9h0M178.6 666.1h0M210.0 636.4h0M178.7 648.3h0M200.7 694.8h0M225.2 673.0h0M223.0 655.6h0M191.0 667.6h0M208.1 685.4h0M225.0 633.4h0M174.9 651.2h0M200.5 641.3h0M192.5 673.9h0M186.9 681.6h0M217.3 628.1h0M176.7 651.8h0M198.2 636.8h0M212.7 678.1h0M188.5 644.5h0M233.4 665.0h0M192.7 693.6h0M185.3 676.6h0M223.9 641.6h0M201.4 648.5h0M230.2 636.4h0M197.5 647.1h0M224.3 654.4h0M178.2 705.6h0M188.0 699.2h0M215.9 657.5h0M193.3 669.2h0M187.1 660.5h0M186.8 694.8h0M191.8 662.3h0M195.2 645.7h0M189.4 676.7h0M191.0 684.9h0M222.4 649.3h0M205.2 668.3h0M213.3 640.3h0M201.7 641.9h0M200.1 636.1h0M206.7 663.1h0M207.0 626.7h0M202.9 629.9h0M185.9 721.2h0M170.8 655.6h0M169.4 648.1h0M179.4 689.2h0M175.1 661.6h0M200.7 686.2h0M220.2 679.4h0M194.0 696.9h0M203.3 677.6h0M198.6 687.7h0M196.4 700.2h0M224.6 658.8h0M223.9 648.0h0M225.2 670.0h0M204.2 653.0h0M179.6 645.3h0M187.4 718.3h0M199.9 640.0h0M199.4 664.4h0M200.1 667.8h0M209.1 682.5h0M207.1 649.9h0M236.0 657.2h0M192.6 679.2h0M231.4 641.8h0M222.8 639.7h0M202.2 670.6h0M177.1 647.1h0M181.5 675.3h0M188.1 720.4h0M219.1 657.0h0M190.8 639.7h0M216.5 660.1h0M195.6 698.1h0M193.1 648.2h0M188.7 705.3h0M165.5 643.4h0M212.0 651.4h0M174.3 628.4h0M223.4 661.6h0M229.0 648.4h0M179.1 642.9h0M203.3 656.2h0M178.0 650.6h0M194.5 689.2h0M197.9 684.5h0M175.3 663.1h0M201.4 667.1h0M199.6 655.1h0M191.5 641.7h0M201.2 663.6h0M178.3 659.8h0M233.0 657.2h0M219.2 648.2h0M219.4 658.6h0M186.5 646.3h0M228.0 649.7h0M232.0 658.9h0M217.6 640.7h0M194.9 683.8h0M183.3 703.4h0M184.8 694.3h0M223.5 632.6h0M177.2 622.0h0M194.2 679.2h0M191.1 712.6h0M184.4 681.6h0M232.7 654.3h0M171.4 633.1h0M219.1 663.6h0M170.1 638.6h0M198.5 671.0h0M239.2 653.8h0M238.4 643.7h0M182.5 680.9h0M179.1 646.6h0M182.9 673.0h0M177.8 643.6h0M226.5 672.6h0M352.6 641.1h0M361.8 568.8h0M351.3 617.6h0M366.2 597.5h0M355.5 647.6h0M336.9 577.6h0M310.1 586.9h0M306.5 610.1h0M285.1 603.6h0M367.1 669.0h0M305.3 621.4h0M358.3 580.7h0M369.0 570.8h0M390.2 611.5h0M346.4 570.9h0M382.2 648.5h0M351.8 607.9h0M296.8 574.6h0M384.0 615.2h0M357.2 610.9h0M328.5 570.5h0M298.4 567.1h0M349.9 573.0h0M355.0 589.2h0M355.1 593.3h0M376.3 587.4h0M326.9 616.8h0M353.8 596.9h0M376.0 656.8h0M310.6 566.2h0M325.7 594.7h0M291.0 569.5h0M346.7 574.8h0M323.0 584.6h0M364.3 641.3h0M337.1 579.2h0M341.4 584.8h0M352.3 656.3h0M392.6 624.7h0M324.1 581.3h0M386.5 654.5h0M303.0 589.5h0M337.8 619.6h0M351.5 643.4h0M299.7 599.1h0M346.6 680.9h0M301.4 606.7h0M323.4 614.9h0M391.3 629.0h0M344.2 639.1h0M356.8 672.8h0M324.2 558.5h0M352.0 577.5h0M378.7 595.1h0M323.8 601.1h0M344.1 573.7h0M374.0 670.3h0M296.8 619.1h0M368.5 649.4h0M331.3 630.8h0M325.9 618.4h0M377.3 596.7h0M291.4 582.0h0M336.3 642.3h0M278.1 608.9h0M340.1 655.3h0M284.5 589.6h0M377.8 590.3h0M377.5 639.1h0M364.2 578.4h0M390.9 617.7h0M357.5 650.7h0M322.0 600.4h0M359.0 675.0h0M312.2 575.8h0M329.6 561.9h0M382.2 609.3h0M320.8 557.4h0M356.1 614.9h0M383.6 599.3h0M329.7 584.9h0M339.3 606.2h0M358.8 596.2h0M303.5 581.9h0M391.7 612.3h0M292.4 611.9h0M328.3 584.5h0M302.2 609.1h0M295.9 605.8h0M361.4 575.0h0M397.6 616.8h0M341.2 571.2h0M332.3 608.8h0M398.6 610.4h0M367.1 575.5h0M312.9 596.7h0M382.7 651.8h0M299.4 578.6h0M327.5 606.5h0M394.8 608.7h0M373.4 603.5h0M332.9 557.5h0M298.9 593.4h0M361.2 673.5h0M376.6 668.4h0M318.0 568.5h0M336.6 622.4h0M333.2 657.1h0M388.1 655.6h0M351.6 561.4h0M375.0 609.1h0M371.3 655.1h0M368.2 640.3h0M357.9 628.2h0M360.5 584.1h0M337.1 611.6h0M356.4 649.7h0M345.9 638.5h0M381.0 627.9h0M300.6 567.2h0M354.3 643.2h0M353.4 605.0h0M361.9 581.5h0M316.5 576.1h0M340.7 617.2h0M317.9 562.1h0M313.7 593.4h0M346.9 582.0h0M376.0 600.0h0M367.0 567.7h0M330.0 631.0h0M329.5 607.2h0M336.7 649.7h0M358.8 661.3h0M369.1 663.7h0M321.6 616.5h0M355.7 654.0h0M339.4 565.2h0M324.1 575.6h0M383.6 652.8h0M320.0 604.9h0M385.3 638.4h0M335.3 603.4h0M348.0 596.3h0M346.1 606.2h0M371.0 641.5h0M347.1 685.5h0M355.7 682.1h0M317.3 558.2h0M288.6 581.6h0M393.8 619.4h0M301.7 605.5h0M353.9 587.4h0M300.8 595.6h0M285.7 597.2h0M361.1 628.7h0M368.4 598.1h0M327.2 585.9h0M335.7 564.1h0M352.1 680.0h0M344.2 686.6h0M363.9 625.5h0M355.0 586.9h0M338.6 641.1h0M400.3 615.1h0M311.9 568.6h0M304.9 561.6h0M387.3 628.4h0M372.8 665.1h0M362.3 646.6h0M358.9 611.2h0M343.0 617.0h0M331.5 589.7h0M311.4 616.7h0M289.0 569.8h0M331.9 638.4h0M404.8 611.6h0M350.0 614.0h0M345.8 583.5h0M351.3 610.1h0M284.0 598.3h0M366.5 588.1h0M383.9 655.0h0M365.1 614.1h0M296.8 570.6h0M382.7 629.1h0M370.3 603.8h0M358.2 598.4h0M361.6 660.0h0M287.1 587.9h0M294.9 565.1h0M350.1 627.1h0M285.4 615.3h0M371.9 638.8h0M368.6 674.4h0M293.9 572.2h0M372.2 647.4h0M282.8 586.1h0M334.6 600.5h0M313.6 598.7h0M380.1 595.4h0M369.1 679.5h0M308.6 609.9h0M365.5 592.6h0M292.0 620.6h0M360.1 658.7h0M332.1 573.1h0M352.5 652.3h0M366.8 595.4h0M309.3 566.8h0M360.3 596.4h0M339.9 643.1h0M370.4 615.9h0M342.8 573.3h0M356.1 659.2h0M351.0 606.6h0M332.9 636.2h0M334.8 649.4h0M341.8 676.9h0M311.6 589.8h0M377.0 623.8h0M329.8 621.8h0M380.2 598.0h0M286.7 573.2h0M376.2 591.7h0M316.6 598.8h0M331.7 626.0h0M383.0 644.1h0M356.7 676.0h0M367.7 667.0h0M356.5 645.0h0M383.4 613.9h0M370.2 577.8h0M326.7 578.1h0M367.3 608.2h0M306.2 566.6h0M343.8 563.1h0M304.0 569.5h0M385.9 628.8h0M321.7 589.5h0M355.5 578.4h0M373.8 605.0h0M367.4 620.5h0M338.6 603.7h0M283.8 610.0h0M353.6 602.3h0M355.9 640.5h0M301.9 614.0h0M338.1 630.9h0M301.9 602.7h0M329.3 624.9h0M355.7 637.4h0M343.7 666.1h0M383.9 602.0h0M335.3 578.4h0M335.7 599.5h0M346.6 621.8h0M374.5 667.9h0M288.1 568.4h0M335.9 561.1h0M380.1 630.9h0M279.2 599.5h0M346.3 569.1h0M347.8 622.5h0M318.5 611.9h0M362.0 608.4h0M352.0 584.3h0M331.0 601.1h0M327.3 612.1h0M353.1 650.2h0M331.6 628.0h0M349.0 595.0h0M363.1 586.5h0M342.0 601.2h0M358.3 604.4h0M339.9 636.2h0M294.0 597.5h0M359.2 683.6h0M326.4 571.0h0M373.0 582.8h0M358.2 573.9h0M287.8 567.2h0M365.8 618.5h0M319.3 574.1h0M349.4 596.6h0M369.4 589.2h0M365.9 633.4h0M315.8 601.8h0M359.1 645.3h0M375.4 653.9h0M352.4 689.1h0M348.3 571.5h0M339.7 598.7h0M387.5 624.5h0M363.3 672.2h0M283.9 617.1h0M373.1 636.6h0M367.8 664.8h0M387.4 609.7h0M379.9 590.0h0M360.4 568.9h0M382.8 607.0h0M318.5 624.3h0M367.5 580.0h0M381.0 656.1h0M343.9 682.3h0M357.9 667.0h0M363.9 580.2h0M316.9 560.8h0M371.0 596.4h0M309.6 609.0h0M348.4 584.9h0M301.6 585.3h0M332.7 654.8h0M401.1 617.8h0M322.7 602.0h0M292.3 568.2h0M348.8 619.0h0M345.9 672.8h0M347.6 671.2h0M363.5 568.8h0M351.6 638.0h0M389.6 604.7h0M336.0 586.0h0M299.2 565.5h0M404.9 604.3h0M325.3 583.5h0M314.9 598.6h0M393.4 629.8h0M351.8 597.6h0M288.4 573.2h0M294.9 612.3h0M364.4 565.2h0M311.0 621.1h0M362.4 598.7h0M314.8 612.0h0M344.9 579.7h0M375.3 639.0h0M386.3 640.9h0M344.9 652.2h0M353.6 671.4h0M282.8 591.6h0M314.3 580.7h0M354.4 628.2h0M295.7 599.0h0M350.0 640.5h0M365.5 604.7h0M289.7 595.8h0M371.6 605.9h0M365.9 662.7h0M365.1 673.1h0M291.8 598.9h0M323.6 623.7h0M339.2 567.9h0M312.7 573.2h0M375.3 643.6h0M388.6 617.9h0M299.3 583.5h0M384.7 648.5h0M402.2 607.9h0M385.8 652.4h0M365.8 603.1h0M323.1 617.4h0M299.1 586.4h0M346.2 628.1h0M356.3 690.7h0M347.3 642.3h0M352.1 573.1h0M332.6 562.0h0M386.0 611.0h0M362.1 578.1h0M367.7 670.9h0M281.4 586.1h0M366.1 581.8h0M295.5 617.2h0M317.3 620.5h0M337.8 594.6h0M379.2 588.6h0M350.4 631.3h0M370.2 623.3h0M380.0 611.1h0M322.5 593.8h0M318.4 617.0h0M330.2 614.2h0M364.9 598.7h0M345.7 671.2h0M378.5 662.4h0M307.5 594.0h0M359.7 627.3h0M401.5 605.8h0M333.0 559.9h0M307.5 565.7h0M338.0 599.1h0M278.3 606.9h0M328.4 591.3h0M374.5 649.1h0M359.9 616.1h0M285.7 616.7h0M384.2 646.1h0M320.0 576.6h0M309.6 573.9h0M317.7 589.0h0M396.9 606.3h0M387.8 629.7h0M335.7 631.4h0M357.9 639.5h0M373.8 634.2h0M302.6 604.5h0M293.0 585.0h0M288.5 579.9h0M288.5 600.5h0M345.9 643.3h0M338.6 570.4h0M322.6 610.2h0M291.7 585.5h0M365.1 573.5h0M345.6 626.2h0M362.3 614.1h0M303.9 595.3h0M285.3 618.6h0M372.4 599.5h0M318.3 603.6h0M294.0 567.6h0M346.9 617.5h0M365.8 674.3h0M347.8 593.4h0M388.5 603.2h0M332.0 604.0h0M407.8 611.3h0M357.4 567.2h0M294.4 621.5h0M339.6 670.1h0M379.6 654.4h0M328.7 593.3h0M377.5 660.4h0M304.3 609.1h0M364.9 569.9h0M360.8 668.1h0M360.0 620.5h0M354.5 620.0h0M353.2 566.8h0M386.2 637.4h0M363.3 658.5h0M302.7 592.8h0M302.9 622.2h0M341.6 669.7h0M373.0 673.0h0M324.0 606.5h0M338.8 668.0h0M361.9 566.7h0M341.2 587.4h0M322.6 619.9h0M380.3 648.6h0M342.8 611.4h0M304.5 566.5h0M308.7 590.2h0M301.4 588.6h0M339.1 588.2h0M395.0 620.8h0M369.7 630.3h0M300.6 598.1h0M307.9 570.8h0M303.7 603.7h0M383.8 641.9h0M350.4 647.1h0M375.7 660.7h0M311.1 610.7h0M304.0 617.8h0M318.1 560.4h0M301.0 603.7h0M367.2 582.4h0M296.2 591.9h0M310.7 595.8h0M367.3 658.5h0M291.7 580.1h0M355.8 661.6h0M402.1 612.2h0M340.1 633.6h0M377.6 632.9h0M385.6 630.9h0M359.5 574.0h0M339.3 586.3h0M370.1 609.1h0M281.0 609.3h0M324.7 626.2h0M364.6 612.4h0M354.5 648.8h0M325.8 588.7h0M349.2 599.2h0M294.6 610.9h0M362.9 688.4h0M335.1 651.6h0M335.8 654.1h0M366.7 646.6h0M297.0 607.9h0M292.6 583.4h0M345.8 644.7h0M334.9 666.5h0M347.7 646.3h0M349.8 658.2h0M356.2 576.6h0M343.9 658.4h0M303.9 560.4h0M379.1 633.0h0M370.5 600.6h0M303.1 613.2h0M298.8 590.9h0M343.5 584.2h0M311.6 580.5h0M353.9 574.2h0M307.2 612.7h0M349.0 683.7h0M349.9 633.5h0M350.1 672.9h0M362.6 664.0h0M281.1 612.3h0M298.6 582.1h0M342.6 619.7h0M389.5 631.5h0M335.0 615.0h0M307.7 606.0h0M362.1 602.4h0M380.4 642.3h0M356.8 670.4h0M277.6 594.3h0M362.9 600.6h0M289.3 578.5h0M289.3 583.8h0M369.0 574.2h0M373.1 669.3h0M327.6 619.1h0M323.6 569.1h0M384.5 635.2h0M363.8 601.9h0M348.9 660.1h0M330.4 620.1h0M351.0 589.2h0M315.0 567.3h0M338.5 582.5h0M404.2 613.8h0M348.9 587.1h0M402.8 615.5h0M386.7 643.2h0M303.5 563.2h0M351.9 569.0h0M361.4 679.4h0M334.9 596.9h0M381.8 641.9h0M313.0 617.7h0M332.9 570.5h0M374.8 584.0h0M283.7 587.8h0M385.1 654.3h0M386.3 605.8h0M314.9 596.3h0M386.9 638.7h0M382.5 605.7h0M374.9 644.9h0M348.8 668.6h0M350.3 587.6h0M369.0 616.3h0M337.9 661.9h0M322.8 570.3h0M381.1 640.6h0M372.9 576.4h0M357.0 613.5h0M364.0 659.7h0M349.3 612.7h0M360.7 598.9h0M342.1 661.7h0M365.7 625.0h0M357.0 668.4h0M309.0 621.2h0M333.0 575.9h0M286.7 615.8h0M373.7 586.6h0M368.9 584.3h0M333.1 633.2h0M391.4 625.1h0M282.0 589.3h0M310.9 584.3h0M281.8 602.4h0M319.7 619.3h0M372.0 607.3h0M347.7 635.7h0M287.0 594.0h0M361.2 635.0h0M393.3 631.3h0M280.7 596.4h0M354.1 616.3h0M294.1 617.8h0M365.9 683.9h0M294.3 578.9h0M365.8 643.8h0M290.8 589.5h0M350.3 584.1h0M319.9 606.9h0M348.1 563.0h0M284.5 591.9h0M350.2 616.4h0M317.6 613.4h0M287.2 579.4h0M336.1 645.3h0M335.3 660.9h0M382.1 603.0h0M385.4 627.5h0M287.6 605.3h0M324.5 557.0h0M297.7 583.5h0M347.0 579.6h0M359.5 662.9h0M331.3 558.6h0M331.4 610.1h0M340.3 605.0h0M390.1 600.7h0M373.4 618.4h0M368.4 645.9h0M280.5 593.9h0M386.6 633.2h0M345.1 575.9h0M359.7 583.1h0M289.5 567.8h0M347.8 609.8h0M293.9 594.7h0M314.5 617.7h0M340.4 572.8h0M309.4 579.4h0M344.7 608.2h0M287.7 616.8h0M325.4 600.0h0M362.3 583.2h0M369.2 666.9h0M300.8 578.9h0M402.4 616.7h0M347.6 614.8h0M355.1 638.8h0M312.7 589.0h0M386.6 647.2h0M354.4 608.1h0M371.7 666.1h0M290.3 575.1h0M398.1 622.1h0M382.6 634.7h0M324.7 565.7h0M368.2 604.9h0M372.6 658.4h0M292.4 615.8h0M343.6 677.7h0M355.5 598.0h0M359.6 561.5h0M328.3 564.6h0M302.4 618.0h0M339.8 637.8h0M384.4 657.3h0M299.0 617.2h0M377.2 651.0h0M359.0 658.0h0M389.5 616.7h0M301.7 564.9h0M326.5 631.4h0M325.5 613.6h0M337.1 605.6h0M362.2 639.1h0M339.2 645.0h0M345.2 664.4h0M379.0 616.6h0M334.1 646.0h0M368.9 668.7h0M326.7 567.4h0M373.8 653.1h0M345.8 594.0h0M356.4 561.3h0M324.0 610.0h0M340.6 575.6h0M332.0 584.2h0M279.5 600.9h0M359.6 593.2h0M306.4 569.3h0M381.2 614.9h0M389.7 609.6h0M341.6 604.6h0M345.2 598.7h0M371.8 578.8h0M340.8 614.8h0M342.3 686.4h0M354.2 583.2h0M351.9 570.9h0M347.2 655.1h0M331.8 571.8h0M325.2 555.9h0M365.4 606.1h0M338.2 660.7h0M293.2 596.0h0M345.0 677.2h0M343.1 644.8h0M311.4 572.1h0M397.4 613.9h0M345.4 629.1h0M363.7 657.2h0M382.6 654.4h0M384.5 600.3h0M341.1 619.1h0M316.3 584.7h0M309.8 598.7h0M289.6 609.9h0M333.3 598.8h0M321.6 569.6h0M368.7 602.1h0M292.9 609.9h0M279.2 592.4h0M320.8 575.5h0M328.3 588.5h0M350.7 574.4h0M354.9 667.2h0M373.6 609.7h0M346.7 664.1h0M387.8 639.9h0M308.4 558.3h0M362.2 641.9h0M347.5 572.9h0M314.9 586.5h0M277.0 602.3h0M356.6 568.3h0M348.1 681.5h0M369.1 644.4h0M361.8 637.8h0M343.7 605.7h0M307.5 582.7h0M285.2 582.6h0M298.1 614.6h0M298.0 597.1h0M352.3 612.5h0M292.1 574.3h0M384.2 629.7h0M357.0 633.9h0M406.1 609.2h0M347.5 577.6h0M309.4 565.1h0M387.6 606.5h0M387.2 614.7h0M336.2 588.3h0M369.6 586.7h0M306.9 574.0h0M338.5 601.9h0M290.9 596.5h0M300.7 570.3h0M356.6 596.7h0M321.8 586.9h0M320.6 613.0h0M338.9 616.2h0M327.2 608.6h0M391.1 634.5h0M378.2 624.6h0M377.8 585.5h0M382.9 610.4h0M374.8 592.5h0M343.8 651.5h0M291.8 593.8h0M336.0 572.9h0M321.3 618.1h0M288.0 610.5h0M282.6 610.7h0M342.7 564.2h0M318.0 563.7h0M312.1 582.7h0M356.0 610.3h0M401.3 619.5h0M361.8 599.8h0M290.3 601.6h0M344.6 641.6h0M355.5 669.2h0M323.7 585.7h0M347.1 587.7h0M371.4 633.3h0M291.5 587.8h0M298.5 599.9h0M369.2 653.7h0M296.9 564.3h0M371.7 631.1h0M291.5 564.0h0M326.0 604.5h0M369.0 676.5h0M381.2 666.7h0M365.4 626.7h0M324.3 573.3h0M335.1 589.8h0M315.1 563.3h0M330.3 588.2h0M368.9 682.4h0M295.6 587.8h0M326.1 607.6h0M353.3 590.1h0M349.2 629.5h0M291.6 578.1h0M350.3 679.9h0M297.0 589.1h0M350.5 662.1h0M295.8 581.5h0M316.6 617.4h0M405.7 613.2h0M358.5 570.3h0M376.8 665.3h0M338.9 577.5h0M384.4 651.1h0M302.5 570.9h0M377.7 618.5h0M311.9 619.0h0M331.5 567.0h0M365.8 572.0h0M318.1 591.0h0M327.3 582.6h0M367.9 639.0h0M351.7 650.2h0M280.9 601.4h0M328.4 556.5h0M278.7 596.3h0M379.9 634.7h0M341.9 597.2h0M349.3 578.5h0M348.0 638.3h0M302.0 595.2h0M335.1 594.7h0M397.3 618.4h0M356.3 635.2h0M359.0 622.9h0M330.7 568.5h0M325.9 629.8h0M364.8 667.2h0M307.8 601.8h0M342.5 634.1h0M380.8 637.6h0M297.3 575.8h0M388.0 626.1h0M365.3 576.9h0M360.3 642.9h0M321.7 572.1h0M362.7 655.5h0M374.5 641.7h0M385.8 603.1h0M358.6 638.0h0M299.9 611.7h0M318.4 577.5h0M313.3 561.5h0M363.4 637.3h0M335.9 584.8h0M372.4 588.1h0M346.1 649.0h0M354.1 569.6h0M318.0 610.1h0M361.7 677.1h0M366.8 617.1h0M324.0 611.9h0M367.7 591.6h0M335.0 637.6h0M357.6 652.4h0M358.8 631.6h0M396.2 615.2h0M347.0 611.3h0M332.7 578.5h0M355.5 624.3h0M344.9 668.6h0M389.5 612.7h0M372.2 592.9h0M345.4 584.8h0M397.7 615.6h0M298.0 561.2h0M312.4 563.5h0M339.5 610.3h0M319.2 591.8h0M351.0 629.9h0M314.7 622.6h0M337.1 573.5h0M330.4 627.5h0M289.3 616.6h0M340.3 581.9h0M336.2 656.0h0M345.6 657.0h0M289.0 612.3h0M366.2 607.2h0M355.2 584.3h0M374.6 588.9h0M361.3 580.1h0M356.2 679.7h0M371.6 584.6h0M324.6 629.5h0M291.3 617.9h0M353.2 576.2h0M364.6 610.8h0M314.9 561.0h0M310.3 604.1h0M319.6 621.5h0M333.2 650.6h0M346.9 657.3h0M352.4 665.2h0M336.2 608.4h0M341.9 673.6h0M363.5 682.5h0M296.6 610.2h0M341.6 647.4h0M342.8 595.2h0M367.5 656.0h0M294.7 603.8h0M336.8 646.5h0M364.0 581.9h0M291.9 591.1h0M392.7 617.5h0M355.8 665.9h0M314.3 556.9h0M303.7 586.8h0M302.4 578.5h0M295.6 571.6h0M312.2 584.9h0M338.1 592.7h0M281.7 598.0h0M343.8 570.4h0M383.7 619.0h0M330.9 561.7h0M339.0 591.7h0M362.3 595.0h0M378.4 611.1h0M372.2 600.8h0M363.6 635.5h0M342.5 664.8h0M373.4 593.4h0M344.1 612.8h0M332.7 649.1h0M298.5 618.4h0M312.9 612.0h0M343.5 580.1h0M319.1 589.4h0M382.0 638.5h0M300.5 600.2h0M337.5 656.6h0M403.4 603.6h0M325.7 590.0h0M285.8 575.0h0M354.8 614.9h0M349.9 664.1h0M339.6 583.3h0M300.6 565.5h0M320.3 564.7h0M309.3 563.5h0M283.5 600.8h0M359.5 635.7h0M382.7 636.0h0M385.8 600.7h0M304.4 602.1h0M361.0 618.8h0M358.6 654.3h0M329.3 610.5h0M287.3 603.7h0M329.4 623.2h0M352.9 627.6h0M356.3 678.1h0M386.2 634.8h0M351.9 675.0h0M300.9 572.8h0M306.7 608.7h0M372.1 619.2h0M377.3 648.0h0M373.7 639.3h0M332.7 629.7h0M340.6 622.3h0M383.7 638.1h0M343.6 624.5h0M355.0 650.3h0M307.3 611.2h0M388.2 641.8h0M369.4 613.3h0M304.8 591.4h0M319.5 562.1h0M328.6 634.3h0M353.1 631.2h0M304.9 570.4h0M314.7 574.4h0M370.0 627.5h0M342.5 623.4h0M322.3 573.7h0M341.4 591.2h0M354.1 595.6h0M322.2 557.4h0M361.8 645.3h0M352.2 645.9h0M286.3 576.8h0M337.8 633.3h0M286.2 607.6h0M347.2 648.3h0M329.7 605.7h0M305.1 618.9h0M298.6 620.8h0M340.8 664.3h0M346.8 631.7h0M371.0 593.8h0M344.8 578.1h0M370.9 659.5h0M311.9 614.0h0M320.1 586.9h0M404.2 607.6h0M388.1 623.0h0M363.4 576.9h0M365.6 594.5h0M353.7 634.7h0M284.5 611.2h0M354.2 656.9h0M360.6 606.0h0M294.8 577.2h0M313.7 601.7h0M360.5 613.3h0M344.4 615.9h0M288.9 620.9h0M372.2 594.5h0M352.0 598.9h0M348.4 661.4h0M322.1 613.3h0M351.5 625.5h0M361.9 683.3h0M359.3 618.4h0M386.1 623.4h0M345.4 617.2h0M320.9 610.7h0M317.4 593.3h0M373.2 591.8h0M364.7 680.8h0M377.3 627.2h0M279.0 590.3h0M341.0 683.8h0M352.7 663.5h0M332.2 569.2h0M326.4 574.8h0M340.1 563.8h0M350.4 591.1h0M369.0 619.0h0M339.2 676.4h0M374.7 587.4h0M300.4 617.0h0M387.7 604.7h0M326.5 562.0h0M366.3 634.6h0M384.9 609.2h0M338.9 652.9h0M307.9 577.9h0M306.6 590.9h0M307.3 598.4h0M360.1 603.4h0M303.9 576.1h0M324.2 591.3h0M310.1 618.3h0M337.5 562.2h0M371.2 591.4h0M378.5 615.2h0M342.7 606.7h0M348.7 667.3h0M287.6 591.6h0M338.1 564.7h0M309.6 597.1h0M344.0 655.4h0M345.0 645.9h0M380.6 612.6h0M300.7 607.9h0M384.1 625.0h0M348.4 679.2h0M339.1 575.9h0M357.0 575.7h0M361.0 663.5h0M362.0 573.1h0M329.0 577.7h0M388.0 653.4h0M340.4 561.6h0M399.9 617.2h0M307.2 557.8h0M296.5 620.9h0M282.9 590.1h0M398.2 619.8h0M381.5 597.2h0M364.0 676.0h0M357.6 635.8h0M357.2 685.0h0M330.6 563.9h0M282.3 606.2h0M340.0 613.6h0M392.8 634.0h0M333.7 624.7h0M346.9 688.0h0M333.9 575.0h0M359.9 646.6h0M336.0 610.9h0M326.5 621.0h0M294.4 562.6h0M282.7 593.7h0M348.9 615.1h0M365.4 596.1h0M341.7 659.8h0M308.2 608.5h0M329.5 567.3h0M386.8 601.8h0M356.6 623.4h0M387.1 616.2h0M315.3 603.7h0M328.6 572.5h0M367.3 593.5h0M374.4 625.3h0M345.2 591.7h0M359.1 567.7h0M333.4 584.1h0M317.9 598.7h0M340.3 674.9h0M366.6 576.6h0M388.6 627.3h0M281.1 587.9h0M344.9 680.3h0M381.8 632.5h0M375.8 662.4h0M324.6 567.9h0M351.0 682.7h0M381.6 599.2h0M380.1 645.1h0M351.5 676.2h0M374.8 600.7h0M386.4 621.8h0M374.7 597.1h0M330.0 580.9h0M346.4 596.7h0M378.2 603.3h0M321.3 607.0h0M389.8 621.4h0M358.8 669.5h0M301.3 619.4h0M306.4 601.7h0M339.2 654.2h0M339.4 595.3h0M333.2 587.9h0M337.4 584.3h0M285.1 613.8h0M370.1 637.8h0M378.9 635.6h0M329.1 618.9h0M365.6 640.9h0M376.6 609.1h0M358.7 678.6h0M389.4 633.4h0M379.0 661.1h0M369.0 634.4h0M360.7 576.6h0M377.6 613.5h0M392.9 626.4h0M373.1 662.7h0M394.0 601.4h0M345.2 661.4h0M347.7 640.5h0M360.3 654.4h0M349.8 635.2h0M337.9 588.9h0M334.2 593.2h0M278.5 603.5h0M358.1 642.2h0M281.5 614.0h0M340.8 623.8h0M311.0 560.8h0M340.4 625.2h0M407.3 608.0h0M340.3 589.9h0M365.1 647.6h0M354.9 674.8h0M374.4 630.3h0M317.6 596.8h0M361.3 681.2h0M357.4 630.6h0M333.8 602.2h0M360.9 669.6h0M298.2 563.8h0M391.7 605.2h0M379.3 664.4h0M334.9 657.9h0M316.4 597.3h0M317.3 556.0h0M349.0 671.0h0M358.8 634.2h0M341.8 566.8h0M357.4 625.1h0M365.4 668.9h0M370.2 665.6h0M293.1 564.3h0M395.8 623.2h0M399.7 618.7h0M286.3 596.0h0M370.6 583.2h0M285.5 598.6h0M308.2 617.4h0M373.5 606.7h0M317.2 615.5h0M364.0 639.2h0M323.2 564.9h0M358.4 636.7h0M358.8 681.5h0M375.9 670.0h0M334.6 630.2h0M318.6 582.5h0M360.1 680.9h0M358.7 651.2h0M328.5 566.3h0M357.3 687.9h0M325.3 562.8h0M352.8 618.9h0M287.3 575.7h0M305.5 560.5h0M323.4 583.1h0M362.2 570.9h0M351.7 635.1h0M379.8 626.5h0M319.4 556.7h0M346.1 668.2h0M317.3 573.7h0M366.9 640.6h0M365.7 623.7h0M368.1 590.1h0M349.0 639.3h0M289.3 588.8h0M361.5 562.8h0M336.0 580.7h0M382.7 640.9h0M305.4 578.9h0M369.4 592.8h0M317.6 618.2h0M306.9 616.7h0M298.5 568.7h0M403.4 611.7h0M366.1 615.6h0M381.2 604.4h0M398.8 614.9h0M329.2 568.5h0M290.8 592.8h0M352.8 658.0h0M373.6 613.8h0M384.9 597.9h0M336.5 597.7h0M323.6 577.0h0M382.0 645.5h0M341.5 564.9h0M344.1 643.5h0M341.4 645.0h0M353.1 669.0h0M371.9 675.8h0M380.1 608.7h0M335.9 574.4h0M353.3 609.6h0M324.4 560.1h0M341.5 607.3h0M278.8 602.0h0M388.9 636.7h0M358.6 624.6h0M309.2 593.0h0M286.2 581.5h0M394.4 617.3h0M378.9 612.5h0M352.5 672.0h0M349.5 589.4h0M308.8 591.8h0M292.3 592.6h0M345.0 618.6h0M313.9 616.6h0M303.0 572.7h0M346.2 616.0h0M362.0 576.4h0M379.1 621.5h0M375.0 635.9h0M336.6 638.2h0M334.3 585.9h0M313.0 566.2h0M366.0 609.5h0M299.4 601.1h0M346.2 572.2h0M363.7 663.1h0M324.2 570.8h0M336.7 571.1h0M371.1 667.7h0M324.4 603.8h0M325.1 619.8h0M305.9 568.0h0M288.4 606.6h0M376.7 622.3h0M351.9 582.3h0M380.7 661.3h0M346.3 651.8h0M303.7 579.3h0M368.7 658.0h0M351.6 605.2h0M301.0 593.3h0M352.7 673.7h0M350.6 618.7h0M288.6 599.0h0M355.7 590.9h0M402.1 614.0h0M344.1 629.9h0M389.5 596.7h0M319.6 603.2h0M304.6 593.0h0M357.2 621.9h0M361.7 685.9h0M377.8 601.1h0M371.1 575.1h0M313.1 610.7h0M327.7 614.7h0M348.5 677.6h0M379.5 613.9h0M316.2 589.5h0M330.7 652.1h0M354.7 658.1h0M301.6 582.0h0M334.6 559.3h0M359.7 644.2h0M382.2 657.5h0M352.2 659.1h0M358.7 565.4h0M347.7 676.0h0M302.7 600.4h0M337.4 651.1h0M343.6 567.3h0M376.2 659.0h0M351.2 657.0h0M344.2 611.4h0M314.0 609.8h0M369.8 649.8h0M375.3 616.1h0M291.7 605.5h0M342.5 657.6h0M369.4 632.0h0M377.5 670.1h0M310.5 575.7h0M286.8 619.8h0M345.3 666.3h0M314.0 621.1h0M282.4 582.5h0M364.7 643.0h0M365.7 583.7h0M344.1 586.7h0M384.8 618.1h0M376.7 640.6h0M349.6 676.1h0M407.9 606.6h0M331.8 619.9h0M336.1 624.8h0M358.5 586.6h0M385.5 616.2h0M352.0 586.7h0M297.4 580.1h0M325.6 584.7h0M370.5 621.6h0M304.3 614.7h0M336.3 635.6h0M363.3 573.3h0M383.9 649.4h0M353.0 621.7h0M347.7 606.8h0M342.9 627.7h0M343.4 609.5h0M352.9 642.3h0M383.4 663.5h0M399.3 603.3h0M359.1 648.2h0M330.7 582.3h0M295.9 567.0h0M334.8 584.1h0M373.2 650.8h0M331.1 585.5h0M345.9 609.8h0M377.3 598.7h0M367.0 614.1h0M357.7 658.3h0M305.7 592.4h0M356.5 603.7h0M346.4 630.5h0M375.3 632.1h0M349.1 562.0h0M341.4 671.2h0M334.1 629.1h0M350.6 601.1h0M376.9 671.3h0M337.2 607.1h0M389.3 620.0h0M343.1 591.8h0M354.6 573.1h0M362.1 672.2h0M367.1 681.3h0M325.6 558.1h0M363.1 615.4h0M351.8 563.4h0M320.7 583.4h0M379.7 636.9h0M364.1 679.7h0M367.2 662.7h0M332.2 624.3h0M340.1 660.2h0M342.6 578.5h0M340.7 641.2h0M375.8 606.9h0M375.5 629.6h0M359.0 599.6h0M351.3 666.7h0M358.7 670.8h0M359.7 679.4h0M342.1 613.2h0M321.7 566.9h0M346.6 600.4h0M369.2 626.3h0M327.0 622.6h0M390.7 606.1h0M330.0 603.9h0M315.3 583.5h0M340.5 668.8h0M338.0 643.5h0M352.4 634.0h0M362.3 648.6h0M279.8 588.2h0M370.0 576.0h0M306.3 618.0h0M343.8 598.3h0M304.7 597.8h0M364.6 653.7h0M338.4 579.7h0M301.9 590.6h0M345.7 589.9h0M329.5 555.7h0M378.8 641.2h0M375.9 634.9h0M349.3 644.7h0M294.9 615.2h0M380.2 600.8h0M305.0 606.0h0M314.6 566.1h0M296.5 603.4h0M347.3 653.2h0M370.9 572.2h0M338.9 620.3h0M362.1 651.0h0M281.5 607.2h0M329.0 590.0h0M295.8 593.1h0M335.4 628.2h0M311.8 622.4h0M398.2 607.4h0M335.1 613.7h0M371.1 614.1h0M313.5 606.5h0M310.4 613.0h0M393.6 599.6h0M322.3 598.8h0M376.8 655.7h0M378.9 644.7h0M321.0 603.4h0M290.5 618.9h0M348.4 568.3h0M342.8 660.5h0M295.1 602.5h0M350.9 565.2h0M372.3 625.5h0M333.5 573.2h0M399.6 621.1h0M328.9 586.2h0M376.0 637.4h0M403.1 609.7h0M320.8 614.5h0M343.5 656.7h0M377.6 616.6h0M350.7 654.3h0M305.2 575.6h0M337.9 612.8h0M351.4 677.6h0M293.1 601.0h0M329.0 557.7h0M363.3 622.3h0M334.6 605.8h0M306.0 586.9h0M348.6 579.6h0M361.6 615.5h0M362.8 626.7h0M384.4 661.2h0M321.4 579.5h0M342.7 615.1h0M316.3 612.2h0M387.2 630.9h0M315.6 593.6h0M334.4 655.9h0M299.1 570.2h0M386.9 618.4h0M379.1 667.9h0M324.2 608.1h0M325.5 615.4h0M362.8 685.1h0M346.7 591.5h0M338.6 574.2h0M299.3 577.2h0M293.2 591.6h0M290.2 577.3h0M314.4 576.1h0M384.3 658.6h0M378.4 591.6h0M340.2 646.6h0M319.8 601.7h0M337.3 620.8h0M343.9 588.1h0M316.2 580.4h0M332.2 622.9h0M313.2 603.0h0M295.8 613.8h0M343.8 672.0h0M359.8 664.6h0M332.5 618.7h0M384.8 620.6h0M325.8 572.1h0M395.0 612.3h0M345.7 586.8h0M312.4 604.7h0M303.2 567.5h0M338.1 628.5h0M314.3 605.5h0M348.8 576.0h0M320.1 600.2h0M366.5 665.2h0M354.2 688.3h0M377.7 621.4h0M360.4 639.3h0M291.0 614.4h0M396.1 610.1h0M367.2 644.4h0M354.9 635.3h0M367.3 650.2h0M343.1 603.6h0M350.4 576.9h0M352.0 587.9h0M394.0 614.7h0M294.0 608.0h0M307.7 603.3h0M299.5 605.7h0M378.0 587.7h0M350.3 669.1h0M288.5 594.8h0M360.5 592.2h0M297.0 598.3h0M310.8 608.5h0M357.8 646.0h0M325.0 616.9h0M307.1 563.4h0M313.4 623.4h0M286.3 592.5h0M293.8 619.7h0M327.7 603.3h0M393.8 611.7h0M324.8 578.9h0M310.6 563.5h0M374.1 626.8h0M355.5 634.1h0M338.5 622.4h0M372.4 585.5h0M362.3 611.1h0M326.3 591.2h0M348.3 688.4h0M331.5 596.7h0M355.3 565.4h0M350.1 649.1h0M338.9 597.1h0M358.8 688.4h0M330.5 592.1h0M383.0 661.9h0M362.6 617.0h0M355.4 630.5h0M340.7 609.0h0M357.1 578.6h0M360.3 666.2h0M334.3 653.0h0M329.7 600.4h0M361.7 592.7h0M365.3 566.6h0M340.8 678.4h0M336.3 592.3h0M301.5 558.7h0M343.1 681.3h0M322.1 577.2h0M376.5 612.7h0M357.1 590.2h0M366.3 678.3h0M313.6 560.0h0M348.2 602.4h0M381.0 591.4h0M335.5 562.6h0M287.7 585.1h0M371.9 621.1h0M343.2 687.4h0M344.3 670.2h0M369.6 655.0h0M296.2 578.3h0M387.5 657.5h0M346.1 683.8h0M357.4 569.7h0M377.5 606.4h0M311.3 601.0h0M399.0 605.8h0M336.6 661.4h0M314.2 573.1h0M369.2 660.9h0M373.6 600.1h0M307.5 589.9h0M327.1 584.0h0M341.7 580.6h0M314.1 600.4h0M345.8 612.2h0M331.4 576.5h0M322.9 561.1h0M319.5 616.4h0M394.8 606.4h0M328.0 601.6h0M329.5 633.2h0M307.0 614.7h0M355.1 579.8h0M369.4 569.5h0M373.3 640.5h0M301.6 566.4h0M334.4 632.2h0M325.2 596.6h0M364.6 619.2h0M346.6 662.7h0M362.5 630.5h0M356.2 583.3h0M290.4 598.2h0M354.8 659.9h0M308.9 576.1h0M343.6 633.2h0M367.2 624.0h0M317.4 608.8h0M290.9 608.1h0M393.5 609.7h0M367.7 643.1h0M365.9 619.8h0M355.6 619.0h0M290.8 579.2h0M354.4 652.4h0M336.3 600.7h0M290.6 599.6h0M332.1 602.5h0M360.8 586.7h0M314.8 579.1h0M299.0 613.5h0M384.9 640.8h0M357.9 562.3h0M322.2 605.3h0M365.2 636.6h0M365.1 663.7h0M376.5 649.9h0M367.4 615.8h0M335.6 607.2h0M357.2 617.3h0M352.5 660.5h0M387.2 611.6h0M307.3 559.9h0M368.8 617.6h0M340.0 639.7h0M363.2 669.5h0M334.5 569.9h0M338.6 634.5h0M385.0 613.1h0M341.7 635.2h0M370.9 636.6h0M311.1 578.4h0M285.7 580.0h0M347.6 672.5h0M286.8 598.8h0M349.9 570.1h0M293.1 602.5h0M368.6 678.1h0M388.3 634.0h0M367.9 653.3h0M377.8 645.3h0M340.9 680.1h0M337.7 614.8h0M295.5 583.3h0M352.3 611.0h0M330.9 611.5h0M288.7 563.7h0M290.9 567.6h0M361.5 640.7h0M358.0 665.2h0M372.1 602.1h0M339.1 658.6h0M346.3 658.7h0M363.7 648.2h0M320.9 578.2h0M309.4 605.2h0M306.7 621.1h0M342.5 667.0h0M295.1 580.2h0M345.4 682.0h0M339.7 672.4h0M296.0 608.7h0M383.3 633.4h0M370.1 620.4h0M366.7 628.7h0M332.8 565.0h0M319.2 572.3h0M344.7 623.5h0M300.5 591.1h0M356.7 626.3h0M361.4 656.8h0M390.6 598.6h0M346.9 623.6h0M334.4 654.5h0M366.8 660.9h0M319.2 599.0h0M356.6 573.1h0M344.9 582.4h0M351.0 690.4h0M310.2 600.4h0M290.9 616.0h0M360.8 652.8h0M376.5 666.9h0M329.6 583.3h0M295.1 596.7h0M289.1 602.4h0M349.8 642.8h0M309.6 588.5h0M384.3 610.3h0M377.5 643.7h0M307.7 587.4h0M313.3 614.9h0M291.9 607.1h0M320.8 563.2h0M384.6 607.0h0M363.8 651.3h0M304.3 572.5h0M294.2 599.0h0M343.7 662.7h0M373.0 644.5h0M353.7 665.5h0M316.4 588.1h0M366.5 564.9h0M373.4 596.3h0M320.4 567.6h0M390.8 615.1h0M380.5 623.2h0M339.2 666.5h0M331.1 615.8h0M401.0 622.8h0M349.4 687.5h0M371.1 626.4h0M363.2 618.6h0M357.7 674.5h0M337.4 586.3h0M379.8 606.5h0M403.3 605.2h0M386.5 626.4h0M357.0 601.7h0M297.6 591.5h0M352.4 575.2h0M356.5 599.6h0M322.9 603.3h0M314.5 619.3h0M364.9 671.6h0M356.1 631.9h0M367.1 586.9h0M361.9 666.3h0M289.0 618.1h0M352.8 585.4h0M341.5 654.9h0M344.7 637.9h0M337.5 637.2h0M361.2 594.1h0M302.8 598.4h0M321.9 582.6h0M371.0 573.6h0M333.3 621.9h0M307.4 576.2h0M363.3 632.7h0M384.5 623.3h0M352.2 564.7h0M317.8 586.0h0M310.1 585.5h0M305.5 585.5h0M314.5 607.6h0M308.6 612.5h0M289.0 586.7h0M366.3 569.8h0M396.5 624.4h0M348.1 634.3h0M367.3 578.2h0M363.0 585.2h0M343.2 575.4h0M373.8 628.4h0M341.4 638.8h0M366.7 573.8h0M284.1 594.6h0M345.3 662.9h0M331.6 613.9h0M376.5 605.4h0M360.3 651.3h0M345.3 632.5h0M326.4 587.1h0M378.6 598.1h0M316.4 619.3h0M358.4 588.3h0M375.5 651.7h0M393.8 605.2h0M357.4 678.9h0M392.1 623.3h0M309.2 560.3h0M285.8 609.8h0M288.7 576.4h0M324.7 598.8h0M318.7 559.2h0M342.3 678.1h0M379.4 624.3h0M302.9 616.6h0M350.9 686.9h0M367.5 570.1h0M328.0 595.8h0M376.4 601.6h0M345.4 636.4h0M337.8 568.7h0M341.4 578.8h0M352.2 655.0h0M298.9 574.6h0M341.6 593.8h0M359.9 636.9h0M304.9 616.5h0M346.4 580.7h0M296.9 584.8h0M396.5 612.0h0M293.4 576.9h0M368.8 623.1h0M310.9 569.8h0M336.9 653.2h0M299.6 603.2h0M350.9 568.1h0M374.7 590.2h0M341.9 621.3h0M357.6 592.7h0M347.5 567.1h0M345.9 561.7h0M382.1 595.1h0M370.6 602.0h0M381.9 659.4h0M335.7 659.4h0M337.9 572.3h0M349.5 623.3h0M352.6 616.8h0M369.6 633.3h0M335.3 576.6h0M293.0 569.9h0M362.6 653.6h0M360.5 676.3h0M306.9 604.8h0M288.0 571.4h0M381.5 610.7h0M305.6 594.6h0M359.1 577.7h0M345.7 685.7h0M396.0 617.8h0M372.2 611.2h0M359.4 659.9h0M386.1 609.8h0M365.4 650.8h0M343.8 646.0h0M341.8 560.4h0M334.0 634.4h0M390.6 671.8h0M387.8 676.1h0M395.7 659.0h0M393.9 661.8h0M390.0 663.4h0M387.2 673.4h0M393.5 666.4h0M395.6 657.7h0M393.2 659.8h0M394.8 670.4h0M388.3 674.7h0M394.1 668.5h0M395.2 666.8h0M393.5 658.1h0M390.8 661.5h0M391.6 659.1h0M392.1 660.5h0M388.2 672.0h0M389.0 664.5h0M394.3 664.1h0M362.5 543.6h0M322.3 541.5h0M275.8 543.4h0M321.6 497.2h0M349.9 515.2h0M314.7 509.7h0M294.7 529.0h0M314.6 499.1h0M360.6 542.7h0M301.2 518.1h0M334.5 513.8h0M324.3 536.3h0M306.3 515.8h0M285.2 540.8h0M346.3 535.1h0M341.7 533.3h0M352.9 546.3h0M311.6 507.3h0M355.9 515.0h0M316.4 544.6h0M283.3 550.1h0M320.1 544.6h0M311.6 499.5h0M318.9 496.5h0M322.6 532.9h0M323.6 514.0h0M317.4 543.5h0M275.8 546.9h0M307.6 521.6h0M314.3 544.0h0M306.3 504.8h0M307.7 544.4h0M293.7 539.0h0M320.9 526.4h0M287.1 548.9h0M365.2 527.3h0M345.4 505.5h0M335.2 505.2h0M277.2 550.6h0M347.4 551.3h0M330.3 529.5h0M348.6 515.7h0M356.8 532.8h0M285.9 537.3h0M334.1 538.9h0M299.5 530.6h0M338.1 497.7h0M345.4 539.4h0M282.9 552.7h0M310.2 521.7h0M268.9 545.9h0M318.9 525.2h0M344.0 516.8h0M304.7 510.7h0M313.8 516.0h0M337.3 532.8h0M323.3 527.8h0M345.7 544.4h0M325.2 510.5h0M322.3 500.8h0M302.8 543.5h0M284.5 535.1h0M329.1 543.9h0M353.4 526.1h0M296.4 544.9h0M317.1 498.5h0M341.8 527.1h0M310.9 539.8h0M351.2 534.0h0M346.7 518.9h0M306.7 517.4h0M314.2 506.2h0M343.2 527.6h0M312.3 536.8h0M332.7 531.6h0M360.3 529.0h0M324.6 501.5h0M317.0 524.3h0M298.8 541.1h0M270.3 553.5h0M347.7 532.2h0M352.8 528.7h0M322.1 537.4h0M303.8 537.7h0M351.6 521.9h0M316.6 504.7h0M360.9 537.1h0M283.7 542.6h0M321.9 517.8h0M351.0 516.9h0M309.3 511.0h0M318.7 511.3h0M335.4 543.8h0M341.5 503.4h0M311.0 525.9h0M355.3 533.1h0M281.0 553.2h0M317.1 496.4h0M323.1 508.0h0M277.1 547.8h0M328.7 507.8h0M330.6 531.3h0M351.0 518.4h0M321.6 494.3h0M330.8 539.0h0M359.1 538.0h0M346.3 511.3h0M309.0 536.2h0M297.6 538.9h0M337.3 538.6h0M272.4 552.4h0M313.0 504.9h0M279.2 548.3h0M329.7 532.8h0M351.1 530.2h0M350.2 549.6h0M359.3 524.1h0M339.0 537.7h0M348.3 522.1h0M317.9 533.7h0M339.6 550.3h0M304.9 536.5h0M324.6 528.8h0M335.1 525.3h0M340.1 510.5h0M347.7 510.7h0M282.6 538.6h0M323.9 532.3h0M307.7 509.1h0M312.0 524.1h0M293.9 532.6h0M320.0 510.4h0M333.2 535.9h0M328.5 500.2h0M339.1 505.0h0M311.0 529.9h0M298.1 525.7h0M311.9 503.5h0M313.7 521.2h0M339.5 548.8h0M332.6 506.4h0M357.8 555.6h0M331.3 547.4h0M345.9 548.4h0M361.1 530.6h0M316.7 500.0h0M362.4 529.2h0M304.0 525.6h0M334.9 535.1h0M351.5 507.3h0M336.4 526.1h0M364.2 551.9h0M304.5 521.5h0M319.4 527.0h0M338.2 520.9h0M338.5 507.2h0M306.1 519.5h0M343.7 513.0h0M330.8 536.5h0M333.7 499.9h0M336.7 549.0h0M349.3 520.9h0M317.6 546.1h0M308.6 506.2h0M292.0 545.8h0M326.8 510.1h0M339.1 515.5h0M350.4 526.8h0M333.7 519.1h0M325.9 500.0h0M324.9 540.7h0M276.1 545.5h0M356.1 534.2h0M320.6 537.6h0M291.4 538.8h0M344.6 528.2h0M333.1 530.1h0M295.5 543.5h0M357.4 552.3h0M345.0 509.6h0M305.1 502.1h0M350.4 551.7h0M308.1 525.3h0M319.2 495.2h0M286.4 533.3h0M317.0 514.7h0M323.2 502.7h0M312.3 525.4h0M278.2 545.9h0M325.4 526.9h0M312.3 533.6h0M327.0 516.8h0M310.6 509.0h0M328.3 526.8h0M315.4 528.1h0M351.9 511.6h0M304.9 533.6h0M337.9 509.4h0M365.0 534.2h0M355.9 553.2h0M349.4 547.0h0M313.4 546.4h0M336.4 512.1h0M326.9 536.1h0M294.8 530.8h0M322.0 509.4h0M340.3 507.3h0M274.4 546.0h0M328.9 531.6h0M309.0 541.4h0M314.6 539.1h0M319.8 531.4h0M342.6 521.3h0M325.6 520.7h0M272.0 553.9h0M336.9 502.0h0M337.7 511.7h0M358.7 542.2h0M316.9 509.6h0M278.7 555.4h0M353.1 543.1h0M347.6 516.7h0M345.3 526.7h0M354.9 517.6h0M343.3 518.9h0M348.7 540.3h0M336.5 537.3h0M302.5 527.2h0M354.1 550.9h0M319.9 500.8h0M281.3 542.1h0M348.5 530.6h0M310.6 503.7h0M297.7 535.9h0M353.3 534.3h0M355.4 549.9h0M303.6 532.8h0M313.3 501.2h0M349.9 553.6h0M349.8 541.8h0M349.0 519.5h0M356.6 527.4h0M273.3 549.2h0M334.7 537.5h0M333.8 503.5h0M321.5 506.6h0M358.3 530.2h0M339.6 530.2h0M349.8 508.5h0M361.5 533.6h0M340.6 543.0h0M290.7 532.6h0M351.6 513.3h0M310.7 519.5h0M321.2 536.0h0M272.0 548.3h0M329.7 509.7h0M340.2 516.2h0M299.7 542.6h0M330.1 505.2h0M286.4 544.0h0M301.9 514.6h0M330.1 511.6h0M296.9 533.5h0M350.4 532.3h0M306.2 533.9h0M309.8 514.4h0M340.7 549.3h0M304.7 516.7h0M335.5 498.6h0M304.5 530.8h0M330.3 523.3h0M335.9 531.8h0M293.8 534.0h0M326.1 529.8h0M307.5 502.6h0M314.1 530.0h0M340.7 501.4h0M337.0 515.2h0M354.4 522.7h0M351.0 538.4h0M290.9 534.9h0M365.1 554.6h0M345.7 530.2h0M325.7 493.7h0M328.3 495.5h0M326.9 496.3h0M313.4 524.5h0M333.3 495.9h0M354.3 518.8h0M306.4 506.5h0M354.8 509.2h0M305.8 528.8h0M299.7 535.8h0M309.2 523.7h0M354.4 513.1h0M330.3 521.0h0M355.3 531.6h0M312.7 520.3h0M325.7 497.2h0M337.2 499.4h0M309.1 544.6h0M335.1 508.2h0M313.2 511.8h0M352.5 541.3h0M346.3 536.5h0M270.1 551.2h0M274.7 554.2h0M356.4 509.5h0M321.3 508.0h0M318.4 500.8h0M331.0 514.0h0M281.9 554.6h0M334.8 547.6h0M331.9 528.7h0M314.4 540.4h0M337.6 528.7h0M319.1 542.6h0M284.4 537.3h0M304.2 542.4h0M296.5 529.9h0M316.4 512.6h0M345.4 550.4h0M350.1 545.1h0M354.5 545.4h0M303.7 519.0h0M328.9 540.0h0M314.4 517.5h0M310.2 512.1h0M309.2 530.1h0M357.3 524.4h0M329.9 503.0h0M362.4 555.4h0M335.9 510.7h0M352.4 519.7h0M338.8 522.1h0M339.1 519.8h0M281.8 535.8h0M322.5 525.1h0M348.0 525.7h0M346.3 523.1h0M327.4 512.9h0M303.1 531.5h0M301.1 529.7h0M321.1 511.4h0M341.3 522.9h0M353.7 554.7h0M308.9 527.9h0M323.2 522.1h0M275.1 549.5h0M332.8 513.5h0M314.6 534.6h0M310.4 538.5h0M304.1 505.8h0M331.2 500.1h0M361.4 522.6h0M308.6 538.9h0M332.1 510.2h0M324.6 515.5h0M305.4 544.4h0M321.7 539.6h0M364.5 553.3h0M343.6 539.4h0M312.6 542.7h0M327.3 504.2h0M312.9 518.6h0M313.3 539.7h0M350.7 512.2h0M349.5 522.7h0M348.5 514.3h0M296.4 542.4h0M300.4 526.5h0M318.5 544.5h0M310.2 532.5h0M331.4 541.4h0M294.3 540.3h0M319.2 515.1h0M338.9 500.0h0M275.5 552.9h0M282.4 540.6h0M329.8 534.6h0M295.3 533.4h0M332.0 508.6h0M336.2 541.9h0M298.1 527.5h0M314.5 531.6h0M307.4 527.3h0M349.1 551.3h0M347.8 549.5h0M325.1 507.1h0M318.3 521.3h0M352.8 537.8h0M308.8 520.3h0M366.0 537.4h0M273.4 551.3h0M317.4 535.3h0M361.1 555.0h0M337.3 523.7h0M358.8 528.5h0M284.2 539.3h0M339.7 542.2h0M345.6 512.6h0M335.0 520.5h0M359.5 516.0h0M351.5 529.0h0M296.2 536.2h0M337.6 547.6h0M340.6 547.3h0M315.8 519.9h0M305.9 503.4h0M357.9 543.4h0M280.1 549.4h0M344.2 504.3h0M366.9 556.8h0M321.5 534.7h0M289.7 540.4h0M359.4 552.5h0M347.0 533.9h0M341.8 540.1h0M339.4 502.3h0M354.2 507.2h0M300.8 527.9h0M342.2 542.2h0M311.0 514.9h0M307.8 513.6h0M335.1 502.9h0M320.9 496.2h0M352.3 544.8h0M354.7 530.5h0M336.0 539.6h0M329.6 527.3h0M285.6 549.6h0M342.9 523.5h0M336.9 521.3h0M289.5 547.4h0M341.6 513.2h0M296.0 540.6h0M349.0 527.6h0M343.0 537.2h0M333.7 524.8h0M304.7 520.0h0M302.3 522.9h0M323.2 517.2h0M350.4 519.8h0M344.4 548.9h0M347.1 540.1h0M320.0 522.2h0M306.8 543.4h0M339.5 533.8h0M343.5 507.9h0M338.5 541.2h0M326.1 525.9h0M366.5 554.4h0M334.1 517.9h0M316.2 526.0h0M352.0 523.5h0M319.7 528.9h0M347.1 547.6h0M346.9 507.9h0M301.7 533.7h0M313.0 509.0h0M288.9 535.6h0M319.1 498.6h0M313.7 514.7h0M302.8 542.1h0M328.1 515.8h0M331.4 501.8h0M345.2 543.1h0M313.9 497.3h0M345.4 521.0h0M293.1 536.7h0M310.7 498.1h0M280.0 554.7h0M280.7 551.2h0M359.5 540.9h0M357.1 554.1h0M313.9 507.7h0M296.0 531.2h0M306.7 501.5h0M307.6 516.0h0M305.4 514.1h0M301.1 539.6h0M367.0 558.2h0M315.1 512.2h0M336.2 534.7h0M353.8 510.9h0M330.9 524.4h0M286.3 552.3h0M318.5 528.4h0M330.1 495.2h0M306.7 536.6h0M333.2 547.8h0M275.9 555.6h0M303.3 539.7h0M319.0 503.3h0M326.7 545.3h0M332.3 540.4h0M332.2 516.5h0M325.4 534.3h0M342.3 529.1h0M283.2 547.6h0M299.6 528.9h0M281.9 543.3h0M323.2 518.5h0M336.2 509.2h0M315.8 506.6h0M318.5 507.7h0M282.1 556.4h0M313.2 523.3h0M327.2 500.9h0M293.2 542.3h0M359.5 518.7h0M318.1 532.1h0M310.3 517.8h0M355.7 540.8h0M324.9 505.6h0M350.6 535.9h0M344.8 507.0h0M326.8 502.7h0M330.0 542.4h0M362.8 550.4h0M316.4 538.6h0M359.2 556.7h0M352.6 554.0h0M310.3 541.4h0M361.0 535.4h0M331.8 521.0h0M320.2 541.9h0M358.5 513.7h0M287.0 538.9h0M321.3 515.9h0M314.0 536.9h0M298.7 532.6h0M277.4 543.9h0M357.3 540.2h0M352.9 530.7h0M301.0 544.7h0M352.1 526.1h0M337.9 503.1h0M339.3 517.2h0M341.8 519.9h0M319.9 508.1h0M300.4 516.6h0M323.9 500.3h0M327.0 537.8h0M343.3 551.2h0M289.8 536.5h0M314.5 526.8h0M333.9 505.1h0M328.5 529.5h0M308.2 529.2h0M327.1 508.6h0M357.9 526.7h0M354.0 538.8h0M287.3 546.2h0M342.4 518.0h0M355.2 524.2h0M331.4 526.6h0M278.1 557.0h0M270.4 548.5h0M347.6 529.8h0M322.0 546.4h0M331.9 545.6h0M283.2 536.2h0M288.6 529.6h0M341.0 521.6h0M308.7 531.5h0M311.9 532.1h0M323.4 524.3h0M344.0 526.5h0M295.3 535.2h0M312.2 544.0h0M304.1 507.9h0M339.7 528.8h0M350.2 506.8h0M273.4 553.2h0M334.4 541.7h0M362.7 535.9h0M322.5 514.8h0M347.7 506.4h0M355.1 536.9h0M341.1 505.4h0M285.9 542.1h0M354.9 554.1h0M352.0 536.1h0M318.3 512.6h0M310.5 502.0h0M340.8 531.5h0M337.8 525.5h0M363.8 544.3h0M352.5 550.1h0M364.7 539.5h0M325.5 541.9h0M348.3 545.6h0M337.5 519.8h0M326.1 514.0h0M331.4 504.4h0M356.1 519.3h0M291.9 532.8h0M328.7 510.4h0M319.7 533.5h0M334.4 532.7h0M279.1 541.7h0M312.3 498.4h0M328.6 525.1h0M340.8 514.9h0M342.7 549.4h0M273.7 541.8h0M339.0 526.8h0M342.0 508.5h0M323.0 542.8h0M364.4 541.7h0M312.1 510.3h0M327.2 528.0h0M354.4 548.9h0M284.3 549.1h0M328.6 496.8h0M293.4 546.9h0M308.7 517.4h0M326.9 543.3h0M310.4 531.1h0M329.2 535.8h0M318.1 530.5h0M361.5 557.8h0M329.7 525.8h0M367.2 553.4h0M350.4 537.3h0M343.2 511.5h0M312.1 515.8h0M366.4 551.9h0M276.3 551.9h0M328.7 506.0h0M339.0 531.6h0M323.2 520.4h0M322.2 531.6h0M337.9 536.0h0M350.0 533.5h0M293.4 527.6h0M349.4 512.6h0M324.4 494.0h0M314.4 520.1h0M357.5 508.0h0M345.7 516.8h0M355.5 511.0h0M321.1 500.1h0M316.0 515.7h0M349.1 504.8h0M308.8 505.0h0M332.8 522.8h0M302.8 524.4h0M313.1 517.2h0M317.7 516.4h0M298.8 538.0h0M352.8 552.4h0M306.0 526.0h0M316.1 531.5h0M290.4 545.2h0M339.7 508.8h0M344.4 540.9h0M340.8 536.5h0M307.7 519.4h0M333.5 528.3h0M268.1 548.7h0M353.8 532.8h0M339.6 503.7h0M322.7 535.7h0M358.3 551.4h0M351.2 541.3h0M351.3 546.9h0M284.1 545.4h0M308.9 534.8h0M362.1 542.3h0M279.8 537.8h0M323.9 530.9h0M337.3 542.7h0M341.3 511.4h0M326.9 533.0h0M321.6 505.3h0M361.3 539.4h0M321.9 527.3h0M323.4 538.0h0M316.1 536.3h0M312.2 539.0h0M322.3 513.3h0M315.1 502.7h0M289.7 534.0h0M447.6 599.2h0M407.3 559.8h0M471.0 510.6h0M423.7 528.7h0M458.1 528.3h0M530.6 544.9h0M539.2 508.5h0M473.0 568.6h0M491.5 546.9h0M519.8 568.5h0M476.4 571.9h0M543.5 522.8h0M406.2 536.6h0M466.6 523.5h0M425.6 572.0h0M445.4 603.7h0M440.4 521.7h0M514.7 594.3h0M456.9 509.8h0M437.9 520.5h0M448.8 550.2h0M382.7 555.1h0M411.5 526.6h0M475.4 551.3h0M403.1 502.0h0M471.8 560.7h0M366.4 528.2h0M548.8 504.8h0M394.1 594.8h0M387.8 532.5h0M498.8 570.9h0M469.1 513.0h0M375.9 527.4h0M562.5 537.1h0M348.2 508.6h0M527.6 569.0h0M406.7 531.3h0M506.5 530.1h0M383.6 549.9h0M521.8 585.3h0M566.7 542.3h0M495.4 565.8h0M456.5 564.4h0M381.4 563.2h0M420.0 559.6h0M503.9 579.8h0M432.4 543.5h0M495.3 546.4h0M492.3 578.4h0M382.1 505.7h0M494.2 511.0h0M506.1 559.3h0M379.8 531.1h0M386.6 578.4h0M509.4 579.1h0M368.7 536.8h0M417.1 512.5h0M472.2 524.8h0M561.2 544.0h0M401.7 526.6h0M439.2 514.5h0M452.5 552.3h0M508.5 573.3h0M462.9 539.4h0M542.7 524.2h0M395.3 583.4h0M394.4 558.1h0M372.3 554.5h0M370.9 562.4h0M389.8 524.9h0M556.0 525.6h0M497.0 526.6h0M372.6 538.6h0M535.8 501.6h0M397.5 531.2h0M525.9 561.3h0M498.5 620.4h0M381.1 517.6h0M523.2 570.5h0M386.8 536.0h0M449.8 568.3h0M400.6 537.3h0M476.1 583.6h0M522.7 567.7h0M426.6 578.9h0M375.2 545.1h0M448.2 574.3h0M531.8 558.5h0M514.1 570.7h0M507.4 544.6h0M433.4 546.3h0M388.3 534.5h0M478.7 507.1h0M379.3 556.5h0M379.0 520.0h0M384.1 509.2h0M446.4 533.9h0M388.4 580.2h0M463.4 583.2h0M389.4 516.3h0M407.6 541.2h0M567.0 529.5h0M400.8 510.0h0M506.6 537.9h0M393.7 563.8h0M501.9 554.7h0M493.2 498.7h0M476.6 517.1h0M565.8 534.9h0M484.2 618.9h0M415.1 576.9h0M351.7 532.8h0M459.9 590.0h0M463.3 595.3h0M354.5 562.6h0M453.1 549.6h0M436.8 552.6h0M527.4 559.5h0M386.8 502.0h0M513.8 586.4h0M447.4 597.4h0M485.0 590.2h0M568.3 537.5h0M556.7 506.7h0M383.7 534.3h0M385.3 524.5h0M435.1 577.2h0M565.1 533.3h0M563.1 509.1h0M422.5 580.7h0M377.2 512.9h0M523.0 543.4h0M495.8 590.8h0M365.5 568.5h0M343.1 530.5h0M474.1 535.2h0M514.7 547.0h0M344.1 538.2h0M448.3 591.4h0M443.1 589.3h0M447.4 509.0h0M453.4 533.1h0M472.2 594.5h0M503.7 539.5h0M437.7 522.0h0M562.0 526.2h0M401.5 520.3h0M477.2 503.5h0M416.7 551.2h0M541.8 566.3h0M389.5 586.2h0M564.5 540.2h0M384.3 537.4h0M499.9 621.7h0M566.5 532.9h0M383.3 519.2h0M411.0 594.5h0M372.1 506.0h0M503.5 546.5h0M423.3 581.7h0M491.7 605.5h0M465.7 529.5h0M502.7 528.5h0M428.6 577.9h0M407.0 587.5h0M472.7 564.5h0M494.9 584.1h0M475.0 533.4h0M449.3 533.0h0M462.9 507.4h0M493.1 526.0h0M407.4 598.4h0M504.6 519.2h0M442.4 546.2h0M396.1 570.5h0M520.3 552.3h0M456.8 553.8h0M452.5 528.6h0M535.7 503.1h0M367.3 544.5h0M373.9 566.1h0M470.8 547.7h0M476.3 596.9h0M485.8 510.3h0M430.5 563.4h0M526.6 527.0h0M404.2 602.7h0M532.7 526.7h0M455.7 558.7h0M436.2 503.1h0M491.7 526.2h0M469.1 546.2h0M563.7 520.9h0M404.9 509.0h0M492.4 512.2h0M464.2 541.6h0M377.9 549.4h0M449.3 546.7h0M536.8 564.8h0M569.6 506.7h0M432.3 539.4h0M440.9 567.4h0M378.3 528.0h0M550.0 523.0h0M516.7 566.7h0M439.1 528.4h0M568.1 518.6h0M493.0 551.0h0M558.4 520.6h0M492.7 613.9h0M518.8 537.3h0M530.0 563.7h0M495.7 498.8h0M490.6 616.7h0M450.7 556.8h0M435.1 588.1h0M513.1 536.1h0M560.7 524.4h0M397.5 583.8h0M392.1 501.8h0M512.4 523.3h0M424.8 548.3h0M401.8 540.8h0M472.9 553.7h0M376.5 531.1h0M519.9 503.7h0M484.9 515.7h0M364.8 529.3h0M434.6 524.8h0M518.2 563.1h0M564.5 511.3h0M474.5 505.3h0M505.5 512.0h0M558.8 509.2h0M467.3 547.5h0M482.6 536.0h0M471.5 534.2h0M497.2 614.4h0M407.4 546.6h0M485.9 505.9h0M503.0 567.0h0M475.9 527.2h0M466.4 559.0h0M463.5 585.0h0M491.0 574.4h0M518.3 547.6h0M471.3 588.3h0M468.3 590.2h0M485.8 605.3h0M565.5 529.6h0M481.8 497.1h0M408.9 555.3h0M527.8 505.6h0M376.2 536.8h0M448.0 501.6h0M471.8 558.5h0M422.3 509.9h0M385.5 592.0h0M545.1 510.5h0M365.2 510.4h0M488.3 530.6h0M457.1 592.3h0M365.2 506.6h0M420.4 573.9h0M541.2 510.8h0M537.3 503.6h0M445.9 588.2h0M404.1 533.2h0M428.5 569.4h0M493.2 579.6h0M580.7 505.0h0M411.6 575.3h0M449.8 554.7h0M458.4 516.7h0M538.3 552.6h0M458.1 549.6h0M417.7 545.9h0M370.9 516.1h0M543.2 517.2h0M531.0 562.2h0M558.2 517.0h0M432.4 514.3h0M564.6 514.8h0M363.7 559.6h0M499.8 525.8h0M465.8 587.7h0M533.0 529.4h0M540.9 502.5h0M367.8 514.6h0M399.9 527.0h0M499.7 537.5h0M440.0 564.5h0M483.7 519.0h0M551.5 506.8h0M547.5 504.5h0M419.7 510.6h0M509.1 568.9h0M366.4 563.3h0M435.8 522.7h0M483.7 596.7h0M537.0 507.5h0M376.6 569.5h0M472.1 556.9h0M399.4 570.7h0M403.4 555.6h0M509.5 562.3h0M359.1 536.8h0M513.1 592.7h0M407.1 501.4h0M423.2 502.7h0M451.1 579.7h0M430.3 546.6h0M450.8 503.8h0M403.4 547.6h0M490.6 534.5h0M434.7 520.7h0M524.6 528.5h0M489.2 601.2h0M451.4 537.8h0M520.1 521.3h0M493.3 606.4h0M576.6 508.9h0M444.5 520.5h0M488.3 497.8h0M487.9 518.9h0M384.9 517.1h0M475.3 588.8h0M508.9 557.4h0M494.9 585.8h0M464.3 535.1h0M488.0 586.0h0M516.9 508.2h0M447.0 546.0h0M450.2 581.4h0M486.0 571.8h0M399.2 502.2h0M448.2 571.0h0M394.6 551.1h0M420.7 569.6h0M500.9 560.1h0M374.1 536.1h0M538.3 516.6h0M400.8 513.2h0M417.1 525.8h0M367.6 531.7h0M413.0 530.9h0M372.3 557.6h0M454.2 597.9h0M446.9 514.1h0M399.7 538.6h0M439.1 582.6h0M465.1 528.1h0M488.9 570.0h0M489.1 495.3h0M489.8 626.6h0M544.9 551.5h0M502.1 530.0h0M423.4 553.6h0M544.4 514.5h0M447.6 585.3h0M443.8 512.7h0M497.5 589.8h0M517.6 587.9h0M479.1 577.3h0M439.6 545.9h0M370.8 529.3h0M426.9 533.2h0M469.3 600.8h0M350.3 540.1h0M393.0 532.5h0M498.9 532.5h0M415.7 575.3h0M488.5 548.2h0M405.8 514.4h0M480.9 594.3h0M390.1 518.6h0M587.5 504.3h0M441.1 592.3h0M418.7 562.2h0M453.2 601.4h0M464.3 559.3h0M556.5 510.9h0M483.9 545.6h0M491.5 613.2h0M484.7 621.9h0M418.3 522.1h0M423.3 516.6h0M513.2 528.1h0M516.4 501.6h0M486.1 557.9h0M425.9 515.6h0M454.5 578.6h0M491.4 513.4h0M369.0 528.8h0M399.5 598.8h0M361.1 518.6h0M568.7 510.6h0M520.6 576.7h0M584.2 510.7h0M514.5 548.3h0M504.4 549.6h0M518.5 554.3h0M425.9 535.1h0M398.5 582.0h0M525.4 531.9h0M446.1 507.3h0M418.7 556.0h0M445.1 523.9h0M525.1 503.9h0M409.4 533.3h0M530.1 532.8h0M534.6 568.1h0M469.5 524.8h0M444.2 529.1h0M496.7 528.2h0M506.6 592.7h0M535.1 510.1h0M410.8 532.8h0M445.4 611.4h0M560.0 516.4h0M530.9 514.7h0M497.9 522.9h0M400.9 557.8h0M563.1 511.1h0M396.1 525.8h0M541.7 519.8h0M406.2 506.3h0M471.7 584.3h0M375.7 557.6h0M477.2 541.9h0M525.0 545.5h0M394.4 517.9h0M419.3 541.5h0M542.0 513.5h0M469.1 553.4h0M491.4 538.1h0M421.7 553.8h0M429.4 538.1h0M378.8 542.5h0M412.1 502.0h0M489.2 507.3h0M448.7 530.5h0M371.1 555.1h0M389.2 601.8h0M483.8 510.3h0M467.6 501.5h0M456.6 544.9h0M478.2 525.6h0M565.8 504.8h0M392.3 525.9h0M500.9 588.6h0M445.7 548.6h0M395.4 503.8h0M451.8 500.7h0M449.8 572.0h0M409.9 502.8h0M528.3 552.5h0M495.2 512.8h0M487.0 591.6h0M508.3 590.6h0M535.9 504.5h0M501.4 602.8h0M398.4 575.7h0M393.3 507.0h0M387.0 517.1h0M402.1 547.7h0M449.7 590.6h0M451.8 539.2h0M401.7 572.7h0M454.2 548.9h0M535.5 555.3h0M413.6 504.9h0M390.5 582.2h0M414.8 564.0h0M463.1 517.6h0M429.1 536.1h0M570.5 505.0h0M385.5 541.3h0M527.2 539.0h0M416.2 524.3h0M476.0 548.3h0M533.4 508.3h0M492.3 633.8h0M473.6 593.1h0M395.3 528.0h0M469.6 562.0h0M452.7 609.4h0M441.2 555.7h0M414.5 508.9h0M380.0 578.5h0M531.7 542.3h0M440.3 535.6h0M529.9 560.9h0M409.0 576.6h0M423.6 570.5h0M518.3 505.1h0M406.5 602.7h0M532.2 556.2h0M449.9 521.1h0M468.2 554.6h0M498.1 545.0h0M373.4 567.5h0M401.5 550.8h0M457.5 552.0h0M434.0 590.8h0M490.3 524.8h0M522.2 558.1h0M404.2 513.1h0M501.4 566.5h0M430.1 561.3h0M387.4 505.1h0M553.5 510.6h0M420.2 568.3h0M457.7 507.9h0M509.2 546.7h0M518.5 583.3h0M458.7 547.5h0M409.4 500.4h0M363.6 520.5h0M453.0 506.9h0M489.4 589.4h0M413.5 534.0h0M386.6 583.1h0M397.8 566.4h0M530.4 526.6h0M490.0 510.7h0M420.9 504.1h0M391.0 527.5h0M428.8 543.5h0M580.4 511.0h0M414.6 536.1h0M474.0 522.9h0M498.9 542.2h0M475.4 541.0h0M487.9 555.8h0M395.0 532.2h0M465.6 568.7h0M356.9 503.9h0M580.2 506.3h0M512.3 515.2h0M427.7 555.7h0M454.9 517.9h0M480.5 599.8h0M527.4 570.9h0M510.5 510.0h0M418.2 553.8h0M470.9 586.4h0M412.5 556.2h0M384.2 572.7h0M467.2 595.4h0M464.8 516.7h0M480.1 591.1h0M448.4 516.0h0M483.0 567.0h0M465.6 572.3h0M446.4 531.1h0M510.8 511.7h0M454.7 537.2h0M366.4 509.9h0M518.3 534.1h0M359.0 505.9h0M513.2 529.7h0M528.1 551.0h0M510.5 561.5h0M495.1 504.0h0M437.7 518.6h0M492.0 536.7h0M426.0 575.2h0M485.7 498.7h0M368.0 527.3h0M510.8 522.1h0M472.6 567.2h0M503.9 604.0h0M382.3 566.5h0M567.5 548.7h0M393.3 525.0h0M521.8 564.9h0M411.1 529.7h0M481.4 581.8h0M427.9 534.2h0M560.2 508.7h0M441.5 507.4h0M456.0 530.4h0M514.7 582.6h0M417.4 535.9h0M376.6 560.1h0M380.0 579.8h0M458.3 600.2h0M495.2 587.1h0M518.8 557.9h0M491.1 634.4h0M548.1 525.4h0M457.2 607.2h0M482.7 578.1h0M472.2 517.1h0M435.5 566.6h0M416.3 506.3h0M488.4 505.3h0M435.6 558.7h0M401.9 521.7h0M543.3 501.7h0M486.0 561.3h0M535.9 520.4h0M492.7 608.0h0M473.7 585.0h0M471.4 494.9h0M365.4 517.5h0M472.2 585.7h0M551.2 519.0h0M417.6 540.7h0M474.0 531.3h0M513.5 556.2h0M576.7 513.1h0M470.7 567.9h0M483.8 616.0h0M441.1 581.2h0M418.6 574.3h0M564.0 550.9h0M374.4 564.4h0M400.1 546.6h0M466.9 534.9h0M495.0 580.4h0M445.2 553.6h0M523.2 531.8h0M507.8 576.6h0M490.7 567.6h0M375.1 549.0h0M495.3 563.0h0M510.8 531.3h0M381.3 509.9h0M390.4 504.7h0M537.8 502.4h0M441.8 517.7h0M442.0 501.4h0M414.3 560.6h0M408.3 530.3h0M529.0 562.7h0M398.7 510.8h0M471.7 543.4h0M487.5 533.4h0M406.7 503.9h0M461.8 524.7h0M579.5 504.5h0M446.5 569.0h0M399.0 583.4h0M398.5 579.3h0M413.2 569.9h0M497.7 517.0h0M378.8 562.5h0M409.6 599.2h0M411.8 544.7h0M403.2 592.2h0M452.1 565.4h0M459.7 532.2h0M427.0 537.1h0M580.4 502.0h0M559.0 501.4h0M463.7 557.5h0M453.0 501.2h0M451.8 510.0h0M372.6 541.4h0M499.3 559.9h0M475.4 550.0h0M540.1 501.4h0M508.3 565.2h0M411.2 569.8h0M515.0 513.6h0M460.1 559.2h0M390.1 521.7h0M414.6 543.5h0M450.4 574.9h0M471.7 563.8h0M532.4 560.9h0M460.5 602.9h0M488.3 537.6h0M424.7 530.8h0M502.6 502.0h0M378.6 524.1h0M453.6 520.4h0M496.7 537.8h0M385.7 557.9h0M452.3 513.2h0M511.5 566.6h0M523.8 555.2h0M483.0 516.7h0M504.6 578.7h0M520.2 580.1h0M458.8 513.9h0M535.2 546.5h0M470.1 529.8h0M445.3 580.8h0M497.5 600.9h0M519.1 527.2h0M391.2 512.6h0M514.7 551.5h0M468.7 534.1h0M503.2 575.5h0M440.2 541.5h0M429.5 581.5h0M405.5 598.4h0M398.0 572.0h0M376.5 565.4h0M431.9 507.8h0M463.6 521.9h0M504.8 593.6h0M419.3 580.8h0M434.1 502.1h0M547.5 507.9h0M384.2 574.3h0M389.1 509.5h0M513.0 548.2h0M433.8 566.3h0M472.2 520.6h0M355.7 555.5h0M487.3 580.7h0M494.8 496.7h0M527.7 522.4h0M468.9 496.1h0M577.1 506.2h0M535.6 566.6h0M459.1 579.8h0M387.9 567.6h0M400.2 588.1h0M501.9 498.6h0M505.9 517.0h0M496.5 547.6h0M531.7 516.4h0M524.2 559.9h0M525.8 552.6h0M511.5 545.7h0M480.0 506.9h0M422.6 508.6h0M502.8 537.9h0M359.6 534.1h0M479.1 541.5h0M532.5 537.7h0M437.9 529.9h0M382.7 559.4h0M435.7 561.1h0M497.3 584.2h0M575.4 515.1h0M457.2 513.4h0M490.8 614.3h0M413.4 553.9h0M479.9 569.4h0M546.7 553.6h0M527.4 500.7h0M468.1 527.3h0M468.6 520.9h0M522.8 519.5h0M527.8 537.9h0M395.5 566.3h0M407.0 585.7h0M427.8 529.1h0M462.0 528.1h0M511.5 507.6h0M406.4 535.2h0M385.5 593.3h0M459.9 547.1h0M402.0 587.3h0M387.0 523.5h0M383.5 538.4h0M463.4 563.0h0M380.9 549.5h0M408.0 500.1h0M377.6 547.1h0M462.1 547.3h0M443.5 550.6h0M416.4 538.4h0M558.2 514.0h0M514.0 517.8h0M496.5 523.4h0M502.9 515.7h0M521.8 571.8h0M530.1 520.0h0M386.6 567.8h0M440.4 515.4h0M476.2 556.0h0M466.2 508.0h0M428.1 571.2h0M399.8 581.5h0M396.3 539.3h0M448.6 536.6h0M437.5 541.7h0M422.3 568.2h0M408.7 581.5h0M518.5 521.9h0M403.7 516.5h0M418.1 516.6h0M492.2 577.1h0M397.7 591.1h0M501.8 534.0h0M477.5 560.4h0M408.4 602.6h0M456.0 575.0h0M501.9 562.4h0M500.7 546.7h0M508.0 549.0h0M524.9 509.7h0M520.7 525.7h0M518.7 585.0h0M508.6 577.9h0M388.6 514.8h0M489.2 609.9h0M376.6 567.8h0M504.0 557.3h0M360.1 532.1h0M469.8 589.8h0M573.2 502.1h0M482.0 615.9h0M524.6 510.9h0M466.8 506.6h0M372.8 511.5h0M488.3 544.5h0M458.7 502.5h0M437.7 506.0h0M564.1 530.7h0M462.8 561.5h0M390.1 580.6h0M494.1 598.6h0M457.6 505.3h0M486.5 598.5h0M378.3 553.3h0M364.4 522.2h0M367.2 561.5h0M363.6 557.2h0M503.6 559.5h0M523.2 504.7h0M441.0 583.5h0M500.1 584.0h0M436.2 576.1h0M365.3 561.2h0M411.7 582.7h0M499.8 516.1h0M424.4 566.4h0M412.7 539.6h0M532.1 568.1h0M366.7 525.7h0M422.5 556.1h0M520.3 501.3h0M430.2 557.9h0M459.9 536.1h0M545.6 522.8h0M492.2 508.2h0M566.8 508.8h0M582.4 503.8h0M453.6 499.2h0M384.4 577.3h0M505.3 558.0h0M391.4 574.1h0M384.6 511.6h0M443.2 509.5h0M447.2 594.7h0M444.0 549.0h0M468.9 577.1h0M467.2 509.3h0M353.1 517.3h0M365.3 521.1h0M519.2 516.3h0M512.3 537.9h0M502.5 522.4h0M402.3 598.9h0M398.4 602.0h0M382.3 580.0h0M424.0 514.8h0M481.8 532.5h0M505.1 575.1h0M359.4 512.8h0M486.8 588.6h0M390.4 523.4h0M487.5 606.4h0M426.2 560.2h0M483.7 549.0h0M453.1 563.3h0M389.5 512.3h0M462.3 541.9h0M486.6 603.3h0M568.1 512.9h0M474.5 542.0h0M463.0 531.2h0M467.4 577.1h0M508.4 555.7h0M457.8 586.3h0M519.5 570.4h0M412.7 517.6h0M398.3 574.5h0M457.5 604.5h0M530.9 572.2h0M455.2 549.9h0M404.7 557.1h0M361.2 504.7h0M380.9 573.9h0M440.1 586.1h0M560.4 530.1h0M369.7 514.0h0M410.9 507.2h0M461.6 588.6h0M558.2 522.6h0M507.3 504.7h0M493.3 586.6h0M394.3 582.5h0M484.1 598.1h0M442.1 533.3h0M411.1 503.6h0M472.5 539.6h0M371.9 514.6h0M518.3 593.3h0M459.1 603.1h0M431.6 575.9h0M436.5 588.2h0M457.6 594.7h0M493.4 509.9h0M492.3 569.5h0M473.8 545.1h0M429.4 530.7h0M497.0 513.0h0M448.4 527.7h0M521.9 574.8h0M494.5 515.5h0M506.9 533.5h0M456.6 550.9h0M384.8 582.9h0M407.9 550.0h0M562.7 513.3h0M497.9 509.0h0M546.5 502.7h0M436.4 547.6h0M568.0 551.5h0M478.7 558.7h0M539.4 502.7h0M372.5 524.2h0M502.4 509.4h0M393.2 578.7h0M461.2 518.4h0M371.3 519.9h0M529.1 559.3h0M429.1 587.7h0M508.9 539.2h0M418.4 526.0h0M536.5 552.5h0M422.8 583.0h0M503.6 524.6h0M438.1 550.6h0M402.0 532.4h0M441.0 546.5h0M519.0 502.1h0M565.1 549.7h0M458.7 521.0h0M474.2 527.8h0M393.5 511.5h0M404.2 559.6h0M561.5 512.8h0M522.6 546.3h0M402.7 579.2h0M461.8 530.5h0M416.1 552.5h0M498.9 597.8h0M376.4 538.1h0M420.7 549.3h0M505.8 509.9h0M496.3 597.4h0M393.2 569.9h0M551.8 520.8h0M516.8 515.0h0M491.4 531.6h0M439.1 544.4h0M391.0 535.7h0M438.3 553.0h0M472.2 550.8h0M365.5 524.9h0M511.9 581.5h0M516.7 521.2h0M405.5 576.9h0M417.8 527.2h0M377.8 521.1h0M483.5 575.9h0M432.8 501.4h0M494.6 616.9h0M439.3 575.1h0M488.8 594.9h0M411.7 578.9h0M569.4 515.1h0M416.5 568.0h0M474.7 576.4h0M411.7 565.9h0M457.5 537.5h0M438.7 567.1h0M377.3 563.0h0M444.7 563.3h0M553.4 526.4h0M430.6 565.5h0M434.2 506.7h0M501.9 564.6h0M488.8 536.0h0M489.4 533.9h0M445.3 544.5h0M490.0 592.9h0M522.3 527.5h0M345.5 534.2h0M382.7 569.8h0M425.9 547.0h0M456.4 512.3h0M391.7 517.3h0M503.4 599.3h0M443.3 599.7h0M429.9 520.9h0M502.9 563.8h0M489.6 549.9h0M467.1 493.6h0M523.1 569.3h0M505.9 542.5h0M397.4 568.3h0M548.2 519.5h0M383.5 580.6h0M515.6 516.4h0M545.0 521.4h0M386.4 574.0h0M396.8 554.2h0M479.4 505.0h0M500.1 571.6h0M518.3 543.1h0M471.3 574.1h0M419.2 503.3h0M448.6 567.2h0M534.6 523.5h0M400.6 503.8h0M434.0 547.4h0M574.8 505.3h0M509.5 532.3h0M404.8 587.6h0M419.4 512.7h0M405.6 580.4h0M520.0 538.5h0M585.8 514.7h0M361.6 526.0h0M567.0 519.4h0M432.1 584.8h0M441.4 519.5h0M480.9 575.2h0M418.3 537.1h0M432.6 533.2h0M476.7 538.1h0M388.4 518.6h0M405.0 504.8h0M394.7 533.6h0M393.8 584.1h0M562.4 523.9h0M505.8 500.1h0M532.1 530.8h0M488.1 600.5h0M389.9 564.4h0M484.2 541.7h0M475.2 545.8h0M547.5 510.6h0M472.2 552.5h0M414.5 574.0h0M584.1 513.8h0M503.2 565.4h0M393.0 588.3h0M535.7 499.4h0M468.8 499.0h0M543.4 557.9h0M426.9 565.2h0M451.8 558.1h0M410.5 541.0h0M441.5 571.2h0M378.0 558.0h0M483.9 523.7h0M444.6 601.0h0M491.8 565.5h0M455.9 593.4h0M511.1 526.5h0M533.4 504.3h0M412.1 534.4h0M494.6 573.0h0M456.6 561.2h0M507.1 526.5h0M485.6 496.0h0M551.9 502.4h0M556.9 501.3h0M426.8 549.1h0M396.5 542.7h0M393.7 528.2h0M430.7 544.6h0M507.2 513.5h0M559.6 534.9h0M476.6 591.0h0M451.6 511.4h0M511.3 598.3h0M511.8 574.9h0M375.6 563.2h0M454.6 574.2h0M445.6 595.2h0M388.4 590.7h0M571.5 503.3h0M378.7 546.5h0M432.2 536.0h0M382.4 561.3h0M453.5 545.7h0M567.4 510.8h0M399.1 529.8h0M489.5 508.6h0M521.0 589.6h0M438.1 503.4h0M519.1 510.8h0M409.5 573.4h0M452.8 597.4h0M499.0 552.3h0M450.2 527.8h0M495.5 551.0h0M466.0 552.6h0M500.8 567.8h0M514.2 510.9h0M493.3 557.7h0M501.6 536.0h0M493.6 609.3h0M469.6 573.2h0M512.6 561.2h0M510.6 528.3h0M423.4 539.0h0M485.4 576.7h0M366.5 523.9h0M509.5 535.1h0M562.3 522.7h0M493.1 582.4h0M405.8 545.0h0M468.2 518.7h0M470.6 601.9h0M368.2 538.0h0M384.8 513.6h0M500.5 522.1h0M411.7 508.5h0M502.1 505.7h0M381.5 507.0h0M498.5 527.7h0M442.9 527.0h0M427.4 545.4h0M483.4 509.0h0M537.8 542.5h0M429.4 501.7h0M462.9 577.9h0M447.3 602.9h0M402.5 553.9h0M520.4 550.5h0M472.6 536.8h0M383.0 563.5h0M451.6 526.3h0M458.1 543.6h0M464.4 545.8h0M466.6 600.0h0M493.5 635.6h0M571.6 518.2h0M512.9 531.2h0M478.8 550.1h0M490.0 554.1h0M461.0 553.8h0M450.9 615.0h0M506.2 546.1h0M369.7 547.0h0M394.2 508.5h0M394.5 564.8h0M480.4 532.8h0M403.7 541.9h0M347.0 527.9h0M370.2 533.9h0M369.4 540.1h0M456.7 601.9h0M508.4 601.4h0M389.8 507.3h0M493.7 548.3h0M486.3 538.1h0M386.9 556.1h0M377.5 542.1h0M578.6 510.3h0M484.9 559.2h0M426.9 512.7h0M396.4 545.0h0M362.3 516.7h0M444.7 506.3h0M440.7 575.2h0M536.6 526.5h0M431.9 506.5h0M493.6 602.2h0M456.6 543.2h0M567.5 528.0h0M475.9 508.9h0M482.8 573.8h0M368.2 551.5h0M431.0 515.8h0M471.2 569.5h0M448.3 532.1h0M408.8 509.9h0M458.1 541.2h0M428.0 552.0h0M361.0 516.8h0M413.7 525.6h0M467.7 561.7h0M463.1 597.0h0M459.9 523.4h0M466.7 538.5h0M424.1 518.6h0M443.3 584.5h0M414.1 503.4h0M508.7 526.7h0M526.0 524.2h0M484.9 613.0h0M384.9 520.8h0M462.8 575.4h0M451.1 563.0h0M451.4 554.5h0M460.2 571.7h0M496.8 582.7h0M477.2 544.9h0M381.1 551.0h0M382.1 514.5h0M491.8 521.1h0M437.2 566.3h0M375.1 568.3h0M366.1 529.7h0M405.4 541.4h0M468.5 507.8h0M398.9 592.8h0M402.4 570.8h0M423.0 573.3h0M410.0 536.4h0M524.5 506.3h0M433.1 534.9h0M395.8 546.5h0M514.6 537.5h0M457.2 573.9h0M476.8 494.0h0M527.0 558.1h0M568.3 525.2h0M448.0 615.5h0M407.3 563.2h0M453.0 531.4h0M429.4 518.2h0M489.9 498.7h0M422.9 524.3h0M454.8 532.3h0M461.6 533.0h0M416.1 501.8h0M542.2 559.3h0M379.4 533.8h0M468.1 535.9h0M501.1 574.4h0M407.7 564.5h0M542.5 511.1h0M429.7 575.2h0M439.6 508.3h0M496.0 579.1h0M461.7 545.2h0M449.9 507.0h0M506.8 551.1h0M443.8 523.8h0M464.7 562.2h0M459.5 518.4h0M414.7 532.2h0M433.6 550.9h0M465.5 599.3h0M357.3 518.6h0M513.1 520.2h0M418.6 560.1h0M469.4 582.2h0M498.6 584.8h0M559.6 514.1h0M497.7 573.1h0M461.3 569.1h0M481.7 595.4h0M396.2 502.0h0M454.3 566.6h0M460.9 555.5h0M510.2 600.0h0M498.7 551.1h0M410.1 566.4h0M455.2 553.9h0M392.3 600.7h0M473.4 517.7h0M453.2 567.8h0M382.5 531.0h0M370.3 541.6h0M444.1 598.7h0M415.1 515.4h0M499.7 590.1h0M509.4 521.8h0M487.2 521.2h0M398.4 600.7h0M514.3 509.3h0M551.2 523.4h0M502.8 543.7h0M507.3 524.4h0M395.2 599.1h0M432.0 545.2h0M509.9 589.6h0M413.7 559.4h0M485.9 618.1h0M460.7 527.2h0M448.1 579.6h0M556.0 515.7h0M468.1 540.4h0M379.1 554.5h0M378.3 568.2h0M371.7 533.5h0M367.4 559.7h0M555.9 512.1h0M443.4 525.3h0M429.2 544.9h0M497.1 500.1h0M467.9 585.6h0M425.5 518.0h0M399.0 513.7h0M491.8 563.8h0M403.9 522.8h0M483.6 593.8h0M437.3 525.9h0M472.5 597.6h0M498.1 498.4h0M419.8 506.0h0M514.5 520.3h0M484.1 582.2h0M466.8 584.8h0M515.7 579.7h0M520.0 546.8h0M529.2 531.4h0M483.0 499.3h0M486.7 616.1h0M487.4 582.5h0M524.3 508.2h0M480.2 522.9h0M435.7 551.4h0M465.3 514.4h0M423.2 574.9h0M515.2 514.8h0M486.8 525.4h0M376.8 518.3h0M483.5 521.9h0M521.2 563.3h0M545.7 504.8h0M437.5 533.7h0M422.5 560.1h0M515.6 574.0h0M493.4 559.7h0M372.0 560.0h0M408.6 565.9h0M499.9 562.8h0M437.1 582.1h0M519.7 575.2h0M481.9 583.8h0M467.1 568.4h0M449.2 541.3h0M519.3 518.1h0M464.5 563.8h0M403.6 539.7h0M370.9 540.0h0M492.2 575.5h0M447.0 608.5h0M438.0 532.1h0M440.5 510.9h0M501.5 595.6h0M425.9 531.6h0M494.4 542.4h0M457.0 526.8h0M514.4 577.8h0M442.9 595.7h0M406.3 515.7h0M529.1 517.1h0M546.7 516.9h0M496.7 534.2h0M509.7 571.1h0M513.8 580.5h0M460.7 562.7h0M418.8 524.2h0M481.2 607.1h0M429.3 510.3h0M398.0 587.0h0M402.1 517.2h0M469.5 592.7h0M380.4 542.2h0M484.3 614.4h0M378.8 517.2h0M485.5 591.7h0M503.0 551.1h0M494.2 575.1h0M409.1 531.8h0M433.7 576.9h0M385.8 553.4h0M447.9 562.3h0M487.3 512.7h0M460.0 577.1h0M406.9 593.4h0M443.2 554.3h0M508.7 505.9h0M506.7 565.4h0M390.9 513.9h0M429.2 533.2h0M387.7 528.5h0M407.3 554.8h0M433.3 528.9h0M469.3 532.7h0M414.8 522.5h0M539.8 513.0h0M474.6 507.3h0M481.7 596.6h0M380.8 561.9h0M402.1 500.6h0M418.7 511.6h0M394.2 592.7h0M508.4 575.2h0M463.7 500.3h0M492.9 538.3h0M478.4 596.6h0M494.6 596.7h0M457.2 524.6h0M490.7 515.6h0M467.2 521.0h0M405.4 591.3h0M534.1 552.0h0M376.2 516.4h0M403.2 572.9h0M456.3 589.1h0M455.3 612.7h0M407.4 567.1h0M409.1 542.2h0M384.1 559.9h0M500.4 518.4h0M471.5 508.6h0M433.7 579.9h0M469.4 494.1h0M392.7 531.1h0M436.5 586.2h0M529.2 528.0h0M539.0 522.5h0M382.8 528.1h0M422.5 562.8h0M515.1 575.8h0M411.8 548.1h0M487.6 500.0h0M555.6 504.8h0M416.8 549.9h0M564.5 503.5h0M491.7 557.4h0M442.1 537.0h0M411.7 568.5h0M553.7 523.6h0M577.5 501.3h0M430.0 526.5h0M431.0 582.7h0M383.8 568.3h0M492.6 588.8h0M507.0 587.2h0M470.4 552.3h0M505.6 503.6h0M391.2 520.0h0M476.5 495.2h0M376.0 542.7h0M466.0 517.1h0M519.7 544.3h0M558.8 506.2h0M492.0 617.1h0M449.7 609.8h0M443.4 569.3h0M421.1 579.4h0M515.0 503.8h0M409.8 596.4h0M375.3 560.2h0M517.6 590.4h0M455.7 547.0h0M437.2 501.5h0M428.1 541.2h0M405.1 561.9h0M479.7 508.3h0M478.8 584.0h0M427.3 557.4h0M457.3 540.2h0M500.5 564.4h0M486.4 600.8h0M443.2 543.8h0M378.6 544.4h0M430.0 542.6h0M520.0 529.7h0M488.4 526.3h0M421.1 522.6h0M443.6 532.0h0M487.1 535.4h0M487.7 531.8h0M494.1 514.1h0M435.6 590.2h0M394.2 567.3h0M471.5 565.5h0M489.4 571.6h0M436.6 562.1h0M518.6 565.9h0M499.9 509.6h0M484.9 513.3h0M371.3 531.1h0M402.9 596.7h0M509.0 581.3h0M487.1 609.1h0M443.5 565.4h0M503.4 527.4h0M466.1 504.8h0M492.1 524.0h0M429.0 557.7h0M396.4 557.9h0M478.1 586.9h0M472.8 518.9h0M448.4 609.0h0M465.9 496.5h0M442.6 578.5h0M405.0 565.1h0M495.3 621.7h0M469.3 564.1h0M479.7 586.7h0M468.8 504.0h0M479.4 526.8h0M372.2 548.2h0M510.3 505.7h0M449.6 598.3h0M403.9 577.1h0M495.0 539.2h0M464.9 567.6h0M422.6 531.9h0M454.6 510.2h0M475.8 552.7h0M531.0 502.9h0M466.8 540.1h0M495.1 606.7h0M485.1 610.1h0M440.9 529.3h0M455.1 568.1h0M467.7 499.7h0M487.1 516.5h0M495.9 602.7h0M371.0 564.0h0M511.1 513.7h0M431.9 572.4h0M464.5 578.1h0M497.6 581.3h0M449.6 584.0h0M400.4 552.9h0M555.8 520.1h0M485.5 497.4h0M398.2 508.7h0M520.0 595.0h0M422.0 584.8h0M421.4 517.9h0M418.4 547.2h0M435.1 528.9h0M525.9 574.1h0M515.6 519.3h0M502.9 518.3h0M398.1 557.6h0M392.8 513.8h0M407.4 525.2h0M403.9 551.6h0M545.1 518.5h0M466.3 526.4h0M380.9 547.2h0M410.8 518.7h0M474.1 597.5h0M343.8 521.8h0M458.0 569.1h0M569.5 532.1h0M402.7 575.4h0M521.1 528.9h0M391.6 576.1h0M520.7 558.7h0M424.5 569.3h0M461.6 580.9h0M515.3 561.2h0M403.3 564.8h0M413.6 548.5h0M448.1 556.6h0M368.5 524.7h0M426.8 508.5h0M466.0 582.0h0M443.3 520.9h0M381.3 532.4h0M516.5 510.1h0M436.1 510.7h0M414.2 580.1h0M485.1 602.8h0M397.5 517.2h0M516.1 524.5h0M391.8 582.6h0M440.8 565.6h0M464.0 580.1h0M359.9 555.3h0M459.2 565.3h0M476.6 533.5h0M445.2 564.6h0M523.9 526.9h0M477.1 536.7h0M563.1 503.8h0M565.2 502.5h0M465.0 512.8h0M379.4 510.7h0M503.8 512.4h0M437.7 554.4h0M407.9 521.3h0M488.5 629.2h0M511.2 504.6h0M535.3 526.4h0M389.6 528.2h0M383.1 583.3h0M442.0 512.2h0M478.2 592.3h0M566.9 503.7h0M450.4 515.1h0M528.8 499.4h0M488.5 510.8h0M370.7 504.9h0M450.2 513.1h0M494.5 615.1h0M411.2 538.9h0M411.6 580.5h0M407.4 579.1h0M503.7 521.1h0M504.8 580.6h0M541.8 554.7h0M362.0 532.5h0M421.4 526.8h0M442.4 588.1h0M494.2 605.3h0M369.6 511.9h0M560.9 514.9h0M463.2 533.5h0M434.2 560.5h0M382.3 511.1h0M492.3 558.8h0M459.8 557.7h0M445.8 576.5h0M531.8 511.2h0M487.4 527.1h0M445.5 562.0h0M441.2 594.1h0M425.0 582.0h0M480.7 576.4h0M522.9 525.7h0M434.9 573.5h0M394.4 546.9h0M493.9 517.5h0M543.9 554.6h0M414.1 527.7h0M480.4 539.4h0M501.5 523.1h0M446.5 520.4h0M450.9 591.8h0M494.7 531.3h0M424.4 523.4h0M532.0 508.8h0M477.2 557.2h0M507.0 567.6h0M415.9 529.1h0M457.4 565.4h0M435.1 538.8h0M469.3 548.4h0M559.0 503.1h0M394.3 572.9h0M589.5 506.3h0M409.6 523.9h0M395.2 536.4h0M543.8 565.1h0M530.5 508.7h0M373.3 547.2h0M538.3 566.3h0M433.0 573.6h0M458.4 572.6h0M397.8 538.3h0M574.0 513.5h0M493.9 600.4h0M535.0 553.3h0M411.8 546.1h0M499.8 533.6h0M485.4 579.4h0M525.1 520.5h0M527.7 528.8h0M397.7 561.4h0M398.5 520.2h0M439.0 556.6h0M446.4 501.8h0M473.2 577.3h0M405.4 543.5h0M526.3 513.8h0M381.6 537.1h0M588.2 510.4h0M457.3 584.0h0M409.1 583.6h0M512.1 547.1h0M385.4 533.9h0M492.5 639.1h0M526.7 518.0h0M483.6 613.0h0M454.6 556.8h0M411.6 561.2h0M490.0 528.4h0M473.5 512.1h0M529.0 511.0h0M455.9 573.7h0M518.7 529.7h0M449.7 559.3h0M425.8 552.5h0M402.5 594.2h0M423.4 544.8h0M393.0 559.6h0M564.5 526.5h0M470.8 525.0h0M472.0 589.9h0M558.4 512.1h0M440.3 543.9h0M495.6 524.8h0M425.1 507.1h0M416.5 556.1h0M475.6 562.8h0M398.9 528.0h0M540.0 563.1h0M527.7 556.4h0M383.3 579.0h0M380.4 508.9h0M565.4 523.3h0M464.6 596.8h0M404.4 511.4h0M403.9 566.4h0M483.5 561.3h0M396.3 534.8h0M343.5 534.3h0M536.6 508.8h0M588.1 512.5h0M430.9 535.9h0M410.5 514.4h0M507.5 593.7h0M510.2 544.5h0M450.6 601.3h0M431.1 512.4h0M423.3 547.4h0M491.3 586.6h0M393.5 576.0h0M476.9 520.9h0M534.1 572.1h0M449.0 510.1h0M494.5 540.9h0M530.7 548.1h0M531.1 525.5h0M403.0 595.4h0M387.1 515.4h0M422.1 514.3h0M481.6 598.3h0M515.9 507.1h0M421.3 532.3h0M508.1 585.5h0M453.7 526.1h0M404.6 537.0h0M388.4 508.1h0M516.1 593.2h0M404.2 549.2h0M416.5 544.8h0M468.8 560.2h0M573.7 508.2h0M365.7 518.8h0M488.8 573.3h0M398.3 608.9h0M474.7 513.1h0M530.1 500.0h0M484.6 617.1h0M530.3 553.6h0M386.7 538.8h0M467.9 516.9h0M457.1 582.5h0M461.6 604.3h0M439.0 560.9h0M396.1 608.6h0M494.0 592.0h0M376.8 550.7h0M513.7 532.7h0M420.8 520.6h0M484.0 572.4h0M477.2 523.5h0M537.6 519.6h0M443.4 553.0h0M459.0 597.5h0M495.7 571.3h0M470.6 499.1h0M482.1 614.4h0M400.0 505.1h0M414.8 548.0h0M559.9 542.7h0M510.5 534.1h0M423.5 585.5h0M524.1 553.4h0M504.6 577.0h0M535.3 543.6h0M492.1 515.6h0M473.3 596.5h0M407.8 575.2h0M410.3 504.8h0M525.4 547.2h0M571.8 509.6h0M442.6 559.1h0M510.8 515.4h0M496.2 617.7h0M526.4 548.4h0M485.2 552.2h0M483.5 559.3h0M517.9 556.3h0M533.1 571.1h0M530.8 505.3h0M413.6 566.6h0M520.9 570.0h0M569.4 508.0h0M437.2 574.7h0M444.0 505.0h0M473.4 501.5h0M514.2 539.6h0M385.4 584.0h0M512.3 579.5h0M538.1 564.4h0M511.5 592.9h0M413.2 551.8h0M434.5 553.2h0M473.9 521.4h0M506.8 522.1h0M521.3 532.5h0M499.4 530.8h0M458.1 515.3h0M506.3 577.8h0M480.8 589.8h0M494.5 589.0h0M513.7 503.3h0M472.0 504.7h0M396.2 559.3h0M402.1 529.3h0M581.7 509.8h0M420.8 551.8h0M526.2 536.4h0M489.8 547.9h0M421.8 586.5h0M552.6 513.1h0M361.4 512.3h0M445.3 551.0h0M372.8 562.3h0M396.1 516.0h0M407.6 604.8h0M476.2 531.1h0M470.1 594.8h0M508.6 599.5h0M495.2 613.8h0M503.2 584.1h0M419.7 554.9h0M521.8 524.4h0M509.0 564.0h0M554.5 515.6h0M498.4 556.1h0M473.9 538.1h0M485.6 607.6h0M516.2 554.4h0M502.8 556.9h0M486.5 584.1h0M455.0 527.0h0M383.2 512.8h0M498.3 518.9h0M471.0 512.6h0M413.9 521.1h0M478.8 530.4h0M375.5 556.1h0M510.1 516.8h0M510.5 520.0h0M397.9 512.4h0M562.2 527.7h0M513.0 596.5h0M412.0 596.9h0M400.6 582.5h0M409.3 528.7h0M442.7 530.9h0M546.2 508.5h0M452.2 590.3h0M393.3 503.3h0M438.3 549.3h0M479.6 495.6h0M497.9 578.0h0M368.9 560.1h0M365.2 531.9h0M385.2 531.5h0M360.4 510.7h0M536.5 557.8h0M369.6 553.4h0M417.1 573.1h0M503.6 517.1h0M445.0 582.7h0M530.1 574.6h0M429.0 552.9h0M383.7 588.5h0M521.4 538.3h0M410.8 530.9h0M418.1 505.7h0M563.9 527.7h0M501.6 542.6h0M350.8 502.6h0M474.6 577.9h0M444.8 607.3h0M566.8 537.5h0M488.1 625.7h0M483.0 515.2h0M403.3 582.8h0M571.2 501.7h0M447.6 576.1h0M493.9 505.5h0M414.5 511.5h0M501.5 600.5h0M449.6 616.2h0M495.2 494.3h0M478.1 501.2h0M390.4 576.9h0M487.3 557.5h0M488.3 579.4h0M442.1 561.8h0M498.6 594.7h0M391.2 591.5h0M362.3 520.9h0M388.1 537.3h0M530.5 501.7h0M475.8 557.9h0M507.3 510.6h0M377.1 509.2h0M412.8 522.0h0M488.5 633.2h0M541.9 514.7h0M396.0 591.4h0M417.2 559.5h0M456.4 531.8h0M475.3 591.8h0M502.5 570.8h0M466.3 590.0h0M452.4 599.4h0M394.4 560.8h0M440.6 500.1h0M421.9 577.7h0M388.2 569.1h0M494.8 543.7h0M444.1 590.3h0M416.4 546.6h0M532.6 565.6h0M467.8 573.2h0M499.6 600.2h0M436.9 527.9h0M550.4 516.4h0M475.6 496.9h0M453.1 595.3h0M473.4 508.0h0M398.4 558.9h0M442.3 541.7h0M537.2 512.8h0M488.9 546.2h0M520.9 514.7h0M479.3 593.6h0M528.1 508.7h0M393.6 543.2h0M406.2 572.5h0M563.6 543.6h0M541.3 558.4h0M499.4 524.0h0M414.2 538.7h0M541.7 549.7h0M453.8 603.9h0M415.3 534.5h0M470.4 533.3h0M426.6 585.4h0M510.9 570.4h0M389.7 505.8h0M423.8 511.8h0M422.9 536.7h0M461.1 540.8h0M407.5 533.6h0M480.3 547.5h0M440.2 551.8h0M481.3 534.1h0M465.5 575.0h0M422.5 551.9h0M589.9 504.8h0M488.2 593.2h0M445.8 591.8h0M381.6 519.6h0M358.2 516.2h0M431.5 510.3h0M548.9 511.2h0M463.0 497.4h0M512.6 542.8h0M446.8 553.7h0M539.2 559.5h0M381.9 585.7h0M483.6 584.0h0M564.7 507.2h0M424.3 561.9h0M471.3 591.8h0M463.9 593.6h0M429.2 563.7h0M465.8 544.2h0M392.6 573.9h0M470.1 599.1h0M400.7 528.7h0M411.2 551.1h0M407.6 543.1h0M426.4 588.3h0M434.8 511.6h0M443.6 542.4h0M536.1 548.5h0M497.3 559.7h0M484.1 529.2h0M385.6 568.7h0M519.7 512.2h0M346.5 543.4h0M394.3 580.4h0M422.7 519.4h0M564.5 501.5h0M467.3 560.0h0M482.9 513.9h0M448.0 568.7h0M438.1 571.3h0M406.2 557.0h0M539.2 506.3h0M435.5 540.7h0M425.9 513.6h0M483.4 586.8h0M512.9 518.6h0M413.6 532.7h0M463.3 550.4h0M453.3 554.3h0M476.1 519.7h0M400.4 508.2h0M454.9 591.5h0M392.5 537.9h0M484.9 538.3h0M584.6 516.7h0M474.2 495.4h0M457.2 609.7h0M405.5 558.6h0M463.1 588.3h0M385.5 545.7h0M538.5 550.0h0M493.1 563.7h0M433.3 499.9h0M486.6 502.5h0M517.7 576.1h0M467.9 563.4h0M490.9 558.8h0M460.8 506.2h0M372.0 528.1h0M402.2 574.2h0M514.4 544.5h0M390.4 567.1h0M512.0 576.3h0M368.8 550.3h0M493.0 603.5h0M361.6 541.1h0M529.2 529.4h0M372.0 525.9h0M482.0 517.5h0M371.9 561.5h0M446.3 504.5h0M529.9 539.1h0M497.8 622.2h0M467.6 542.6h0M483.1 590.6h0M478.2 600.0h0M479.7 514.3h0M398.7 524.2h0M529.4 565.3h0M457.6 590.6h0M386.3 507.0h0M529.8 575.8h0M485.2 626.9h0M478.7 556.3h0M397.2 598.0h0M470.0 565.9h0M526.8 567.2h0M530.2 555.4h0M428.2 572.5h0M542.7 562.4h0M490.5 564.1h0M463.1 526.0h0M476.4 599.9h0M388.3 596.2h0M454.7 501.0h0M459.4 541.1h0M377.5 505.6h0M448.4 612.9h0M562.4 507.1h0M365.1 515.8h0M390.9 511.3h0M506.7 555.3h0M438.9 585.9h0M377.6 561.7h0M451.4 531.7h0M441.1 569.6h0M490.1 629.1h0M518.5 544.8h0M530.7 546.2h0M426.7 573.3h0M426.5 583.8h0M562.6 530.0h0M461.1 566.7h0M475.8 581.2h0M439.5 525.8h0M442.0 582.1h0M443.3 603.4h0M500.7 512.9h0M464.4 554.5h0M408.3 523.2h0M532.4 502.2h0M462.5 558.4h0M443.6 592.6h0M527.0 507.2h0M515.1 569.6h0M535.1 542.3h0M360.9 551.1h0M468.6 529.7h0M482.4 551.2h0M400.2 542.8h0M403.3 544.4h0M405.5 559.9h0M424.1 577.7h0M401.2 554.4h0M395.6 568.1h0M407.2 518.1h0M465.4 566.3h0M508.4 547.6h0M481.3 493.0h0M480.5 549.2h0M487.3 504.6h0M525.3 501.7h0M387.6 520.3h0M525.9 533.6h0M460.1 595.5h0M537.9 514.5h0M539.5 558.0h0M426.3 500.6h0M569.7 536.1h0M447.8 563.7h0M442.5 566.4h0M437.7 544.3h0M462.0 583.4h0M435.2 500.9h0M388.1 538.7h0M378.6 532.7h0M400.7 502.4h0M430.5 577.1h0M561.6 503.8h0M483.7 507.6h0M444.9 566.8h0M519.8 499.9h0M486.1 547.8h0M454.3 587.6h0M485.6 619.8h0M408.8 604.2h0M565.1 538.3h0M432.5 523.7h0M352.7 508.1h0M489.7 586.3h0M472.9 587.0h0M416.4 521.1h0M373.5 522.3h0M533.9 554.9h0M435.5 516.8h0M469.9 509.5h0M385.7 510.9h0M465.8 585.9h0M503.4 531.3h0M509.6 550.5h0M376.7 515.2h0M555.8 509.1h0M445.2 532.1h0M403.0 520.4h0M430.8 578.8h0M454.5 503.2h0M479.4 575.8h0M513.4 594.3h0M482.0 576.6h0M500.3 529.1h0M556.9 519.3h0M529.8 573.2h0M511.7 532.7h0M505.1 498.9h0M517.0 591.5h0M471.7 500.8h0M436.6 519.7h0M523.8 565.2h0M486.6 564.2h0M459.5 509.9h0M393.3 596.1h0M502.7 597.7h0M490.9 621.3h0M485.9 575.4h0M379.7 575.5h0M514.6 590.4h0M553.3 508.3h0M439.6 554.0h0M531.6 574.5h0M466.5 530.9h0M357.1 502.1h0M475.4 543.5h0M442.5 503.9h0M498.0 547.3h0M440.3 563.2h0M406.8 522.7h0M433.1 581.2h0M449.0 606.1h0M414.3 518.6h0M391.5 570.6h0M540.3 544.7h0M518.7 591.2h0M493.7 595.4h0M554.4 521.6h0M452.3 610.7h0M481.6 617.4h0M487.5 563.2h0M580.1 509.5h0M509.4 596.7h0M445.4 586.8h0M477.5 509.5h0M520.5 511.2h0M471.9 582.3h0M374.6 526.5h0M394.7 591.5h0M456.2 536.2h0M586.6 507.8h0M397.5 549.3h0M383.7 566.2h0M378.8 565.2h0M378.5 507.3h0M546.5 521.8h0M448.8 548.6h0M497.7 535.3h0M530.6 534.3h0M401.5 609.7h0M449.3 578.0h0M480.6 499.3h0M472.3 555.1h0M441.4 572.9h0M565.7 515.8h0M380.0 525.4h0M389.3 599.5h0M508.3 502.9h0M410.0 570.7h0M354.0 524.9h0M416.3 564.1h0M472.9 579.6h0M393.2 534.3h0M452.5 616.0h0M515.7 572.6h0M472.6 514.6h0M368.9 510.6h0M508.3 517.0h0M473.4 582.2h0M462.4 543.9h0M514.8 588.0h0M412.4 512.2h0M419.5 552.8h0M369.8 548.8h0M446.6 532.4h0M394.3 588.6h0M366.6 511.1h0M409.4 556.4h0M430.6 513.6h0M526.0 537.7h0M475.6 560.7h0M495.7 560.3h0M364.1 514.8h0M401.1 534.6h0M527.5 545.0h0M416.3 522.7h0M403.3 568.1h0M417.6 564.4h0M534.1 556.4h0M518.2 528.2h0M460.3 592.7h0M412.0 558.1h0M415.5 527.6h0M433.1 512.0h0M454.7 589.6h0M515.6 560.0h0M427.8 548.1h0M477.1 581.5h0M489.5 518.9h0M363.7 528.6h0M504.4 583.1h0M395.4 522.4h0M453.9 600.2h0M348.5 552.9h0M433.9 584.4h0M421.7 530.7h0M479.5 498.1h0M397.9 504.5h0M536.4 522.7h0M521.1 509.7h0M468.5 557.8h0M501.3 504.4h0M403.7 563.1h0M444.6 539.3h0M516.8 595.5h0M522.1 561.8h0M526.7 515.4h0M513.9 534.2h0M446.6 590.5h0M427.7 524.8h0M462.6 498.6h0M563.6 519.6h0M504.7 508.3h0M434.9 504.9h0M457.4 598.6h0M475.8 578.4h0M399.7 574.9h0M453.4 534.7h0M521.2 542.7h0M422.7 525.8h0M370.7 560.6h0M508.0 571.3h0M411.0 599.5h0M473.6 562.3h0M524.4 549.3h0M398.7 554.6h0M504.1 585.3h0M429.3 555.8h0M474.9 516.4h0M538.6 561.4h0M419.0 518.1h0M527.5 512.3h0M446.8 600.3h0M462.0 505.1h0M428.6 583.8h0M516.2 542.4h0M500.2 505.8h0M398.1 543.4h0M540.1 505.1h0M415.8 571.6h0M416.2 530.3h0M488.7 630.6h0M496.2 619.3h0M561.9 539.7h0M475.8 585.1h0M504.6 522.6h0M450.2 560.5h0M560.2 519.0h0M476.6 570.6h0M466.8 571.5h0M467.3 591.1h0M500.8 527.5h0M379.8 539.4h0M517.0 579.8h0M478.8 590.1h0M384.6 506.0h0M534.3 500.1h0M400.5 590.2h0M418.3 577.4h0M383.2 532.6h0M448.3 507.1h0M465.4 519.2h0M380.9 556.0h0M405.5 540.1h0M533.8 548.3h0M460.1 543.8h0M528.7 513.8h0M404.0 535.3h0M535.9 513.5h0M414.0 517.1h0M462.2 520.1h0M495.9 620.5h0M389.0 592.1h0M484.8 536.9h0M401.5 543.0h0M426.5 567.6h0M465.6 560.4h0M404.9 594.1h0M437.4 547.0h0M516.5 535.1h0M540.1 554.2h0M515.2 586.1h0M396.7 572.6h0M401.8 589.8h0M355.3 527.9h0M522.6 559.3h0M497.7 529.1h0M505.4 539.4h0M391.1 515.5h0M392.4 593.5h0M423.0 521.8h0M408.9 587.2h0M415.5 569.3h0M493.7 512.8h0M404.9 516.6h0M495.8 511.4h0M382.8 540.8h0M385.4 536.2h0M494.0 613.3h0M494.2 506.7h0M393.1 521.1h0M482.4 549.8h0M480.0 606.0h0M498.9 593.1h0M519.1 587.6h0M471.0 514.7h0M370.7 536.3h0M443.7 547.3h0M507.0 502.9h0M474.2 555.8h0M452.7 584.9h0M425.5 577.1h0M395.6 509.5h0M432.8 563.3h0M504.7 526.0h0M358.3 534.7h0M466.2 532.4h0M444.3 541.0h0M399.2 507.2h0M454.7 539.6h0M389.9 539.7h0M495.6 577.3h0M557.7 508.0h0M383.2 517.4h0M517.0 559.8h0M401.1 549.3h0M486.6 624.7h0M473.2 503.6h0M393.9 523.1h0M397.0 506.8h0M435.7 518.7h0M501.2 585.3h0M450.9 598.0h0M519.4 532.4h0M415.4 581.4h0M407.6 552.5h0M446.3 583.2h0M572.3 513.9h0M482.4 529.6h0M583.0 508.8h0M348.9 511.3h0M459.1 568.2h0M398.4 563.8h0M449.5 526.4h0M492.9 568.1h0M380.7 530.1h0M442.2 528.3h0M377.7 566.4h0M476.6 567.3h0M539.2 546.8h0M521.9 499.7h0M513.2 551.7h0M463.8 520.0h0M398.2 515.5h0M427.3 506.4h0M426.8 554.2h0M406.6 581.9h0M380.6 514.0h0M568.5 527.2h0M413.7 572.5h0M438.9 505.0h0M487.7 577.6h0M395.0 569.6h0M473.4 526.7h0M387.5 506.7h0M436.7 524.3h0M397.2 533.0h0M551.7 525.2h0M421.7 541.7h0M522.8 512.4h0M445.6 513.4h0M512.1 587.6h0M491.5 583.7h0M432.6 548.8h0M498.2 515.6h0M497.8 569.8h0M427.0 542.7h0M440.3 524.0h0M515.7 523.0h0M409.0 507.6h0M502.3 547.5h0M446.9 510.3h0M380.2 524.1h0M416.0 540.0h0M451.7 544.5h0M376.0 512.0h0M444.9 503.6h0M478.3 594.6h0M500.9 530.9h0M505.3 551.4h0M541.4 507.7h0M473.6 573.0h0M490.6 609.2h0M496.8 514.7h0M405.2 588.8h0M460.6 578.2h0M381.1 583.6h0M367.2 518.6h0M561.8 500.6h0M384.5 526.0h0M464.4 587.4h0M423.7 579.9h0M563.7 536.2h0M426.6 505.0h0M544.5 511.7h0M448.8 564.8h0M535.6 571.1h0M368.5 556.0h0M580.0 514.3h0M441.3 597.7h0M401.0 560.1h0M372.7 530.8h0M452.5 579.4h0M451.1 568.5h0M443.0 511.4h0M405.1 522.2h0M396.4 528.8h0M522.9 551.8h0M504.2 587.1h0M495.5 608.5h0M559.3 507.6h0M454.1 558.5h0M523.6 502.1h0M397.7 523.0h0M451.6 561.6h0M486.6 530.4h0M518.6 573.2h0M484.9 520.5h0M489.7 542.5h0M487.0 576.2h0M513.3 522.0h0M396.2 563.3h0M367.7 540.8h0M488.0 568.5h0M406.7 584.0h0M489.9 579.7h0M399.6 596.4h0M567.2 507.1h0M508.1 562.2h0M447.1 565.6h0M455.8 528.9h0M455.9 604.8h0M396.4 514.3h0M491.9 609.6h0M386.8 589.0h0M565.7 544.1h0M480.9 545.9h0M483.3 620.8h0M497.3 625.8h0M447.2 550.6h0M520.4 584.4h0M388.9 536.1h0M481.8 569.3h0M391.9 507.6h0M557.9 529.3h0M373.5 528.9h0M451.3 542.8h0M551.5 509.1h0M492.3 580.6h0M520.3 560.4h0M434.5 534.9h0M473.8 560.9h0M359.1 507.7h0M566.8 513.2h0M397.3 578.0h0M392.8 518.8h0M391.0 509.3h0M473.1 543.3h0M368.7 545.9h0M487.3 561.9h0M461.4 514.5h0M574.0 506.4h0M409.8 517.6h0M421.7 544.2h0M525.7 564.9h0M454.0 516.6h0M479.3 587.9h0M383.9 558.1h0M486.7 611.7h0M419.1 549.6h0M412.4 572.7h0M488.4 604.9h0M551.6 514.2h0M485.4 514.5h0M509.1 587.7h0M498.2 526.1h0M455.5 586.3h0M454.9 515.3h0M535.8 568.6h0M493.3 531.9h0M460.8 528.9h0M441.5 591.1h0M371.6 510.8h0M478.9 562.0h0M493.7 527.8h0M396.2 588.5h0M357.4 521.4h0M500.7 556.0h0M450.9 547.9h0M478.3 517.2h0M400.9 565.7h0M465.7 583.5h0M420.8 575.4h0M478.6 528.4h0M542.3 502.8h0M531.9 534.7h0M408.7 594.7h0M466.9 498.1h0M520.3 565.4h0M583.6 515.5h0M444.0 594.4h0M477.3 502.2h0M480.3 559.6h0M402.8 514.3h0M412.6 560.2h0M384.3 529.7h0M524.8 517.0h0M434.1 526.8h0M430.1 572.0h0M426.9 511.4h0M588.8 507.6h0M357.5 564.9h0M506.4 576.4h0M396.0 556.2h0M394.8 511.3h0M540.7 555.5h0M552.1 505.2h0M508.2 579.9h0M408.5 600.5h0M498.2 531.3h0M417.6 579.6h0M472.6 497.6h0M548.8 503.1h0M460.8 548.7h0M400.0 522.2h0M507.6 539.0h0M519.2 555.5h0M472.2 511.5h0M548.1 514.8h0M426.0 524.5h0M470.1 521.6h0M490.1 521.3h0M442.1 596.7h0M441.6 563.8h0M487.9 550.6h0M391.8 522.1h0M462.7 503.6h0M565.6 528.2h0M356.3 563.2h0M410.9 510.7h0M408.7 546.5h0M427.7 559.1h0M393.4 540.7h0M386.4 549.1h0M453.6 582.3h0M441.6 522.1h0M421.5 566.6h0M447.9 517.4h0M428.7 515.1h0M577.7 515.2h0M401.7 558.8h0M455.1 498.5h0M374.3 542.4h0M412.3 549.8h0M432.7 541.1h0M391.0 594.3h0M444.1 527.6h0M368.5 508.9h0M404.4 599.2h0M418.2 568.0h0M408.4 608.7h0M395.0 589.9h0M453.6 509.5h0M479.0 553.0h0M435.4 568.4h0M492.3 543.4h0M493.2 572.4h0M470.7 507.4h0M473.2 516.1h0M467.3 579.7h0M438.4 511.0h0M394.7 587.1h0M414.3 557.0h0M513.8 504.6h0M401.8 556.5h0M370.9 543.9h0M533.9 566.8h0M433.5 558.1h0M429.5 525.0h0M378.9 526.8h0M458.6 539.8h0M394.6 552.5h0M396.0 594.5h0M520.2 507.2h0M516.0 581.4h0M372.7 543.0h0M580.9 508.0h0M374.4 537.7h0M486.7 596.0h0M389.2 568.2h0M565.1 542.8h0M507.8 509.0h0M457.0 521.8h0M504.9 546.9h0M469.5 543.7h0M511.8 501.2h0M496.4 550.0h0M474.5 509.9h0M440.5 533.5h0M420.7 583.9h0M472.9 529.9h0M461.4 513.1h0M517.6 541.2h0M532.4 554.8h0M404.1 579.1h0M491.4 519.8h0M396.2 511.1h0M463.2 552.9h0M538.0 521.5h0M378.5 509.9h0M363.7 517.9h0M430.7 560.0h0M480.6 515.7h0M403.5 506.8h0M363.5 505.3h0M453.9 529.6h0M411.5 523.9h0M539.4 548.7h0M538.9 525.7h0M363.1 513.2h0M541.1 526.5h0M394.8 555.0h0M506.9 506.0h0M502.2 558.7h0M375.7 554.8h0M484.3 543.9h0M416.7 500.5h0M500.8 502.9h0M444.0 560.8h0M395.2 548.1h0M568.2 520.4h0M462.5 568.0h0M569.7 529.2h0M425.3 502.0h0M401.0 563.4h0M477.5 514.9h0M352.2 509.9h0M386.1 565.7h0M537.5 551.6h0M403.8 570.7h0M525.8 554.3h0M434.0 537.6h0M534.2 511.5h0M502.9 587.6h0M532.9 577.4h0M447.1 584.2h0M509.6 593.1h0M433.6 515.4h0M388.7 505.0h0M469.7 519.3h0M505.3 565.5h0M415.5 558.3h0M528.6 554.2h0M516.2 512.1h0M410.7 562.9h0M439.8 578.5h0M441.7 552.1h0M530.2 570.9h0M491.1 529.7h0M538.1 554.9h0M406.7 513.5h0M463.7 599.9h0M469.4 583.8h0M407.8 590.9h0M418.9 563.7h0M420.5 585.8h0M422.6 523.1h0M497.0 530.8h0M458.4 500.5h0M431.7 534.7h0M457.8 588.9h0M405.3 568.1h0M444.2 573.7h0M493.0 618.5h0M533.0 500.1h0M484.6 557.3h0M478.8 546.4h0M533.1 513.8h0M544.8 556.3h0M412.0 552.9h0M392.3 607.2h0M376.5 571.3h0M461.5 509.6h0M431.7 527.3h0M536.0 561.1h0M465.0 523.8h0M479.3 573.9h0M526.3 500.1h0M513.7 514.4h0M427.3 521.1h0M385.1 538.4h0M384.0 547.3h0M490.4 591.2h0M471.1 518.9h0M346.4 552.3h0M508.4 550.3h0M523.6 499.9h0M454.5 610.3h0M486.7 497.2h0M434.6 570.3h0M493.6 576.7h0M450.2 608.1h0M453.7 541.4h0M482.2 605.3h0M544.3 524.0h0M471.3 540.8h0M425.6 580.0h0M349.2 501.4h0M448.3 589.5h0M519.6 514.9h0M514.7 597.0h0M410.0 525.7h0M513.8 523.2h0M380.2 507.2h0M509.4 594.5h0M405.5 526.3h0M443.7 501.6h0M435.9 555.8h0M454.7 560.3h0M491.1 540.4h0M368.7 506.9h0M476.6 593.3h0M578.4 513.2h0M529.0 525.6h0M549.9 512.9h0M520.6 536.1h0M415.1 507.3h0M542.3 516.4h0M546.3 526.2h0M377.5 555.7h0M457.2 562.7h0M493.9 535.7h0M482.1 563.8h0M407.5 569.2h0M509.2 525.1h0M485.8 526.9h0M449.2 614.6h0M519.9 561.8h0M475.9 573.2h0M473.6 540.8h0M408.2 506.5h0M421.3 510.7h0M414.8 541.1h0M465.8 577.8h0M368.8 544.4h0M528.1 519.7h0M486.6 570.7h0M502.4 561.0h0M497.8 511.0h0M507.7 541.7h0M472.4 570.3h0M420.5 581.9h0M493.1 610.6h0M538.4 563.1h0M480.8 504.8h0M505.0 545.6h0M467.9 545.5h0M422.7 534.5h0M417.7 583.0h0M458.6 583.8h0M491.0 611.8h0M541.1 567.5h0M476.4 588.0h0M450.1 550.5h0M554.5 512.7h0M390.6 557.5h0M375.0 505.0h0M516.9 532.4h0M498.8 576.5h0M398.7 548.2h0M484.5 499.4h0M503.7 555.7h0M384.8 575.7h0M460.7 583.3h0M516.8 517.6h0M481.3 511.4h0M395.9 538.0h0M389.2 522.8h0M483.6 606.9h0M412.3 538.1h0M411.3 515.9h0M552.8 503.6h0M450.1 542.2h0M409.2 568.2h0M477.0 534.8h0M411.4 521.3h0M518.1 586.8h0M548.2 523.5h0M532.7 543.1h0M438.3 512.8h0M459.5 548.8h0M402.5 505.1h0M528.0 573.5h0M485.7 566.0h0M511.9 544.3h0M506.1 563.3h0M477.1 504.8h0M469.3 539.2h0M483.8 535.0h0M397.0 552.9h0M424.3 508.5h0M432.1 537.8h0M392.0 499.9h0M395.0 526.3h0M534.9 564.3h0M507.8 531.8h0M546.1 506.9h0M567.0 522.7h0M378.9 513.3h0M549.8 518.1h0M387.4 524.9h0M546.1 520.3h0M506.0 560.8h0M489.5 517.3h0M517.3 549.6h0M492.7 594.0h0M433.5 508.6h0M451.8 595.5h0M477.0 553.1h0M434.6 544.6h0M513.2 545.9h0M515.6 533.0h0M368.5 517.9h0M466.5 557.1h0M386.3 550.9h0M495.1 549.2h0M424.4 541.6h0M430.8 502.3h0M516.2 553.0h0M480.7 563.0h0M492.0 596.7h0M514.6 600.8h0M496.6 598.6h0M427.4 527.5h0M461.7 501.1h0M415.7 562.8h0M517.8 509.8h0M456.6 533.3h0M482.6 526.0h0M477.7 547.4h0M376.3 507.5h0M466.6 511.5h0M372.4 509.4h0M455.3 542.2h0M415.0 545.5h0M400.7 585.5h0M467.4 532.8h0M509.5 560.7h0M410.3 537.7h0M381.7 542.6h0M423.0 543.0h0M467.5 515.4h0M431.2 517.9h0M434.6 572.2h0M411.3 564.3h0M383.4 514.4h0M545.1 559.0h0M415.0 537.6h0M416.1 505.0h0M487.3 572.5h0M407.5 556.7h0M500.1 500.2h0M492.7 530.6h0M379.7 503.2h0M525.2 526.3h0M384.7 579.1h0M421.5 528.7h0M404.8 573.0h0M384.4 551.6h0M490.8 606.9h0M429.1 539.3h0M518.3 596.1h0M477.4 576.0h0M490.4 573.0h0M398.6 551.5h0M485.8 555.5h0M481.1 588.1h0M406.8 519.8h0M373.0 512.8h0M455.7 580.5h0M534.5 549.4h0M414.6 583.4h0M522.4 573.4h0M372.9 545.4h0M513.4 576.3h0M409.5 539.5h0M516.3 551.4h0M567.9 545.4h0M445.5 508.8h0M405.2 538.5h0M484.3 517.4h0M481.8 610.7h0M422.0 548.0h0M477.1 578.7h0M493.7 581.2h0M460.6 581.9h0M482.5 528.2h0M394.1 515.1h0M443.8 522.2h0M518.7 535.8h0M495.0 528.4h0M417.8 532.1h0M380.6 552.5h0M424.3 586.8h0M439.9 548.6h0M431.5 561.5h0M354.5 516.4h0M379.9 538.2h0M509.0 533.5h0M383.7 523.1h0M582.1 510.9h0M347.9 520.1h0M492.3 620.2h0M393.6 577.2h0M397.6 535.1h0M424.7 503.5h0M475.5 569.8h0M506.5 585.0h0M424.7 534.3h0M511.6 572.2h0M404.9 500.2h0M499.1 602.0h0M462.8 540.7h0M481.0 604.3h0M395.9 581.2h0M388.5 573.7h0M429.7 580.0h0M571.7 500.3h0M414.4 562.3h0M541.0 512.1h0M541.1 564.7h0M534.1 534.0h0M578.0 504.5h0M530.5 559.4h0M480.9 535.8h0M447.6 522.7h0M357.2 513.9h0M427.0 581.4h0M500.7 587.3h0M526.1 550.2h0M447.2 506.1h0M403.8 525.1h0M483.6 604.7h0M490.4 523.4h0M541.3 518.0h0M487.3 509.4h0M535.3 540.5h0M456.9 501.4h0M568.3 500.7h0M488.1 583.9h0M428.9 560.9h0M449.2 517.6h0M403.7 528.9h0M454.5 522.6h0M404.1 591.1h0M450.2 595.4h0M424.3 555.7h0M486.1 544.9h0M475.0 571.4h0M435.6 585.4h0M510.8 559.2h0M474.6 500.4h0M473.3 499.3h0M437.8 587.3h0M385.2 560.5h0M492.3 553.7h0M482.2 618.8h0M412.5 507.3h0M391.2 607.8h0M400.9 586.7h0M460.4 519.4h0M511.4 560.6h0M433.4 554.1h0M432.2 590.5h0M465.5 548.3h0M537.5 504.8h0M386.6 511.8h0M522.2 590.4h0M446.6 523.6h0M481.9 508.4h0M484.8 600.2h0M506.3 520.4h0M437.2 563.8h0M416.5 584.0h0M449.7 562.5h0M493.7 590.5h0M427.5 503.1h0M454.2 564.4h0M456.0 502.5h0M494.4 594.0h0M421.8 503.1h0M390.8 537.0h0M505.5 595.2h0M528.6 567.9h0M391.8 599.2h0M487.5 558.9h0M370.3 508.3h0M409.9 557.7h0M534.7 517.4h0M475.8 595.0h0M373.7 519.8h0M504.9 592.2h0M498.7 617.2h0M407.4 512.2h0M402.6 563.7h0M492.6 504.4h0M511.8 599.8h0M572.6 511.9h0M432.2 587.0h0M497.0 532.3h0M491.2 571.0h0M383.4 525.0h0M516.8 562.9h0M395.2 576.2h0M432.4 578.2h0M535.4 563.2h0M486.7 514.2h0M426.7 569.6h0M405.6 550.3h0M514.8 584.4h0M425.1 527.0h0M563.9 541.9h0M466.3 596.4h0M483.8 550.4h0M476.3 539.3h0M518.5 513.0h0M488.2 540.8h0M469.3 540.8h0M392.1 510.2h0M441.8 543.6h0M373.5 505.4h0M487.8 598.4h0M414.8 550.3h0M507.1 583.2h0M375.5 508.7h0M510.1 540.6h0M412.5 577.9h0M406.6 532.7h0M458.7 582.2h0M442.1 602.2h0M360.5 503.3h0M568.5 531.3h0M404.7 597.2h0M445.3 579.1h0M477.9 588.5h0M501.7 539.1h0M459.2 564.0h0M455.9 599.8h0M385.6 588.7h0M374.7 541.0h0M477.3 492.4h0M495.3 610.8h0M540.0 519.1h0M446.5 605.6h0M489.4 613.9h0M506.4 599.4h0M382.8 536.0h0M428.8 505.2h0M412.4 513.5h0M465.1 594.7h0M435.9 536.9h0M417.5 557.0h0M499.1 573.6h0M462.8 551.7h0M392.0 558.5h0M478.2 499.5h0M460.7 597.7h0M522.3 549.3h0M508.9 536.7h0M401.9 592.9h0M496.7 624.6h0M456.0 505.0h0M393.7 607.5h0M507.0 535.1h0M423.8 560.4h0M491.7 498.4h0M469.7 549.9h0M361.5 527.9h0M517.0 537.8h0M431.6 557.1h0M482.1 506.7h0M513.6 506.5h0M462.5 549.2h0M450.8 552.6h0M521.5 530.7h0M394.6 559.4h0M398.8 586.0h0M358.5 510.0h0M491.4 548.9h0M379.2 561.2h0M465.7 549.8h0M457.7 596.8h0M513.0 557.7h0M435.1 583.8h0M421.5 505.9h0M553.0 506.1h0M374.5 550.7h0M433.0 504.4h0M508.9 507.9h0M370.1 525.3h0M470.1 556.7h0M372.2 546.5h0M588.0 502.8h0M462.3 555.0h0M498.4 540.5h0M570.0 511.2h0M498.0 533.9h0M380.7 505.3h0M397.4 576.5h0M400.7 532.7h0M537.7 548.5h0M554.8 507.6h0M412.8 515.0h0M432.9 588.6h0M366.8 550.4h0M442.2 556.8h0M437.6 561.3h0M370.1 545.8h0M417.8 502.5h0M424.8 538.5h0M505.7 602.7h0M399.8 519.4h0M499.6 540.5h0M498.5 536.4h0M384.5 522.1h0M417.9 534.4h0M374.0 534.6h0M386.8 590.7h0M468.9 526.2h0M569.4 502.5h0M392.3 597.1h0M500.8 545.0h0M401.2 576.6h0M350.0 510.3h0M429.5 586.4h0M500.0 534.9h0M461.0 521.6h0M445.7 519.0h0M450.9 565.8h0M456.2 577.0h0M464.0 568.5h0M387.2 561.0h0M363.8 526.6h0M457.1 497.9h0M492.3 518.4h0M411.7 542.3h0M346.1 503.9h0M489.2 575.4h0M490.1 604.5h0M479.1 512.0h0M483.9 492.9h0M395.6 550.2h0M370.3 506.0h0M463.2 603.8h0M366.5 522.1h0M482.1 504.5h0M465.5 502.0h0M438.3 525.1h0M461.2 508.0h0M483.2 562.6h0M496.5 561.9h0M419.7 561.1h0M495.6 625.3h0M392.9 586.2h0M368.2 554.2h0M474.6 552.7h0M492.5 503.1h0M427.9 517.6h0M568.5 532.9h0M425.7 541.8h0M423.8 520.5h0M408.3 517.5h0M381.2 560.3h0M437.3 589.4h0M475.1 568.2h0M543.7 510.6h0M531.6 517.7h0M492.5 611.9h0M429.8 569.6h0M504.3 561.1h0M552.7 521.9h0M463.4 555.8h0M510.2 548.8h0M512.2 590.9h0M530.3 510.5h0M433.4 519.3h0M391.9 587.1h0M559.2 529.0h0M428.2 522.3h0M520.2 519.0h0M442.4 548.4h0M373.7 509.6h0M452.7 519.2h0M489.0 577.4h0M533.0 506.6h0M448.0 511.1h0M444.7 510.1h0M409.1 591.8h0M356.1 538.3h0M463.4 516.2h0M388.5 572.1h0M377.1 526.7h0M485.0 522.4h0M514.1 598.6h0M472.0 547.1h0M523.2 550.3h0M496.4 589.2h0M487.7 613.4h0M529.6 543.2h0M482.6 560.3h0M562.6 550.1h0M502.6 579.6h0M440.0 576.6h0M475.6 574.6h0M494.3 578.7h0M361.6 507.4h0M476.0 514.1h0M442.9 506.9h0M417.3 518.8h0M509.2 514.2h0M560.2 506.6h0M534.6 506.5h0M523.9 538.1h0M451.7 518.2h0M451.5 506.2h0M440.0 501.2h0M459.3 530.5h0M398.6 546.4h0M380.4 568.3h0M533.6 532.5h0M462.6 546.1h0M581.9 505.6h0M480.9 500.6h0M541.2 547.8h0M473.3 493.8h0M575.5 516.9h0M381.1 515.8h0M454.5 505.4h0M425.8 563.5h0M466.7 574.1h0M488.4 502.0h0M425.7 505.9h0M424.2 551.1h0M491.4 551.2h0M421.6 557.1h0M529.6 536.3h0M405.6 533.8h0M424.2 526.1h0M487.1 528.6h0M474.9 539.7h0M450.2 603.1h0M448.5 508.3h0M465.6 541.7h0M385.9 501.0h0M440.0 503.2h0M371.2 552.3h0M471.6 502.1h0M430.6 500.2h0M553.1 519.5h0M538.8 501.5h0M451.4 530.2h0M589.4 509.4h0M521.4 534.1h0M389.0 594.9h0M399.1 560.4h0M496.4 551.9h0M503.1 578.1h0M438.7 541.1h0M428.8 585.1h0M498.5 567.2h0M356.5 551.3h0M510.1 501.7h0M353.5 561.7h0M404.6 575.3h0M522.7 588.1h0M509.8 506.9h0M414.3 578.0h0M510.7 523.5h0M383.3 586.1h0M525.3 512.9h0M539.7 511.6h0M500.6 550.4h0M357.4 538.5h0M503.6 529.6h0M524.5 532.8h0M455.3 607.7h0M491.3 542.5h0M448.0 600.7h0M466.1 503.4h0M378.0 531.1h0M414.2 582.1h0M573.8 509.9h0M532.8 521.5h0M370.4 523.0h0M358.4 501.5h0M438.8 562.8h0M427.2 576.6h0M378.9 563.9h0M396.9 574.2h0M368.6 564.0h0M494.8 508.3h0M485.2 568.2h0M381.6 535.3h0M413.2 529.3h0M353.6 565.2h0M521.5 553.8h0M523.1 572.0h0M390.8 529.7h0M370.1 517.2h0M478.1 570.6h0M385.1 527.8h0M424.3 546.2h0M513.3 501.2h0M480.9 542.1h0M531.0 540.1h0M524.9 539.0h0M464.5 506.8h0M499.8 507.5h0M453.8 569.5h0M416.4 578.8h0M450.4 573.2h0M394.2 505.9h0M545.5 516.2h0M512.7 585.2h0M500.1 570.1h0M520.0 505.3h0M385.0 542.9h0M495.0 576.1h0M543.4 503.5h0M346.5 545.6h0M499.7 596.1h0M567.9 538.8h0M419.7 539.9h0M454.7 530.9h0M453.4 511.0h0M435.5 527.3h0M387.8 558.9h0M352.0 551.4h0M518.3 594.8h0M526.9 546.5h0M371.0 534.9h0M370.9 557.8h0M365.9 555.7h0M424.3 563.9h0M476.2 506.7h0M517.3 500.6h0M377.0 503.9h0M498.8 626.3h0M454.0 572.1h0M484.3 503.9h0M416.8 514.6h0M490.9 508.0h0M493.1 540.7h0M571.6 508.3h0M538.1 523.6h0M385.8 555.2h0M460.8 600.1h0M531.0 530.0h0M524.7 535.1h0M394.8 540.6h0M399.8 591.8h0M502.7 549.4h0M424.8 544.5h0M495.3 592.3h0M366.7 506.3h0M525.3 543.5h0M514.9 566.4h0M514.1 560.8h0M360.7 521.5h0M456.3 555.1h0M473.0 495.4h0M477.3 564.9h0M388.4 578.8h0M425.6 519.3h0M481.2 521.6h0M393.2 598.0h0M562.4 518.5h0M495.1 567.2h0M530.2 568.0h0M463.3 590.7h0M491.2 581.5h0M489.1 513.4h0M458.9 524.4h0M491.3 510.8h0M537.8 527.3h0M565.7 554.0h0M482.4 545.6h0M496.6 496.1h0M503.5 507.5h0M419.5 582.9h0M520.8 593.3h0M353.1 513.3h0M435.4 554.1h0M466.1 563.0h0M445.0 592.8h0M472.5 523.3h0M546.9 558.4h0M419.4 530.9h0M387.9 565.4h0M392.9 535.7h0M375.5 533.2h0M370.6 565.3h0M555.1 524.1h0M478.7 521.5h0M417.0 511.3h0M418.0 529.1h0M488.2 565.2h0M497.1 555.7h0M449.8 589.1h0M488.7 561.3h0M575.6 511.4h0M445.8 511.8h0M370.3 550.6h0M518.5 598.4h0M378.8 515.7h0M441.8 576.0h0M409.7 522.6h0M494.5 603.5h0M489.2 581.3h0M347.8 543.6h0M523.4 547.6h0M507.2 543.3h0M455.5 519.8h0M377.9 560.2h0M394.6 574.4h0M496.2 581.3h0M496.2 529.8h0M542.0 521.9h0M450.8 534.0h0M396.4 541.1h0M528.7 546.0h0M459.2 569.5h0M384.2 556.9h0M443.9 557.5h0M451.9 583.7h0M393.6 566.2h0M408.7 538.2h0M494.5 636.6h0M509.8 602.2h0M467.6 588.3h0M376.6 540.6h0M551.1 511.1h0M400.4 524.3h0M467.3 537.2h0M520.0 581.9h0M452.7 589.0h0M497.9 627.6h0M405.1 531.4h0M397.0 595.5h0M481.3 525.5h0M518.3 551.1h0M375.2 518.6h0M444.5 518.2h0M488.5 567.0h0M453.1 515.7h0M542.9 555.7h0M457.1 499.3h0M434.9 530.7h0M469.1 579.0h0M496.6 509.4h0M480.4 596.3h0M458.5 545.7h0M441.8 586.7h0M354.5 543.3h0M410.6 547.3h0M477.0 585.8h0M394.6 535.0h0M518.0 561.2h0M483.2 564.6h0M441.0 505.9h0M494.8 601.4h0M409.1 597.8h0M525.7 558.1h0M476.7 558.8h0M483.7 625.9h0M468.1 549.5h0M433.9 522.7h0M521.0 544.6h0M532.0 527.8h0M517.0 565.4h0M510.0 537.7h0M427.0 551.0h0M498.1 615.7h0M531.5 513.2h0M550.8 501.5h0M452.4 568.7h0M569.5 518.2h0M512.5 554.0h0M406.1 596.4h0M490.1 539.4h0M393.3 554.3h0M523.0 563.8h0M561.0 518.0h0M399.8 612.3h0M529.5 506.1h0M464.8 542.9h0M503.6 552.5h0M494.9 522.6h0M451.0 593.2h0M486.0 541.4h0M449.4 593.9h0M368.6 530.6h0M494.6 518.6h0M434.3 582.1h0M428.3 582.2h0M456.2 537.8h0M421.0 537.4h0M505.1 530.3h0M381.3 558.0h0M556.3 502.6h0M492.6 561.0h0M493.5 565.5h0M447.6 611.3h0M505.9 571.0h0M486.1 534.3h0M463.6 586.3h0M438.4 578.7h0M517.7 531.5h0M560.6 501.2h0M507.0 507.3h0M401.0 536.1h0M541.6 505.1h0M544.6 506.0h0M440.2 532.2h0M517.3 519.5h0M452.3 551.0h0M497.4 591.8h0M440.3 571.8h0M558.5 525.0h0M396.4 523.3h0M527.7 563.7h0M275.8 534.2h0M278.5 523.8h0M275.5 529.7h0M279.7 527.3h0M276.9 526.7h0M280.9 526.4h0M274.9 526.3h0M279.9 534.2h0M281.3 519.4h0M281.7 522.8h0M277.2 521.3h0M284.9 531.0h0M281.0 524.6h0M276.7 524.5h0M283.5 529.9h0M282.9 532.0h0M279.0 528.6h0M280.0 532.3h0M278.2 525.1h0M279.2 536.8h0M278.0 530.0h0M277.6 534.9h0M273.1 532.6h0M547.6 567.1h0M543.5 574.0h0M558.2 561.8h0M547.8 571.6h0M559.9 555.4h0M558.4 557.4h0M550.2 566.8h0M556.8 562.1h0M551.4 567.7h0M549.0 573.6h0M560.2 561.2h0M549.3 571.4h0M547.2 570.0h0M562.6 559.9h0M558.1 564.6h0M547.6 568.6h0M554.2 566.0h0M555.3 559.5h0M545.6 568.1h0M564.6 555.5h0M551.6 564.5h0M553.9 561.0h0M557.2 560.2h0M556.8 565.4h0M552.8 566.0h0M552.4 570.4h0M508.0 628.8h0M520.6 628.9h0M515.9 633.9h0M506.6 632.8h0M521.5 629.9h0M513.6 632.5h0M512.9 631.5h0M518.0 624.1h0M516.7 630.6h0M513.9 629.8h0M511.3 633.8h0M517.1 626.8h0M519.4 630.4h0M520.0 627.7h0M517.8 630.0h0M507.5 625.5h0M520.7 632.7h0M507.8 630.8h0M508.6 627.4h0M513.5 621.5h0M513.5 625.3h0M517.4 631.9h0M510.1 631.5h0M512.5 629.8h0M518.0 633.2h0M511.9 628.4h0M505.7 627.7h0M516.9 634.8h0M516.3 637.4h0M516.0 635.9h0M513.5 633.9h0M511.9 623.9h0M480.4 625.1h0M493.4 643.3h0M482.0 629.9h0M485.5 636.1h0M491.0 640.3h0M483.5 632.4h0M488.1 635.9h0M490.2 636.1h0M489.1 637.3h0M483.6 630.7h0M491.6 642.3h0M482.5 624.8h0M487.6 632.3h0M495.3 642.5h0M483.6 627.7h0M494.6 638.5h0M487.9 637.9h0M494.3 644.4h0M484.0 634.1h0M480.6 629.2h0M494.2 639.7h0M486.6 628.7h0M512.1 650.1h0M515.0 649.9h0M513.2 648.3h0M501.4 650.7h0M510.0 649.5h0M510.8 652.1h0M499.9 647.9h0M504.4 648.6h0M533.2 632.7h0M527.6 637.5h0M527.4 635.2h0M527.7 633.9h0M532.1 634.4h0M527.5 631.7h0M532.7 629.6h0M530.3 634.3h0M525.4 631.3h0M531.8 636.2h0M531.1 629.4h0M531.7 632.5h0M533.8 611.3h0M535.8 613.0h0M534.8 608.5h0M536.5 614.6h0M534.5 615.4h0M536.9 622.7h0M531.2 618.1h0M532.3 610.6h0M533.3 612.9h0M530.8 615.5h0M539.0 622.6h0M532.8 618.3h0M537.3 620.2h0M554.3 635.7h0M558.4 637.6h0M571.1 639.8h0M559.3 636.3h0M563.0 639.5h0M560.1 637.9h0M575.1 646.0h0M552.3 634.8h0M565.8 639.3h0M561.2 642.1h0M568.9 636.8h0M565.8 636.9h0M555.4 632.1h0M555.8 635.6h0M563.6 643.5h0M565.3 642.3h0M563.2 634.0h0M559.7 641.9h0M570.4 644.2h0M564.7 635.5h0M566.6 644.0h0M561.2 639.4h0M552.9 638.4h0M566.7 635.7h0M551.8 632.6h0M569.2 645.2h0M564.3 638.9h0M567.9 637.8h0M568.0 643.4h0M552.4 636.9h0M554.2 637.8h0M570.3 647.1h0M556.1 637.7h0M572.4 641.7h0M568.5 640.9h0M563.3 635.7h0M556.0 634.0h0M550.4 634.4h0M572.1 646.1h0M570.5 642.2h0M557.6 636.4h0M567.4 645.1h0M572.5 643.7h0M552.5 671.3h0M554.2 666.5h0M549.6 665.0h0M541.6 675.7h0M522.7 681.6h0M525.3 685.1h0M549.8 677.7h0M534.8 668.6h0M525.8 663.9h0M528.8 684.3h0M530.2 666.6h0M573.3 674.2h0M537.2 677.3h0M573.2 692.8h0M575.7 682.4h0M545.0 658.5h0M561.2 678.4h0M558.3 662.1h0M561.9 665.3h0M535.2 673.4h0M548.0 670.4h0M532.7 671.3h0M514.3 675.8h0M519.6 666.5h0M542.7 681.4h0M569.9 691.6h0M529.1 668.5h0M553.8 690.1h0M538.2 673.3h0M553.3 678.8h0M556.1 688.1h0M547.8 680.2h0M521.3 684.3h0M559.5 679.7h0M555.4 673.9h0M556.9 678.6h0M566.7 670.8h0M576.6 688.9h0M526.2 667.9h0M537.1 681.1h0M526.6 674.9h0M530.8 664.8h0M517.4 680.1h0M526.7 671.5h0M547.7 662.0h0M560.2 676.4h0M544.0 659.5h0M567.4 676.0h0M513.1 679.5h0M545.3 659.8h0M554.3 682.3h0M580.0 682.2h0M551.6 685.0h0M562.1 668.8h0M529.2 681.6h0M536.5 673.2h0M555.8 686.8h0M557.7 691.1h0M540.8 681.5h0M532.9 678.7h0M553.0 674.6h0M520.6 677.9h0M549.9 681.8h0M533.6 684.2h0M560.9 683.9h0M571.4 690.0h0M526.5 672.8h0M558.6 672.6h0M547.6 678.8h0M560.3 674.9h0M546.3 680.6h0M574.5 675.2h0M556.6 656.1h0M565.3 674.8h0M533.8 661.1h0M515.1 677.4h0M573.1 676.9h0M523.0 670.7h0M572.6 671.4h0M526.9 679.4h0M515.7 685.2h0M552.2 680.0h0M555.2 676.2h0M538.4 661.1h0M552.6 664.1h0M516.8 684.3h0M562.2 690.0h0M540.7 660.4h0M549.6 661.0h0M550.2 684.1h0M571.9 678.9h0M535.8 677.3h0M570.2 685.7h0M522.6 680.0h0M519.4 675.4h0M527.6 670.3h0M539.0 662.7h0M564.6 668.5h0M544.6 665.4h0M533.5 675.7h0M564.5 685.1h0M550.8 666.6h0M575.3 689.7h0M565.0 695.7h0M541.0 656.8h0M521.0 669.4h0M528.5 675.2h0M581.6 684.2h0M547.7 667.2h0M536.8 682.6h0M532.2 676.9h0M530.1 677.9h0M557.6 692.5h0M521.6 675.1h0M566.7 684.9h0M523.9 675.3h0M579.1 685.9h0M558.5 683.3h0M550.8 672.0h0M556.4 662.3h0M556.8 673.0h0M563.3 682.4h0M537.8 668.3h0M561.4 672.5h0M560.7 666.7h0M558.5 671.0h0M554.3 675.2h0M535.8 670.5h0M553.8 662.7h0M538.9 664.3h0M530.8 680.9h0M567.7 695.8h0M559.7 688.3h0M516.4 687.9h0M536.0 657.5h0M522.2 666.2h0M559.5 684.9h0M571.3 691.5h0M540.9 679.3h0M537.2 671.1h0M532.5 660.5h0M560.8 681.4h0M566.0 682.6h0M531.8 665.6h0M569.1 692.7h0M566.4 693.7h0M558.9 663.5h0M532.5 668.3h0M564.0 670.0h0M542.7 677.3h0M557.5 689.1h0M527.2 684.6h0M545.9 661.7h0M565.3 686.6h0M519.1 684.6h0M530.9 683.9h0M582.5 679.5h0M568.7 686.9h0M557.2 674.4h0M521.6 673.1h0M542.6 673.0h0M525.4 675.7h0M565.8 676.5h0M574.8 678.2h0M539.3 682.2h0M533.8 677.8h0M569.5 668.5h0M555.8 683.7h0M562.9 679.9h0M565.7 688.9h0M564.4 679.4h0M547.9 663.2h0M569.8 675.9h0M517.7 689.8h0M546.7 671.3h0M521.4 689.0h0M540.1 658.5h0M517.8 671.6h0M552.9 661.5h0M577.4 692.9h0M577.5 685.5h0M566.9 690.6h0M538.0 682.0h0M571.9 697.0h0M544.9 676.4h0M554.0 671.8h0M553.2 658.3h0M565.5 670.3h0M547.6 677.3h0M549.3 675.9h0M574.0 679.9h0M572.6 680.4h0M568.3 690.7h0M535.2 664.3h0M570.3 672.7h0M538.1 670.1h0M567.7 667.4h0M564.1 674.0h0M528.2 673.2h0M524.9 681.8h0M569.0 683.6h0M522.5 683.6h0M568.9 695.6h0M535.5 679.9h0M543.3 672.0h0M563.6 663.7h0M544.7 661.3h0M524.6 666.7h0M542.0 668.8h0M566.6 686.3h0M514.9 683.3h0M519.2 669.0h0M564.5 688.9h0M549.2 680.5h0M513.0 673.8h0M533.6 664.3h0M528.7 662.6h0M576.4 677.5h0M554.3 669.2h0M518.4 677.8h0M539.5 666.8h0M576.5 691.1h0M526.0 678.2h0M515.8 678.8h0M566.9 672.4h0M530.8 661.5h0M546.8 672.6h0M519.8 685.8h0M563.2 671.1h0M540.0 683.7h0M575.0 687.5h0M538.3 679.2h0M576.1 679.0h0M574.2 681.4h0M540.3 678.3h0M556.4 685.5h0M568.6 681.0h0M537.1 685.6h0M562.3 684.0h0M550.9 674.7h0M515.6 680.8h0M549.6 669.4h0M553.0 666.1h0M530.4 674.1h0M527.9 666.2h0M555.6 681.0h0M576.3 680.7h0M560.2 669.8h0M564.4 692.5h0M578.9 676.2h0M551.4 687.4h0M549.5 673.8h0M557.4 686.6h0M527.8 668.2h0M512.3 675.8h0M513.8 682.6h0M568.1 673.6h0M552.6 684.0h0M549.6 658.7h0M564.7 666.7h0M553.5 655.9h0M561.6 677.0h0M524.7 677.1h0M518.9 672.4h0M537.3 660.0h0M557.5 665.7h0M547.6 675.9h0M546.4 658.7h0M542.0 666.2h0M520.6 676.3h0M566.3 668.2h0M561.5 685.3h0M528.5 682.7h0M516.7 674.5h0M542.2 657.6h0M559.9 668.4h0M555.1 660.9h0M527.4 681.6h0M541.9 659.4h0M546.3 676.4h0M545.4 656.3h0M564.1 675.9h0M552.6 669.8h0M521.1 687.6h0M544.9 666.8h0M531.4 678.8h0M532.2 674.8h0M573.9 683.9h0M558.3 685.5h0M534.7 671.4h0M541.0 667.7h0M525.3 672.1h0M549.1 672.1h0M519.5 682.1h0M530.4 662.9h0M559.8 693.2h0M523.0 691.0h0M522.1 667.5h0M516.7 669.7h0M543.8 655.2h0M576.7 683.6h0M562.6 688.7h0M560.4 665.3h0M512.2 683.4h0M556.8 683.0h0M536.8 665.8h0M562.4 694.5h0M551.0 680.2h0M514.7 671.1h0M562.5 681.5h0M571.4 694.6h0M549.8 667.6h0M539.0 657.3h0M517.2 682.3h0M578.3 683.4h0M531.1 667.6h0M540.8 669.4h0M533.9 679.5h0M513.9 681.0h0M578.9 687.3h0M512.4 681.1h0M579.1 692.4h0M561.1 660.2h0M512.5 677.9h0M579.4 689.2h0M531.6 658.9h0M544.3 668.3h0M523.8 665.6h0M533.6 665.9h0M546.5 660.5h0M555.1 665.0h0M543.3 680.1h0M559.1 677.5h0M553.1 676.5h0M541.4 671.2h0M571.0 706.5h0M571.8 704.4h0M573.7 703.1h0M453.1 620.9h0M456.6 622.2h0M456.2 619.3h0M587.8 709.7h0M315.3 491.1h0M320.0 487.1h0M310.4 491.2h0M316.1 487.1h0M312.0 490.1h0M313.5 488.3h0M314.0 490.5h0M317.0 488.5h0M317.7 486.6h0M323.4 486.9h0"/>
<path stroke-opacity="0.9" stroke-width="1.4" d="M99.1 565.5h0M96.0 575.2h0M116.9 513.0h0M99.7 500.5h0M137.8 518.0h0M112.1 523.0h0M169.2 515.9h0M137.5 514.8h0M116.3 521.5h0M64.9 515.1h0M110.6 545.1h0M96.7 516.3h0M170.4 565.1h0M124.5 487.2h0M108.4 519.6h0M87.6 546.3h0M153.2 545.9h0M61.8 519.2h0M158.2 540.4h0M195.7 548.7h0M134.1 553.8h0M145.1 552.1h0M108.2 541.1h0M92.6 516.6h0M160.5 540.0h0M112.1 501.8h0M95.1 510.4h0M109.2 498.9h0M137.2 527.3h0M149.4 566.3h0M143.4 582.2h0M167.3 621.8h0M82.4 540.7h0M165.5 565.0h0M152.4 536.9h0M143.6 486.4h0M65.5 516.5h0M125.5 517.3h0M143.7 491.6h0M171.7 537.7h0M129.5 521.8h0M78.6 524.8h0M139.3 524.1h0M53.8 509.5h0M109.7 554.8h0M114.4 583.3h0M137.6 584.0h0M126.7 561.9h0M183.9 549.7h0M82.0 516.7h0M80.4 529.9h0M116.0 504.3h0M93.1 534.1h0M174.2 522.3h0M193.4 547.8h0M140.9 526.2h0M129.6 556.5h0M134.1 567.3h0M161.4 542.9h0M124.8 534.5h0M169.2 507.4h0M157.5 550.1h0M123.7 571.5h0M178.3 530.8h0M196.1 544.5h0M116.2 585.7h0M137.1 553.2h0M112.2 529.8h0M187.2 539.8h0M164.9 561.9h0M99.5 524.1h0M109.6 502.3h0M98.1 563.4h0M44.2 516.6h0M96.6 571.9h0M150.4 551.1h0M108.3 581.0h0M160.2 553.2h0M138.7 544.8h0M195.3 536.7h0M110.7 569.8h0M52.3 514.6h0M121.4 586.9h0M166.4 551.0h0M92.2 518.8h0M149.9 599.0h0M175.1 555.2h0M103.3 553.8h0M121.4 548.1h0M167.2 575.1h0M120.0 566.9h0M173.5 512.8h0M135.4 560.2h0M136.5 579.3h0M106.4 570.0h0M149.5 615.8h0M119.5 559.9h0M154.5 513.0h0M124.3 576.5h0M128.6 493.6h0M147.0 599.9h0M130.8 562.9h0M149.1 596.5h0M127.3 487.8h0M97.5 496.6h0M130.0 527.7h0M62.9 510.1h0M134.4 528.5h0M176.3 543.9h0M143.6 535.0h0M97.0 551.0h0M139.6 561.9h0M176.7 564.9h0M132.4 567.1h0M102.1 563.8h0M46.5 520.5h0M107.7 549.6h0M111.4 576.4h0M88.0 555.3h0M161.6 558.1h0M171.5 488.1h0M79.2 519.4h0M99.4 503.4h0M113.5 562.2h0M133.2 510.3h0M142.1 553.3h0M178.4 569.0h0M155.8 562.0h0M153.5 547.3h0M173.2 564.2h0M43.9 519.2h0M129.4 541.2h0M125.1 585.6h0M101.2 504.2h0M132.2 501.0h0M148.7 508.7h0M172.1 519.3h0M138.9 506.7h0M183.9 561.1h0M191.1 544.5h0M95.3 539.6h0M117.7 574.5h0M137.3 524.4h0M57.8 511.5h0M140.3 600.2h0M176.4 540.0h0M100.2 566.5h0M122.4 505.1h0M101.5 507.0h0M107.7 572.8h0M143.7 562.8h0M160.2 511.7h0M179.9 563.8h0M127.3 547.3h0M124.6 523.9h0M96.8 500.9h0M106.6 524.1h0M143.2 499.8h0M112.3 506.5h0M75.7 525.4h0M134.0 593.0h0M132.5 496.7h0M115.6 566.0h0M137.7 522.1h0M106.1 566.2h0M79.9 523.5h0M114.4 572.7h0M69.4 517.6h0M57.5 509.4h0M97.0 518.4h0M142.5 578.6h0M64.7 510.1h0M164.5 625.8h0M162.9 494.3h0M139.8 581.5h0M139.0 493.2h0M171.7 485.4h0M128.1 593.3h0M134.3 579.3h0M138.6 572.4h0M155.4 550.6h0M157.8 488.1h0M74.7 519.9h0M145.8 547.6h0M121.9 585.3h0M138.5 557.8h0M144.6 482.0h0M119.5 508.8h0M113.2 587.6h0M40.6 514.8h0M103.3 505.1h0M130.5 498.4h0M171.8 575.2h0M173.1 521.8h0M133.9 534.9h0M103.6 574.0h0M123.4 495.1h0M103.1 520.2h0M168.6 549.6h0M155.8 577.1h0M117.1 503.3h0M124.7 548.7h0M127.0 523.7h0M83.8 509.6h0M175.1 535.8h0M135.7 530.3h0M54.3 516.1h0M120.1 548.7h0M130.7 578.9h0M137.9 555.5h0M107.6 518.1h0M103.2 544.2h0M135.1 557.8h0M126.1 598.0h0M99.6 576.1h0M150.3 572.1h0M151.9 554.0h0M107.8 555.0h0M129.3 560.3h0M124.7 536.0h0M180.8 566.4h0M165.4 517.0h0M97.4 499.5h0M99.3 531.1h0M102.9 515.8h0M151.5 564.3h0M98.0 538.8h0M101.4 497.8h0M134.6 502.8h0M112.6 569.8h0M112.1 514.2h0M97.5 542.2h0M91.9 547.3h0M89.4 558.2h0M65.5 525.3h0M114.3 504.3h0M113.6 554.5h0M122.9 574.3h0M170.1 489.9h0M109.8 539.2h0M91.9 543.5h0M147.9 542.1h0M172.0 539.6h0M104.8 512.5h0M128.0 552.4h0M150.6 576.8h0M103.4 525.2h0M91.5 537.7h0M133.7 598.5h0M145.2 573.3h0M180.3 535.2h0M156.3 492.7h0M149.1 563.8h0M173.5 545.5h0M96.8 527.3h0M121.3 498.3h0M120.1 557.6h0M98.3 573.4h0M59.5 511.7h0M122.4 562.4h0M79.3 535.6h0M89.0 540.2h0M68.4 524.5h0M131.4 548.3h0M108.5 559.4h0M162.1 575.7h0M104.8 557.9h0M141.2 510.1h0M176.1 513.2h0M123.2 504.1h0M142.3 504.3h0M117.3 579.1h0M84.9 523.5h0M170.5 624.9h0M169.0 482.6h0M135.5 542.4h0M150.0 501.1h0M134.9 526.2h0M125.8 582.3h0M91.4 530.1h0M90.3 534.7h0M172.3 513.1h0M73.0 517.4h0M139.2 535.9h0M90.8 562.3h0M140.6 604.8h0M92.4 511.5h0M177.2 536.4h0M145.2 563.4h0M128.5 497.1h0M142.7 608.1h0M100.6 527.2h0M145.0 581.0h0M53.1 504.7h0M152.7 568.0h0M108.9 561.9h0M62.6 517.0h0M139.8 545.6h0M98.1 556.9h0M179.7 559.7h0M163.8 573.7h0M160.3 496.7h0M134.4 603.4h0M178.4 537.5h0M142.3 606.8h0M166.6 493.7h0M164.4 615.8h0M147.5 540.1h0M129.3 511.9h0M122.3 517.3h0M106.2 580.3h0M111.3 518.5h0M103.5 577.8h0M170.9 550.8h0M116.8 530.7h0M125.4 596.4h0M144.9 539.2h0M188.2 529.9h0M84.6 516.7h0M135.6 569.3h0M49.8 517.3h0M109.9 572.5h0M154.5 551.7h0M126.8 541.0h0M171.6 529.7h0M100.2 539.1h0M169.3 506.0h0M144.3 542.9h0M103.1 575.2h0M147.4 567.2h0M170.0 538.9h0M155.2 549.0h0M104.8 529.0h0M103.5 557.3h0M179.7 537.6h0M171.7 511.2h0M166.3 571.8h0M138.3 570.1h0M178.8 539.1h0M42.1 515.2h0M83.0 531.2h0M117.9 546.0h0M82.5 513.4h0M144.9 511.1h0M92.6 550.4h0M95.4 530.8h0M157.2 617.3h0M165.9 507.0h0M55.5 506.9h0M118.4 571.2h0M155.4 578.7h0M166.3 545.1h0M176.8 523.1h0M121.7 544.8h0M189.5 538.1h0M134.5 511.0h0M113.5 519.4h0M121.7 575.7h0M191.9 537.2h0M129.8 487.8h0M117.8 508.3h0M128.7 570.7h0M151.0 493.3h0M137.2 528.9h0M90.5 564.4h0M169.5 540.9h0M172.3 547.7h0M98.5 509.7h0M148.0 546.3h0M181.7 520.7h0M133.1 537.0h0M170.8 533.5h0M166.0 546.5h0M146.4 574.5h0M134.4 562.8h0M136.2 558.8h0M159.6 555.1h0M117.8 587.0h0M188.9 536.7h0M118.5 520.9h0M118.8 500.7h0M181.7 564.0h0M42.2 517.1h0M167.6 547.2h0M170.0 555.0h0M142.2 547.4h0M89.7 541.6h0M111.0 553.7h0M127.7 530.5h0M79.4 533.9h0M179.4 512.6h0M94.1 546.5h0M146.0 603.9h0M115.8 559.2h0M109.8 528.3h0M150.2 613.7h0M148.9 553.3h0M101.8 513.4h0M128.7 579.2h0M169.9 511.7h0M92.8 541.2h0M168.0 542.7h0M124.6 507.3h0M43.3 513.6h0M167.8 533.3h0M93.2 565.4h0M73.1 528.5h0M82.3 533.4h0M125.6 522.4h0M107.5 538.0h0M96.6 568.9h0M167.3 619.1h0M169.2 528.2h0M146.5 534.3h0M173.5 531.5h0M104.6 532.0h0M178.8 534.4h0M71.3 505.1h0M131.3 602.6h0M67.7 523.2h0M182.7 522.7h0M120.6 580.9h0M118.8 498.8h0M142.2 569.9h0M88.3 527.2h0M109.8 581.3h0M141.7 488.1h0M176.9 554.7h0M150.6 481.6h0M162.3 545.4h0M122.0 590.5h0M164.2 570.9h0M136.0 485.8h0M104.4 547.8h0M150.4 544.1h0M122.6 553.3h0M132.9 546.3h0M103.9 513.4h0M160.6 579.1h0M133.6 588.2h0M173.9 562.9h0M152.6 570.6h0M146.4 556.1h0M166.1 514.8h0M128.3 488.9h0M166.6 580.0h0M148.6 544.9h0M161.3 493.8h0M197.2 548.8h0M99.3 548.0h0M111.2 578.7h0M159.8 486.1h0M161.5 541.1h0M105.7 581.9h0M97.0 561.7h0M152.8 563.7h0M96.0 492.9h0M107.1 508.8h0M139.3 486.9h0M87.1 533.4h0M128.8 572.0h0M116.9 593.9h0M124.7 512.4h0M116.8 587.9h0M163.9 581.9h0M144.5 601.3h0M148.0 611.0h0M148.8 604.0h0M145.5 557.1h0M93.2 539.6h0M90.2 497.8h0M174.7 514.8h0M144.8 554.1h0M202.4 540.8h0M111.9 587.4h0M87.5 547.6h0M84.4 538.9h0M140.7 598.8h0M110.8 537.1h0M45.2 504.6h0M151.1 612.3h0M125.6 543.1h0M114.1 524.6h0M161.5 566.8h0M169.0 519.4h0M127.8 509.2h0M165.4 557.6h0M133.4 499.6h0M157.0 499.2h0M162.0 568.9h0M76.0 504.4h0M127.6 544.1h0M188.3 543.7h0M182.6 559.0h0M132.9 515.8h0M184.1 535.7h0M126.1 503.2h0M117.4 580.6h0M129.3 533.5h0M179.5 547.4h0M67.2 518.5h0M117.0 518.3h0M141.3 575.9h0M137.4 566.8h0M145.6 513.9h0M110.1 532.2h0M208.8 490.7h0M217.8 496.9h0M228.4 496.2h0M229.5 514.9h0M234.5 509.4h0M206.3 493.6h0M224.9 521.2h0M214.8 506.6h0M211.5 490.7h0M221.9 517.8h0M212.7 496.9h0M224.8 491.0h0M211.9 492.5h0M231.0 495.5h0M203.4 494.7h0M234.6 500.2h0M208.2 503.5h0M236.1 508.3h0M205.3 502.5h0M203.5 506.9h0M219.3 518.8h0M220.5 493.6h0M226.5 501.2h0M219.1 521.1h0M223.3 520.9h0M239.6 500.0h0M231.7 511.0h0M232.0 505.0h0M226.9 514.9h0M220.9 489.9h0M210.2 499.8h0M229.2 491.1h0M222.4 493.6h0M223.6 502.8h0M209.1 511.2h0M202.4 492.7h0M235.0 491.3h0M205.6 495.4h0M205.6 504.1h0M222.1 495.0h0M212.7 515.4h0M203.6 492.4h0M223.7 489.4h0M226.1 489.4h0M231.6 514.3h0M227.2 510.8h0M238.6 503.7h0M226.3 513.0h0M227.2 507.7h0M226.1 505.7h0M221.3 503.5h0M201.2 497.2h0M212.8 498.7h0M241.0 503.5h0M223.2 518.9h0M236.4 507.0h0M215.5 502.7h0M230.5 516.2h0M243.8 497.6h0M211.3 506.6h0M232.4 496.7h0M235.6 504.2h0M215.3 494.1h0M268.9 519.9h0M270.4 518.9h0M197.5 689.8h0M187.7 669.1h0M204.9 645.1h0M231.3 648.7h0M190.2 660.4h0M198.7 634.0h0M194.4 664.2h0M213.9 655.3h0M182.0 678.8h0M196.1 629.6h0M212.9 628.2h0M179.7 637.9h0M189.0 714.7h0M212.2 686.2h0M194.9 658.5h0M184.1 684.3h0M182.3 669.2h0M197.1 672.3h0M211.6 655.3h0M190.5 662.2h0M232.0 645.1h0M173.2 660.3h0M207.1 680.6h0M187.1 641.6h0M202.6 688.7h0M181.7 676.8h0M188.8 661.3h0M166.0 638.6h0M202.9 696.9h0M229.4 637.6h0M191.9 648.8h0M191.2 638.1h0M211.6 650.1h0M196.9 675.4h0M214.9 633.5h0M198.9 650.9h0M223.9 666.3h0M194.7 666.0h0M199.3 644.3h0M200.2 675.9h0M215.0 663.2h0M217.9 661.7h0M214.9 668.0h0M227.1 635.5h0M185.7 654.1h0M176.4 666.1h0M220.7 640.6h0M170.1 643.3h0M232.1 637.9h0M178.5 661.9h0M204.8 665.9h0M168.3 636.8h0M176.4 650.5h0M190.1 672.1h0M203.1 684.0h0M240.4 644.1h0M180.3 633.5h0M224.9 637.4h0M215.7 632.6h0M217.1 685.4h0M207.8 676.1h0M194.4 687.0h0M194.6 695.8h0M228.5 641.2h0M190.1 647.0h0M234.7 648.4h0M170.6 649.5h0M241.0 655.3h0M200.5 681.1h0M173.8 640.7h0M206.0 628.2h0M214.0 653.2h0M202.6 646.2h0M181.6 702.5h0M189.4 709.3h0M186.1 710.3h0M207.2 634.8h0M194.2 653.6h0M193.7 628.8h0M177.6 626.2h0M179.4 652.3h0M183.8 663.2h0M210.7 673.8h0M189.7 638.5h0M215.8 672.0h0M212.3 634.4h0M205.0 699.2h0M219.0 641.7h0M200.7 659.2h0M207.3 645.7h0M183.9 723.8h0M193.9 642.2h0M191.4 680.4h0M184.7 704.1h0M240.2 651.5h0M182.0 650.0h0M177.2 652.9h0M206.1 640.8h0M231.0 635.1h0M167.7 639.2h0M169.0 640.0h0M224.6 655.6h0M188.1 639.6h0M195.6 703.3h0M211.5 689.6h0M235.4 655.5h0M195.7 659.8h0M172.6 653.6h0M197.8 677.8h0M233.6 637.0h0M175.6 635.9h0M189.5 643.2h0M204.2 654.7h0M215.4 684.8h0M209.1 654.3h0M196.8 635.1h0M176.8 663.5h0M218.9 636.7h0M189.2 654.5h0M201.0 655.8h0M208.1 678.7h0M181.3 720.2h0M202.9 675.2h0M230.6 658.7h0M243.4 644.3h0M207.9 683.5h0M176.6 667.6h0M182.4 692.2h0M185.2 667.1h0M226.8 648.9h0M186.7 667.8h0M187.5 715.0h0M200.1 687.4h0M206.0 625.0h0M191.8 647.4h0M192.5 656.6h0M205.3 686.4h0M214.9 630.8h0M189.6 712.4h0M185.9 677.8h0M201.2 645.9h0M180.2 664.6h0M239.2 642.5h0M193.6 643.8h0M229.7 670.1h0M201.2 626.1h0M189.3 626.0h0M177.7 634.0h0M167.3 632.5h0M189.1 659.6h0M189.3 668.2h0M192.7 698.3h0M227.6 637.7h0M182.1 722.6h0M175.1 629.9h0M214.0 650.0h0M220.3 650.0h0M211.9 648.8h0M202.4 654.9h0M227.5 643.1h0M218.3 655.4h0M180.0 708.3h0M198.2 625.1h0M173.5 647.6h0M171.7 641.2h0M197.3 688.3h0M195.0 654.7h0M198.1 668.9h0M169.8 632.1h0M237.1 646.4h0M230.8 646.0h0M216.5 637.5h0M224.2 634.9h0M201.5 696.3h0M228.6 658.8h0M231.8 664.7h0M203.9 643.7h0M196.0 666.8h0M187.7 684.2h0M224.4 638.9h0M212.0 640.5h0M219.4 670.7h0M235.9 644.0h0M224.4 665.1h0M203.3 639.9h0M186.3 696.3h0M210.1 638.3h0M200.2 633.3h0M183.0 697.0h0M192.8 635.0h0M197.8 651.8h0M186.2 719.9h0M215.3 682.0h0M218.3 629.0h0M186.8 653.5h0M204.8 661.6h0M227.0 645.1h0M228.3 645.2h0M188.9 710.8h0M231.5 656.6h0M191.8 633.2h0M175.0 653.5h0M234.3 657.5h0M188.4 682.0h0M197.6 679.5h0M191.6 657.6h0M203.4 679.1h0M201.5 678.6h0M199.1 643.1h0M222.5 659.9h0M212.0 653.2h0M237.8 640.1h0M211.7 675.3h0M220.9 632.3h0M180.0 669.3h0M232.0 667.6h0M242.9 649.4h0M391.2 602.6h0M284.3 584.5h0M285.6 578.1h0M285.7 606.3h0M369.8 647.4h0M327.1 594.8h0M371.9 629.0h0M350.0 617.6h0M363.4 583.8h0M310.8 591.9h0M304.4 564.4h0M330.9 565.3h0M373.0 645.8h0M335.0 623.9h0M315.8 572.3h0M354.4 662.2h0M337.7 567.4h0M279.9 607.6h0M362.1 623.7h0M354.2 592.1h0M359.7 571.1h0M340.5 600.7h0M350.6 681.2h0M287.6 609.2h0M376.6 652.8h0M346.8 678.3h0M356.5 608.4h0M300.0 585.0h0M376.4 595.7h0M309.8 610.6h0M340.1 611.8h0M341.2 652.0h0M381.3 618.7h0M316.0 623.3h0M375.0 598.9h0M381.5 601.7h0M292.8 581.0h0M334.1 659.7h0M342.7 561.4h0M355.2 582.1h0M381.1 654.0h0M327.6 579.8h0M309.8 607.5h0M320.5 622.7h0M351.0 592.4h0M335.9 582.9h0M348.6 690.7h0M346.9 608.2h0M344.9 631.1h0M383.1 627.2h0M335.6 662.4h0M347.4 624.7h0M356.9 638.4h0M335.1 640.6h0M330.7 572.5h0M305.8 589.8h0M343.7 590.0h0M356.4 651.6h0M386.6 648.8h0M389.3 629.4h0M333.5 617.4h0M355.0 685.6h0M324.0 562.2h0M383.4 621.6h0M400.6 608.2h0M349.7 653.1h0M359.3 640.5h0M321.1 558.9h0M349.7 585.2h0M396.8 604.1h0M385.9 625.2h0M344.9 569.5h0M319.0 595.7h0M372.9 649.1h0M342.1 674.9h0M341.6 650.1h0M327.6 597.8h0M405.9 605.2h0M347.9 620.3h0M301.7 584.0h0M321.0 599.1h0M292.2 572.9h0M372.3 671.5h0M333.2 597.5h0M296.2 586.5h0M363.1 567.2h0M363.2 605.8h0M320.7 595.4h0M381.2 620.7h0M381.6 630.9h0M293.5 587.3h0M320.0 582.2h0M289.0 604.6h0M385.6 644.1h0M310.9 594.6h0M328.0 600.1h0M351.1 621.8h0M298.4 572.8h0M349.8 621.3h0M386.0 656.2h0M281.7 616.5h0M346.6 613.2h0M378.9 658.3h0M276.6 597.5h0M331.5 579.2h0M370.2 642.6h0M371.6 617.3h0M323.8 597.2h0M370.7 674.4h0M388.9 607.2h0M340.7 666.2h0M299.0 604.3h0M333.8 561.4h0M326.0 606.2h0M314.7 613.5h0M361.1 585.4h0M376.0 642.3h0M351.1 639.8h0M316.1 564.3h0M353.3 624.6h0M362.1 590.1h0M336.1 569.8h0M318.7 584.4h0M330.1 617.9h0M364.1 629.4h0M350.3 636.8h0M348.0 630.2h0M327.3 558.1h0M300.5 582.7h0M354.7 575.6h0M318.3 579.4h0M354.0 645.7h0M356.5 574.5h0M358.0 563.6h0M361.7 561.5h0M342.7 631.5h0M357.0 656.9h0M370.7 644.8h0M366.2 659.0h0M296.9 562.5h0M359.4 602.1h0M338.4 617.5h0M310.9 606.4h0M354.0 640.6h0M373.2 659.7h0M322.7 622.4h0M368.1 625.1h0M328.9 580.0h0M331.9 632.4h0M343.0 625.6h0M360.3 588.8h0M308.3 596.0h0M352.5 580.5h0M350.3 608.6h0M382.2 622.8h0M389.1 647.6h0M358.8 629.9h0M303.8 583.8h0M377.4 636.4h0M361.0 611.8h0M367.6 603.4h0M368.1 627.8h0M368.9 610.9h0M318.5 606.0h0M305.1 611.7h0M288.7 597.2h0M313.7 581.9h0M280.8 592.6h0M286.7 613.0h0M375.7 625.6h0M341.9 599.6h0M328.2 628.1h0M294.2 600.5h0M367.0 584.9h0M333.6 604.7h0M318.6 593.1h0M344.8 572.2h0M381.2 616.6h0M317.2 583.0h0M366.6 671.9h0M366.3 652.2h0M345.0 634.3h0M365.0 656.7h0M364.4 646.4h0M323.8 594.8h0M302.5 620.0h0M378.8 639.7h0M339.8 656.6h0M328.8 608.6h0M306.2 613.6h0M331.1 599.4h0M312.4 559.1h0M336.4 590.8h0M354.1 672.9h0M341.9 592.5h0M337.7 676.3h0M294.9 620.3h0M354.7 622.7h0M280.2 589.6h0M364.1 630.8h0M365.9 681.7h0M371.3 581.2h0M369.0 607.0h0M366.2 676.7h0M354.1 690.6h0M330.6 570.5h0M371.6 664.1h0M302.0 560.7h0M284.4 605.4h0M354.3 632.5h0M349.9 688.9h0M353.2 563.2h0M344.4 653.9h0M307.6 567.7h0M325.4 582.1h0M378.4 657.0h0M350.7 578.6h0M332.4 605.6h0M359.1 579.0h0M289.5 591.7h0M343.2 652.8h0M348.2 591.1h0M353.2 682.2h0M366.0 667.0h0M297.4 601.1h0M367.9 630.1h0M299.7 615.1h0M357.7 686.3h0M353.5 683.7h0M376.0 614.3h0M310.2 602.0h0M363.5 575.6h0M370.8 648.9h0M366.9 601.2h0M283.6 575.1h0M322.8 579.2h0M362.3 661.4h0M334.1 571.2h0M352.6 603.9h0M344.9 622.1h0M377.1 634.0h0M391.8 609.0h0M294.6 574.7h0M357.4 620.0h0M373.4 584.7h0M340.7 596.3h0M312.4 577.1h0M358.1 616.2h0M356.8 648.2h0M371.9 635.3h0M359.7 590.7h0M330.8 634.5h0M336.4 665.5h0M356.8 571.3h0M390.9 613.5h0M338.4 609.0h0M363.7 590.2h0M375.8 618.8h0M361.2 564.7h0M324.3 615.9h0M354.0 581.6h0M312.5 608.4h0M355.0 594.6h0M295.6 589.1h0M306.4 562.4h0M334.5 663.3h0M303.2 610.3h0M298.5 606.8h0M349.1 637.6h0M336.4 558.9h0M337.4 624.5h0M344.8 596.2h0M333.4 580.0h0M287.6 586.5h0M316.9 604.9h0M328.9 574.3h0M332.7 615.4h0M308.9 583.2h0M293.6 614.8h0M350.8 603.0h0M284.4 581.4h0M354.4 610.5h0M360.2 608.1h0M295.4 618.8h0M340.0 631.1h0M383.5 647.8h0M351.8 602.0h0M313.8 578.1h0M324.1 563.5h0M365.8 638.1h0M361.4 655.3h0M276.1 593.3h0M348.0 666.2h0M315.9 570.4h0M348.7 627.6h0M341.6 568.9h0M346.8 595.1h0M328.7 631.3h0M344.1 636.0h0M293.0 575.1h0M345.8 676.0h0M363.8 570.6h0M347.5 564.3h0M341.3 627.2h0M332.7 612.5h0M367.6 619.1h0M332.2 586.4h0M367.2 647.7h0M381.9 650.6h0M276.8 606.1h0M369.5 671.7h0M283.7 603.0h0M320.8 593.8h0M327.2 573.0h0M299.3 608.3h0M283.3 611.8h0M370.2 646.1h0M372.1 642.5h0M290.8 572.0h0M339.1 559.7h0M295.2 622.7h0M364.0 655.8h0M298.8 598.2h0M363.6 652.8h0M347.5 604.0h0M367.8 588.2h0M334.9 581.7h0M323.4 567.2h0M370.8 671.2h0M364.5 621.1h0M317.0 565.8h0M296.9 596.3h0M311.4 602.9h0M329.9 612.7h0M345.9 654.9h0M318.0 587.3h0M389.6 624.4h0M333.6 637.8h0M301.7 563.4h0M378.7 666.0h0M316.3 602.9h0M363.9 644.6h0M314.2 570.7h0M370.3 579.1h0M339.8 580.7h0M357.4 680.2h0M297.8 586.4h0M338.9 625.9h0M313.3 579.3h0M332.6 582.4h0M320.3 570.3h0M342.5 643.6h0M335.8 616.3h0M355.3 606.5h0M354.5 676.8h0M364.0 661.7h0M280.8 610.6h0M300.5 618.4h0M329.5 576.1h0M401.7 603.2h0M286.1 604.7h0M354.5 654.3h0M286.5 589.1h0M382.4 664.5h0M379.9 652.2h0M353.2 599.6h0M363.1 603.8h0M370.1 611.3h0M327.0 625.4h0M343.0 569.1h0M374.5 612.8h0M355.6 601.6h0M357.7 609.0h0M312.6 587.3h0M354.8 636.6h0M349.5 605.7h0M321.2 609.1h0M372.6 615.4h0M340.3 592.8h0M375.0 611.2h0M285.0 593.6h0M339.7 579.4h0M325.7 627.3h0M364.0 607.9h0M348.7 597.9h0M341.1 602.8h0M318.6 622.9h0M316.4 591.7h0M293.1 622.8h0M333.7 643.9h0M351.9 647.8h0M347.4 589.2h0M320.5 585.5h0M381.5 647.2h0M355.1 663.6h0M310.6 557.5h0M370.5 675.7h0M361.1 632.1h0M380.3 617.5h0M331.2 557.1h0M355.0 617.8h0M309.9 614.9h0M333.6 661.1h0M287.4 618.6h0M313.9 588.0h0M363.0 649.7h0M309.9 622.3h0M367.8 635.8h0M294.2 606.6h0M326.9 628.8h0M354.2 577.0h0M350.0 610.6h0M333.9 611.7h0M298.8 588.7h0M342.5 570.6h0M373.8 579.3h0M385.0 604.3h0M319.5 609.8h0M382.2 593.6h0M335.5 566.9h0M301.7 621.4h0M352.5 600.7h0M365.9 670.6h0M304.5 600.1h0M291.0 621.5h0M353.4 613.4h0M327.1 563.3h0M394.7 603.9h0M366.4 621.7h0M365.2 601.9h0M352.4 593.1h0M365.9 631.1h0M375.5 593.6h0M362.9 667.4h0M349.9 564.2h0M358.6 585.0h0M394.8 628.1h0M304.1 607.0h0M335.8 602.3h0M368.5 576.5h0M354.7 599.0h0M329.6 601.8h0M391.9 669.5h0M390.1 673.6h0M389.5 665.7h0M390.6 669.3h0M397.3 669.7h0M319.0 505.5h0M320.4 530.1h0M311.9 545.3h0M308.2 542.6h0M328.0 536.6h0M315.5 524.6h0M334.4 522.4h0M309.7 507.9h0M326.9 531.3h0M312.0 513.0h0M289.3 543.4h0M330.4 498.0h0M347.8 512.5h0M357.5 519.9h0M327.0 523.1h0M317.8 538.8h0M317.8 519.2h0M336.0 546.2h0M362.7 527.7h0M356.6 536.9h0M288.3 546.9h0M302.4 535.4h0M352.6 515.0h0M345.6 541.6h0M348.4 536.9h0M288.1 550.4h0M334.2 511.1h0M326.7 540.1h0M323.5 511.2h0M282.2 551.4h0M356.7 542.1h0M356.7 530.1h0M362.8 538.2h0M304.7 527.3h0M319.3 537.1h0M349.0 544.5h0M315.3 504.9h0M346.0 515.6h0M326.1 518.3h0M323.5 539.7h0M333.2 546.4h0M328.3 501.8h0M324.7 519.8h0M308.1 522.9h0M330.4 528.3h0M355.2 520.7h0M298.6 524.4h0M365.8 557.9h0M363.2 553.1h0M324.7 503.8h0M334.7 529.6h0M288.8 531.9h0M342.2 509.8h0M287.1 541.3h0M337.6 516.4h0M315.4 545.7h0M280.2 540.2h0M321.5 542.8h0M341.0 518.9h0M350.1 543.7h0M340.3 538.4h0M344.5 530.9h0M322.4 504.0h0M358.5 517.7h0M308.8 515.4h0M348.4 534.4h0M332.7 533.9h0M356.5 544.8h0M354.9 541.9h0M311.7 518.2h0M352.9 521.7h0M306.5 540.3h0M298.2 529.2h0M344.8 515.0h0M321.3 514.3h0M364.8 550.4h0M335.7 517.2h0M332.4 542.6h0M356.7 506.1h0M347.0 522.1h0M310.2 500.4h0M328.4 521.7h0M306.5 512.4h0M300.2 524.5h0M279.7 544.0h0M330.2 545.2h0M288.3 539.3h0M314.7 513.9h0M307.3 539.2h0M292.4 540.9h0M327.3 542.0h0M288.6 545.3h0M358.2 511.8h0M295.2 545.8h0M300.0 537.4h0M291.2 542.3h0M351.0 509.5h0M332.6 504.8h0M345.9 547.0h0M291.5 530.8h0M271.2 555.5h0M319.9 517.7h0M325.7 544.2h0M282.7 545.6h0M352.4 539.8h0M331.5 522.7h0M333.6 526.4h0M324.1 523.1h0M318.6 509.9h0M354.8 526.6h0M331.1 506.2h0M342.9 544.5h0M336.8 544.6h0M353.1 506.3h0M355.1 535.2h0M312.1 500.7h0M323.2 544.8h0M304.1 523.9h0M346.3 531.7h0M349.6 529.6h0M328.0 520.0h0M316.3 546.8h0M331.5 512.6h0M294.6 537.1h0M356.7 523.3h0M271.6 547.1h0M297.4 541.8h0M293.3 544.7h0M359.1 521.9h0M344.2 535.3h0M349.3 539.0h0M286.7 535.3h0M320.3 523.6h0M272.0 544.1h0M331.8 494.9h0M320.9 540.7h0M274.4 555.9h0M345.5 524.8h0M349.8 525.3h0M281.2 545.7h0M321.5 519.5h0M351.3 552.8h0M324.2 545.8h0M341.5 538.4h0M341.5 534.7h0M359.6 526.5h0M329.8 518.3h0M337.8 530.6h0M317.0 501.6h0M325.3 532.2h0M341.6 548.4h0M326.0 538.9h0M340.9 546.0h0M344.7 546.2h0M304.6 541.0h0M299.8 540.0h0M344.5 522.9h0M289.4 549.5h0M303.0 509.1h0M365.8 542.1h0M315.7 522.2h0M319.4 519.4h0M335.3 523.8h0M351.2 548.6h0M335.5 514.6h0M317.5 540.4h0M344.4 519.6h0M279.2 546.8h0M521.8 505.7h0M370.8 566.7h0M384.4 544.7h0M375.6 510.6h0M585.4 508.8h0M585.4 507.3h0M532.4 545.6h0M384.7 504.4h0M408.3 571.4h0M517.8 524.7h0M559.1 527.6h0M535.3 528.3h0M453.1 593.5h0M429.3 549.0h0M459.7 504.6h0M521.1 512.6h0M520.9 516.3h0M566.7 531.6h0M418.7 584.0h0M454.1 543.2h0M369.1 531.8h0M462.2 571.6h0M510.3 581.7h0M439.9 557.7h0M515.1 529.4h0M389.3 532.2h0M493.7 529.2h0M537.5 546.4h0M555.1 501.2h0M439.3 590.4h0M343.2 525.0h0M452.3 547.1h0M362.5 523.8h0M449.8 518.7h0M509.1 566.6h0M509.8 555.5h0M447.3 572.8h0M380.2 519.1h0M515.4 521.4h0M459.6 599.7h0M482.5 556.7h0M511.8 563.8h0M410.4 601.0h0M438.8 568.9h0M457.8 531.8h0M450.9 567.2h0M401.8 581.5h0M443.7 586.8h0M491.8 591.8h0M383.6 553.5h0M520.8 540.3h0M424.1 500.0h0M561.4 520.0h0M531.3 499.7h0M360.9 553.3h0M489.7 532.0h0M371.7 508.0h0M519.7 541.1h0M402.6 602.3h0M513.3 588.2h0M464.9 508.5h0M497.1 568.4h0M382.9 543.6h0M564.0 513.3h0M513.4 541.6h0M478.9 537.3h0M536.7 570.0h0M470.5 558.9h0M425.8 509.3h0M509.2 530.8h0M453.3 503.9h0M485.6 500.9h0M471.7 598.6h0M403.8 589.5h0M538.1 557.5h0M465.7 546.8h0M563.6 546.2h0M530.7 557.7h0M532.4 549.9h0M576.8 510.8h0M413.6 540.6h0M418.0 509.7h0M462.0 598.1h0M420.2 544.6h0M370.2 527.3h0M397.2 556.5h0M425.2 528.4h0M440.8 577.5h0M448.1 538.7h0M587.3 509.3h0M402.6 534.7h0M531.7 570.5h0M419.9 514.3h0M449.4 604.9h0M493.2 584.0h0M463.7 592.1h0M513.7 566.9h0M542.3 509.9h0M453.3 576.0h0M399.6 565.7h0M502.3 512.0h0M528.3 540.5h0M533.1 540.5h0M549.3 508.0h0M463.2 601.7h0M470.8 516.2h0M554.1 528.5h0M480.0 525.3h0M432.2 524.9h0M450.3 523.5h0M460.3 551.8h0M428.1 567.4h0M444.6 570.6h0M499.9 581.4h0M458.6 592.8h0M410.7 534.1h0M538.6 518.5h0M399.2 545.1h0M472.7 574.6h0M440.2 518.6h0M451.8 602.6h0M537.1 524.8h0M476.1 589.9h0M460.6 525.9h0M431.4 587.9h0M405.5 528.6h0M499.3 539.0h0M447.3 560.8h0M441.2 559.8h0M510.5 542.6h0M487.8 523.4h0M426.7 530.2h0M546.4 514.8h0M533.6 516.8h0M525.9 519.1h0M464.5 504.5h0M572.3 507.0h0M528.5 560.9h0M465.1 498.7h0M422.7 558.7h0M522.2 508.8h0M565.9 536.5h0M561.9 511.2h0M471.2 575.7h0M523.1 518.2h0M503.7 533.9h0M487.9 610.2h0M381.2 527.8h0M401.1 595.6h0M372.2 518.5h0M359.8 520.3h0M540.0 520.6h0M353.6 502.6h0M504.5 600.2h0M480.4 597.5h0M503.2 590.6h0M437.1 545.5h0M480.2 556.4h0M370.7 512.8h0M501.7 572.2h0M496.8 593.6h0M513.6 550.1h0M536.6 549.7h0M481.3 543.9h0M548.2 513.2h0M373.6 523.8h0M430.0 506.1h0M469.8 506.0h0M454.0 583.5h0M481.2 558.4h0M417.3 571.3h0M470.4 560.9h0M399.6 534.7h0M405.9 590.1h0M480.5 527.8h0M399.7 579.5h0M531.0 537.1h0M480.4 537.5h0M522.7 533.0h0M478.4 535.1h0M557.9 526.3h0M440.2 561.5h0M464.0 502.0h0M437.0 573.4h0M363.6 511.6h0M495.4 517.7h0M464.4 530.3h0M488.7 503.5h0M354.8 504.3h0M392.1 503.7h0M487.9 539.4h0M382.9 503.2h0M399.8 609.7h0M421.2 564.5h0M390.4 559.6h0M410.0 579.8h0M503.4 541.9h0M465.4 525.4h0M395.7 505.6h0M385.3 586.8h0M399.8 550.1h0M454.5 506.8h0M434.3 540.4h0M506.0 508.4h0M500.8 548.2h0M479.1 533.7h0M483.5 600.4h0M430.9 574.0h0M481.9 621.9h0M553.1 524.7h0M376.3 523.6h0M543.9 552.6h0M534.4 544.6h0M417.9 569.7h0M555.5 522.8h0M387.0 594.4h0M478.3 548.7h0M484.5 548.0h0M387.6 585.1h0M489.4 558.1h0M379.4 536.7h0M364.2 509.2h0M538.0 510.7h0M496.6 505.5h0M384.8 515.8h0M498.4 503.2h0M502.1 519.6h0M498.8 500.3h0M438.8 516.8h0M399.4 567.1h0M492.8 501.7h0M505.1 532.4h0M431.7 529.9h0M481.6 571.4h0M407.9 528.0h0M433.7 510.8h0M446.5 540.2h0M495.7 519.5h0M534.1 521.7h0M470.3 523.0h0M484.0 496.8h0M455.4 595.2h0M380.3 511.6h0M426.3 539.8h0M389.1 520.6h0M434.0 562.5h0M439.9 530.7h0M416.0 565.9h0M479.2 496.8h0M443.9 575.5h0M525.2 541.4h0M475.8 501.9h0M427.5 518.9h0M420.8 516.3h0M435.3 508.4h0M511.1 594.8h0M451.9 571.8h0M537.9 569.0h0M478.6 567.7h0M381.7 567.9h0M528.0 548.2h0M522.8 514.8h0M375.6 522.0h0M452.1 607.2h0M406.8 570.6h0M465.9 592.6h0M489.8 502.1h0M523.2 535.2h0M464.2 570.0h0M449.5 611.4h0M500.3 576.1h0M512.1 570.3h0M582.6 507.4h0M433.5 516.7h0M528.2 515.8h0M528.4 502.3h0M423.4 506.9h0M462.8 523.3h0M378.6 529.9h0M454.7 534.4h0M369.4 558.0h0M522.5 522.3h0M436.6 515.2h0M535.0 573.1h0M386.5 509.0h0M487.3 566.4h0M511.3 555.5h0M430.0 519.5h0M451.5 611.7h0M560.3 502.7h0M514.6 501.0h0M363.9 535.3h0M430.7 538.3h0M460.1 570.3h0M389.7 588.2h0M518.7 507.3h0M446.0 516.0h0M460.7 585.8h0M567.5 534.8h0M382.0 554.0h0M496.5 553.9h0M510.5 586.2h0M482.6 501.1h0M453.8 562.0h0M516.7 546.1h0M498.7 623.8h0M485.0 585.7h0M511.4 549.8h0M389.8 571.6h0M582.6 514.0h0M439.3 539.1h0M391.4 564.7h0M470.8 538.6h0M398.9 595.0h0M416.1 560.1h0M396.1 520.3h0M477.1 549.7h0M481.3 495.4h0M450.3 596.9h0M462.8 512.6h0M487.7 596.8h0M429.6 567.8h0M524.4 551.5h0M391.3 533.8h0M498.2 549.9h0M534.1 561.4h0M460.2 497.8h0M399.4 518.2h0M559.8 504.1h0M400.5 600.6h0M359.3 514.8h0M460.8 564.0h0M467.9 551.2h0M431.9 532.0h0M514.6 531.3h0M421.3 508.2h0M483.9 495.5h0M452.6 587.3h0M397.0 600.1h0M563.9 516.3h0M499.2 591.9h0M474.3 524.4h0M411.1 543.6h0M407.8 515.2h0M519.4 531.1h0M454.8 511.9h0M399.3 540.8h0M502.2 589.0h0M460.5 573.1h0M533.6 569.3h0M518.7 571.5h0M438.9 587.8h0M451.8 560.3h0M434.4 565.1h0M471.4 530.5h0M462.3 536.2h0M420.4 571.8h0M436.7 507.8h0M367.0 539.5h0M424.0 533.2h0M401.4 568.6h0M402.2 584.8h0M462.4 593.9h0M379.1 506.0h0M407.4 573.9h0M376.0 520.2h0M485.6 507.6h0M479.6 543.7h0M386.3 504.5h0M441.6 545.0h0M526.9 502.9h0M569.1 504.9h0M442.9 502.6h0M380.1 522.0h0M425.5 557.9h0M449.4 543.6h0M448.6 595.0h0M408.3 558.8h0M460.1 515.1h0M387.8 587.9h0M426.3 543.9h0M504.6 563.6h0M374.6 517.0h0M475.5 565.4h0M413.0 573.8h0M454.7 551.7h0M368.7 520.8h0M511.2 577.6h0M499.3 582.8h0M409.4 561.4h0M497.9 524.8h0M522.2 516.5h0M475.3 499.2h0M457.3 579.3h0M366.4 515.1h0M403.4 557.9h0M457.8 577.0h0M362.5 510.0h0M435.6 514.2h0M368.4 516.4h0M347.0 502.4h0M405.5 607.1h0M441.5 554.1h0M455.9 516.5h0M504.4 588.4h0M495.9 556.9h0M456.0 571.0h0M406.7 549.4h0M458.9 571.3h0M400.7 562.0h0M512.4 509.6h0M431.0 568.1h0M390.5 502.2h0M427.5 561.7h0M481.3 578.7h0M425.3 536.3h0M543.7 560.0h0M460.4 575.9h0M461.1 591.6h0M426.6 587.0h0M409.2 548.7h0M535.5 533.6h0M497.0 610.1h0M479.4 600.9h0M379.4 566.8h0M497.7 553.9h0M366.0 512.9h0M506.1 579.0h0M497.6 586.9h0M377.8 573.7h0M531.3 521.7h0M455.6 499.9h0M458.8 526.2h0M428.0 575.1h0M483.0 569.0h0M489.0 562.7h0M485.3 587.2h0M459.0 511.1h0M447.8 582.7h0M481.2 592.7h0M466.3 564.9h0M473.4 571.0h0M479.2 554.9h0M467.1 566.7h0M381.6 575.7h0M497.0 575.2h0M533.0 519.1h0M512.0 503.7h0M500.4 598.3h0M420.9 535.8h0M528.8 523.2h0M397.6 536.4h0M487.2 511.4h0M565.4 547.0h0M400.6 518.4h0M530.2 518.2h0M419.7 537.1h0M405.2 519.2h0M478.8 539.2h0M435.4 512.9h0M451.9 576.8h0M492.3 500.4h0M377.9 576.3h0M448.2 542.2h0M474.6 529.5h0M452.5 556.8h0M448.8 503.6h0M520.5 586.3h0M388.1 512.3h0M407.2 510.5h0M462.3 502.2h0M504.0 504.7h0M463.8 509.8h0M489.2 529.6h0M433.7 575.6h0M405.3 586.1h0M496.5 623.1h0M457.8 518.9h0M373.2 507.9h0M478.8 494.2h0M469.4 587.2h0M486.1 578.3h0M381.3 571.6h0M410.0 545.6h0M397.5 529.6h0M386.1 519.0h0M480.5 551.8h0M502.9 576.7h0M500.9 591.1h0M542.7 520.6h0M497.5 557.7h0M526.2 570.3h0M486.0 581.1h0M391.7 577.9h0M416.6 508.2h0M559.3 523.9h0M431.1 555.4h0M412.0 584.6h0M393.9 504.5h0M396.5 518.3h0M414.0 514.7h0M484.9 595.3h0M494.5 545.0h0M372.1 550.0h0M478.3 514.0h0M529.0 556.5h0M512.4 506.3h0M423.4 513.1h0M495.5 568.9h0M378.5 579.1h0M387.1 562.9h0M454.0 611.5h0M402.9 580.8h0M370.8 518.4h0M449.1 535.1h0M386.7 576.0h0M525.2 567.2h0M562.7 517.0h0M369.4 535.6h0M528.3 507.0h0M468.4 531.6h0M512.4 559.6h0M522.2 540.5h0M404.0 600.8h0M490.5 562.0h0M481.4 602.9h0M415.8 519.4h0M503.7 572.7h0M464.7 582.3h0M506.4 514.5h0M488.6 516.5h0M380.0 558.6h0M483.7 531.6h0M487.0 553.8h0M450.2 582.7h0M381.9 508.5h0M384.1 501.8h0M525.0 569.4h0M438.2 507.6h0M407.1 544.9h0M505.2 527.2h0M479.9 501.5h0M419.6 500.7h0M455.6 513.8h0M478.3 582.8h0M465.3 580.1h0M396.7 508.3h0M410.2 553.6h0M439.8 573.9h0M539.2 555.7h0M443.9 514.3h0M539.4 550.9h0M490.1 503.9h0M401.5 583.7h0M505.4 590.4h0M517.6 503.0h0M494.0 523.6h0M437.5 539.6h0M559.2 533.2h0M461.4 575.0h0M483.5 609.6h0M459.4 585.5h0M392.5 589.9h0M566.1 525.3h0M468.0 522.1h0M396.1 602.1h0M491.3 600.1h0M557.6 504.4h0M536.4 545.8h0M410.9 555.5h0M558.7 531.6h0M566.2 539.7h0M422.1 572.4h0M439.1 536.9h0M457.1 535.0h0M491.2 579.2h0M456.4 566.7h0M409.6 552.0h0M437.9 535.8h0M494.3 500.2h0M478.3 519.3h0M522.1 581.8h0M464.7 537.8h0M403.2 537.5h0M451.2 535.5h0M380.3 581.3h0M491.4 631.6h0M538.6 512.4h0M585.5 505.6h0M497.6 564.4h0M468.0 599.7h0M526.2 568.7h0M512.3 525.0h0M472.8 509.7h0M432.4 569.6h0M403.5 553.2h0M409.5 512.4h0M509.8 573.6h0M470.5 496.9h0M399.5 556.1h0M358.5 545.1h0M433.7 586.3h0M420.3 534.6h0M409.4 593.6h0M565.0 521.6h0M517.9 552.3h0M490.1 551.0h0M490.6 501.0h0M442.4 539.2h0M494.8 624.0h0M392.1 524.0h0M532.4 525.0h0M389.1 560.8h0M566.7 546.9h0M440.4 550.0h0M453.0 573.3h0M481.4 519.4h0M391.5 569.0h0M467.2 570.1h0M462.5 600.3h0M503.6 535.2h0M467.5 597.3h0M535.2 531.6h0M528.2 518.1h0M431.9 503.2h0M446.6 543.9h0M433.8 542.0h0M377.0 533.0h0M555.2 510.4h0M436.4 531.2h0M390.5 531.5h0M421.9 539.2h0M384.8 564.9h0M494.1 502.0h0M576.4 504.1h0M500.7 604.6h0M523.0 586.0h0M461.9 538.4h0M489.7 608.2h0M569.1 534.6h0M541.0 523.1h0M447.8 606.6h0M436.2 580.3h0M461.4 579.5h0M423.5 530.2h0M430.5 504.0h0M497.2 596.1h0M486.7 543.6h0M511.5 557.2h0M400.4 593.6h0M515.2 565.0h0M470.5 554.8h0M516.8 539.8h0M474.0 546.9h0M502.6 514.1h0M378.2 538.3h0M449.3 587.7h0M416.8 561.3h0M439.0 558.6h0M521.1 502.8h0M374.6 529.8h0M430.8 530.9h0M367.7 512.5h0M387.9 570.7h0M526.8 532.6h0M530.7 566.4h0M491.7 522.7h0M495.1 595.5h0M496.4 539.9h0M366.8 533.5h0M516.7 533.7h0M446.3 526.6h0M472.9 591.0h0M373.3 558.5h0M489.2 552.3h0M422.2 565.3h0M536.1 554.1h0M451.2 577.9h0M506.8 549.7h0M499.8 520.1h0M408.7 563.5h0M449.3 511.4h0M504.2 502.1h0M463.3 527.8h0M396.2 587.0h0M511.0 552.2h0M384.1 561.2h0M439.7 506.4h0M433.7 555.9h0M498.0 604.1h0M377.4 511.3h0M404.0 554.4h0M375.2 535.2h0M384.9 507.3h0M439.3 519.7h0M508.2 512.6h0M380.5 565.6h0M465.3 539.9h0M469.7 528.5h0M420.2 527.8h0M490.1 597.7h0M486.5 520.1h0M497.5 566.2h0M464.1 598.0h0M530.8 550.4h0M469.4 568.8h0M476.1 576.1h0M516.0 503.1h0M586.6 516.5h0M480.0 565.5h0M459.0 555.0h0M461.2 523.1h0M470.2 501.4h0M419.7 525.4h0M464.3 576.3h0M402.0 600.2h0M515.4 556.3h0M505.3 555.1h0M397.7 525.5h0M400.1 531.1h0M492.6 566.7h0M347.2 524.6h0M560.2 510.5h0M514.8 554.6h0M371.6 517.2h0M467.9 565.0h0M400.6 597.8h0M456.0 539.3h0M448.8 602.7h0M517.7 516.2h0M398.5 569.6h0M496.8 520.8h0M401.5 538.8h0M478.5 531.8h0M400.5 573.6h0M442.9 581.2h0M457.6 558.5h0M521.6 568.6h0M483.4 553.4h0M492.4 505.8h0M469.9 534.9h0M417.0 577.0h0M407.8 535.4h0M504.0 570.3h0M403.0 523.8h0M521.6 520.0h0M428.3 513.7h0M368.5 561.7h0M375.7 506.2h0M392.5 516.1h0M470.8 527.3h0M495.3 501.6h0M514.7 558.3h0M568.2 503.0h0M366.9 520.7h0M422.2 511.6h0M404.7 506.6h0M532.9 573.4h0M454.9 524.9h0M426.4 526.1h0M506.3 589.0h0M527.8 534.4h0M412.9 563.9h0M547.1 512.6h0M515.5 595.8h0M480.7 566.8h0M363.2 562.3h0M560.0 538.8h0M487.7 542.7h0M368.4 567.9h0M435.6 557.4h0M493.6 552.6h0M422.6 501.1h0M419.8 532.9h0M399.0 577.1h0M413.7 576.2h0M363.1 563.7h0M369.6 542.7h0M390.3 584.3h0M556.8 517.4h0M383.2 521.2h0M475.4 537.6h0M427.5 523.5h0M537.6 500.4h0M395.1 525.0h0M440.6 584.9h0M417.2 542.0h0M506.4 601.7h0M492.0 635.7h0M462.9 565.5h0M485.2 572.9h0M468.2 575.5h0M521.8 504.2h0M518.1 570.0h0M499.3 544.1h0M409.3 515.0h0M465.5 536.2h0M486.7 586.0h0M505.5 502.3h0M462.0 534.3h0M459.8 607.5h0M490.6 569.1h0M510.5 503.4h0M402.9 527.4h0M459.4 538.3h0M452.0 516.4h0M491.6 528.1h0M439.8 579.9h0M533.5 536.4h0M456.8 587.3h0M469.2 580.7h0M455.2 596.6h0M517.2 536.3h0M386.5 530.5h0M402.2 512.2h0M503.9 602.6h0M417.1 543.4h0M401.4 515.8h0M513.1 508.6h0M398.0 588.9h0M532.2 551.7h0M524.3 530.7h0M401.3 506.9h0M543.1 507.4h0M512.5 513.3h0M432.4 547.3h0M375.3 514.7h0M437.8 523.6h0M490.8 618.6h0M542.5 552.1h0M531.0 564.5h0M408.7 502.4h0M553.9 504.7h0M548.8 522.0h0M459.4 574.3h0M529.1 503.9h0M531.9 536.3h0M451.7 540.6h0M486.4 550.1h0M422.2 549.9h0M460.7 538.9h0M389.2 530.2h0M400.3 500.6h0M389.3 562.6h0M388.8 511.2h0M516.6 584.5h0M436.3 578.7h0M458.1 556.8h0M435.8 582.0h0M459.2 512.6h0M411.2 512.9h0M461.2 561.4h0M533.0 553.4h0M386.4 540.2h0M468.8 588.9h0M414.4 555.1h0M567.2 544.0h0M350.4 504.4h0M507.5 597.8h0M450.2 585.5h0M517.4 582.6h0M382.5 551.2h0M483.4 622.7h0M475.9 522.5h0M413.4 501.6h0M521.1 548.1h0M430.9 532.8h0M498.5 514.2h0M441.0 513.0h0M414.7 524.1h0M450.7 508.2h0M445.1 536.0h0M468.5 511.2h0M448.5 558.1h0M432.3 582.5h0M536.4 506.4h0M390.6 561.2h0M461.1 499.1h0M499.0 579.2h0M472.7 544.5h0M478.7 492.7h0M495.5 536.9h0M496.2 516.5h0M469.3 551.2h0M454.5 608.9h0M518.8 559.3h0M394.7 530.4h0M478.3 602.3h0M496.3 522.0h0M393.4 545.2h0M445.7 534.9h0M566.3 521.3h0M472.8 535.1h0M378.2 535.6h0M417.9 575.9h0M441.8 558.1h0M510.3 553.8h0M451.7 575.0h0M562.7 535.2h0M583.0 512.5h0M392.4 580.0h0M429.5 529.0h0M479.8 520.1h0M401.4 514.5h0M490.9 577.1h0M459.0 561.6h0M390.3 500.1h0M545.6 560.9h0M487.4 607.7h0M404.5 581.7h0M483.6 539.1h0M502.6 545.2h0M536.8 556.2h0M452.7 536.9h0M589.0 516.0h0M388.9 501.0h0M499.2 547.6h0M417.6 520.3h0M381.8 512.5h0M478.1 527.0h0M524.1 562.9h0M585.9 513.4h0M511.7 519.3h0M459.0 553.0h0M437.7 585.6h0M490.3 537.0h0M464.2 531.6h0M456.3 511.1h0M503.9 514.0h0M447.4 588.5h0M443.1 597.7h0M529.7 540.4h0M501.0 616.9h0M393.1 602.8h0M454.4 513.2h0M363.0 522.5h0M402.2 518.6h0M377.5 524.9h0M545.2 566.6h0M475.8 536.4h0M402.5 576.9h0M499.2 586.8h0M442.6 594.2h0M469.5 570.4h0M281.3 531.3h0M277.2 532.0h0M277.8 533.1h0M274.9 531.9h0M277.0 529.3h0M549.3 567.9h0M546.6 573.0h0M544.2 569.3h0M554.6 562.3h0M552.7 567.4h0M560.6 559.8h0M560.4 562.6h0M556.0 568.1h0M553.3 563.8h0M562.0 562.0h0M516.4 628.2h0M509.5 633.3h0M513.3 623.9h0M510.8 624.7h0M511.3 629.8h0M513.4 627.8h0M516.5 625.0h0M510.0 635.5h0M485.6 631.7h0M490.0 642.7h0M505.7 647.9h0M506.9 649.2h0M529.1 635.4h0M534.3 619.8h0M533.9 623.4h0M532.8 616.8h0M536.2 618.4h0M559.6 639.9h0M562.6 642.2h0M567.2 642.0h0M562.9 637.2h0M579.4 679.9h0M540.8 672.9h0M519.0 687.9h0M545.2 662.9h0M544.2 670.8h0M548.2 673.5h0M554.4 659.1h0M545.4 672.0h0M569.9 694.8h0M534.2 681.7h0M553.4 687.0h0M558.2 676.0h0M579.1 678.0h0M523.6 673.2h0M543.1 670.1h0M516.0 682.3h0M558.8 669.1h0M523.5 687.5h0M563.5 665.7h0M567.5 679.6h0M532.5 681.9h0M573.8 694.9h0M544.1 674.1h0M540.0 671.7h0M555.3 667.5h0M577.9 677.5h0M556.6 670.8h0M529.4 664.4h0M530.8 675.7h0M535.1 675.0h0M574.6 672.2h0M524.9 683.5h0M557.8 658.7h0M528.3 676.8h0M561.2 687.7h0M519.2 679.7h0M545.6 668.1h0M545.9 674.1h0M581.1 678.7h0M563.2 686.4h0M527.5 664.7h0M515.1 673.2h0M574.3 685.3h0M555.4 679.7h0M531.2 673.1h0M546.5 682.4h0M556.4 660.5h0M578.7 690.7h0M532.0 662.7h0M544.9 669.4h0M531.9 685.0h0M541.8 654.4h0M571.9 686.8h0M568.2 671.5h0M534.9 685.0h0M572.0 673.1h0M570.5 693.4h0M555.8 689.6h0M539.3 675.8h0M518.7 686.5h0M565.2 672.7h0M551.7 673.5h0M522.3 687.0h0M545.3 683.4h0M535.3 666.5h0M521.1 682.5h0M554.5 686.1h0M562.4 693.2h0M542.2 663.4h0M569.0 677.8h0M533.1 686.0h0M542.3 674.5h0M524.8 680.0h0M522.6 672.2h0M551.3 660.6h0M577.6 675.6h0M522.6 685.4h0M528.1 685.7h0M570.8 670.0h0M546.0 679.1h0M548.9 666.2h0M541.3 662.2h0M538.6 677.2h0M560.5 692.1h0M520.1 689.4h0M557.4 681.3h0M307.8 491.1h0M317.6 490.4h0M320.2 490.4h0"/>
</g>
<text x="316.51" y="385.38" font-size="36.77" fill="#fff" text-anchor="middle" textLength="144.21" lengthAdjust="spacingAndGlyphs" stroke="#fff" stroke-width="0.8" stroke-linejoin="miter" stroke-miterlimit="2" font-weight="bold">WORLD</text>
<rect x="190.8" y="513.0" width="53.0" height="88.0" fill="#1E6BCB"/>
<text x="215.89" y="497.69" font-size="44.80" fill="#fff" text-anchor="middle" textLength="66.90" lengthAdjust="spacingAndGlyphs" stroke="#fff" stroke-width="0.4" stroke-linejoin="miter" stroke-miterlimit="2" font-weight="bold">3.5</text>
<rect x="288.7" y="525.0" width="52.6" height="76.0" fill="#004B96"/>
<text x="315.63" y="510.89" font-size="44.80" fill="#fff" text-anchor="middle" textLength="69.37" lengthAdjust="spacingAndGlyphs" stroke="#fff" stroke-width="0.4" stroke-linejoin="miter" stroke-miterlimit="2" font-weight="bold">3.0</text>
<rect x="387.5" y="528.0" width="52.8" height="73.0" fill="#00093D"/>
<text x="415.46" y="514.69" font-size="44.80" fill="#fff" text-anchor="middle" textLength="66.76" lengthAdjust="spacingAndGlyphs" stroke="#fff" stroke-width="0.4" stroke-linejoin="miter" stroke-miterlimit="2" font-weight="bold">2.9</text>
<rect x="175.0" y="600.8" width="287.0" height="4.2" fill="#fff"/>
<text x="215.75" y="626.20" font-size="20.40" fill="#0A0F45" text-anchor="middle" textLength="58.22" lengthAdjust="spacingAndGlyphs" font-family="DejaVu Sans, Liberation Sans, sans-serif" font-weight="bold">2022</text>
<text x="313.68" y="626.20" font-size="20.40" fill="#0A0F45" text-anchor="middle" textLength="57.39" lengthAdjust="spacingAndGlyphs" font-family="DejaVu Sans, Liberation Sans, sans-serif" font-weight="bold">2023</text>
<text x="414.71" y="626.20" font-size="20.40" fill="#0A0F45" text-anchor="middle" textLength="57.55" lengthAdjust="spacingAndGlyphs" font-family="DejaVu Sans, Liberation Sans, sans-serif" font-weight="bold">2024</text>
<text x="314.91" y="716.49" font-size="26.33" fill="#fff" text-anchor="middle" textLength="420.26" lengthAdjust="spacingAndGlyphs" stroke="#009DDF" stroke-width="0.5">(real GDP growth, percent change)</text>
<text x="778.84" y="408.56" font-size="22.30" fill="#F6B81F" text-anchor="middle" textLength="204.08" lengthAdjust="spacingAndGlyphs" stroke="#F6B81F" stroke-width="0.5" stroke-linejoin="miter" stroke-miterlimit="2" font-family="DejaVu Sans, Liberation Sans, sans-serif" font-weight="bold">UNITED STATES</text>
<rect x="677.9" y="487.7" width="48.2" height="51.8" fill="#F2A900"/>
<text x="698.83" y="475.09" font-size="33.90" fill="#fff" text-anchor="middle" textLength="46.73" lengthAdjust="spacingAndGlyphs" stroke="#fff" stroke-width="0.3" stroke-linejoin="miter" stroke-miterlimit="2" font-weight="bold">2.1</text>
<rect x="755.8" y="487.9" width="48.2" height="51.6" fill="#E35205"/>
<text x="777.27" y="475.09" font-size="33.90" fill="#fff" text-anchor="middle" textLength="46.48" lengthAdjust="spacingAndGlyphs" stroke="#fff" stroke-width="0.3" stroke-linejoin="miter" stroke-miterlimit="2" font-weight="bold">2.1</text>
<rect x="830.9" y="502.3" width="48.2" height="37.2" fill="url(#dp1)"/>
<text x="855.19" y="491.69" font-size="33.90" fill="#fff" text-anchor="middle" textLength="51.18" lengthAdjust="spacingAndGlyphs" stroke="#fff" stroke-width="0.3" stroke-linejoin="miter" stroke-miterlimit="2" font-weight="bold">1.5</text>
<rect x="666.2" y="539.2" width="227.0" height="4.1" fill="#fff"/>
<text x="703.64" y="556.20" font-size="13.40" fill="#fff" text-anchor="middle" textLength="37.16" lengthAdjust="spacingAndGlyphs" font-family="DejaVu Sans, Liberation Sans, sans-serif" font-weight="bold">2022</text>
<text x="779.95" y="556.20" font-size="13.40" fill="#fff" text-anchor="middle" textLength="37.26" lengthAdjust="spacingAndGlyphs" font-family="DejaVu Sans, Liberation Sans, sans-serif" font-weight="bold">2023</text>
<text x="854.97" y="556.20" font-size="13.40" fill="#fff" text-anchor="middle" textLength="36.83" lengthAdjust="spacingAndGlyphs" font-family="DejaVu Sans, Liberation Sans, sans-serif" font-weight="bold">2024</text>
<text x="1130.71" y="347.76" font-size="22.30" fill="#F6B81F" text-anchor="middle" textLength="151.78" lengthAdjust="spacingAndGlyphs" stroke="#F6B81F" stroke-width="0.5" stroke-linejoin="miter" stroke-miterlimit="2" font-family="DejaVu Sans, Liberation Sans, sans-serif" font-weight="bold">EURO AREA</text>
<rect x="1028.6" y="409.2" width="47.8" height="83.5" fill="#F74F42"/>
<text x="1052.97" y="398.29" font-size="33.90" fill="#fff" text-anchor="middle" textLength="52.31" lengthAdjust="spacingAndGlyphs" stroke="#fff" stroke-width="0.3" stroke-linejoin="miter" stroke-miterlimit="2" font-weight="bold">3.3</text>
<rect x="1106.0" y="473.9" width="48.0" height="18.8" fill="url(#dp2)"/>
<text x="1130.92" y="463.29" font-size="33.90" fill="#fff" text-anchor="middle" textLength="52.28" lengthAdjust="spacingAndGlyphs" stroke="#fff" stroke-width="0.3" stroke-linejoin="miter" stroke-miterlimit="2" font-weight="bold">0.7</text>
<rect x="1180.4" y="463.0" width="48.1" height="29.7" fill="#C4160A"/>
<text x="1204.92" y="451.69" font-size="33.90" fill="#fff" text-anchor="middle" textLength="50.51" lengthAdjust="spacingAndGlyphs" stroke="#fff" stroke-width="0.3" stroke-linejoin="miter" stroke-miterlimit="2" font-weight="bold">1.2</text>
<rect x="1014.6" y="492.4" width="227.4" height="3.6" fill="#fff"/>
<text x="1052.58" y="510.00" font-size="13.40" fill="#fff" text-anchor="middle" textLength="37.41" lengthAdjust="spacingAndGlyphs" font-family="DejaVu Sans, Liberation Sans, sans-serif" font-weight="bold">2022</text>
<text x="1128.57" y="510.00" font-size="13.40" fill="#fff" text-anchor="middle" textLength="36.97" lengthAdjust="spacingAndGlyphs" font-family="DejaVu Sans, Liberation Sans, sans-serif" font-weight="bold">2023</text>
<text x="1203.95" y="510.00" font-size="13.40" fill="#fff" text-anchor="middle" textLength="36.49" lengthAdjust="spacingAndGlyphs" font-family="DejaVu Sans, Liberation Sans, sans-serif" font-weight="bold">2024</text>
<text x="1438.68" y="318.16" font-size="22.30" fill="#F6B81F" text-anchor="middle" textLength="242.61" lengthAdjust="spacingAndGlyphs" stroke="#F6B81F" stroke-width="0.5" stroke-linejoin="miter" stroke-miterlimit="2" font-family="DejaVu Sans, Liberation Sans, sans-serif" font-weight="bold">MIDDLE EAST AND</text>
<text x="1435.68" y="348.92" font-size="22.30" fill="#F6B81F" text-anchor="middle" textLength="187.54" lengthAdjust="spacingAndGlyphs" stroke="#F6B81F" stroke-width="0.5" stroke-linejoin="miter" stroke-miterlimit="2" font-family="DejaVu Sans, Liberation Sans, sans-serif" font-weight="bold">CENTRAL ASIA</text>
<rect x="1348.3" y="411.1" width="48.1" height="141.4" fill="#A2D077"/>
<text x="1373.36" y="400.09" font-size="33.90" fill="#fff" text-anchor="middle" textLength="53.07" lengthAdjust="spacingAndGlyphs" stroke="#fff" stroke-width="0.3" stroke-linejoin="miter" stroke-miterlimit="2" font-weight="bold">5.6</text>
<rect x="1423.9" y="501.7" width="48.1" height="50.8" fill="#78BE20"/>
<text x="1448.95" y="491.69" font-size="33.90" fill="#fff" text-anchor="middle" textLength="53.47" lengthAdjust="spacingAndGlyphs" stroke="#fff" stroke-width="0.3" stroke-linejoin="miter" stroke-miterlimit="2" font-weight="bold">2.0</text>
<rect x="1499.2" y="468.0" width="48.3" height="84.5" fill="#658D1B"/>
<text x="1523.81" y="456.49" font-size="33.90" fill="#fff" text-anchor="middle" textLength="51.52" lengthAdjust="spacingAndGlyphs" stroke="#fff" stroke-width="0.3" stroke-linejoin="miter" stroke-miterlimit="2" font-weight="bold">3.4</text>
<rect x="1334.4" y="552.2" width="227.8" height="3.7" fill="#fff"/>
<text x="1372.39" y="570.00" font-size="13.40" fill="#fff" text-anchor="middle" textLength="37.79" lengthAdjust="spacingAndGlyphs" font-family="DejaVu Sans, Liberation Sans, sans-serif" font-weight="bold">2022</text>
<text x="1448.03" y="570.00" font-size="13.40" fill="#fff" text-anchor="middle" textLength="37.67" lengthAdjust="spacingAndGlyphs" font-family="DejaVu Sans, Liberation Sans, sans-serif" font-weight="bold">2023</text>
<text x="1523.10" y="570.00" font-size="13.40" fill="#fff" text-anchor="middle" textLength="37.04" lengthAdjust="spacingAndGlyphs" font-family="DejaVu Sans, Liberation Sans, sans-serif" font-weight="bold">2024</text>
<text x="1737.79" y="359.36" font-size="22.30" fill="#F6B81F" text-anchor="middle" textLength="210.24" lengthAdjust="spacingAndGlyphs" stroke="#F6B81F" stroke-width="0.5" stroke-linejoin="miter" stroke-miterlimit="2" font-family="DejaVu Sans, Liberation Sans, sans-serif" font-weight="bold">EMERGING AND</text>
<text x="1735.90" y="392.16" font-size="22.30" fill="#F6B81F" text-anchor="middle" textLength="240.55" lengthAdjust="spacingAndGlyphs" stroke="#F6B81F" stroke-width="0.5" stroke-linejoin="miter" stroke-miterlimit="2" font-family="DejaVu Sans, Liberation Sans, sans-serif" font-weight="bold">DEVELOPING ASIA</text>
<rect x="1636.5" y="488.0" width="48.3" height="113.8" fill="#FBC54E"/>
<text x="1660.05" y="477.09" font-size="33.90" fill="#fff" text-anchor="middle" textLength="51.99" lengthAdjust="spacingAndGlyphs" stroke="#fff" stroke-width="0.3" stroke-linejoin="miter" stroke-miterlimit="2" font-weight="bold">4.5</text>
<rect x="1710.6" y="469.6" width="47.7" height="132.2" fill="#F2A900"/>
<text x="1734.57" y="459.09" font-size="33.90" fill="#fff" text-anchor="middle" textLength="51.48" lengthAdjust="spacingAndGlyphs" stroke="#fff" stroke-width="0.3" stroke-linejoin="miter" stroke-miterlimit="2" font-weight="bold">5.2</text>
<rect x="1786.4" y="480.0" width="48.0" height="121.8" fill="#DE7C00"/>
<text x="1810.82" y="469.69" font-size="33.90" fill="#fff" text-anchor="middle" textLength="52.52" lengthAdjust="spacingAndGlyphs" stroke="#fff" stroke-width="0.3" stroke-linejoin="miter" stroke-miterlimit="2" font-weight="bold">4.8</text>
<rect x="1621.7" y="601.5" width="227.6" height="3.8" fill="#fff"/>
<text x="1659.44" y="618.80" font-size="13.40" fill="#fff" text-anchor="middle" textLength="37.69" lengthAdjust="spacingAndGlyphs" font-family="DejaVu Sans, Liberation Sans, sans-serif" font-weight="bold">2022</text>
<text x="1734.92" y="618.80" font-size="13.40" fill="#fff" text-anchor="middle" textLength="37.68" lengthAdjust="spacingAndGlyphs" font-family="DejaVu Sans, Liberation Sans, sans-serif" font-weight="bold">2023</text>
<text x="1810.10" y="618.80" font-size="13.40" fill="#fff" text-anchor="middle" textLength="37.04" lengthAdjust="spacingAndGlyphs" font-family="DejaVu Sans, Liberation Sans, sans-serif" font-weight="bold">2024</text>
<text x="926.63" y="646.49" font-size="22.30" fill="#F6B81F" text-anchor="middle" textLength="273.00" lengthAdjust="spacingAndGlyphs" stroke="#F6B81F" stroke-width="0.5" stroke-linejoin="miter" stroke-miterlimit="2" font-family="DejaVu Sans, Liberation Sans, sans-serif" font-weight="bold">LATIN AMERICA AND</text>
<text x="927.57" y="676.36" font-size="22.30" fill="#F6B81F" text-anchor="middle" textLength="208.61" lengthAdjust="spacingAndGlyphs" stroke="#F6B81F" stroke-width="0.5" stroke-linejoin="miter" stroke-miterlimit="2" font-family="DejaVu Sans, Liberation Sans, sans-serif" font-weight="bold">THE CARIBBEAN</text>
<rect x="823.9" y="753.3" width="48.0" height="102.7" fill="#C966FF"/>
<text x="845.77" y="742.49" font-size="33.90" fill="#fff" text-anchor="middle" textLength="48.09" lengthAdjust="spacingAndGlyphs" stroke="#fff" stroke-width="0.3" stroke-linejoin="miter" stroke-miterlimit="2" font-weight="bold">4.1</text>
<rect x="900.9" y="797.9" width="47.9" height="58.1" fill="#A813F2"/>
<text x="925.57" y="788.69" font-size="33.90" fill="#fff" text-anchor="middle" textLength="51.47" lengthAdjust="spacingAndGlyphs" stroke="#fff" stroke-width="0.3" stroke-linejoin="miter" stroke-miterlimit="2" font-weight="bold">2.3</text>
<rect x="976.8" y="797.9" width="48.2" height="58.1" fill="#8031A7"/>
<text x="1001.22" y="788.69" font-size="33.90" fill="#fff" text-anchor="middle" textLength="52.45" lengthAdjust="spacingAndGlyphs" stroke="#fff" stroke-width="0.3" stroke-linejoin="miter" stroke-miterlimit="2" font-weight="bold">2.3</text>
<rect x="811.0" y="855.7" width="228.0" height="3.9" fill="#fff"/>
<text x="849.44" y="873.60" font-size="13.40" fill="#fff" text-anchor="middle" textLength="37.69" lengthAdjust="spacingAndGlyphs" font-family="DejaVu Sans, Liberation Sans, sans-serif" font-weight="bold">2022</text>
<text x="925.30" y="873.60" font-size="13.40" fill="#fff" text-anchor="middle" textLength="37.55" lengthAdjust="spacingAndGlyphs" font-family="DejaVu Sans, Liberation Sans, sans-serif" font-weight="bold">2023</text>
<text x="1001.07" y="873.60" font-size="13.40" fill="#fff" text-anchor="middle" textLength="37.28" lengthAdjust="spacingAndGlyphs" font-family="DejaVu Sans, Liberation Sans, sans-serif" font-weight="bold">2024</text>
<text x="1319.01" y="648.27" font-size="22.30" fill="#F6B81F" text-anchor="middle" textLength="295.18" lengthAdjust="spacingAndGlyphs" stroke="#F6B81F" stroke-width="0.5" stroke-linejoin="miter" stroke-miterlimit="2" font-family="DejaVu Sans, Liberation Sans, sans-serif" font-weight="bold">SUB-SAHARAN AFRICA</text>
<rect x="1220.0" y="707.8" width="47.8" height="101.8" fill="#17EAF3"/>
<text x="1243.00" y="697.09" font-size="33.90" fill="#fff" text-anchor="middle" textLength="53.36" lengthAdjust="spacingAndGlyphs" stroke="#fff" stroke-width="0.3" stroke-linejoin="miter" stroke-miterlimit="2" font-weight="bold">4.0</text>
<rect x="1296.0" y="726.0" width="48.0" height="83.6" fill="#00B2BC"/>
<text x="1319.92" y="714.89" font-size="33.90" fill="#fff" text-anchor="middle" textLength="52.48" lengthAdjust="spacingAndGlyphs" stroke="#fff" stroke-width="0.3" stroke-linejoin="miter" stroke-miterlimit="2" font-weight="bold">3.3</text>
<rect x="1371.1" y="707.8" width="47.8" height="101.8" fill="#0285AD"/>
<text x="1395.63" y="696.49" font-size="33.90" fill="#fff" text-anchor="middle" textLength="52.05" lengthAdjust="spacingAndGlyphs" stroke="#fff" stroke-width="0.3" stroke-linejoin="miter" stroke-miterlimit="2" font-weight="bold">4.0</text>
<rect x="1205.6" y="809.3" width="227.7" height="3.6" fill="#fff"/>
<text x="1244.01" y="827.60" font-size="13.40" fill="#fff" text-anchor="middle" textLength="37.58" lengthAdjust="spacingAndGlyphs" font-family="DejaVu Sans, Liberation Sans, sans-serif" font-weight="bold">2022</text>
<text x="1320.03" y="827.60" font-size="13.40" fill="#fff" text-anchor="middle" textLength="37.67" lengthAdjust="spacingAndGlyphs" font-family="DejaVu Sans, Liberation Sans, sans-serif" font-weight="bold">2023</text>
<text x="1394.86" y="827.60" font-size="13.40" fill="#fff" text-anchor="middle" textLength="36.98" lengthAdjust="spacingAndGlyphs" font-family="DejaVu Sans, Liberation Sans, sans-serif" font-weight="bold">2024</text>
<text x="91.27" y="1043.42" font-size="28.93" fill="#fff" text-anchor="middle" textLength="110.68" lengthAdjust="spacingAndGlyphs" stroke="#fff" stroke-width="0.9" stroke-linejoin="miter" stroke-miterlimit="2" font-weight="bold">IMF.org</text>
<text x="216.46" y="1043.38" font-size="28.16" fill="#E2A724" text-anchor="middle" textLength="90.02" lengthAdjust="spacingAndGlyphs" stroke="#E2A724" stroke-width="0.9" stroke-linejoin="miter" stroke-miterlimit="2" font-weight="bold">#WEO</text>
<text x="912.42" y="1015.20" font-size="22.19" fill="#fff" text-anchor="middle" textLength="490.25" lengthAdjust="spacingAndGlyphs" stroke="url(#bgu)" stroke-width="0.4">Source:  IMF, <tspan font-style="italic">World Economic Outlook</tspan>, October 2023.</text>
<text x="1150.81" y="1044.44" font-size="20.42" fill="#fff" text-anchor="middle" textLength="962.28" lengthAdjust="spacingAndGlyphs" stroke="url(#bgu)" stroke-width="0.4">Note:  Order of bars for each group indicates (left to right): 2022, 2023 projections, and 2024 projections.</text>
</svg>
</body></html>
